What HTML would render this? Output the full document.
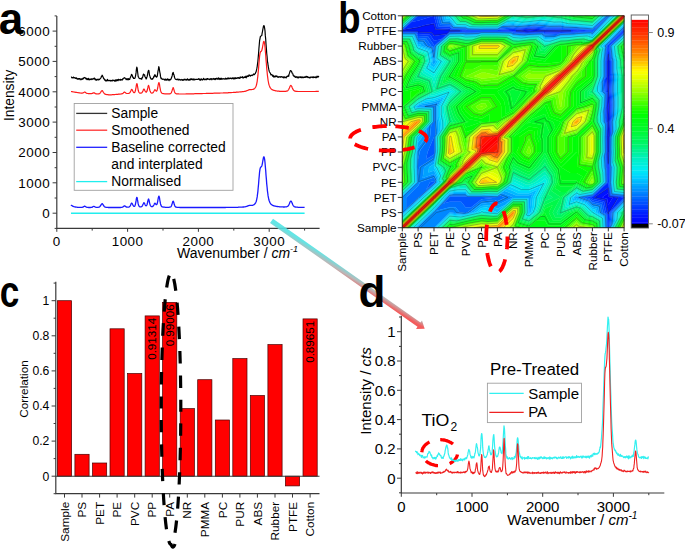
<!DOCTYPE html><html><head><meta charset="utf-8"><style>html,body{margin:0;padding:0;background:#fff;width:685px;height:550px;overflow:hidden}svg{display:block}text{font-family:"Liberation Sans",sans-serif;fill:#000}</style></head><body>
<svg width="685" height="550" viewBox="0 0 685 550">
<rect width="685" height="550" fill="#fff"/>
<g stroke="#3a3a3a" stroke-width="1.2" fill="none">
<path d="M56.8,15.9V228.4H319.6"/>
<path stroke-width="1" d="M52.6,213.2H56.8M52.6,182.8H56.8M52.6,152.5H56.8M52.6,122.1H56.8M52.6,91.8H56.8M52.6,61.4H56.8M52.6,31.1H56.8M54.6,228.4H56.8M54.6,198.0H56.8M54.6,167.7H56.8M54.6,137.3H56.8M54.6,107.0H56.8M54.6,76.6H56.8M54.6,46.3H56.8M54.6,15.9H56.8M56.8,228.4V231.8M127.6,228.4V231.8M198.4,228.4V231.8M269.2,228.4V231.8M92.2,228.4V230.6M163.0,228.4V230.6M233.8,228.4V230.6M304.6,228.4V230.6"/>
</g>
<g font-size="13.4" letter-spacing="0.5" text-anchor="end">
<text x="50.1" y="218.0">0</text>
<text x="50.1" y="187.7">1000</text>
<text x="50.1" y="157.3">2000</text>
<text x="50.1" y="126.9">3000</text>
<text x="50.1" y="96.6">4000</text>
<text x="50.1" y="66.2">5000</text>
<text x="50.1" y="35.9">6000</text>
</g><g font-size="13.4" letter-spacing="0.5" text-anchor="middle">
<text x="56.8" y="246.4">0</text>
<text x="127.6" y="246.4">1000</text>
<text x="198.4" y="246.4">2000</text>
<text x="269.2" y="246.4">3000</text>
</g>
<text x="177" y="257.7" font-size="14">Wavenumber / <tspan font-style="italic">cm</tspan><tspan font-size="9" dy="-5.5" font-style="italic">-1</tspan></text>
<text transform="translate(13.9,95.4) rotate(-90)" font-size="13.8" text-anchor="middle">Intensity</text>
<path fill="none" stroke="#000" stroke-width="1.2" stroke-linejoin="round" d="M71.0,77.2L71.3,77.1 71.7,77.4 72.0,77.8 72.4,77.6 72.7,77.9 73.1,77.5 73.4,77.1 73.8,77.9 74.1,78.0 74.5,77.6 74.9,77.7 75.2,77.9 75.6,78.4 75.9,78.1 76.3,77.8 76.6,78.7 77.0,78.4 77.3,79.1 77.7,78.9 78.0,79.2 78.4,78.6 78.7,79.1 79.1,78.5 79.5,78.6 79.8,78.8 80.2,79.8 80.5,79.0 80.9,78.9 81.2,78.8 81.6,79.6 81.9,79.1 82.3,79.3 82.6,79.1 83.0,78.2 83.3,78.8 83.7,78.2 84.1,77.5 84.4,77.8 84.8,77.6 85.1,77.7 85.5,78.0 85.8,78.9 86.2,78.7 86.5,78.3 86.9,79.7 87.2,78.8 87.6,79.2 88.0,79.5 88.3,78.4 88.7,79.0 89.0,79.9 89.4,79.3 89.7,79.1 90.1,79.5 90.4,79.1 90.8,79.4 91.1,79.1 91.5,78.8 91.8,79.6 92.2,79.1 92.6,79.2 92.9,78.7 93.3,79.0 93.6,78.6 94.0,78.4 94.3,78.1 94.7,78.3 95.0,79.6 95.4,79.7 95.7,79.2 96.1,80.4 96.4,79.8 96.8,79.7 97.2,79.2 97.5,79.4 97.9,79.9 98.2,79.9 98.6,79.8 98.9,79.0 99.3,79.7 99.6,79.4 100.0,78.9 100.3,78.6 100.7,78.1 101.0,77.7 101.4,76.5 101.8,76.1 102.1,75.2 102.5,75.7 102.8,76.6 103.2,77.1 103.5,78.3 103.9,78.4 104.2,79.3 104.6,79.4 104.9,80.4 105.3,79.9 105.7,80.8 106.0,81.1 106.4,80.4 106.7,80.7 107.1,80.3 107.4,79.4 107.8,80.8 108.1,80.7 108.5,80.4 108.8,80.3 109.2,80.6 109.5,80.7 109.9,80.3 110.3,80.4 110.6,81.0 111.0,80.6 111.3,80.5 111.7,80.9 112.0,80.4 112.4,80.8 112.7,80.0 113.1,80.3 113.4,80.3 113.8,80.6 114.1,80.4 114.5,81.1 114.9,80.7 115.2,80.1 115.6,81.1 115.9,79.8 116.3,80.9 116.6,79.8 117.0,80.5 117.3,79.7 117.7,80.0 118.0,80.7 118.4,79.4 118.8,79.3 119.1,79.9 119.5,80.0 119.8,79.9 120.2,80.2 120.5,79.3 120.9,80.0 121.2,79.7 121.6,80.0 121.9,79.8 122.3,80.0 122.6,78.8 123.0,79.1 123.4,78.3 123.7,78.2 124.1,78.1 124.4,77.7 124.8,77.9 125.1,78.0 125.5,78.6 125.8,78.9 126.2,79.6 126.5,79.5 126.9,78.5 127.2,79.6 127.6,79.7 128.0,79.1 128.3,78.6 128.7,79.8 129.0,79.2 129.4,79.2 129.7,79.4 130.1,77.9 130.4,77.5 130.8,76.5 131.1,75.7 131.5,74.4 131.8,74.7 132.2,75.2 132.6,76.6 132.9,77.7 133.3,77.3 133.6,78.5 134.0,78.3 134.3,78.5 134.7,78.4 135.0,78.0 135.4,76.5 135.7,75.1 136.1,72.4 136.4,69.4 136.8,67.1 137.2,68.2 137.5,71.0 137.9,74.3 138.2,76.8 138.6,77.1 138.9,77.8 139.3,78.6 139.6,78.5 140.0,78.5 140.3,78.5 140.7,78.5 141.1,79.1 141.4,78.2 141.8,79.2 142.1,77.9 142.5,77.5 142.8,76.5 143.2,74.9 143.5,74.0 143.9,74.5 144.2,75.0 144.6,74.8 144.9,76.7 145.3,77.2 145.7,77.5 146.0,78.8 146.4,78.9 146.7,77.5 147.1,76.7 147.4,75.3 147.8,73.2 148.1,71.4 148.5,70.4 148.8,70.4 149.2,72.7 149.5,75.3 149.9,76.1 150.3,77.6 150.6,78.1 151.0,79.0 151.3,79.0 151.7,79.3 152.0,79.2 152.4,78.7 152.7,79.0 153.1,78.3 153.4,77.8 153.8,76.4 154.2,76.9 154.5,75.0 154.9,74.8 155.2,75.0 155.6,76.3 155.9,76.7 156.3,76.7 156.6,77.2 157.0,76.7 157.3,75.8 157.7,73.2 158.0,71.1 158.4,69.2 158.8,66.7 159.1,67.5 159.5,70.3 159.8,72.1 160.2,73.9 160.5,76.4 160.9,78.1 161.2,78.7 161.6,78.3 161.9,78.9 162.3,79.1 162.6,79.3 163.0,79.3 163.4,79.1 163.7,79.2 164.1,79.4 164.4,80.0 164.8,79.3 165.1,79.9 165.5,79.1 165.8,80.2 166.2,79.7 166.5,79.6 166.9,80.2 167.2,78.9 167.6,79.0 168.0,79.8 168.3,79.3 168.7,79.5 169.0,80.7 169.4,79.5 169.7,79.6 170.1,79.4 170.4,79.8 170.8,79.3 171.1,78.9 171.5,77.7 171.8,77.1 172.2,75.7 172.6,73.3 172.9,72.8 173.3,72.5 173.6,74.4 174.0,74.7 174.3,76.5 174.7,77.7 175.0,78.5 175.4,79.1 175.7,79.2 176.1,79.5 176.5,79.6 176.8,79.5 177.2,79.0 177.5,79.4 177.9,79.7 178.2,79.9 178.6,80.0 178.9,79.0 179.3,79.5 179.6,79.7 180.0,79.9 180.3,80.2 180.7,79.7 181.1,79.4 181.4,79.9 181.8,79.8 182.1,79.8 182.5,79.7 182.8,80.4 183.2,79.8 183.5,80.1 183.9,79.3 184.2,80.0 184.6,79.5 184.9,79.1 185.3,79.8 185.7,79.9 186.0,79.6 186.4,79.7 186.7,80.1 187.1,79.5 187.4,78.8 187.8,79.8 188.1,79.7 188.5,80.1 188.8,79.5 189.2,80.1 189.6,80.1 189.9,79.1 190.3,80.0 190.6,79.1 191.0,78.9 191.3,79.5 191.7,79.3 192.0,78.7 192.4,79.6 192.7,79.8 193.1,80.1 193.4,79.5 193.8,78.9 194.2,79.1 194.5,79.9 194.9,79.8 195.2,79.7 195.6,79.3 195.9,79.5 196.3,79.3 196.6,79.3 197.0,79.5 197.3,79.4 197.7,79.3 198.0,79.4 198.4,79.2 198.8,78.6 199.1,79.1 199.5,79.3 199.8,80.1 200.2,79.2 200.5,80.2 200.9,79.9 201.2,78.9 201.6,79.0 201.9,79.4 202.3,80.0 202.6,79.4 203.0,79.6 203.4,79.0 203.7,78.3 204.1,79.1 204.4,79.6 204.8,79.7 205.1,79.2 205.5,79.3 205.8,79.7 206.2,79.1 206.5,79.7 206.9,78.7 207.2,78.7 207.6,78.7 208.0,79.3 208.3,78.9 208.7,79.2 209.0,79.3 209.4,79.2 209.7,79.6 210.1,79.7 210.4,78.7 210.8,79.1 211.1,79.0 211.5,78.6 211.9,79.8 212.2,79.3 212.6,78.9 212.9,78.8 213.3,79.1 213.6,78.5 214.0,78.9 214.3,79.5 214.7,79.3 215.0,78.6 215.4,78.7 215.7,79.7 216.1,78.3 216.5,78.6 216.8,78.3 217.2,79.0 217.5,79.0 217.9,79.3 218.2,77.8 218.6,78.9 218.9,78.1 219.3,79.1 219.6,78.7 220.0,79.5 220.3,78.9 220.7,78.3 221.1,79.3 221.4,78.3 221.8,78.6 222.1,79.2 222.5,78.9 222.8,78.9 223.2,78.7 223.5,78.9 223.9,79.0 224.2,78.8 224.6,79.1 224.9,79.2 225.3,78.6 225.7,78.2 226.0,79.2 226.4,78.6 226.7,78.8 227.1,79.0 227.4,78.2 227.8,78.7 228.1,77.9 228.5,78.8 228.8,78.3 229.2,78.5 229.6,78.7 229.9,78.1 230.3,78.4 230.6,78.1 231.0,78.3 231.3,78.8 231.7,78.3 232.0,78.2 232.4,77.8 232.7,78.6 233.1,78.2 233.4,78.9 233.8,77.9 234.2,78.6 234.5,78.8 234.9,78.1 235.2,77.6 235.6,78.7 235.9,78.4 236.3,78.3 236.6,78.4 237.0,77.7 237.3,78.2 237.7,78.2 238.0,77.6 238.4,78.1 238.8,77.6 239.1,78.1 239.5,78.2 239.8,78.4 240.2,76.8 240.5,77.7 240.9,77.5 241.2,77.5 241.6,77.4 241.9,77.4 242.3,76.6 242.6,77.8 243.0,78.0 243.4,77.7 243.7,77.8 244.1,76.9 244.4,76.8 244.8,77.4 245.1,77.5 245.5,77.0 245.8,76.2 246.2,77.8 246.5,76.3 246.9,76.8 247.3,75.8 247.6,76.5 248.0,76.0 248.3,76.4 248.7,76.0 249.0,74.9 249.4,75.0 249.7,75.5 250.1,75.7 250.4,76.1 250.8,75.4 251.1,75.3 251.5,75.3 251.9,75.2 252.2,75.6 252.6,75.1 252.9,75.0 253.3,74.4 253.6,74.0 254.0,74.6 254.3,74.7 254.7,74.0 255.0,73.9 255.4,73.4 255.7,72.4 256.1,71.9 256.5,70.0 256.8,68.7 257.2,66.5 257.5,64.1 257.9,61.1 258.2,57.5 258.6,53.1 258.9,48.8 259.3,44.3 259.6,40.7 260.0,38.6 260.4,36.4 260.7,36.4 261.1,35.9 261.4,35.5 261.8,35.5 262.1,33.4 262.5,31.5 262.8,29.6 263.2,27.6 263.5,26.0 263.9,25.6 264.2,25.9 264.6,28.0 265.0,30.8 265.3,35.4 265.7,39.3 266.0,44.1 266.4,48.8 266.7,53.2 267.1,56.7 267.4,61.1 267.8,63.1 268.1,65.7 268.5,67.8 268.8,69.4 269.2,71.2 269.6,72.0 269.9,72.5 270.3,73.2 270.6,73.8 271.0,75.0 271.3,74.5 271.7,74.5 272.0,74.8 272.4,75.3 272.7,76.3 273.1,75.3 273.4,75.9 273.8,77.1 274.2,76.0 274.5,76.9 274.9,76.9 275.2,76.7 275.6,75.9 275.9,76.7 276.3,76.5 276.6,75.9 277.0,76.0 277.3,76.8 277.7,76.9 278.1,77.4 278.4,77.2 278.8,76.7 279.1,76.8 279.5,76.9 279.8,76.6 280.2,77.3 280.5,77.0 280.9,76.7 281.2,76.8 281.6,76.6 281.9,76.9 282.3,77.2 282.7,76.9 283.0,77.5 283.4,77.8 283.7,76.8 284.1,77.1 284.4,76.9 284.8,77.8 285.1,77.2 285.5,77.3 285.8,77.3 286.2,77.9 286.5,77.0 286.9,76.4 287.3,76.4 287.6,76.6 288.0,76.1 288.3,75.3 288.7,76.3 289.0,74.5 289.4,73.4 289.7,72.4 290.1,71.1 290.4,70.7 290.8,70.7 291.1,70.9 291.5,71.2 291.9,72.6 292.2,73.3 292.6,73.7 292.9,74.0 293.3,75.6 293.6,76.0 294.0,76.2 294.3,76.0 294.7,76.8 295.0,76.2 295.4,77.4 295.8,77.1 296.1,77.1 296.5,76.8 296.8,76.7 297.2,77.8 297.5,77.6 297.9,77.0 298.2,77.5 298.6,77.9 298.9,76.8 299.3,77.0 299.6,77.0 300.0,77.5 300.4,76.8 300.7,77.4 301.1,76.8 301.4,77.7 301.8,77.6 302.1,77.2 302.5,77.6 302.8,77.0 303.2,77.2 303.5,77.7 303.9,77.2 304.2,77.4 304.6,76.9 305.0,77.5 305.3,77.5 305.7,76.8 306.0,76.3 306.4,76.4 306.7,77.2 307.1,77.2 307.4,76.6 307.8,77.3 308.1,77.7 308.5,77.2 308.8,77.1 309.2,77.6 309.6,77.9 309.9,77.9 310.3,77.0 310.6,77.6 311.0,77.3 311.3,77.1 311.7,77.0 312.0,77.4 312.4,77.0 312.7,77.6 313.1,77.4 313.5,77.6 313.8,76.7 314.2,77.2 314.5,77.5 314.9,77.3 315.2,77.3 315.6,76.9 315.9,77.9 316.3,77.6 316.6,77.3 317.0,76.1 317.3,76.8 317.7,77.2 318.1,76.9 318.4,76.3 318.8,77.2"/>
<path fill="none" stroke="#ff1a1a" stroke-width="1.2" stroke-linejoin="round" d="M71.0,91.5L71.3,91.5 71.7,91.6 72.0,91.7 72.4,91.7 72.7,91.8 73.1,91.8 73.4,91.9 73.8,92.0 74.1,92.0 74.5,92.1 74.9,92.1 75.2,92.2 75.6,92.3 75.9,92.3 76.3,92.4 76.6,92.4 77.0,92.5 77.3,92.5 77.7,92.6 78.0,92.7 78.4,92.7 78.7,92.8 79.1,92.8 79.5,92.9 79.8,92.9 80.2,93.0 80.5,93.0 80.9,93.1 81.2,93.1 81.6,93.2 81.9,93.2 82.3,93.1 82.6,93.0 83.0,92.9 83.3,92.7 83.7,92.5 84.1,92.3 84.4,92.1 84.8,92.0 85.1,92.2 85.5,92.4 85.8,92.7 86.2,93.0 86.5,93.2 86.9,93.3 87.2,93.4 87.6,93.5 88.0,93.5 88.3,93.6 88.7,93.6 89.0,93.6 89.4,93.6 89.7,93.6 90.1,93.7 90.4,93.7 90.8,93.7 91.1,93.7 91.5,93.6 91.8,93.5 92.2,93.4 92.6,93.3 92.9,93.1 93.3,92.9 93.6,92.8 94.0,92.8 94.3,92.9 94.7,93.1 95.0,93.4 95.4,93.6 95.7,93.7 96.1,93.8 96.4,93.9 96.8,93.9 97.2,93.9 97.5,94.0 97.9,94.0 98.2,93.9 98.6,93.9 98.9,93.8 99.3,93.7 99.6,93.5 100.0,93.2 100.3,92.8 100.7,92.3 101.0,91.7 101.4,91.2 101.8,90.8 102.1,90.6 102.5,90.8 102.8,91.3 103.2,91.9 103.5,92.5 103.9,93.0 104.2,93.5 104.6,93.8 104.9,94.1 105.3,94.2 105.7,94.4 106.0,94.4 106.4,94.5 106.7,94.6 107.1,94.6 107.4,94.7 107.8,94.7 108.1,94.7 108.5,94.8 108.8,94.8 109.2,94.8 109.5,94.8 109.9,94.9 110.3,94.8 110.6,94.8 111.0,94.8 111.3,94.8 111.7,94.8 112.0,94.7 112.4,94.7 112.7,94.7 113.1,94.7 113.4,94.6 113.8,94.6 114.1,94.6 114.5,94.6 114.9,94.5 115.2,94.5 115.6,94.5 115.9,94.4 116.3,94.4 116.6,94.4 117.0,94.4 117.3,94.3 117.7,94.3 118.0,94.3 118.4,94.2 118.8,94.2 119.1,94.2 119.5,94.1 119.8,94.1 120.2,94.1 120.5,94.0 120.9,94.0 121.2,93.9 121.6,93.9 121.9,93.8 122.3,93.7 122.6,93.5 123.0,93.3 123.4,93.0 123.7,92.6 124.1,92.3 124.4,92.1 124.8,92.2 125.1,92.4 125.5,92.7 125.8,93.0 126.2,93.3 126.5,93.4 126.9,93.5 127.2,93.5 127.6,93.5 128.0,93.5 128.3,93.5 128.7,93.4 129.0,93.3 129.4,93.1 129.7,92.8 130.1,92.4 130.4,91.7 130.8,90.9 131.1,90.1 131.5,89.5 131.8,89.4 132.2,89.9 132.6,90.6 132.9,91.4 133.3,92.0 133.6,92.4 134.0,92.6 134.3,92.6 134.7,92.4 135.0,91.8 135.4,90.8 135.7,89.2 136.1,87.1 136.4,84.9 136.8,83.6 137.2,84.2 137.5,86.2 137.9,88.4 138.2,90.3 138.6,91.5 138.9,92.3 139.3,92.7 139.6,92.9 140.0,93.1 140.3,93.1 140.7,93.1 141.1,93.1 141.4,93.0 141.8,92.8 142.1,92.4 142.5,91.9 142.8,91.2 143.2,90.3 143.5,89.5 143.9,89.0 144.2,89.2 144.6,89.9 144.9,90.7 145.3,91.4 145.7,91.9 146.0,92.2 146.4,92.1 146.7,91.7 147.1,90.8 147.4,89.5 147.8,87.9 148.1,86.3 148.5,85.4 148.8,85.8 149.2,87.3 149.5,89.0 149.9,90.5 150.3,91.6 150.6,92.3 151.0,92.7 151.3,93.0 151.7,93.1 152.0,93.1 152.4,93.0 152.7,92.9 153.1,92.6 153.4,92.1 153.8,91.5 154.2,90.8 154.5,90.1 154.9,89.7 155.2,89.8 155.6,90.2 155.9,90.8 156.3,91.2 156.6,91.2 157.0,90.7 157.3,89.7 157.7,88.0 158.0,86.0 158.4,83.9 158.8,82.6 159.1,82.8 159.5,84.4 159.8,86.6 160.2,88.7 160.5,90.4 160.9,91.6 161.2,92.4 161.6,92.9 161.9,93.2 162.3,93.4 162.6,93.5 163.0,93.6 163.4,93.6 163.7,93.7 164.1,93.7 164.4,93.8 164.8,93.8 165.1,93.8 165.5,93.9 165.8,93.9 166.2,93.9 166.5,93.9 166.9,93.9 167.2,93.9 167.6,93.9 168.0,93.9 168.3,93.9 168.7,93.9 169.0,93.9 169.4,93.8 169.7,93.8 170.1,93.7 170.4,93.6 170.8,93.4 171.1,93.0 171.5,92.4 171.8,91.4 172.2,90.2 172.6,88.9 172.9,87.8 173.3,87.7 173.6,88.6 174.0,89.9 174.3,91.2 174.7,92.2 175.0,92.9 175.4,93.3 175.7,93.5 176.1,93.7 176.5,93.8 176.8,93.8 177.2,93.9 177.5,93.9 177.9,93.9 178.2,93.9 178.6,93.9 178.9,94.0 179.3,94.0 179.6,94.0 180.0,94.0 180.3,94.0 180.7,94.0 181.1,94.0 181.4,94.0 181.8,94.0 182.1,94.0 182.5,94.0 182.8,94.0 183.2,94.0 183.5,94.0 183.9,94.0 184.2,94.0 184.6,94.0 184.9,94.0 185.3,94.0 185.7,94.0 186.0,93.9 186.4,93.9 186.7,93.9 187.1,93.9 187.4,93.9 187.8,93.9 188.1,93.9 188.5,93.9 188.8,93.9 189.2,93.9 189.6,93.9 189.9,93.9 190.3,93.9 190.6,93.8 191.0,93.8 191.3,93.8 191.7,93.8 192.0,93.8 192.4,93.8 192.7,93.8 193.1,93.8 193.4,93.8 193.8,93.8 194.2,93.8 194.5,93.7 194.9,93.7 195.2,93.7 195.6,93.7 195.9,93.7 196.3,93.7 196.6,93.7 197.0,93.7 197.3,93.7 197.7,93.7 198.0,93.7 198.4,93.7 198.8,93.6 199.1,93.6 199.5,93.6 199.8,93.6 200.2,93.6 200.5,93.6 200.9,93.6 201.2,93.6 201.6,93.6 201.9,93.6 202.3,93.6 202.6,93.5 203.0,93.5 203.4,93.5 203.7,93.5 204.1,93.5 204.4,93.5 204.8,93.5 205.1,93.5 205.5,93.5 205.8,93.5 206.2,93.4 206.5,93.4 206.9,93.4 207.2,93.4 207.6,93.4 208.0,93.4 208.3,93.4 208.7,93.4 209.0,93.4 209.4,93.4 209.7,93.4 210.1,93.3 210.4,93.3 210.8,93.3 211.1,93.3 211.5,93.3 211.9,93.3 212.2,93.3 212.6,93.3 212.9,93.3 213.3,93.3 213.6,93.2 214.0,93.2 214.3,93.2 214.7,93.2 215.0,93.2 215.4,93.2 215.7,93.2 216.1,93.2 216.5,93.2 216.8,93.2 217.2,93.1 217.5,93.1 217.9,93.1 218.2,93.1 218.6,93.1 218.9,93.1 219.3,93.1 219.6,93.1 220.0,93.1 220.3,93.0 220.7,93.0 221.1,93.0 221.4,93.0 221.8,93.0 222.1,93.0 222.5,93.0 222.8,93.0 223.2,93.0 223.5,92.9 223.9,92.9 224.2,92.9 224.6,92.9 224.9,92.9 225.3,92.9 225.7,92.9 226.0,92.9 226.4,92.9 226.7,92.8 227.1,92.8 227.4,92.8 227.8,92.8 228.1,92.8 228.5,92.7 228.8,92.7 229.2,92.7 229.6,92.7 229.9,92.7 230.3,92.6 230.6,92.6 231.0,92.6 231.3,92.6 231.7,92.5 232.0,92.5 232.4,92.5 232.7,92.5 233.1,92.5 233.4,92.4 233.8,92.4 234.2,92.4 234.5,92.4 234.9,92.3 235.2,92.3 235.6,92.3 235.9,92.3 236.3,92.2 236.6,92.2 237.0,92.2 237.3,92.1 237.7,92.1 238.0,92.1 238.4,92.1 238.8,92.0 239.1,92.0 239.5,92.0 239.8,91.9 240.2,91.9 240.5,91.9 240.9,91.8 241.2,91.8 241.6,91.8 241.9,91.7 242.3,91.7 242.6,91.7 243.0,91.6 243.4,91.6 243.7,91.5 244.1,91.5 244.4,91.4 244.8,91.3 245.1,91.3 245.5,91.2 245.8,91.1 246.2,91.0 246.5,90.8 246.9,90.7 247.3,90.5 247.6,90.4 248.0,90.2 248.3,90.1 248.7,89.9 249.0,89.8 249.4,89.7 249.7,89.7 250.1,89.6 250.4,89.6 250.8,89.6 251.1,89.6 251.5,89.6 251.9,89.5 252.2,89.5 252.6,89.5 252.9,89.4 253.3,89.3 253.6,89.1 254.0,88.9 254.3,88.7 254.7,88.4 255.0,88.0 255.4,87.5 255.7,86.9 256.1,86.0 256.5,84.8 256.8,83.3 257.2,81.3 257.5,78.7 257.9,75.7 258.2,72.1 258.6,68.1 258.9,63.9 259.3,59.8 259.6,56.2 260.0,53.6 260.4,52.2 260.7,51.6 261.1,51.4 261.4,51.1 261.8,50.4 262.1,49.2 262.5,47.5 262.8,45.5 263.2,43.5 263.5,41.9 263.9,41.3 264.2,41.8 264.6,43.7 265.0,46.8 265.3,50.7 265.7,55.0 266.0,59.6 266.4,64.0 266.7,68.1 267.1,71.9 267.4,75.2 267.8,78.1 268.1,80.5 268.5,82.5 268.8,84.1 269.2,85.4 269.6,86.4 269.9,87.2 270.3,87.8 270.6,88.3 271.0,88.7 271.3,89.1 271.7,89.3 272.0,89.6 272.4,89.8 272.7,89.9 273.1,90.1 273.4,90.2 273.8,90.3 274.2,90.4 274.5,90.5 274.9,90.6 275.2,90.7 275.6,90.8 275.9,90.8 276.3,90.9 276.6,91.0 277.0,91.0 277.3,91.1 277.7,91.1 278.1,91.1 278.4,91.2 278.8,91.2 279.1,91.2 279.5,91.3 279.8,91.3 280.2,91.3 280.5,91.3 280.9,91.3 281.2,91.3 281.6,91.4 281.9,91.4 282.3,91.4 282.7,91.4 283.0,91.4 283.4,91.4 283.7,91.4 284.1,91.4 284.4,91.4 284.8,91.3 285.1,91.3 285.5,91.3 285.8,91.3 286.2,91.2 286.5,91.2 286.9,91.1 287.3,90.9 287.6,90.7 288.0,90.4 288.3,90.0 288.7,89.5 289.0,88.8 289.4,88.0 289.7,87.2 290.1,86.3 290.4,85.7 290.8,85.4 291.1,85.5 291.5,86.0 291.9,86.8 292.2,87.7 292.6,88.5 292.9,89.2 293.3,89.8 293.6,90.3 294.0,90.6 294.3,90.9 294.7,91.0 295.0,91.2 295.4,91.2 295.8,91.3 296.1,91.3 296.5,91.4 296.8,91.4 297.2,91.4 297.5,91.5 297.9,91.5 298.2,91.5 298.6,91.5 298.9,91.5 299.3,91.5 299.6,91.5 300.0,91.5 300.4,91.5 300.7,91.5 301.1,91.5 301.4,91.5 301.8,91.5 302.1,91.5 302.5,91.5 302.8,91.5 303.2,91.5 303.5,91.5 303.9,91.5 304.2,91.5 304.6,91.5 305.0,91.5 305.3,91.5 305.7,91.5 306.0,91.5 306.4,91.5 306.7,91.5 307.1,91.5 307.4,91.5 307.8,91.5 308.1,91.5 308.5,91.5 308.8,91.5 309.2,91.5 309.6,91.5 309.9,91.5 310.3,91.5 310.6,91.5 311.0,91.5 311.3,91.5 311.7,91.5 312.0,91.5 312.4,91.5 312.7,91.5 313.1,91.5 313.5,91.5 313.8,91.5 314.2,91.5 314.5,91.5 314.9,91.5 315.2,91.5 315.6,91.5 315.9,91.4 316.3,91.4 316.6,91.4 317.0,91.4 317.3,91.4 317.7,91.4 318.1,91.4 318.4,91.4 318.8,91.4"/>
<path fill="none" stroke="#1a1aff" stroke-width="1.3" stroke-linejoin="round" d="M71.0,204.9L71.3,205.2 71.7,205.5 72.0,205.7 72.4,205.9 72.7,206.1 73.1,206.3 73.4,206.4 73.8,206.6 74.1,206.7 74.5,206.8 74.9,206.9 75.2,207.0 75.6,207.0 75.9,207.1 76.3,207.2 76.6,207.2 77.0,207.2 77.3,207.3 77.7,207.3 78.0,207.3 78.4,207.4 78.7,207.4 79.1,207.4 79.5,207.4 79.8,207.4 80.2,207.4 80.5,207.4 80.9,207.4 81.2,207.4 81.6,207.4 81.9,207.4 82.3,207.3 82.6,207.2 83.0,207.1 83.3,206.9 83.7,206.6 84.1,206.4 84.4,206.2 84.8,206.1 85.1,206.3 85.5,206.5 85.8,206.8 86.2,207.0 86.5,207.2 86.9,207.3 87.2,207.4 87.6,207.4 88.0,207.4 88.3,207.5 88.7,207.5 89.0,207.5 89.4,207.5 89.7,207.5 90.1,207.5 90.4,207.5 90.8,207.4 91.1,207.4 91.5,207.3 91.8,207.3 92.2,207.1 92.6,207.0 92.9,206.7 93.3,206.5 93.6,206.4 94.0,206.4 94.3,206.5 94.7,206.7 95.0,206.9 95.4,207.1 95.7,207.2 96.1,207.3 96.4,207.3 96.8,207.3 97.2,207.3 97.5,207.3 97.9,207.3 98.2,207.3 98.6,207.2 98.9,207.1 99.3,207.0 99.6,206.7 100.0,206.4 100.3,206.0 100.7,205.5 101.0,204.9 101.4,204.3 101.8,203.9 102.1,203.7 102.5,203.9 102.8,204.3 103.2,204.9 103.5,205.5 103.9,206.0 104.2,206.4 104.6,206.8 104.9,207.0 105.3,207.1 105.7,207.2 106.0,207.3 106.4,207.4 106.7,207.4 107.1,207.4 107.4,207.4 107.8,207.4 108.1,207.5 108.5,207.5 108.8,207.5 109.2,207.5 109.5,207.5 109.9,207.5 110.3,207.5 110.6,207.5 111.0,207.5 111.3,207.5 111.7,207.5 112.0,207.5 112.4,207.5 112.7,207.5 113.1,207.5 113.4,207.5 113.8,207.5 114.1,207.5 114.5,207.5 114.9,207.5 115.2,207.5 115.6,207.5 115.9,207.5 116.3,207.5 116.6,207.5 117.0,207.5 117.3,207.5 117.7,207.5 118.0,207.5 118.4,207.5 118.8,207.5 119.1,207.5 119.5,207.5 119.8,207.5 120.2,207.5 120.5,207.5 120.9,207.4 121.2,207.4 121.6,207.4 121.9,207.3 122.3,207.2 122.6,207.1 123.0,206.9 123.4,206.6 123.7,206.3 124.1,206.0 124.4,205.8 124.8,205.9 125.1,206.1 125.5,206.4 125.8,206.7 126.2,206.9 126.5,207.1 126.9,207.2 127.2,207.2 127.6,207.2 128.0,207.2 128.3,207.2 128.7,207.1 129.0,207.0 129.4,206.8 129.7,206.5 130.1,206.1 130.4,205.4 130.8,204.6 131.1,203.8 131.5,203.2 131.8,203.1 132.2,203.6 132.6,204.3 132.9,205.1 133.3,205.7 133.6,206.1 134.0,206.3 134.3,206.3 134.7,206.1 135.0,205.5 135.4,204.5 135.7,202.9 136.1,200.7 136.4,198.6 136.8,197.3 137.2,197.9 137.5,199.9 137.9,202.1 138.2,203.9 138.6,205.2 138.9,206.0 139.3,206.4 139.6,206.6 140.0,206.8 140.3,206.8 140.7,206.8 141.1,206.8 141.4,206.7 141.8,206.5 142.1,206.1 142.5,205.6 142.8,204.8 143.2,204.0 143.5,203.1 143.9,202.7 144.2,202.9 144.6,203.5 144.9,204.3 145.3,205.1 145.7,205.6 146.0,205.8 146.4,205.7 146.7,205.3 147.1,204.5 147.4,203.2 147.8,201.5 148.1,199.9 148.5,199.0 148.8,199.4 149.2,200.9 149.5,202.6 149.9,204.1 150.3,205.2 150.6,205.9 151.0,206.3 151.3,206.5 151.7,206.6 152.0,206.7 152.4,206.6 152.7,206.4 153.1,206.2 153.4,205.7 153.8,205.1 154.2,204.3 154.5,203.6 154.9,203.2 155.2,203.3 155.6,203.8 155.9,204.3 156.3,204.7 156.6,204.7 157.0,204.2 157.3,203.2 157.7,201.6 158.0,199.5 158.4,197.4 158.8,196.1 159.1,196.3 159.5,197.9 159.8,200.1 160.2,202.2 160.5,203.9 160.9,205.1 161.2,205.9 161.6,206.4 161.9,206.6 162.3,206.8 162.6,206.9 163.0,207.0 163.4,207.1 163.7,207.1 164.1,207.2 164.4,207.2 164.8,207.2 165.1,207.3 165.5,207.3 165.8,207.3 166.2,207.3 166.5,207.3 166.9,207.3 167.2,207.3 167.6,207.3 168.0,207.3 168.3,207.3 168.7,207.3 169.0,207.3 169.4,207.2 169.7,207.2 170.1,207.1 170.4,207.0 170.8,206.8 171.1,206.4 171.5,205.8 171.8,204.8 172.2,203.6 172.6,202.3 172.9,201.3 173.3,201.2 173.6,202.0 174.0,203.3 174.3,204.6 174.7,205.6 175.0,206.3 175.4,206.7 175.7,207.0 176.1,207.1 176.5,207.2 176.8,207.3 177.2,207.3 177.5,207.3 177.9,207.4 178.2,207.4 178.6,207.4 178.9,207.4 179.3,207.4 179.6,207.5 180.0,207.5 180.3,207.5 180.7,207.5 181.1,207.5 181.4,207.5 181.8,207.5 182.1,207.5 182.5,207.5 182.8,207.5 183.2,207.5 183.5,207.5 183.9,207.5 184.2,207.5 184.6,207.5 184.9,207.5 185.3,207.5 185.7,207.5 186.0,207.5 186.4,207.5 186.7,207.5 187.1,207.5 187.4,207.5 187.8,207.5 188.1,207.5 188.5,207.5 188.8,207.5 189.2,207.5 189.6,207.5 189.9,207.5 190.3,207.5 190.6,207.5 191.0,207.5 191.3,207.5 191.7,207.5 192.0,207.5 192.4,207.5 192.7,207.5 193.1,207.5 193.4,207.5 193.8,207.5 194.2,207.5 194.5,207.5 194.9,207.5 195.2,207.5 195.6,207.5 195.9,207.5 196.3,207.5 196.6,207.5 197.0,207.5 197.3,207.5 197.7,207.5 198.0,207.5 198.4,207.5 198.8,207.5 199.1,207.5 199.5,207.5 199.8,207.5 200.2,207.5 200.5,207.5 200.9,207.5 201.2,207.5 201.6,207.5 201.9,207.5 202.3,207.5 202.6,207.5 203.0,207.5 203.4,207.5 203.7,207.5 204.1,207.5 204.4,207.5 204.8,207.5 205.1,207.5 205.5,207.5 205.8,207.5 206.2,207.5 206.5,207.5 206.9,207.5 207.2,207.5 207.6,207.5 208.0,207.5 208.3,207.5 208.7,207.5 209.0,207.5 209.4,207.5 209.7,207.5 210.1,207.5 210.4,207.5 210.8,207.5 211.1,207.5 211.5,207.5 211.9,207.5 212.2,207.5 212.6,207.5 212.9,207.5 213.3,207.5 213.6,207.5 214.0,207.5 214.3,207.5 214.7,207.5 215.0,207.5 215.4,207.5 215.7,207.5 216.1,207.5 216.5,207.5 216.8,207.5 217.2,207.5 217.5,207.5 217.9,207.5 218.2,207.5 218.6,207.5 218.9,207.5 219.3,207.5 219.6,207.5 220.0,207.5 220.3,207.5 220.7,207.5 221.1,207.5 221.4,207.5 221.8,207.5 222.1,207.5 222.5,207.5 222.8,207.5 223.2,207.5 223.5,207.5 223.9,207.5 224.2,207.5 224.6,207.5 224.9,207.5 225.3,207.5 225.7,207.5 226.0,207.4 226.4,207.4 226.7,207.4 227.1,207.4 227.4,207.4 227.8,207.4 228.1,207.4 228.5,207.4 228.8,207.4 229.2,207.4 229.6,207.4 229.9,207.4 230.3,207.4 230.6,207.4 231.0,207.4 231.3,207.4 231.7,207.4 232.0,207.4 232.4,207.4 232.7,207.4 233.1,207.4 233.4,207.4 233.8,207.4 234.2,207.3 234.5,207.3 234.9,207.3 235.2,207.3 235.6,207.3 235.9,207.3 236.3,207.3 236.6,207.3 237.0,207.3 237.3,207.3 237.7,207.3 238.0,207.3 238.4,207.2 238.8,207.2 239.1,207.2 239.5,207.2 239.8,207.2 240.2,207.2 240.5,207.2 240.9,207.1 241.2,207.1 241.6,207.1 241.9,207.1 242.3,207.1 242.6,207.0 243.0,207.0 243.4,207.0 243.7,207.0 244.1,206.9 244.4,206.9 244.8,206.8 245.1,206.8 245.5,206.7 245.8,206.6 246.2,206.5 246.5,206.4 246.9,206.3 247.3,206.2 247.6,206.0 248.0,205.9 248.3,205.7 248.7,205.6 249.0,205.5 249.4,205.4 249.7,205.4 250.1,205.4 250.4,205.4 250.8,205.4 251.1,205.4 251.5,205.4 251.9,205.4 252.2,205.3 252.6,205.3 252.9,205.2 253.3,205.0 253.6,204.9 254.0,204.7 254.3,204.4 254.7,204.1 255.0,203.8 255.4,203.2 255.7,202.6 256.1,201.7 256.5,200.5 256.8,198.9 257.2,196.9 257.5,194.4 257.9,191.3 258.2,187.8 258.6,183.7 258.9,179.5 259.3,175.4 259.6,171.8 260.0,169.2 260.4,167.7 260.7,167.1 261.1,166.9 261.4,166.7 261.8,166.0 262.1,164.8 262.5,163.0 262.8,161.0 263.2,159.0 263.5,157.4 263.9,156.8 264.2,157.3 264.6,159.2 265.0,162.3 265.3,166.1 265.7,170.5 266.0,175.0 266.4,179.4 266.7,183.6 267.1,187.3 267.4,190.6 267.8,193.5 268.1,195.9 268.5,197.9 268.8,199.5 269.2,200.8 269.6,201.8 269.9,202.6 270.3,203.2 270.6,203.7 271.0,204.1 271.3,204.5 271.7,204.7 272.0,205.0 272.4,205.2 272.7,205.4 273.1,205.5 273.4,205.6 273.8,205.8 274.2,205.9 274.5,206.0 274.9,206.1 275.2,206.2 275.6,206.2 275.9,206.3 276.3,206.4 276.6,206.4 277.0,206.5 277.3,206.5 277.7,206.6 278.1,206.6 278.4,206.7 278.8,206.7 279.1,206.7 279.5,206.8 279.8,206.8 280.2,206.8 280.5,206.8 280.9,206.9 281.2,206.9 281.6,206.9 281.9,206.9 282.3,206.9 282.7,206.9 283.0,206.9 283.4,207.0 283.7,207.0 284.1,207.0 284.4,207.0 284.8,206.9 285.1,206.9 285.5,206.9 285.8,206.9 286.2,206.8 286.5,206.8 286.9,206.7 287.3,206.5 287.6,206.3 288.0,206.1 288.3,205.7 288.7,205.1 289.0,204.5 289.4,203.7 289.7,202.8 290.1,202.0 290.4,201.4 290.8,201.1 291.1,201.2 291.5,201.7 291.9,202.5 292.2,203.4 292.6,204.2 292.9,205.0 293.3,205.6 293.6,206.0 294.0,206.4 294.3,206.6 294.7,206.8 295.0,206.9 295.4,207.0 295.8,207.1 296.1,207.1 296.5,207.2 296.8,207.2 297.2,207.2 297.5,207.2 297.9,207.3 298.2,207.3 298.6,207.3 298.9,207.3 299.3,207.3 299.6,207.3 300.0,207.4 300.4,207.4 300.7,207.4 301.1,207.4 301.4,207.4 301.8,207.4 302.1,207.4 302.5,207.4 302.8,207.4 303.2,207.4 303.5,207.4 303.9,207.4 304.2,207.4 304.6,207.4"/>
<path fill="none" stroke="#22eeee" stroke-width="1.4" d="M71.0,213.2H304.6"/>
<rect x="74.2" y="103.5" width="158.8" height="86.8" fill="#fff" stroke="#a0a0a0" stroke-width="0.9"/>
<path d="M76.2,113.4H107.2" stroke="#333" stroke-width="1.3"/>
<path d="M76.2,130.2H107.2" stroke="#ff3030" stroke-width="1.3"/>
<path d="M76.2,147.3H107.2" stroke="#2020ff" stroke-width="1.3"/>
<path d="M76.2,181.6H107.2" stroke="#20eeee" stroke-width="1.3"/>
<g font-size="13.8">
<text x="111.3" y="117.9">Sample</text>
<text x="111.3" y="134.8">Smoothened</text>
<text x="111.3" y="151.8">Baseline corrected</text>
<text x="111.3" y="168.8">and interplated</text>
<text x="111.3" y="186.0">Normalised</text>
</g>
<g>
<path fill-rule="evenodd" fill="#0004ff" stroke="#0004ff" stroke-width="0.3" d="M607.1,198.6 601.9,197.4 608.3,193.1 608.7,197.0 612.8,197.4 608.3,205.0 607.1,198.6ZM608.3,152.0 608.3,152.0 608.0,137.1 608.0,136.9 608.3,129.3 608.6,136.6 608.5,136.9 608.3,152.0 608.3,152.0 608.3,152.0 608.3,152.0ZM607.9,106.9 608.0,106.6 608.3,101.5 608.6,106.2 608.6,106.6 608.3,114.2 607.9,106.9ZM608.3,76.3 608.3,76.3 608.3,61.2 608.3,61.2 608.3,61.2 608.3,61.2 608.3,61.2 608.3,76.3 608.3,76.3 608.3,76.4 608.3,76.3ZM434.0,30.9 433.9,30.9 434.0,30.9 434.0,30.9 434.1,30.9 434.0,30.9 434.0,30.9ZM528.7,31.2 525.1,30.9 529.0,30.6 529.5,30.5 534.3,30.9 529.0,31.2 528.7,31.2Z"/><path fill-rule="evenodd" fill="#0013ff" stroke="#0013ff" stroke-width="0.3" d="M402.3,30.8 403.9,29.4 418.1,27.1 424.1,25.2 434.0,23.3 435.6,29.4 449.8,30.0 450.3,30.5 461.8,30.9 449.8,31.3 446.4,34.2 434.0,35.7 432.0,32.8 418.1,32.1 417.8,31.3 402.3,31.1 402.3,30.9 402.3,30.8ZM608.3,205.0 612.8,197.4 608.7,197.0 608.3,193.1 601.9,197.4 607.1,198.6 608.3,205.0ZM608.3,152.0 608.3,152.0 608.3,152.0 608.5,136.9 608.6,136.6 608.3,129.3 608.0,136.9 608.0,137.1 608.3,152.0 608.3,152.0 608.3,152.0ZM608.3,114.2 608.6,106.6 608.6,106.2 608.3,101.5 608.0,106.6 607.9,106.9 608.3,114.2ZM608.3,76.4 608.3,76.3 608.3,76.3 608.3,61.2 608.3,61.2 608.3,61.2 608.3,61.2 608.3,61.2 608.3,76.3 608.3,76.3 608.3,76.4ZM434.0,30.9 434.1,30.9 434.0,30.9 434.0,30.9 433.9,30.9 434.0,30.9 434.0,30.9ZM529.0,31.2 534.3,30.9 529.5,30.5 529.0,30.6 525.1,30.9 528.7,31.2 529.0,31.2ZM608.1,212.7 607.9,212.6 605.6,200.0 594.0,197.4 608.3,187.7 609.3,196.4 618.5,197.4 610.9,210.0 608.5,212.6 608.3,215.1 608.1,212.7ZM607.5,152.7 607.7,152.0 607.5,137.6 607.5,136.9 607.9,122.1 607.8,121.8 607.2,107.7 607.3,106.6 608.1,91.6 608.0,91.5 607.1,77.4 607.5,76.3 607.5,61.9 607.5,61.2 608.3,53.6 609.0,60.5 609.1,61.2 609.1,75.5 609.3,76.3 608.5,91.3 608.5,91.5 609.6,105.3 609.6,106.6 608.9,121.2 608.7,121.8 609.3,135.8 608.9,136.9 608.8,151.5 608.8,152.0 608.3,164.7 607.5,152.7ZM528.0,31.9 515.2,30.9 529.0,29.6 530.6,29.5 544.9,30.7 545.1,30.7 560.7,30.4 561.2,30.5 572.7,30.9 560.7,31.4 560.0,31.6 544.9,31.2 544.7,31.1 529.0,31.8 528.0,31.9Z"/><path fill-rule="evenodd" fill="#0026ff" stroke="#0026ff" stroke-width="0.3" d="M402.3,31.1 417.8,31.3 418.1,32.1 432.0,32.8 434.0,35.7 446.4,34.2 449.8,31.3 461.8,30.9 450.3,30.5 449.8,30.0 435.6,29.4 434.0,23.3 424.1,25.2 418.1,27.1 403.9,29.4 402.3,30.8 402.3,30.3 411.8,21.8 418.1,20.8 433.9,15.8 434.0,15.8 434.0,15.8 437.2,27.9 449.8,28.4 451.0,29.8 465.7,30.4 466.1,30.5 481.5,30.9 481.5,30.9 497.4,30.9 497.4,30.9 513.2,30.0 514.1,30.1 529.0,28.7 531.7,28.4 544.9,29.6 546.1,29.7 560.7,29.4 562.0,29.7 576.6,30.3 577.2,30.4 584.5,30.9 576.6,31.5 575.9,31.6 560.7,32.1 558.9,32.7 544.9,32.3 544.1,31.7 529.0,32.4 527.2,32.7 513.2,31.6 512.8,31.3 497.4,30.9 497.4,30.9 481.5,30.9 481.5,30.9 465.7,31.5 465.2,31.4 449.8,31.9 440.8,39.6 434.0,40.4 430.0,34.7 418.1,34.1 417.2,31.9 402.3,31.7 402.3,31.1ZM624.1,31.5 608.3,46.1 609.7,59.8 610.0,61.2 610.0,74.7 610.2,76.3 609.5,90.3 609.5,91.5 610.6,104.4 610.6,106.6 609.9,120.2 609.6,121.8 610.1,135.1 609.4,136.9 609.2,151.1 609.3,152.0 608.7,166.7 608.8,167.2 608.3,182.3 608.3,182.3 609.9,195.8 624.1,197.4 624.1,197.4 624.1,197.4 609.5,212.6 608.3,227.7 608.3,227.7 608.3,227.7 608.3,227.7 607.5,213.3 606.2,212.6 604.1,201.4 592.4,198.8 591.7,198.1 589.8,197.4 592.4,196.9 608.3,182.3 607.7,167.6 607.6,167.2 606.8,153.4 607.2,152.0 607.0,138.1 607.0,136.9 607.4,122.6 607.0,121.8 606.4,108.4 606.7,106.6 607.4,92.3 606.8,91.5 606.0,78.5 606.7,76.3 606.7,62.7 606.7,61.2 608.3,46.1 608.3,46.1 608.3,46.1 608.3,46.1 622.8,31.5 623.3,30.9 624.1,30.2 624.1,30.9 624.1,31.5ZM608.3,215.1 608.5,212.6 610.9,210.0 618.5,197.4 609.3,196.4 608.3,187.7 594.0,197.4 605.6,200.0 607.9,212.6 608.1,212.7 608.3,215.1ZM608.3,164.7 608.8,152.0 608.8,151.5 608.9,136.9 609.3,135.8 608.7,121.8 608.9,121.2 609.6,106.6 609.6,105.3 608.5,91.5 608.5,91.3 609.3,76.3 609.1,75.5 609.1,61.2 609.0,60.5 608.3,53.6 607.5,61.2 607.5,61.9 607.5,76.3 607.1,77.4 608.0,91.5 608.1,91.6 607.3,106.6 607.2,107.7 607.8,121.8 607.9,122.1 607.5,136.9 607.5,137.6 607.7,152.0 607.5,152.7 608.3,164.7ZM529.0,31.8 544.7,31.1 544.9,31.2 560.0,31.6 560.7,31.4 572.7,30.9 561.2,30.5 560.7,30.4 545.1,30.7 544.9,30.7 530.6,29.5 529.0,29.6 515.2,30.9 528.0,31.9 529.0,31.8Z"/><path fill-rule="evenodd" fill="#003dff" stroke="#003dff" stroke-width="0.3" d="M402.3,31.7 417.2,31.9 418.1,34.1 430.0,34.7 434.0,40.4 440.8,39.6 449.8,31.9 465.2,31.4 465.7,31.5 481.5,30.9 481.5,30.9 497.4,30.9 497.4,30.9 512.8,31.3 513.2,31.6 527.2,32.7 529.0,32.4 544.1,31.7 544.9,32.3 558.9,32.7 560.7,32.1 575.9,31.6 576.6,31.5 584.5,30.9 577.2,30.4 576.6,30.3 562.0,29.7 560.7,29.4 546.1,29.7 544.9,29.6 531.7,28.4 529.0,28.7 514.1,30.1 513.2,30.0 497.4,30.9 497.4,30.9 481.5,30.9 481.5,30.9 466.1,30.5 465.7,30.4 451.0,29.8 449.8,28.4 437.2,27.9 434.0,15.8 436.0,15.8 438.7,26.4 449.8,26.8 451.7,29.1 465.7,29.6 466.6,30.0 481.5,30.4 482.1,30.4 497.4,30.4 498.7,29.7 513.2,28.8 515.1,29.1 529.0,27.8 532.8,27.4 544.9,28.4 547.2,28.7 560.7,28.4 562.8,28.9 576.6,29.5 577.9,29.6 592.4,30.8 595.1,28.4 592.8,30.8 592.6,30.9 592.4,31.1 592.3,31.1 576.6,32.1 575.1,32.3 560.7,32.9 557.7,33.8 544.9,33.5 543.4,32.4 529.0,33.0 526.5,33.4 513.2,32.3 512.3,31.8 497.4,31.4 496.8,31.4 481.5,31.4 480.7,31.7 465.7,32.2 464.5,32.0 449.8,32.5 435.1,45.0 434.0,45.1 428.0,36.6 418.1,36.1 416.5,32.5 402.3,32.3 402.3,31.7ZM402.3,29.8 418.0,15.8 418.1,15.8 433.9,15.8 418.1,20.8 411.8,21.8 402.3,30.3 402.3,29.8ZM624.1,30.2 623.3,30.9 622.8,31.5 608.3,46.1 608.3,46.1 608.3,46.1 608.3,46.1 606.7,61.2 606.7,62.7 606.7,76.3 606.0,78.5 606.8,91.5 607.4,92.3 606.7,106.6 606.4,108.4 607.0,121.8 607.4,122.6 607.0,136.9 607.0,138.1 607.2,152.0 606.8,153.4 607.6,167.2 607.7,167.6 608.3,182.3 592.4,196.9 589.8,197.4 591.7,198.1 592.4,198.8 604.1,201.4 606.2,212.6 607.5,213.3 608.3,227.7 607.6,227.7 606.8,213.9 604.5,212.6 602.7,202.8 592.4,200.5 590.8,199.0 586.5,197.4 592.4,196.3 607.6,182.3 607.1,168.3 606.9,167.2 606.1,154.1 606.6,152.0 606.4,138.6 606.4,136.9 606.8,123.1 606.2,121.8 605.6,109.1 606.0,106.6 606.8,92.9 605.6,91.5 604.9,79.6 606.0,76.3 606.0,63.4 606.0,61.2 607.4,46.9 607.6,46.4 607.3,46.1 608.3,45.1 621.1,32.2 622.3,30.9 624.1,29.3 624.1,30.2ZM624.1,32.2 609.1,46.1 610.4,59.1 610.9,61.2 610.9,73.8 611.2,76.3 610.6,89.3 610.6,91.5 611.5,103.5 611.5,106.6 610.9,119.2 610.4,121.8 610.9,134.4 609.9,136.9 609.7,150.6 609.8,152.0 609.2,166.2 609.5,167.2 609.0,181.6 608.9,182.3 610.5,195.3 624.1,196.8 624.1,197.4 609.9,195.8 608.3,182.3 608.3,182.3 608.8,167.2 608.7,166.7 609.3,152.0 609.2,151.1 609.4,136.9 610.1,135.1 609.6,121.8 609.9,120.2 610.6,106.6 610.6,104.4 609.5,91.5 609.5,90.3 610.2,76.3 610.0,74.7 610.0,61.2 609.7,59.8 608.3,46.1 624.1,31.5 624.1,32.2ZM624.1,198.5 610.6,212.6 609.4,226.6 608.8,227.7 608.3,227.7 608.3,227.7 609.5,212.6 624.1,197.4 624.1,198.5Z"/><path fill-rule="evenodd" fill="#0055ff" stroke="#0055ff" stroke-width="0.3" d="M402.3,32.3 416.5,32.5 418.1,36.1 428.0,36.6 434.0,45.1 435.1,45.0 449.8,32.5 464.5,32.0 465.7,32.2 480.7,31.7 481.5,31.4 496.8,31.4 497.4,31.4 512.3,31.8 513.2,32.3 526.5,33.4 529.0,33.0 543.4,32.4 544.9,33.5 557.7,33.8 560.7,32.9 575.1,32.3 576.6,32.1 592.3,31.1 592.4,31.1 592.6,30.9 592.8,30.8 595.1,28.4 592.4,30.8 577.9,29.6 576.6,29.5 562.8,28.9 560.7,28.4 547.2,28.7 544.9,28.4 532.8,27.4 529.0,27.8 515.1,29.1 513.2,28.8 498.7,29.7 497.4,30.4 482.1,30.4 481.5,30.4 466.6,30.0 465.7,29.6 451.7,29.1 449.8,26.8 438.7,26.4 436.0,15.8 438.0,15.8 440.3,24.9 449.8,25.3 452.5,28.4 465.7,28.9 467.1,29.6 481.5,29.9 482.6,29.9 497.4,29.9 500.0,28.4 513.2,27.6 516.2,28.1 529.0,26.9 533.9,26.3 544.9,27.3 548.2,27.7 560.7,27.4 563.6,28.2 576.6,28.7 578.7,28.9 592.4,30.0 608.3,15.8 608.3,15.8 608.3,15.8 608.3,15.8 594.4,30.1 593.6,30.9 592.4,32.1 591.5,31.8 576.6,32.8 574.3,33.1 560.7,33.6 556.5,34.9 544.9,34.6 542.7,33.0 529.0,33.7 525.8,34.1 513.2,33.1 511.7,32.3 497.4,32.0 496.3,32.0 481.5,32.0 479.9,32.5 465.7,33.0 463.9,32.6 449.8,33.1 434.5,46.1 434.0,50.4 433.2,46.8 431.3,46.1 426.1,38.5 418.1,38.1 415.9,33.1 402.3,32.9 402.3,32.3ZM402.3,29.3 417.4,15.8 418.0,15.8 402.3,29.8 402.3,29.3ZM624.1,29.3 622.3,30.9 621.1,32.2 608.3,45.1 607.3,46.1 607.6,46.4 607.4,46.9 606.0,61.2 606.0,63.4 606.0,76.3 604.9,79.6 605.6,91.5 606.8,92.9 606.0,106.6 605.6,109.1 606.2,121.8 606.8,123.1 606.4,136.9 606.4,138.6 606.6,152.0 606.1,154.1 606.9,167.2 607.1,168.3 607.6,182.3 592.4,196.3 586.5,197.4 590.8,199.0 592.4,200.5 602.7,202.8 604.5,212.6 606.8,213.9 607.6,227.7 606.9,227.7 606.2,214.6 602.7,212.6 601.2,204.2 592.4,202.3 589.9,199.8 583.2,197.4 592.4,195.7 606.9,182.3 606.5,168.9 606.1,167.2 605.4,154.8 606.1,152.0 605.9,139.1 605.9,136.9 606.3,123.6 605.3,121.8 604.8,109.9 605.4,106.6 606.1,93.6 604.4,91.5 603.7,80.7 605.2,76.3 605.2,64.1 605.2,61.2 606.6,47.7 606.9,46.7 606.3,46.1 608.3,44.2 619.5,32.9 621.4,30.9 624.1,28.3 624.1,29.3ZM624.1,33.0 609.8,46.1 611.1,58.5 611.8,61.2 611.8,73.0 612.2,76.3 611.6,88.3 611.6,91.5 612.5,102.5 612.5,106.6 611.9,118.3 611.2,121.8 611.7,133.6 610.4,136.9 610.2,150.1 610.3,152.0 609.8,165.7 610.2,167.2 609.7,180.9 609.6,182.3 611.1,194.7 624.1,196.2 624.1,196.8 610.5,195.3 608.9,182.3 609.0,181.6 609.5,167.2 609.2,166.2 609.8,152.0 609.7,150.6 609.9,136.9 610.9,134.4 610.4,121.8 610.9,119.2 611.5,106.6 611.5,103.5 610.6,91.5 610.6,89.3 611.2,76.3 610.9,73.8 610.9,61.2 610.4,59.1 609.1,46.1 624.1,32.2 624.1,33.0ZM624.1,199.6 611.6,212.6 610.5,225.5 609.4,227.7 608.8,227.7 609.4,226.6 610.6,212.6 624.1,198.5 624.1,199.6ZM443.4,203.5 448.6,198.0 449.0,197.4 449.8,196.6 450.8,196.5 465.7,196.5 466.1,197.0 481.5,197.0 482.0,197.0 497.4,197.4 497.4,197.4 497.4,197.4 497.4,197.4 497.3,197.4 481.5,199.2 470.9,207.6 465.7,207.6 461.1,201.8 449.8,201.8 443.4,203.5ZM426.0,190.0 430.0,182.3 434.0,180.9 434.4,181.9 434.3,182.2 434.4,182.3 434.0,182.7 426.0,190.0ZM426.0,159.6 427.6,152.0 433.9,137.0 434.0,136.9 434.0,136.7 434.0,136.9 434.0,136.9 434.4,151.6 434.4,152.0 434.0,154.6 426.0,159.6Z"/><path fill-rule="evenodd" fill="#006eff" stroke="#006eff" stroke-width="0.3" d="M402.3,32.9 415.9,33.1 418.1,38.1 426.1,38.5 431.3,46.1 433.2,46.8 434.0,50.4 434.5,46.1 449.8,33.1 463.9,32.6 465.7,33.0 479.9,32.5 481.5,32.0 496.3,32.0 497.4,32.0 511.7,32.3 513.2,33.1 525.8,34.1 529.0,33.7 542.7,33.0 544.9,34.6 556.5,34.9 560.7,33.6 574.3,33.1 576.6,32.8 591.5,31.8 592.4,32.1 593.6,30.9 594.4,30.1 608.3,15.8 608.3,15.8 609.3,15.8 608.3,16.8 596.1,29.4 594.6,30.9 592.4,33.1 590.8,32.5 576.6,33.5 573.5,33.9 560.7,34.4 555.4,36.1 544.9,35.8 542.0,33.7 529.0,34.3 525.0,34.8 513.2,33.9 511.2,32.8 497.4,32.5 495.7,32.5 481.5,32.5 479.1,33.2 465.7,33.7 463.2,33.3 449.8,33.7 435.2,46.1 434.0,55.8 432.3,47.7 428.0,46.1 424.1,40.4 418.1,40.1 415.3,33.7 402.3,33.5 402.3,32.9ZM402.3,28.8 416.9,15.8 417.4,15.8 402.3,29.3 402.3,28.8ZM439.9,15.8 441.9,23.4 449.8,23.7 453.2,27.7 465.7,28.2 467.6,29.1 481.5,29.4 483.2,29.4 497.4,29.4 501.3,27.1 513.2,26.4 517.3,27.0 529.0,25.9 535.0,25.3 544.9,26.1 549.3,26.7 560.7,26.5 564.5,27.4 576.6,27.9 579.5,28.2 592.4,29.2 607.4,15.8 608.3,15.8 592.4,30.0 578.7,28.9 576.6,28.7 563.6,28.2 560.7,27.4 548.2,27.7 544.9,27.3 533.9,26.3 529.0,26.9 516.2,28.1 513.2,27.6 500.0,28.4 497.4,29.9 482.6,29.9 481.5,29.9 467.1,29.6 465.7,28.9 452.5,28.4 449.8,25.3 440.3,24.9 438.0,15.8 439.9,15.8ZM624.1,28.3 621.4,30.9 619.5,32.9 608.3,44.2 606.3,46.1 606.9,46.7 606.6,47.7 605.2,61.2 605.2,64.1 605.2,76.3 603.7,80.7 604.4,91.5 606.1,93.6 605.4,106.6 604.8,109.9 605.3,121.8 606.3,123.6 605.9,136.9 605.9,139.1 606.1,152.0 605.4,154.8 606.1,167.2 606.5,168.9 606.9,182.3 592.4,195.7 583.2,197.4 589.9,199.8 592.4,202.3 601.2,204.2 602.7,212.6 606.2,214.6 606.9,227.7 606.2,227.7 605.5,215.2 601.0,212.6 599.7,205.6 592.4,204.0 589.0,200.7 579.9,197.4 592.4,195.1 606.3,182.3 605.8,169.5 605.4,167.2 604.7,155.5 605.5,152.0 605.4,139.7 605.4,136.9 605.7,124.2 604.5,121.8 604.1,110.6 604.7,106.6 605.4,94.2 603.2,91.5 602.6,81.8 604.4,76.3 604.4,64.9 604.4,61.2 605.7,48.5 606.2,46.9 605.3,46.1 608.3,43.2 617.8,33.6 620.4,30.9 624.1,27.4 624.1,28.3ZM624.1,33.7 610.6,46.1 611.9,57.8 612.7,61.2 612.7,72.1 613.2,76.3 612.6,87.3 612.6,91.5 613.5,101.6 613.5,106.6 612.9,117.3 612.0,121.8 612.5,132.9 610.9,136.9 610.7,149.7 610.8,152.0 610.3,165.2 610.9,167.2 610.4,180.2 610.2,182.3 611.7,194.1 624.1,195.5 624.1,196.2 611.1,194.7 609.6,182.3 609.7,180.9 610.2,167.2 609.8,165.7 610.3,152.0 610.2,150.1 610.4,136.9 611.7,133.6 611.2,121.8 611.9,118.3 612.5,106.6 612.5,102.5 611.6,91.5 611.6,88.3 612.2,76.3 611.8,73.0 611.8,61.2 611.1,58.5 609.8,46.1 624.1,33.0 624.1,33.7ZM624.1,200.7 612.6,212.6 611.7,224.4 610.0,227.7 609.4,227.7 610.5,225.5 611.6,212.6 624.1,199.6 624.1,200.7ZM449.8,201.8 461.1,201.8 465.7,207.6 470.9,207.6 481.5,199.2 497.3,197.4 497.4,197.4 497.4,197.4 497.4,197.4 497.4,197.4 482.0,197.0 481.5,197.0 466.1,197.0 465.7,196.5 450.8,196.5 449.8,196.6 449.0,197.4 448.6,198.0 443.4,203.5 449.8,201.8ZM434.0,182.7 434.4,182.3 434.3,182.2 434.4,181.9 434.0,180.9 430.0,182.3 426.0,190.0 434.0,182.7ZM434.0,154.6 434.4,152.0 434.4,151.6 434.0,136.9 434.0,136.9 434.0,136.7 434.0,136.9 433.9,137.0 427.6,152.0 426.0,159.6 434.0,154.6ZM465.1,213.1 459.7,212.6 455.5,207.2 449.8,207.2 435.5,211.1 447.0,198.6 448.0,197.4 449.8,195.7 452.1,195.3 465.7,195.3 466.7,196.5 481.5,196.5 482.6,196.4 497.4,196.8 499.7,195.2 505.3,197.4 497.4,201.2 494.7,200.0 481.5,201.4 467.4,212.6 465.7,213.0 465.1,213.1ZM406.1,208.9 406.1,197.4 418.1,186.0 420.1,182.3 434.0,177.5 435.5,180.8 435.1,181.8 435.4,182.3 434.0,183.7 419.4,196.9 418.8,197.4 418.1,198.0 406.1,208.9ZM418.0,167.3 418.0,167.2 418.1,159.3 419.7,152.0 420.7,149.6 430.0,136.9 431.3,124.3 433.7,121.8 433.7,106.9 428.0,106.6 434.0,105.6 435.7,105.0 434.8,106.6 434.8,121.0 435.0,121.8 435.6,135.4 434.6,136.9 435.0,151.0 435.0,152.0 434.0,157.7 419.2,167.2 418.1,175.0 418.0,167.3Z"/><path fill-rule="evenodd" fill="#0088ff" stroke="#0088ff" stroke-width="0.3" d="M402.3,196.8 417.5,182.3 417.2,168.1 417.1,167.2 417.5,152.7 417.6,152.0 418.1,147.7 426.0,136.9 426.9,128.5 433.1,121.8 433.1,107.4 418.1,106.6 418.1,106.6 418.1,106.6 418.1,106.6 418.2,106.6 434.0,103.8 438.5,102.3 436.2,106.6 436.2,119.7 436.6,121.8 437.2,133.8 435.2,136.9 435.6,150.5 435.5,152.0 434.0,160.9 424.1,167.2 422.7,177.9 434.0,174.0 436.6,179.8 435.9,181.5 436.5,182.3 434.0,184.7 421.5,196.0 419.8,197.4 418.1,199.0 404.0,211.8 403.2,212.6 402.3,213.4 402.3,212.6 402.3,197.4 402.3,196.8ZM402.3,33.5 415.3,33.7 418.1,40.1 424.1,40.4 428.0,46.1 432.3,47.7 434.0,55.8 435.2,46.1 449.8,33.7 463.2,33.3 465.7,33.7 479.1,33.2 481.5,32.5 495.7,32.5 497.4,32.5 511.2,32.8 513.2,33.9 525.0,34.8 529.0,34.3 542.0,33.7 544.9,35.8 555.4,36.1 560.7,34.4 573.5,33.9 576.6,33.5 590.8,32.5 592.4,33.1 594.6,30.9 596.1,29.4 608.3,16.8 609.3,15.8 610.3,15.8 608.3,17.8 597.7,28.7 595.7,30.9 592.4,34.0 590.0,33.2 576.6,34.1 572.7,34.6 560.7,35.1 554.2,37.2 544.9,36.9 541.3,34.3 529.0,34.9 524.3,35.5 513.2,34.6 510.7,33.3 497.4,33.0 495.2,33.0 481.5,33.0 478.3,34.0 465.7,34.4 462.6,33.9 449.8,34.3 435.9,46.1 434.0,61.2 434.0,61.2 434.0,61.2 434.0,61.2 434.0,61.2 431.3,48.6 424.7,46.1 422.1,42.3 418.1,42.1 414.7,34.3 402.3,34.1 402.3,33.5ZM402.3,28.2 416.3,15.8 416.9,15.8 402.3,28.8 402.3,28.2ZM441.9,15.8 443.5,21.8 449.8,22.1 453.9,27.0 465.7,27.4 468.1,28.6 481.5,28.9 483.7,28.8 497.4,28.8 502.6,25.9 513.2,25.3 518.3,26.0 529.0,25.0 536.1,24.2 544.9,25.0 550.3,25.8 560.7,25.5 565.3,26.6 576.6,27.1 580.2,27.4 592.4,28.4 606.5,15.8 607.4,15.8 592.4,29.2 579.5,28.2 576.6,27.9 564.5,27.4 560.7,26.5 549.3,26.7 544.9,26.1 535.0,25.3 529.0,25.9 517.3,27.0 513.2,26.4 501.3,27.1 497.4,29.4 483.2,29.4 481.5,29.4 467.6,29.1 465.7,28.2 453.2,27.7 449.8,23.7 441.9,23.4 439.9,15.8 441.9,15.8ZM624.1,27.4 620.4,30.9 617.8,33.6 608.3,43.2 605.3,46.1 606.2,46.9 605.7,48.5 604.4,61.2 604.4,64.9 604.4,76.3 602.6,81.8 603.2,91.5 605.4,94.2 604.7,106.6 604.1,110.6 604.5,121.8 605.7,124.2 605.4,136.9 605.4,139.7 605.5,152.0 604.7,155.5 605.4,167.2 605.8,169.5 606.3,182.3 592.4,195.1 579.9,197.4 589.0,200.7 592.4,204.0 599.7,205.6 601.0,212.6 605.5,215.2 606.2,227.7 605.5,227.7 604.9,215.8 599.3,212.6 598.3,207.0 592.4,205.7 588.1,201.6 576.6,197.4 576.6,197.4 576.6,197.4 576.6,197.4 576.6,197.4 592.4,194.5 605.6,182.3 605.2,170.1 604.6,167.2 603.9,156.2 605.0,152.0 604.8,140.2 604.8,136.9 605.2,124.7 603.7,121.8 603.3,111.4 604.1,106.6 604.7,94.9 602.0,91.5 601.5,82.8 603.7,76.3 603.7,65.6 603.7,61.2 604.9,49.3 605.6,47.2 604.3,46.1 608.3,42.3 616.2,34.3 619.4,30.9 624.1,26.5 624.1,27.4ZM624.1,34.4 611.4,46.1 612.6,57.1 613.5,61.2 613.5,71.3 614.2,76.3 613.7,86.3 613.7,91.5 614.4,100.7 614.4,106.6 614.0,116.3 612.8,121.8 613.2,132.1 611.4,136.9 611.2,149.2 611.3,152.0 610.8,164.7 611.6,167.2 611.1,179.5 610.9,182.3 612.3,193.6 624.1,194.9 624.1,195.5 611.7,194.1 610.2,182.3 610.4,180.2 610.9,167.2 610.3,165.2 610.8,152.0 610.7,149.7 610.9,136.9 612.5,132.9 612.0,121.8 612.9,117.3 613.5,106.6 613.5,101.6 612.6,91.5 612.6,87.3 613.2,76.3 612.7,72.1 612.7,61.2 611.9,57.8 610.6,46.1 624.1,33.7 624.1,34.4ZM624.1,201.8 613.7,212.6 612.8,223.4 610.5,227.7 610.0,227.7 611.7,224.4 612.6,212.6 624.1,200.7 624.1,201.8ZM417.3,227.7 418.1,226.9 432.4,213.2 433.1,212.6 434.0,211.7 445.4,199.3 447.0,197.4 449.8,194.7 453.3,194.1 465.7,194.1 467.2,196.0 481.5,196.0 483.2,195.8 497.4,196.3 502.0,193.0 513.2,197.4 513.2,197.4 529.0,197.4 529.1,197.4 529.1,197.4 529.0,197.6 529.0,197.4 513.2,197.4 513.1,197.5 497.4,205.0 492.1,202.5 481.5,203.7 470.2,212.6 465.7,213.6 464.2,213.9 449.8,212.6 434.0,227.7 434.0,227.7 418.1,227.7 417.3,227.7ZM465.7,213.0 467.4,212.6 481.5,201.4 494.7,200.0 497.4,201.2 505.3,197.4 499.7,195.2 497.4,196.8 482.6,196.4 481.5,196.5 466.7,196.5 465.7,195.3 452.1,195.3 449.8,195.7 448.0,197.4 447.0,198.6 435.5,211.1 449.8,207.2 455.5,207.2 459.7,212.6 465.1,213.1 465.7,213.0ZM418.1,198.0 418.8,197.4 419.4,196.9 434.0,183.7 435.4,182.3 435.1,181.8 435.5,180.8 434.0,177.5 420.1,182.3 418.1,186.0 406.1,197.4 406.1,208.9 418.1,198.0ZM418.1,175.0 419.2,167.2 434.0,157.7 435.0,152.0 435.0,151.0 434.6,136.9 435.6,135.4 435.0,121.8 434.8,121.0 434.8,106.6 435.7,105.0 434.0,105.6 428.0,106.6 433.7,106.9 433.7,121.8 431.3,124.3 430.0,136.9 420.7,149.6 419.7,152.0 418.1,159.3 418.0,167.2 418.0,167.3 418.1,175.0Z"/><path fill-rule="evenodd" fill="#00a1ff" stroke="#00a1ff" stroke-width="0.3" d="M402.3,213.4 403.2,212.6 404.0,211.8 418.1,199.0 419.8,197.4 421.5,196.0 434.0,184.7 436.5,182.3 435.9,181.5 436.6,179.8 434.0,174.0 422.7,177.9 424.1,167.2 434.0,160.9 435.5,152.0 435.6,150.5 435.2,136.9 437.2,133.8 436.6,121.8 436.2,119.7 436.2,106.6 438.5,102.3 434.0,103.8 418.2,106.6 418.1,106.6 418.1,106.6 418.1,106.6 418.1,106.6 433.1,107.4 433.1,121.8 426.9,128.5 426.0,136.9 418.1,147.7 417.6,152.0 417.5,152.7 417.1,167.2 417.2,168.1 417.5,182.3 402.3,196.8 402.3,196.1 416.7,182.3 416.4,168.8 416.3,167.2 416.6,153.5 417.0,152.0 418.1,142.2 422.1,136.9 422.5,132.7 432.6,121.8 432.6,107.9 418.1,107.2 417.3,107.4 417.0,106.6 418.1,105.7 420.4,104.5 434.0,102.1 441.4,99.6 437.5,106.6 437.5,118.3 438.3,121.8 438.8,132.3 435.8,136.9 436.2,149.9 436.1,152.0 434.0,164.0 429.1,167.2 428.4,172.5 434.0,170.6 437.7,178.7 436.7,181.1 437.5,182.3 434.0,185.7 423.5,195.1 420.9,197.4 418.1,200.1 406.1,210.9 404.2,212.6 402.3,214.4 402.3,213.4ZM402.3,34.1 414.7,34.3 418.1,42.1 422.1,42.3 424.7,46.1 431.3,48.6 434.0,61.2 434.0,61.2 434.0,61.2 434.0,61.2 434.0,61.2 435.9,46.1 449.8,34.3 462.6,33.9 465.7,34.4 478.3,34.0 481.5,33.0 495.2,33.0 497.4,33.0 510.7,33.3 513.2,34.6 524.3,35.5 529.0,34.9 541.3,34.3 544.9,36.9 554.2,37.2 560.7,35.1 572.7,34.6 576.6,34.1 590.0,33.2 592.4,34.0 595.7,30.9 597.7,28.7 608.3,17.8 610.3,15.8 611.4,15.8 608.3,18.8 599.4,27.9 596.7,30.9 592.4,35.0 589.3,33.9 576.6,34.8 571.9,35.4 560.7,35.8 553.0,38.3 544.9,38.1 540.6,35.0 529.0,35.5 523.5,36.2 513.2,35.4 510.2,33.8 497.4,33.5 494.7,33.5 481.5,33.5 477.5,34.7 465.7,35.2 462.0,34.5 449.8,34.8 436.6,46.1 434.8,60.4 436.0,61.2 434.0,64.4 432.0,63.1 432.8,61.2 430.4,49.5 421.4,46.1 420.1,44.2 418.1,44.1 414.1,34.8 402.3,34.7 402.3,34.1ZM402.3,27.7 415.7,15.8 416.3,15.8 402.3,28.2 402.3,27.7ZM443.9,15.8 445.1,20.3 449.8,20.5 454.7,26.3 465.7,26.7 468.7,28.1 481.5,28.4 484.3,28.3 497.4,28.3 504.0,24.6 513.2,24.1 519.4,25.0 529.0,24.1 537.2,23.1 544.9,23.8 551.4,24.8 560.7,24.5 566.1,25.8 576.6,26.3 581.0,26.7 592.4,27.6 605.6,15.8 606.5,15.8 592.4,28.4 580.2,27.4 576.6,27.1 565.3,26.6 560.7,25.5 550.3,25.8 544.9,25.0 536.1,24.2 529.0,25.0 518.3,26.0 513.2,25.3 502.6,25.9 497.4,28.8 483.7,28.8 481.5,28.9 468.1,28.6 465.7,27.4 453.9,27.0 449.8,22.1 443.5,21.8 441.9,15.8 443.9,15.8ZM624.1,26.5 619.4,30.9 616.2,34.3 608.3,42.3 604.3,46.1 605.6,47.2 604.9,49.3 603.7,61.2 603.7,65.6 603.7,76.3 601.5,82.8 602.0,91.5 604.7,94.9 604.1,106.6 603.3,111.4 603.7,121.8 605.2,124.7 604.8,136.9 604.8,140.2 605.0,152.0 603.9,156.2 604.6,167.2 605.2,170.1 605.6,182.3 592.4,194.5 576.6,197.4 576.6,197.4 576.6,197.4 576.6,197.4 576.6,197.4 588.1,201.6 592.4,205.7 598.3,207.0 599.3,212.6 604.9,215.8 605.5,227.7 604.8,227.7 604.2,216.4 597.6,212.6 596.8,208.4 592.4,207.4 587.2,202.4 576.6,198.6 574.6,199.3 575.0,197.4 576.6,196.2 577.4,196.7 592.4,193.9 605.0,182.3 604.5,170.7 603.8,167.2 603.2,156.8 604.5,152.0 604.3,140.7 604.3,136.9 604.6,125.2 602.9,121.8 602.5,112.1 603.4,106.6 604.0,95.5 600.8,91.5 600.3,83.9 602.9,76.3 602.9,66.3 602.9,61.2 604.0,50.1 604.9,47.5 603.3,46.1 608.3,41.3 614.5,35.1 618.5,30.9 624.1,25.5 624.1,26.5ZM624.1,35.2 612.2,46.1 613.3,56.4 614.4,61.2 614.4,70.4 615.2,76.3 614.7,85.3 614.7,91.5 615.4,99.8 615.4,106.6 615.0,115.3 613.6,121.8 614.0,131.4 611.9,136.9 611.7,148.7 611.9,152.0 611.4,164.2 612.3,167.2 611.9,178.8 611.6,182.3 612.9,193.0 624.1,194.3 624.1,194.9 612.3,193.6 610.9,182.3 611.1,179.5 611.6,167.2 610.8,164.7 611.3,152.0 611.2,149.2 611.4,136.9 613.2,132.1 612.8,121.8 614.0,116.3 614.4,106.6 614.4,100.7 613.7,91.5 613.7,86.3 614.2,76.3 613.5,71.3 613.5,61.2 612.6,57.1 611.4,46.1 624.1,34.4 624.1,35.2ZM624.1,202.8 614.7,212.6 613.9,222.3 611.1,227.7 610.5,227.7 612.8,223.4 613.7,212.6 624.1,201.8 624.1,202.8ZM434.0,227.7 449.8,212.6 464.2,213.9 465.7,213.6 470.2,212.6 481.5,203.7 492.1,202.5 497.4,205.0 513.1,197.5 513.2,197.4 529.0,197.4 529.0,197.6 529.1,197.4 529.1,197.4 529.0,197.4 513.2,197.4 513.2,197.4 502.0,193.0 497.4,196.3 483.2,195.8 481.5,196.0 467.2,196.0 465.7,194.1 453.3,194.1 449.8,194.7 447.0,197.4 445.4,199.3 434.0,211.7 433.1,212.6 432.4,213.2 418.1,226.9 417.3,227.7 416.2,227.7 418.1,225.8 430.4,214.1 432.0,212.6 434.0,210.7 443.9,200.0 445.9,197.4 449.8,193.7 454.5,192.9 465.7,192.9 467.7,195.5 481.5,195.5 483.8,195.3 497.4,195.7 504.4,190.7 513.2,194.2 515.4,195.3 529.0,195.3 533.0,193.6 531.0,197.4 529.5,212.1 529.3,212.6 529.0,212.8 528.9,212.7 528.9,212.6 528.5,198.0 513.2,198.0 505.2,205.1 497.4,208.8 489.4,205.0 481.5,205.9 473.1,212.6 465.7,214.2 463.3,214.8 449.8,213.5 435.0,227.7 434.0,227.7Z"/><path fill-rule="evenodd" fill="#00baff" stroke="#00baff" stroke-width="0.3" d="M402.3,214.4 404.2,212.6 406.1,210.9 418.1,200.1 420.9,197.4 423.5,195.1 434.0,185.7 437.5,182.3 436.7,181.1 437.7,178.7 434.0,170.6 428.4,172.5 429.1,167.2 434.0,164.0 436.1,152.0 436.2,149.9 435.8,136.9 438.8,132.3 438.3,121.8 437.5,118.3 437.5,106.6 441.4,99.6 434.0,102.1 420.4,104.5 418.1,105.7 417.0,106.6 417.3,107.4 418.1,107.2 432.6,107.9 432.6,121.8 422.5,132.7 422.1,136.9 418.1,142.2 417.0,152.0 416.6,153.5 416.3,167.2 416.4,168.8 416.7,182.3 402.3,196.1 402.3,195.3 415.9,182.3 415.7,169.5 415.5,167.2 415.8,154.3 416.3,152.0 418.1,136.9 418.1,136.9 418.1,136.9 432.1,121.8 432.1,108.5 418.1,107.7 416.6,108.1 415.9,106.6 418.1,104.7 422.6,102.4 434.0,100.4 444.2,96.9 438.9,106.6 438.9,117.0 439.9,121.8 440.3,130.8 436.4,136.9 436.7,149.4 436.6,152.0 434.0,167.2 434.0,167.2 438.8,177.7 437.5,180.8 438.5,182.3 434.0,186.6 425.6,194.2 421.9,197.4 418.1,201.1 408.3,210.0 405.3,212.6 402.3,215.5 402.3,214.4ZM402.3,34.7 414.1,34.8 418.1,44.1 420.1,44.2 421.4,46.1 430.4,49.5 432.8,61.2 432.0,63.1 434.0,64.4 436.0,61.2 434.8,60.4 436.6,46.1 449.8,34.8 462.0,34.5 465.7,35.2 477.5,34.7 481.5,33.5 494.7,33.5 497.4,33.5 510.2,33.8 513.2,35.4 523.5,36.2 529.0,35.5 540.6,35.0 544.9,38.1 553.0,38.3 560.7,35.8 571.9,35.4 576.6,34.8 589.3,33.9 592.4,35.0 596.7,30.9 599.4,27.9 608.3,18.8 611.4,15.8 612.4,15.8 608.3,19.8 601.0,27.2 597.7,30.9 592.4,36.0 588.5,34.7 576.6,35.5 571.1,36.2 560.7,36.6 551.9,39.4 544.9,39.2 540.0,35.6 529.0,36.2 522.8,36.9 513.2,36.2 509.7,34.3 497.4,34.0 494.1,34.0 481.5,34.0 476.8,35.5 465.7,35.9 461.3,35.1 449.8,35.4 437.3,46.1 435.6,59.7 438.0,61.2 434.0,67.5 430.0,65.0 431.7,61.2 429.5,50.4 418.1,46.1 418.1,46.1 418.1,46.1 413.4,35.4 402.3,35.3 402.3,34.7ZM402.3,27.2 415.1,15.8 415.7,15.8 402.3,27.7 402.3,27.2ZM445.9,15.8 446.7,18.8 449.8,18.9 455.4,25.6 465.7,26.0 469.2,27.6 481.5,27.9 484.8,27.8 497.4,27.8 505.3,23.4 513.2,22.9 520.5,24.0 529.0,23.2 538.3,22.1 544.9,22.7 552.4,23.8 560.7,23.6 566.9,25.1 576.6,25.5 581.8,26.0 592.4,26.8 604.7,15.8 605.6,15.8 592.4,27.6 581.0,26.7 576.6,26.3 566.1,25.8 560.7,24.5 551.4,24.8 544.9,23.8 537.2,23.1 529.0,24.1 519.4,25.0 513.2,24.1 504.0,24.6 497.4,28.3 484.3,28.3 481.5,28.4 468.7,28.1 465.7,26.7 454.7,26.3 449.8,20.5 445.1,20.3 443.9,15.8 445.9,15.8ZM624.1,25.5 618.5,30.9 614.5,35.1 608.3,41.3 603.3,46.1 604.9,47.5 604.0,50.1 602.9,61.2 602.9,66.3 602.9,76.3 600.3,83.9 600.8,91.5 604.0,95.5 603.4,106.6 602.5,112.1 602.9,121.8 604.6,125.2 604.3,136.9 604.3,140.7 604.5,152.0 603.2,156.8 603.8,167.2 604.5,170.7 605.0,182.3 592.4,193.9 577.4,196.7 576.6,196.2 575.0,197.4 574.6,199.3 576.6,198.6 587.2,202.4 592.4,207.4 596.8,208.4 597.6,212.6 604.2,216.4 604.8,227.7 604.2,227.7 603.6,217.0 595.8,212.6 595.3,209.8 592.4,209.1 586.3,203.3 576.6,199.8 572.6,201.2 573.4,197.4 576.6,195.1 578.2,195.9 592.4,193.3 604.3,182.3 603.9,171.3 603.1,167.2 602.5,157.5 603.9,152.0 603.8,141.2 603.8,136.9 604.1,125.7 602.1,121.8 601.7,112.9 602.8,106.6 603.3,96.2 599.6,91.5 599.2,85.0 602.2,76.3 602.2,67.0 602.2,61.2 603.2,50.9 604.2,47.8 602.3,46.1 608.3,40.4 612.9,35.8 617.5,30.9 624.1,24.6 624.1,25.5ZM624.1,35.9 613.0,46.1 614.0,55.7 615.3,61.2 615.3,69.6 616.2,76.3 615.8,84.3 615.8,91.5 616.4,98.9 616.4,106.6 616.0,114.4 614.4,121.8 614.8,130.6 612.4,136.9 612.2,148.2 612.4,152.0 611.9,163.7 613.0,167.2 612.6,178.2 612.2,182.3 613.5,192.5 624.1,193.6 624.1,194.3 612.9,193.0 611.6,182.3 611.9,178.8 612.3,167.2 611.4,164.2 611.9,152.0 611.7,148.7 611.9,136.9 614.0,131.4 613.6,121.8 615.0,115.3 615.4,106.6 615.4,99.8 614.7,91.5 614.7,85.3 615.2,76.3 614.4,70.4 614.4,61.2 613.3,56.4 612.2,46.1 624.1,35.2 624.1,35.9ZM624.1,203.9 615.8,212.6 615.1,221.2 611.7,227.7 611.1,227.7 613.9,222.3 614.7,212.6 624.1,202.8 624.1,203.9ZM435.0,227.7 449.8,213.5 463.3,214.8 465.7,214.2 473.1,212.6 481.5,205.9 489.4,205.0 497.4,208.8 505.2,205.1 513.2,198.0 528.5,198.0 528.9,212.6 528.9,212.7 529.0,212.8 529.3,212.6 529.5,212.1 531.0,197.4 533.0,193.6 529.0,195.3 515.4,195.3 513.2,194.2 504.4,190.7 497.4,195.7 483.8,195.3 481.5,195.5 467.7,195.5 465.7,192.9 454.5,192.9 449.8,193.7 445.9,197.4 443.9,200.0 434.0,210.7 432.0,212.6 430.4,214.1 418.1,225.8 416.2,227.7 415.1,227.7 418.1,224.8 428.5,214.9 431.0,212.6 434.0,209.7 442.3,200.7 444.9,197.4 449.8,192.7 455.8,191.7 465.7,191.7 468.3,194.9 481.5,194.9 484.4,194.7 497.4,195.1 506.7,188.5 513.2,191.1 517.6,193.2 529.0,193.2 537.0,189.8 533.0,197.4 531.7,210.0 530.8,212.6 529.0,214.0 527.9,213.6 528.3,212.6 527.9,198.5 513.2,198.5 497.4,212.6 497.4,212.6 497.4,212.6 497.3,212.6 486.8,207.5 481.5,208.1 475.9,212.6 465.7,214.9 462.4,215.7 449.8,214.5 436.0,227.7 435.0,227.7Z"/><path fill-rule="evenodd" fill="#00d3ff" stroke="#00d3ff" stroke-width="0.3" d="M402.3,215.5 405.3,212.6 408.3,210.0 418.1,201.1 421.9,197.4 425.6,194.2 434.0,186.6 438.5,182.3 437.5,180.8 438.8,177.7 434.0,167.2 434.0,167.2 436.6,152.0 436.7,149.4 436.4,136.9 440.3,130.8 439.9,121.8 438.9,117.0 438.9,106.6 444.2,96.9 434.0,100.4 422.6,102.4 418.1,104.7 415.9,106.6 416.6,108.1 418.1,107.7 432.1,108.5 432.1,121.8 418.1,136.9 418.1,136.9 418.1,136.9 416.3,152.0 415.8,154.3 415.5,167.2 415.7,169.5 415.9,182.3 402.3,195.3 402.3,194.5 415.1,182.3 414.9,170.3 414.7,167.2 414.9,155.1 415.7,152.0 417.4,137.6 417.5,136.9 418.1,136.3 431.5,121.8 431.5,109.0 418.1,108.2 415.8,108.9 414.7,106.6 418.1,103.8 424.8,100.3 434.0,98.7 447.0,94.2 440.3,106.6 440.3,115.7 441.6,121.8 441.9,129.3 436.9,136.9 437.3,148.8 437.1,152.0 434.6,166.5 435.6,167.2 439.9,176.6 438.3,180.4 439.6,182.3 434.0,187.6 427.7,193.3 423.0,197.4 418.1,202.1 410.4,209.1 406.4,212.6 402.3,216.5 402.3,215.5ZM402.3,35.3 413.4,35.4 418.1,46.1 418.1,46.1 418.1,46.1 429.5,50.4 431.7,61.2 430.0,65.0 434.0,67.5 438.0,61.2 435.6,59.7 437.3,46.1 449.8,35.4 461.3,35.1 465.7,35.9 476.8,35.5 481.5,34.0 494.1,34.0 497.4,34.0 509.7,34.3 513.2,36.2 522.8,36.9 529.0,36.2 540.0,35.6 544.9,39.2 551.9,39.4 560.7,36.6 571.1,36.2 576.6,35.5 588.5,34.7 592.4,36.0 597.7,30.9 601.0,27.2 608.3,19.8 612.4,15.8 613.5,15.8 608.3,20.8 602.7,26.5 598.7,30.9 592.4,36.9 587.8,35.4 576.6,36.1 570.3,37.0 560.7,37.3 550.7,40.5 544.9,40.3 539.3,36.3 529.0,36.8 522.0,37.7 513.2,37.0 509.1,34.8 497.4,34.5 493.6,34.5 481.5,34.5 476.0,36.2 465.7,36.6 460.7,35.7 449.8,36.0 438.0,46.1 436.4,58.9 439.9,61.2 434.0,70.7 428.0,66.9 430.6,61.2 428.5,51.3 418.1,47.3 417.4,46.8 417.3,46.1 412.8,36.0 402.3,35.9 402.3,35.3ZM402.3,26.7 414.5,15.8 415.1,15.8 402.3,27.2 402.3,26.7ZM447.9,15.8 448.3,17.3 449.8,17.4 456.1,24.9 465.7,25.3 469.7,27.1 481.5,27.4 485.4,27.3 497.4,27.3 506.6,22.1 513.2,21.7 521.6,22.9 529.0,22.3 539.4,21.0 544.9,21.5 553.4,22.8 560.7,22.6 567.7,24.3 576.6,24.6 582.5,25.3 592.4,26.0 603.8,15.8 604.7,15.8 592.4,26.8 581.8,26.0 576.6,25.5 566.9,25.1 560.7,23.6 552.4,23.8 544.9,22.7 538.3,22.1 529.0,23.2 520.5,24.0 513.2,22.9 505.3,23.4 497.4,27.8 484.8,27.8 481.5,27.9 469.2,27.6 465.7,26.0 455.4,25.6 449.8,18.9 446.7,18.8 445.9,15.8 447.9,15.8ZM624.1,24.6 617.5,30.9 612.9,35.8 608.3,40.4 602.3,46.1 604.2,47.8 603.2,50.9 602.2,61.2 602.2,67.0 602.2,76.3 599.2,85.0 599.6,91.5 603.3,96.2 602.8,106.6 601.7,112.9 602.1,121.8 604.1,125.7 603.8,136.9 603.8,141.2 603.9,152.0 602.5,157.5 603.1,167.2 603.9,171.3 604.3,182.3 592.4,193.3 578.2,195.9 576.6,195.1 573.4,197.4 572.6,201.2 576.6,199.8 586.3,203.3 592.4,209.1 595.3,209.8 595.8,212.6 603.6,217.0 604.2,227.7 603.5,227.7 602.9,217.7 594.1,212.6 593.9,211.2 592.4,210.9 585.4,204.1 576.6,201.0 570.6,203.1 571.8,197.4 576.6,193.9 579.0,195.2 592.4,192.7 603.6,182.3 603.3,171.9 602.3,167.2 601.8,158.2 603.4,152.0 603.2,141.7 603.2,136.9 603.5,126.3 601.3,121.8 600.9,113.6 602.1,106.6 602.7,96.8 598.4,91.5 598.1,86.1 601.4,76.3 601.4,67.8 601.4,61.2 602.3,51.7 603.5,48.1 601.3,46.1 608.3,39.4 611.2,36.5 616.5,30.9 624.1,23.7 624.1,24.6ZM624.1,36.6 613.8,46.1 614.7,55.0 616.2,61.2 616.2,68.8 617.2,76.3 616.8,83.3 616.8,91.5 617.3,97.9 617.3,106.6 617.0,113.4 615.2,121.8 615.6,129.9 612.9,136.9 612.7,147.8 612.9,152.0 612.4,163.2 613.7,167.2 613.3,177.5 612.9,182.3 614.1,191.9 624.1,193.0 624.1,193.6 613.5,192.5 612.2,182.3 612.6,178.2 613.0,167.2 611.9,163.7 612.4,152.0 612.2,148.2 612.4,136.9 614.8,130.6 614.4,121.8 616.0,114.4 616.4,106.6 616.4,98.9 615.8,91.5 615.8,84.3 616.2,76.3 615.3,69.6 615.3,61.2 614.0,55.7 613.0,46.1 624.1,35.9 624.1,36.6ZM624.1,205.0 616.8,212.6 616.2,220.1 612.2,227.7 611.7,227.7 615.1,221.2 615.8,212.6 624.1,203.9 624.1,205.0ZM436.0,227.7 449.8,214.5 462.4,215.7 465.7,214.9 475.9,212.6 481.5,208.1 486.8,207.5 497.3,212.6 497.4,212.6 497.4,212.6 497.4,212.6 513.2,198.5 527.9,198.5 528.3,212.6 527.9,213.6 529.0,214.0 530.8,212.6 531.7,210.0 533.0,197.4 537.0,189.8 529.0,193.2 517.6,193.2 513.2,191.1 506.7,188.5 497.4,195.1 484.4,194.7 481.5,194.9 468.3,194.9 465.7,191.7 455.8,191.7 449.8,192.7 444.9,197.4 442.3,200.7 434.0,209.7 431.0,212.6 428.5,214.9 418.1,224.8 415.1,227.7 414.0,227.7 418.1,223.8 426.5,215.8 429.9,212.6 434.0,208.6 440.7,201.3 443.9,197.4 449.8,191.8 457.0,190.6 465.7,190.6 468.8,194.4 481.5,194.4 484.9,194.1 497.4,194.5 509.0,186.3 513.2,187.9 519.8,191.1 529.0,191.1 541.0,186.0 535.0,197.4 533.9,207.9 532.2,212.6 529.0,215.1 527.0,214.5 527.8,212.6 527.3,199.1 513.2,199.1 498.0,212.6 497.4,213.2 496.7,213.2 489.4,212.6 484.1,210.1 481.5,210.4 478.7,212.6 465.7,215.5 461.5,216.5 449.8,215.4 437.0,227.7 436.0,227.7Z"/><path fill-rule="evenodd" fill="#00e5f6" stroke="#00e5f6" stroke-width="0.3" d="M402.3,216.5 406.4,212.6 410.4,209.1 418.1,202.1 423.0,197.4 427.7,193.3 434.0,187.6 439.6,182.3 438.3,180.4 439.9,176.6 435.6,167.2 434.6,166.5 437.1,152.0 437.3,148.8 436.9,136.9 441.9,129.3 441.6,121.8 440.3,115.7 440.3,106.6 447.0,94.2 434.0,98.7 424.8,100.3 418.1,103.8 414.7,106.6 415.8,108.9 418.1,108.2 431.5,109.0 431.5,121.8 418.1,136.3 417.5,136.9 417.4,137.6 415.7,152.0 414.9,155.1 414.7,167.2 414.9,170.3 415.1,182.3 402.3,194.5 402.3,193.8 414.3,182.3 414.1,171.0 413.8,167.2 414.1,155.9 415.1,152.0 416.7,138.3 416.9,136.9 418.1,135.7 431.0,121.8 431.0,109.5 418.1,108.8 415.0,109.6 413.6,106.6 418.1,102.8 427.0,98.2 434.0,97.0 449.8,91.5 449.8,91.5 449.8,91.5 449.9,91.5 449.8,91.5 441.6,106.6 441.6,114.4 443.2,121.8 443.5,127.8 437.5,136.9 437.9,148.3 437.7,152.0 435.3,165.9 437.2,167.2 441.0,175.6 439.1,180.1 440.6,182.3 434.0,188.6 429.8,192.4 424.1,197.4 418.1,203.1 412.5,208.2 407.5,212.6 402.3,217.5 402.3,216.5ZM402.3,35.9 412.8,36.0 417.3,46.1 417.4,46.8 418.1,47.3 428.5,51.3 430.6,61.2 428.0,66.9 434.0,70.7 439.9,61.2 436.4,58.9 438.0,46.1 449.8,36.0 460.7,35.7 465.7,36.6 476.0,36.2 481.5,34.5 493.6,34.5 497.4,34.5 509.1,34.8 513.2,37.0 522.0,37.7 529.0,36.8 539.3,36.3 544.9,40.3 550.7,40.5 560.7,37.3 570.3,37.0 576.6,36.1 587.8,35.4 592.4,36.9 598.7,30.9 602.7,26.5 608.3,20.8 613.5,15.8 614.5,15.8 608.3,21.8 604.4,25.8 599.7,30.9 592.4,37.9 587.0,36.1 576.6,36.8 569.4,37.7 560.7,38.1 549.5,41.6 544.9,41.5 538.6,36.9 529.0,37.4 521.3,38.4 513.2,37.7 508.6,35.3 497.4,35.0 493.1,35.0 481.5,35.0 475.2,37.0 465.7,37.3 460.0,36.3 449.8,36.6 438.7,46.1 437.2,58.2 441.9,61.2 434.0,73.9 426.0,68.8 429.4,61.2 427.6,52.2 418.1,48.6 416.7,47.5 416.4,46.1 412.2,36.6 402.3,36.5 402.3,35.9ZM402.3,26.2 413.9,15.8 414.5,15.8 402.3,26.7 402.3,26.2ZM449.8,15.8 456.9,24.2 465.7,24.5 470.2,26.6 481.5,26.9 485.9,26.7 497.4,26.7 507.9,20.8 513.2,20.5 522.6,21.9 529.0,21.3 540.5,20.0 544.9,20.4 554.5,21.8 560.7,21.6 568.5,23.5 576.6,23.8 583.3,24.5 592.4,25.3 603.0,15.8 603.8,15.8 592.4,26.0 582.5,25.3 576.6,24.6 567.7,24.3 560.7,22.6 553.4,22.8 544.9,21.5 539.4,21.0 529.0,22.3 521.6,22.9 513.2,21.7 506.6,22.1 497.4,27.3 485.4,27.3 481.5,27.4 469.7,27.1 465.7,25.3 456.1,24.9 449.8,17.4 448.3,17.3 447.9,15.8 449.8,15.8 449.8,15.8ZM624.1,23.7 616.5,30.9 611.2,36.5 608.3,39.4 601.3,46.1 603.5,48.1 602.3,51.7 601.4,61.2 601.4,67.8 601.4,76.3 598.1,86.1 598.4,91.5 602.7,96.8 602.1,106.6 600.9,113.6 601.3,121.8 603.5,126.3 603.2,136.9 603.2,141.7 603.4,152.0 601.8,158.2 602.3,167.2 603.3,171.9 603.6,182.3 592.4,192.7 579.0,195.2 576.6,193.9 571.8,197.4 570.6,203.1 576.6,201.0 585.4,204.1 592.4,210.9 593.9,211.2 594.1,212.6 602.9,217.7 603.5,227.7 602.8,227.7 602.3,218.3 592.4,212.6 592.4,212.6 592.4,212.6 584.5,205.0 576.6,202.2 568.6,205.0 570.2,197.4 576.6,192.7 579.7,194.4 592.4,192.1 603.0,182.3 602.6,172.5 601.5,167.2 601.0,158.9 602.8,152.0 602.7,142.2 602.7,136.9 603.0,126.8 600.5,121.8 600.2,114.3 601.5,106.6 602.0,97.5 597.2,91.5 596.9,87.2 600.6,76.3 600.6,68.5 600.6,61.2 601.5,52.5 602.8,48.4 600.3,46.1 608.3,38.5 609.6,37.2 615.5,30.9 624.1,22.8 624.1,23.7ZM624.1,37.3 614.6,46.1 615.5,54.3 617.1,61.2 617.1,67.9 618.2,76.3 617.9,82.3 617.9,91.5 618.3,97.0 618.3,106.6 618.0,112.4 616.0,121.8 616.3,129.2 613.3,136.9 613.2,147.3 613.4,152.0 613.0,162.7 614.4,167.2 614.0,176.8 613.5,182.3 614.6,191.3 624.1,192.4 624.1,193.0 614.1,191.9 612.9,182.3 613.3,177.5 613.7,167.2 612.4,163.2 612.9,152.0 612.7,147.8 612.9,136.9 615.6,129.9 615.2,121.8 617.0,113.4 617.3,106.6 617.3,97.9 616.8,91.5 616.8,83.3 617.2,76.3 616.2,68.8 616.2,61.2 614.7,55.0 613.8,46.1 624.1,36.6 624.1,37.3ZM624.1,206.1 617.9,212.6 617.3,219.0 612.8,227.7 612.2,227.7 616.2,220.1 616.8,212.6 624.1,205.0 624.1,206.1ZM437.0,227.7 449.8,215.4 461.5,216.5 465.7,215.5 478.7,212.6 481.5,210.4 484.1,210.1 489.4,212.6 496.7,213.2 497.4,213.2 498.0,212.6 513.2,199.1 527.3,199.1 527.8,212.6 527.0,214.5 529.0,215.1 532.2,212.6 533.9,207.9 535.0,197.4 541.0,186.0 529.0,191.1 519.8,191.1 513.2,187.9 509.0,186.3 497.4,194.5 484.9,194.1 481.5,194.4 468.8,194.4 465.7,190.6 457.0,190.6 449.8,191.8 443.9,197.4 440.7,201.3 434.0,208.6 429.9,212.6 426.5,215.8 418.1,223.8 414.0,227.7 413.0,227.7 418.1,222.8 424.6,216.6 428.8,212.6 434.0,207.6 439.1,202.0 442.9,197.4 449.8,190.8 458.3,189.4 465.7,189.4 469.4,193.9 481.5,193.9 485.5,193.6 497.4,193.9 511.4,184.0 513.2,184.8 522.0,189.0 529.0,189.0 544.8,182.3 544.9,182.3 544.9,182.3 544.9,182.3 544.9,182.3 537.0,197.4 536.1,205.8 533.6,212.6 529.0,216.2 526.1,215.4 527.2,212.6 526.8,199.6 513.2,199.6 498.6,212.6 497.4,213.7 496.0,213.8 481.5,212.6 481.5,212.6 465.7,216.2 460.6,217.4 449.8,216.4 438.0,227.7 437.0,227.7Z"/><path fill-rule="evenodd" fill="#00efe5" stroke="#00efe5" stroke-width="0.3" d="M402.3,217.5 407.5,212.6 412.5,208.2 418.1,203.1 424.1,197.4 429.8,192.4 434.0,188.6 440.6,182.3 439.1,180.1 441.0,175.6 437.2,167.2 435.3,165.9 437.7,152.0 437.9,148.3 437.5,136.9 443.5,127.8 443.2,121.8 441.6,114.4 441.6,106.6 449.8,91.5 449.9,91.5 449.8,91.5 449.8,91.5 449.8,91.5 434.0,97.0 427.0,98.2 418.1,102.8 413.6,106.6 415.0,109.6 418.1,108.8 431.0,109.5 431.0,121.8 418.1,135.7 416.9,136.9 416.7,138.3 415.1,152.0 414.1,155.9 413.8,167.2 414.1,171.0 414.3,182.3 402.3,193.8 402.3,193.0 413.5,182.3 413.3,171.8 413.0,167.2 413.2,156.7 414.4,152.0 416.0,139.0 416.2,136.9 418.1,135.1 430.4,121.8 430.4,110.0 418.1,109.3 414.2,110.4 412.5,106.6 418.1,101.9 429.2,96.1 434.0,95.2 444.8,91.5 449.8,89.7 451.0,90.4 452.5,91.5 449.8,94.0 443.0,106.6 443.0,113.1 444.9,121.8 445.1,126.3 438.1,136.9 438.5,147.7 438.2,152.0 435.9,165.3 438.8,167.2 442.1,174.5 440.0,179.7 441.6,182.3 434.0,189.6 431.8,191.5 425.1,197.4 418.1,204.1 414.6,207.3 408.6,212.6 402.3,218.5 402.3,217.5ZM402.3,36.5 412.2,36.6 416.4,46.1 416.7,47.5 418.1,48.6 427.6,52.2 429.4,61.2 426.0,68.8 434.0,73.9 441.9,61.2 437.2,58.2 438.7,46.1 449.8,36.6 460.0,36.3 465.7,37.3 475.2,37.0 481.5,35.0 493.1,35.0 497.4,35.0 508.6,35.3 513.2,37.7 521.3,38.4 529.0,37.4 538.6,36.9 544.9,41.5 549.5,41.6 560.7,38.1 569.4,37.7 576.6,36.8 587.0,36.1 592.4,37.9 599.7,30.9 604.4,25.8 608.3,21.8 614.5,15.8 615.6,15.8 608.3,22.8 606.0,25.1 600.7,30.9 592.4,38.9 586.3,36.8 576.6,37.4 568.6,38.5 560.7,38.8 548.4,42.7 544.9,42.6 537.9,37.6 529.0,38.0 520.5,39.1 513.2,38.5 508.1,35.8 497.4,35.5 492.5,35.5 481.5,35.5 474.4,37.8 465.7,38.1 459.4,36.9 449.8,37.2 439.4,46.1 438.0,57.4 443.9,61.2 435.0,75.3 434.4,76.3 434.0,77.7 433.7,76.6 432.9,76.3 424.1,70.7 428.3,61.2 426.6,53.1 418.1,49.9 416.0,48.1 415.5,46.1 411.6,37.2 402.3,37.1 402.3,36.5ZM402.3,25.6 413.4,15.8 413.9,15.8 402.3,26.2 402.3,25.6ZM451.2,15.8 457.6,23.5 465.7,23.8 470.7,26.1 481.5,26.4 486.5,26.2 497.4,26.2 509.3,19.6 513.2,19.3 523.7,20.9 529.0,20.4 541.6,18.9 544.9,19.2 555.5,20.8 560.7,20.6 569.3,22.7 576.6,23.0 584.0,23.8 592.4,24.5 602.1,15.8 603.0,15.8 592.4,25.3 583.3,24.5 576.6,23.8 568.5,23.5 560.7,21.6 554.5,21.8 544.9,20.4 540.5,20.0 529.0,21.3 522.6,21.9 513.2,20.5 507.9,20.8 497.4,26.7 485.9,26.7 481.5,26.9 470.2,26.6 465.7,24.5 456.9,24.2 449.8,15.8 451.2,15.8ZM624.1,22.8 615.5,30.9 609.6,37.2 608.3,38.5 600.3,46.1 602.8,48.4 601.5,52.5 600.6,61.2 600.6,68.5 600.6,76.3 596.9,87.2 597.2,91.5 602.0,97.5 601.5,106.6 600.2,114.3 600.5,121.8 603.0,126.8 602.7,136.9 602.7,142.2 602.8,152.0 601.0,158.9 601.5,167.2 602.6,172.5 603.0,182.3 592.4,192.1 579.7,194.4 576.6,192.7 570.2,197.4 568.6,205.0 576.6,202.2 584.5,205.0 592.4,212.6 592.4,212.6 592.4,212.6 602.3,218.3 602.8,227.7 602.1,227.7 601.6,218.9 592.4,213.6 591.5,213.4 590.6,212.6 583.6,205.9 576.6,203.4 566.6,206.9 568.6,197.4 576.6,191.5 580.5,193.6 592.4,191.4 602.3,182.3 602.0,173.1 600.8,167.2 600.3,159.6 602.3,152.0 602.1,142.7 602.1,136.9 602.4,127.3 599.7,121.8 599.4,115.1 600.8,106.6 601.3,98.1 596.0,91.5 595.8,88.2 599.9,76.3 599.9,69.2 599.9,61.2 600.7,53.3 602.2,48.7 599.4,46.2 599.5,46.1 599.6,46.0 608.3,37.7 615.2,30.9 615.6,30.5 624.1,22.4 624.1,22.6 624.1,22.8ZM624.1,38.1 615.4,46.1 616.2,53.6 617.9,61.2 617.9,67.1 619.2,76.3 618.9,81.3 618.9,91.5 619.3,96.1 619.3,106.6 619.0,111.5 616.8,121.8 617.1,128.4 613.8,136.9 613.7,146.8 613.9,152.0 613.5,162.1 615.1,167.2 614.7,176.1 614.2,182.3 615.2,190.8 624.1,191.7 624.1,192.4 614.6,191.3 613.5,182.3 614.0,176.8 614.4,167.2 613.0,162.7 613.4,152.0 613.2,147.3 613.3,136.9 616.3,129.2 616.0,121.8 618.0,112.4 618.3,106.6 618.3,97.0 617.9,91.5 617.9,82.3 618.2,76.3 617.1,67.9 617.1,61.2 615.5,54.3 614.6,46.1 624.1,37.3 624.1,38.1ZM624.1,207.2 618.9,212.6 618.5,218.0 613.4,227.7 612.8,227.7 617.3,219.0 617.9,212.6 624.1,206.1 624.1,207.2ZM438.0,227.7 449.8,216.4 460.6,217.4 465.7,216.2 481.5,212.6 481.5,212.6 496.0,213.8 497.4,213.7 498.6,212.6 513.2,199.6 526.8,199.6 527.2,212.6 526.1,215.4 529.0,216.2 533.6,212.6 536.1,205.8 537.0,197.4 544.9,182.3 544.9,182.3 544.9,182.3 544.9,182.3 544.8,182.3 529.0,189.0 522.0,189.0 513.2,184.8 511.4,184.0 497.4,193.9 485.5,193.6 481.5,193.9 469.4,193.9 465.7,189.4 458.3,189.4 449.8,190.8 442.9,197.4 439.1,202.0 434.0,207.6 428.8,212.6 424.6,216.6 418.1,222.8 413.0,227.7 411.9,227.7 418.1,221.7 422.6,217.5 427.7,212.6 434.0,206.6 437.6,202.7 441.9,197.4 449.8,189.8 459.5,188.2 465.7,188.2 469.9,193.4 481.5,193.4 486.1,193.0 497.4,193.3 513.0,182.3 513.2,181.7 513.6,181.9 514.6,182.3 524.2,186.9 529.0,186.9 539.9,182.3 544.9,178.5 546.5,180.8 546.7,182.3 544.9,186.1 539.0,197.4 538.3,203.7 535.0,212.6 529.0,217.4 525.2,216.3 526.6,212.6 526.2,200.1 513.2,200.1 499.2,212.6 497.4,214.3 495.4,214.5 481.5,213.3 480.6,213.4 465.7,216.8 459.7,218.3 449.8,217.3 438.9,227.7 438.0,227.7Z"/><path fill-rule="evenodd" fill="#00f0cf" stroke="#00f0cf" stroke-width="0.3" d="M402.3,218.5 408.6,212.6 414.6,207.3 418.1,204.1 425.1,197.4 431.8,191.5 434.0,189.6 441.6,182.3 440.0,179.7 442.1,174.5 438.8,167.2 435.9,165.3 438.2,152.0 438.5,147.7 438.1,136.9 445.1,126.3 444.9,121.8 443.0,113.1 443.0,106.6 449.8,94.0 452.5,91.5 451.0,90.4 449.8,89.7 444.8,91.5 434.0,95.2 429.2,96.1 418.1,101.9 412.5,106.6 414.2,110.4 418.1,109.3 430.4,110.0 430.4,121.8 418.1,135.1 416.2,136.9 416.0,139.0 414.4,152.0 413.2,156.7 413.0,167.2 413.3,171.8 413.5,182.3 402.3,193.0 402.3,192.3 412.7,182.3 412.5,172.5 412.2,167.2 412.4,157.5 413.8,152.0 415.3,139.6 415.6,136.9 418.1,134.5 429.9,121.8 429.9,110.5 418.1,109.9 413.4,111.2 411.3,106.6 418.1,100.9 431.4,94.0 434.0,93.5 439.9,91.5 449.8,88.0 452.1,89.3 455.1,91.5 449.8,96.6 444.4,106.6 444.4,111.8 446.5,121.8 446.7,124.8 438.7,136.9 439.0,147.2 438.8,152.0 436.6,164.7 440.3,167.2 443.2,173.5 440.8,179.4 442.7,182.3 434.0,190.6 433.9,190.6 426.2,197.4 418.1,205.1 416.7,206.4 409.6,212.6 402.3,219.6 402.3,218.5ZM402.3,37.1 411.6,37.2 415.5,46.1 416.0,48.1 418.1,49.9 426.6,53.1 428.3,61.2 424.1,70.7 432.9,76.3 433.7,76.6 434.0,77.7 434.4,76.3 435.0,75.3 443.9,61.2 438.0,57.4 439.4,46.1 449.8,37.2 459.4,36.9 465.7,38.1 474.4,37.8 481.5,35.5 492.5,35.5 497.4,35.5 508.1,35.8 513.2,38.5 520.5,39.1 529.0,38.0 537.9,37.6 544.9,42.6 548.4,42.7 560.7,38.8 568.6,38.5 576.6,37.4 586.3,36.8 592.4,38.9 600.7,30.9 606.0,25.1 608.3,22.8 615.6,15.8 616.6,15.8 608.3,23.8 607.7,24.4 605.6,26.7 601.3,30.9 601.0,31.2 592.4,39.4 592.2,39.5 591.7,39.6 585.5,37.5 576.6,38.1 567.8,39.3 560.7,39.6 547.2,43.9 544.9,43.8 537.2,38.3 529.0,38.6 519.8,39.8 513.2,39.3 507.6,36.3 497.4,36.1 492.0,36.1 481.5,36.1 473.6,38.5 465.7,38.8 458.8,37.5 449.8,37.8 440.1,46.1 438.7,56.7 445.9,61.2 440.0,70.6 436.4,76.3 434.0,84.0 432.3,78.0 428.0,76.3 422.1,72.6 427.2,61.2 425.7,54.0 418.1,51.1 415.3,48.8 414.6,46.1 411.0,37.8 402.3,37.7 402.3,37.1ZM402.3,25.1 412.8,15.8 413.4,15.8 402.3,25.6 402.3,25.1ZM452.5,15.8 458.3,22.8 465.7,23.1 471.2,25.6 481.5,25.9 487.0,25.7 497.4,25.7 510.6,18.3 513.2,18.1 524.8,19.9 529.0,19.5 542.7,17.9 544.9,18.1 556.6,19.8 560.7,19.7 570.1,22.0 576.6,22.2 584.8,23.1 592.4,23.7 601.2,15.8 602.1,15.8 592.4,24.5 584.0,23.8 576.6,23.0 569.3,22.7 560.7,20.6 555.5,20.8 544.9,19.2 541.6,18.9 529.0,20.4 523.7,20.9 513.2,19.3 509.3,19.6 497.4,26.2 486.5,26.2 481.5,26.4 470.7,26.1 465.7,23.8 457.6,23.5 451.2,15.8 452.5,15.8ZM624.1,22.4 615.6,30.5 615.2,30.9 608.3,37.7 599.6,46.0 599.5,46.1 599.4,46.2 602.2,48.7 600.7,53.3 599.9,61.2 599.9,69.2 599.9,76.3 595.8,88.2 596.0,91.5 601.3,98.1 600.8,106.6 599.4,115.1 599.7,121.8 602.4,127.3 602.1,136.9 602.1,142.7 602.3,152.0 600.3,159.6 600.8,167.2 602.0,173.1 602.3,182.3 592.4,191.4 580.5,193.6 576.6,191.5 568.6,197.4 566.6,206.9 576.6,203.4 583.6,205.9 590.6,212.6 591.5,213.4 592.4,213.6 601.6,218.9 602.1,227.7 601.4,227.7 601.0,219.5 592.4,214.6 590.6,214.3 588.8,212.6 582.7,206.7 576.6,204.5 564.7,208.8 567.0,197.4 576.6,190.3 581.3,192.9 592.4,190.8 601.6,182.3 601.3,173.8 600.0,167.2 599.6,160.3 601.7,152.0 601.6,143.2 601.6,136.9 601.9,127.9 598.9,121.8 598.6,115.8 600.2,106.6 600.6,98.8 594.8,91.5 594.7,89.3 599.1,76.3 599.1,69.9 599.1,61.2 599.8,54.1 601.5,49.0 599.0,46.6 599.3,46.1 599.9,45.5 608.3,37.5 615.0,30.9 615.9,30.1 624.1,22.2 624.1,22.4ZM624.1,38.8 616.2,46.1 616.9,52.9 618.8,61.2 618.8,66.2 620.2,76.3 619.9,80.3 619.9,91.5 620.2,95.2 620.2,106.6 620.1,110.5 617.6,121.8 617.9,127.7 614.3,136.9 614.2,146.3 614.4,152.0 614.0,161.6 615.8,167.2 615.5,175.4 614.9,182.3 615.8,190.2 624.1,191.1 624.1,191.7 615.2,190.8 614.2,182.3 614.7,176.1 615.1,167.2 613.5,162.1 613.9,152.0 613.7,146.8 613.8,136.9 617.1,128.4 616.8,121.8 619.0,111.5 619.3,106.6 619.3,96.1 618.9,91.5 618.9,81.3 619.2,76.3 617.9,67.1 617.9,61.2 616.2,53.6 615.4,46.1 624.1,38.1 624.1,38.8ZM624.1,208.3 619.9,212.6 619.6,216.9 613.9,227.7 613.4,227.7 618.5,218.0 618.9,212.6 624.1,207.2 624.1,208.3ZM438.9,227.7 449.8,217.3 459.7,218.3 465.7,216.8 480.6,213.4 481.5,213.3 495.4,214.5 497.4,214.3 499.2,212.6 513.2,200.1 526.2,200.1 526.6,212.6 525.2,216.3 529.0,217.4 535.0,212.6 538.3,203.7 539.0,197.4 544.9,186.1 546.7,182.3 546.5,180.8 544.9,178.5 539.9,182.3 529.0,186.9 524.2,186.9 514.6,182.3 513.6,181.9 513.2,181.7 513.0,182.3 497.4,193.3 486.1,193.0 481.5,193.4 469.9,193.4 465.7,188.2 459.5,188.2 449.8,189.8 441.9,197.4 437.6,202.7 434.0,206.6 427.7,212.6 422.6,217.5 418.1,221.7 411.9,227.7 410.8,227.7 418.1,220.7 420.7,218.3 426.7,212.6 434.0,205.6 436.0,203.4 439.9,198.6 441.0,197.4 441.2,197.3 449.8,189.0 450.0,188.9 450.9,188.7 460.7,187.0 465.7,187.0 470.5,192.9 481.5,192.9 486.7,192.5 497.4,192.8 512.2,182.3 513.2,178.8 515.6,180.0 521.2,182.3 526.4,184.8 529.0,184.8 534.9,182.3 544.9,174.7 548.1,179.2 548.5,182.3 544.9,189.9 541.0,197.4 540.5,201.6 536.4,212.6 529.0,218.5 524.2,217.2 526.0,212.6 525.6,200.7 513.2,200.7 499.8,212.6 497.4,214.9 494.7,215.1 481.5,213.9 479.7,214.3 465.7,217.4 458.8,219.1 449.8,218.3 439.9,227.7 438.9,227.7Z"/><path fill-rule="evenodd" fill="#00f1b3" stroke="#00f1b3" stroke-width="0.3" d="M402.3,219.6 409.6,212.6 416.7,206.4 418.1,205.1 426.2,197.4 433.9,190.6 434.0,190.6 442.7,182.3 440.8,179.4 443.2,173.5 440.3,167.2 436.6,164.7 438.8,152.0 439.0,147.2 438.7,136.9 446.7,124.8 446.5,121.8 444.4,111.8 444.4,106.6 449.8,96.6 455.1,91.5 452.1,89.3 449.8,88.0 439.9,91.5 434.0,93.5 431.4,94.0 418.1,100.9 411.3,106.6 413.4,111.2 418.1,109.9 429.9,110.5 429.9,121.8 418.1,134.5 415.6,136.9 415.3,139.6 413.8,152.0 412.4,157.5 412.2,167.2 412.5,172.5 412.7,182.3 402.3,192.3 402.3,191.5 412.0,182.3 411.8,173.3 411.4,167.2 411.6,158.3 413.2,152.0 414.5,140.3 415.0,136.9 418.1,134.0 429.4,121.8 429.4,111.0 418.1,110.4 412.6,111.9 410.2,106.6 418.1,100.0 433.6,91.9 434.0,91.8 434.9,91.5 449.8,86.3 453.2,88.2 457.8,91.5 449.8,99.1 445.7,106.6 445.7,110.5 448.2,121.8 448.3,123.2 439.3,136.9 439.6,146.6 439.3,152.0 437.2,164.0 441.9,167.2 444.3,172.4 441.6,179.0 443.3,181.7 442.9,182.3 442.4,182.8 434.0,190.8 426.9,197.4 426.8,197.6 418.1,205.8 414.2,209.5 410.7,212.6 402.3,220.6 402.3,219.6ZM402.3,37.7 411.0,37.8 414.6,46.1 415.3,48.8 418.1,51.1 425.7,54.0 427.2,61.2 422.1,72.6 428.0,76.3 432.3,78.0 434.0,84.0 436.4,76.3 440.0,70.6 445.9,61.2 438.7,56.7 440.1,46.1 449.8,37.8 458.8,37.5 465.7,38.8 473.6,38.5 481.5,36.1 492.0,36.1 497.4,36.1 507.6,36.3 513.2,39.3 519.8,39.8 529.0,38.6 537.2,38.3 544.9,43.8 547.2,43.9 560.7,39.6 567.8,39.3 576.6,38.1 585.5,37.5 591.7,39.6 592.2,39.5 592.4,39.4 601.0,31.2 601.3,30.9 605.6,26.7 607.7,24.4 608.3,23.8 616.6,15.8 617.0,15.8 617.1,15.8 616.8,16.1 608.3,24.3 601.5,30.9 600.7,31.7 592.4,39.6 591.7,39.9 590.4,40.1 584.8,38.2 576.6,38.8 567.0,40.1 560.7,40.3 546.0,45.0 544.9,44.9 536.5,38.9 529.0,39.3 519.0,40.5 513.2,40.1 507.0,36.8 497.4,36.6 491.5,36.6 481.5,36.6 472.8,39.3 465.7,39.5 458.1,38.1 449.8,38.4 440.8,46.1 439.5,55.9 447.9,61.2 444.9,65.9 438.4,76.3 434.0,90.3 430.9,79.3 423.0,76.3 420.1,74.5 426.0,61.2 424.7,54.9 418.1,52.4 414.5,49.5 413.7,46.1 410.3,38.4 402.3,38.3 402.3,37.7ZM402.3,24.6 412.2,15.8 412.8,15.8 402.3,25.1 402.3,24.6ZM453.8,15.8 459.1,22.1 465.7,22.3 471.7,25.1 481.5,25.4 487.6,25.1 497.4,25.1 511.9,17.0 513.2,17.0 525.8,18.9 529.0,18.6 543.8,16.8 544.9,16.9 557.6,18.8 560.7,18.7 570.9,21.2 576.6,21.4 585.6,22.3 592.4,22.9 600.3,15.8 601.2,15.8 592.4,23.7 584.8,23.1 576.6,22.2 570.1,22.0 560.7,19.7 556.6,19.8 544.9,18.1 542.7,17.9 529.0,19.5 524.8,19.9 513.2,18.1 510.6,18.3 497.4,25.7 487.0,25.7 481.5,25.9 471.2,25.6 465.7,23.1 458.3,22.8 452.5,15.8 453.8,15.8ZM624.1,22.2 615.9,30.1 615.0,30.9 608.3,37.5 599.9,45.5 599.3,46.1 599.0,46.6 601.5,49.0 599.8,54.1 599.1,61.2 599.1,69.9 599.1,76.3 594.7,89.3 594.8,91.5 600.6,98.8 600.2,106.6 598.6,115.8 598.9,121.8 601.9,127.9 601.6,136.9 601.6,143.2 601.7,152.0 599.6,160.3 600.0,167.2 601.3,173.8 601.6,182.3 592.4,190.8 581.3,192.9 576.6,190.3 567.0,197.4 564.7,208.8 576.6,204.5 582.7,206.7 588.8,212.6 590.6,214.3 592.4,214.6 601.0,219.5 601.4,227.7 600.7,227.7 600.3,220.1 592.4,215.6 589.8,215.1 587.0,212.6 581.8,207.6 576.6,205.7 562.7,210.7 565.5,197.4 576.6,189.1 582.1,192.1 592.4,190.2 601.0,182.3 600.7,174.4 599.3,167.2 598.9,161.0 601.2,152.0 601.1,143.7 601.1,136.9 601.3,128.4 598.1,121.8 597.8,116.6 599.5,106.6 599.9,99.4 593.6,91.5 593.5,90.4 598.3,76.3 598.3,70.7 598.3,61.2 599.0,54.9 600.8,49.3 598.5,47.1 599.0,46.1 600.2,45.0 608.3,37.3 614.8,30.9 616.2,29.6 624.1,22.0 624.1,22.2ZM624.1,39.5 617.0,46.1 617.6,52.3 619.7,61.2 619.7,65.4 621.1,76.3 621.0,79.3 621.0,91.5 621.2,94.2 621.2,106.6 621.1,109.5 618.5,121.8 618.7,126.9 614.8,136.9 614.7,145.9 615.0,152.0 614.6,161.1 616.5,167.2 616.2,174.7 615.5,182.3 616.4,189.6 624.1,190.5 624.1,191.1 615.8,190.2 614.9,182.3 615.5,175.4 615.8,167.2 614.0,161.6 614.4,152.0 614.2,146.3 614.3,136.9 617.9,127.7 617.6,121.8 620.1,110.5 620.2,106.6 620.2,95.2 619.9,91.5 619.9,80.3 620.2,76.3 618.8,66.2 618.8,61.2 616.9,52.9 616.2,46.1 624.1,38.8 624.1,39.5ZM624.1,209.3 621.0,212.6 620.7,215.8 614.5,227.7 613.9,227.7 619.6,216.9 619.9,212.6 624.1,208.3 624.1,209.3ZM439.9,227.7 449.8,218.3 458.8,219.1 465.7,217.4 479.7,214.3 481.5,213.9 494.7,215.1 497.4,214.9 499.8,212.6 513.2,200.7 525.6,200.7 526.0,212.6 524.2,217.2 529.0,218.5 536.4,212.6 540.5,201.6 541.0,197.4 544.9,189.9 548.5,182.3 548.1,179.2 544.9,174.7 534.9,182.3 529.0,184.8 526.4,184.8 521.2,182.3 515.6,180.0 513.2,178.8 512.2,182.3 497.4,192.8 486.7,192.5 481.5,192.9 470.5,192.9 465.7,187.0 460.7,187.0 450.9,188.7 450.0,188.9 449.8,189.0 441.2,197.3 441.0,197.4 439.9,198.6 436.0,203.4 434.0,205.6 426.7,212.6 420.7,218.3 418.1,220.7 410.8,227.7 409.7,227.7 418.1,219.7 418.7,219.1 425.6,212.6 434.0,204.5 434.4,204.0 435.3,203.0 440.8,197.4 441.5,196.8 449.8,188.8 450.7,188.2 454.6,187.1 462.0,185.8 465.7,185.8 471.0,192.3 481.5,192.3 487.3,191.9 497.4,192.2 511.4,182.3 513.2,175.8 517.6,178.1 527.8,182.3 528.6,182.7 529.0,182.7 530.0,182.3 544.9,170.9 549.7,177.7 550.3,182.3 544.9,193.7 542.9,197.4 542.7,199.5 537.8,212.6 529.0,219.7 523.3,218.0 525.4,212.6 525.1,201.2 513.2,201.2 500.4,212.6 497.4,215.5 494.0,215.7 481.5,214.6 478.9,215.1 465.7,218.1 457.9,220.0 449.8,219.2 440.9,227.7 439.9,227.7Z"/><path fill-rule="evenodd" fill="#00f394" stroke="#00f394" stroke-width="0.3" d="M409.3,227.7 409.6,227.3 418.1,219.2 425.1,212.6 425.5,212.2 434.0,204.1 440.6,197.4 441.8,196.3 449.8,188.6 451.5,187.5 458.3,185.5 463.2,184.6 465.7,184.6 471.5,191.8 481.5,191.8 487.9,191.3 497.4,191.6 510.5,182.3 513.2,172.9 519.6,176.2 529.0,180.1 544.8,167.2 544.9,167.1 544.9,167.1 544.9,167.2 551.2,176.2 552.1,182.3 544.9,197.4 545.0,197.4 544.9,197.5 539.2,212.6 529.0,220.8 522.4,218.9 524.8,212.6 524.5,201.8 513.2,201.8 501.0,212.6 497.4,216.1 493.4,216.4 481.5,215.3 478.0,215.9 465.7,218.7 457.0,220.8 449.8,220.1 441.9,227.7 440.9,227.7 449.8,219.2 457.9,220.0 465.7,218.1 478.9,215.1 481.5,214.6 494.0,215.7 497.4,215.5 500.4,212.6 513.2,201.2 525.1,201.2 525.4,212.6 523.3,218.0 529.0,219.7 537.8,212.6 542.7,199.5 542.9,197.4 544.9,193.7 550.3,182.3 549.7,177.7 544.9,170.9 530.0,182.3 529.0,182.7 528.6,182.7 527.8,182.3 517.6,178.1 513.2,175.8 511.4,182.3 497.4,192.2 487.3,191.9 481.5,192.3 471.0,192.3 465.7,185.8 462.0,185.8 454.6,187.1 450.7,188.2 449.8,188.8 441.5,196.8 440.8,197.4 435.3,203.0 434.4,204.0 434.0,204.5 425.6,212.6 418.7,219.1 418.1,219.7 409.7,227.7 409.4,227.7 409.3,227.7ZM402.3,220.6 410.7,212.6 414.2,209.5 418.1,205.8 426.8,197.6 426.9,197.4 434.0,190.8 442.4,182.8 442.9,182.3 443.3,181.7 441.6,179.0 444.3,172.4 441.9,167.2 437.2,164.0 439.3,152.0 439.6,146.6 439.3,136.9 448.3,123.2 448.2,121.8 445.7,110.5 445.7,106.6 449.8,99.1 457.8,91.5 453.2,88.2 449.8,86.3 434.9,91.5 434.0,91.8 433.6,91.9 418.1,100.0 410.2,106.6 412.6,111.9 418.1,110.4 429.4,111.0 429.4,121.8 418.1,134.0 415.0,136.9 414.5,140.3 413.2,152.0 411.6,158.3 411.4,167.2 411.8,173.3 412.0,182.3 402.3,191.5 402.3,190.8 411.2,182.3 411.0,174.0 410.5,167.2 410.7,159.1 412.5,152.0 413.8,141.0 414.4,136.9 418.1,133.4 428.8,121.8 428.8,111.5 418.1,110.9 411.8,112.7 409.1,106.6 418.1,99.0 432.5,91.5 429.4,80.7 418.1,76.4 418.1,76.4 418.1,76.3 418.1,76.3 424.9,61.2 423.8,55.8 418.1,53.7 413.8,50.2 412.8,46.1 409.7,39.0 402.3,38.9 402.3,38.3 410.3,38.4 413.7,46.1 414.5,49.5 418.1,52.4 424.7,54.9 426.0,61.2 420.1,74.5 423.0,76.3 430.9,79.3 434.0,90.3 438.4,76.3 444.9,65.9 447.9,61.2 439.5,55.9 440.8,46.1 449.8,38.4 458.1,38.1 465.7,39.5 472.8,39.3 481.5,36.6 491.5,36.6 497.4,36.6 507.0,36.8 513.2,40.1 519.0,40.5 529.0,39.3 536.5,38.9 544.9,44.9 546.0,45.0 560.7,40.3 567.0,40.1 576.6,38.8 584.8,38.2 590.4,40.1 591.7,39.9 592.4,39.6 600.7,31.7 601.5,30.9 608.3,24.3 616.8,16.1 617.1,15.8 617.4,15.8 616.5,16.6 608.3,24.5 601.7,30.9 600.4,32.2 592.4,39.8 591.3,40.3 589.2,40.7 584.0,38.9 576.6,39.4 566.2,40.8 560.7,41.0 544.9,46.1 544.9,46.1 544.9,46.1 544.9,46.1 535.9,39.6 529.0,39.9 518.3,41.2 513.2,40.8 506.5,37.3 497.4,37.1 490.9,37.1 481.5,37.1 472.0,40.0 465.7,40.3 457.5,38.8 449.8,39.0 441.5,46.1 440.3,55.1 449.8,61.2 449.9,61.2 449.9,61.2 449.8,61.3 440.4,76.3 436.3,89.3 449.8,84.6 454.4,87.1 460.4,91.5 449.8,101.6 447.1,106.6 447.1,109.2 449.8,121.6 449.9,121.7 449.9,121.8 449.8,121.8 439.9,136.9 440.2,146.1 439.9,152.0 437.9,163.4 443.5,167.2 445.4,171.3 442.4,178.7 443.9,181.1 443.2,182.3 442.1,183.3 434.0,191.1 427.2,197.4 426.5,198.1 418.1,206.1 411.2,212.6 410.8,212.9 402.3,221.1 402.3,220.9 402.3,220.6ZM402.3,24.1 411.6,15.8 412.2,15.8 402.3,24.6 402.3,24.1ZM455.1,15.8 459.8,21.4 465.7,21.6 472.3,24.6 481.5,24.9 488.1,24.6 497.4,24.6 513.2,15.8 513.2,15.8 513.3,15.8 526.9,17.8 529.0,17.6 544.8,15.8 544.9,15.8 545.0,15.8 558.7,17.8 560.7,17.7 571.7,20.4 576.6,20.6 586.3,21.6 592.4,22.1 599.4,15.8 600.3,15.8 592.4,22.9 585.6,22.3 576.6,21.4 570.9,21.2 560.7,18.7 557.6,18.8 544.9,16.9 543.8,16.8 529.0,18.6 525.8,18.9 513.2,17.0 511.9,17.0 497.4,25.1 487.6,25.1 481.5,25.4 471.7,25.1 465.7,22.3 459.1,22.1 453.8,15.8 455.1,15.8ZM624.1,22.0 616.2,29.6 614.8,30.9 608.3,37.3 600.2,45.0 599.0,46.1 598.5,47.1 600.8,49.3 599.0,54.9 598.3,61.2 598.3,70.7 598.3,76.3 593.5,90.4 593.6,91.5 599.9,99.4 599.5,106.6 597.8,116.6 598.1,121.8 601.3,128.4 601.1,136.9 601.1,143.7 601.2,152.0 598.9,161.0 599.3,167.2 600.7,174.4 601.0,182.3 592.4,190.2 582.1,192.1 576.6,189.1 565.5,197.4 562.7,210.7 576.6,205.7 581.8,207.6 587.0,212.6 589.8,215.1 592.4,215.6 600.3,220.1 600.7,227.7 600.1,227.7 599.7,220.8 592.4,216.6 588.9,215.9 585.2,212.6 580.9,208.4 576.6,206.9 560.8,212.6 560.7,212.6 560.7,212.6 560.7,212.6 560.7,212.5 563.9,197.4 576.6,188.0 582.9,191.4 592.4,189.6 600.3,182.3 600.1,175.0 598.5,167.2 598.2,161.7 600.7,152.0 600.5,144.3 600.5,136.9 600.8,128.9 597.3,121.8 597.1,117.3 598.9,106.6 599.2,100.1 592.4,91.5 592.4,91.5 592.4,91.5 592.4,91.4 597.6,76.3 597.6,71.4 597.6,61.2 598.1,55.7 600.1,49.6 598.0,47.6 598.8,46.1 600.4,44.5 608.3,37.0 614.5,30.9 616.4,29.1 624.1,21.8 624.1,22.0ZM624.1,40.3 617.8,46.1 618.3,51.6 620.6,61.2 620.6,64.6 622.1,76.3 622.0,78.3 622.0,91.5 622.2,93.3 622.2,106.6 622.1,108.5 619.3,121.8 619.5,126.2 615.3,136.9 615.2,145.4 615.5,152.0 615.1,160.6 617.2,167.2 616.9,174.0 616.2,182.3 617.0,189.1 624.1,189.9 624.1,190.5 616.4,189.6 615.5,182.3 616.2,174.7 616.5,167.2 614.6,161.1 615.0,152.0 614.7,145.9 614.8,136.9 618.7,126.9 618.5,121.8 621.1,109.5 621.2,106.6 621.2,94.2 621.0,91.5 621.0,79.3 621.1,76.3 619.7,65.4 619.7,61.2 617.6,52.3 617.0,46.1 624.1,39.5 624.1,40.3ZM624.1,210.4 622.0,212.6 621.9,214.7 615.1,227.7 614.5,227.7 620.7,215.8 621.0,212.6 624.1,209.3 624.1,210.4Z"/><path fill-rule="evenodd" fill="#00f576" stroke="#00f576" stroke-width="0.3" d="M409.0,227.7 410.0,226.8 418.1,219.0 424.8,212.6 425.8,211.7 434.0,203.8 440.3,197.4 442.1,195.8 449.8,188.4 452.2,186.9 462.0,183.9 464.5,183.5 465.7,183.5 472.1,191.3 481.5,191.3 488.5,190.8 497.4,191.0 509.7,182.3 513.2,170.0 521.5,174.3 529.0,177.4 541.5,167.2 544.9,162.4 546.5,165.6 547.6,167.2 552.8,174.7 553.9,182.3 548.2,194.2 552.9,197.4 544.9,201.3 540.7,212.6 529.0,222.0 521.5,219.8 524.3,212.6 523.9,202.3 513.2,202.3 501.6,212.6 497.4,216.6 492.7,217.0 481.5,216.0 477.1,216.8 465.7,219.4 456.1,221.7 449.8,221.1 442.9,227.7 441.9,227.7 449.8,220.1 457.0,220.8 465.7,218.7 478.0,215.9 481.5,215.3 493.4,216.4 497.4,216.1 501.0,212.6 513.2,201.8 524.5,201.8 524.8,212.6 522.4,218.9 529.0,220.8 539.2,212.6 544.9,197.5 545.0,197.4 544.9,197.4 552.1,182.3 551.2,176.2 544.9,167.2 544.9,167.1 544.9,167.1 544.8,167.2 529.0,180.1 519.6,176.2 513.2,172.9 510.5,182.3 497.4,191.6 487.9,191.3 481.5,191.8 471.5,191.8 465.7,184.6 463.2,184.6 458.3,185.5 451.5,187.5 449.8,188.6 441.8,196.3 440.6,197.4 434.0,204.1 425.5,212.2 425.1,212.6 418.1,219.2 409.6,227.3 409.3,227.7 409.0,227.7ZM402.3,221.1 410.8,212.9 411.2,212.6 418.1,206.1 426.5,198.1 427.2,197.4 434.0,191.1 442.1,183.3 443.2,182.3 443.9,181.1 442.4,178.7 445.4,171.3 443.5,167.2 437.9,163.4 439.9,152.0 440.2,146.1 439.9,136.9 449.8,121.8 449.9,121.8 449.9,121.7 449.8,121.6 447.1,109.2 447.1,106.6 449.8,101.6 460.4,91.5 454.4,87.1 449.8,84.6 436.3,89.3 440.4,76.3 449.8,61.3 449.9,61.2 449.9,61.2 449.8,61.2 440.3,55.1 441.5,46.1 449.8,39.0 457.5,38.8 465.7,40.3 472.0,40.0 481.5,37.1 490.9,37.1 497.4,37.1 506.5,37.3 513.2,40.8 518.3,41.2 529.0,39.9 535.9,39.6 544.9,46.1 544.9,46.1 544.9,46.1 544.9,46.1 560.7,41.0 566.2,40.8 576.6,39.4 584.0,38.9 589.2,40.7 591.3,40.3 592.4,39.8 600.4,32.2 601.7,30.9 608.3,24.5 616.5,16.6 617.4,15.8 617.6,15.8 616.2,17.2 608.3,24.7 602.0,30.9 600.1,32.7 592.4,40.1 590.9,40.7 587.9,41.2 583.3,39.7 576.6,40.1 565.4,41.6 560.7,41.8 547.3,46.1 544.9,48.6 542.5,48.3 543.3,46.1 535.2,40.2 529.0,40.5 517.5,41.9 513.2,41.6 506.0,37.8 497.4,37.6 490.4,37.6 481.5,37.6 471.2,40.8 465.7,41.0 456.8,39.4 449.8,39.6 442.2,46.1 441.1,54.4 449.8,59.9 451.8,59.3 451.8,61.2 449.8,64.4 442.3,76.3 439.1,86.6 449.8,82.9 455.5,86.1 463.1,91.5 449.8,104.1 448.5,106.6 448.5,107.9 449.8,114.1 451.8,119.8 453.2,121.8 449.8,122.7 440.5,136.9 440.8,145.5 440.4,152.0 438.5,162.8 445.1,167.2 446.5,170.3 443.2,178.3 444.6,180.5 443.4,182.3 441.8,183.8 434.0,191.3 427.4,197.4 426.2,198.6 418.1,206.3 411.4,212.6 410.5,213.5 402.3,221.3 402.3,221.1ZM402.3,190.0 410.4,182.3 410.2,174.7 409.7,167.2 409.9,159.9 411.9,152.0 413.1,141.7 413.7,136.9 418.1,132.8 428.3,121.8 428.3,112.0 418.1,111.5 411.0,113.4 407.9,106.6 418.1,98.1 430.7,91.5 428.0,82.0 418.1,78.3 415.5,78.9 416.5,76.3 418.1,73.8 423.8,61.2 422.8,56.7 418.1,54.9 413.1,50.9 412.0,46.1 409.1,39.6 402.3,39.5 402.3,38.9 409.7,39.0 412.8,46.1 413.8,50.2 418.1,53.7 423.8,55.8 424.9,61.2 418.1,76.3 418.1,76.3 418.1,76.4 418.1,76.4 429.4,80.7 432.5,91.5 418.1,99.0 409.1,106.6 411.8,112.7 418.1,110.9 428.8,111.5 428.8,121.8 418.1,133.4 414.4,136.9 413.8,141.0 412.5,152.0 410.7,159.1 410.5,167.2 411.0,174.0 411.2,182.3 402.3,190.8 402.3,190.0ZM402.3,23.6 411.0,15.8 411.6,15.8 402.3,24.1 402.3,23.6ZM456.5,15.8 460.5,20.7 465.7,20.9 472.8,24.1 481.5,24.4 488.7,24.1 497.4,24.1 512.2,15.8 513.2,15.8 497.4,24.6 488.1,24.6 481.5,24.9 472.3,24.6 465.7,21.6 459.8,21.4 455.1,15.8 456.5,15.8ZM521.2,15.8 528.0,16.8 529.0,16.7 536.8,15.8 544.8,15.8 529.0,17.6 526.9,17.8 513.3,15.8 521.2,15.8ZM552.9,15.8 559.7,16.8 560.7,16.8 572.5,19.6 576.6,19.8 587.1,20.9 592.4,21.3 598.6,15.8 599.4,15.8 592.4,22.1 586.3,21.6 576.6,20.6 571.7,20.4 560.7,17.7 558.7,17.8 545.0,15.8 552.9,15.8ZM624.1,21.8 616.4,29.1 614.5,30.9 608.3,37.0 600.4,44.5 598.8,46.1 598.0,47.6 600.1,49.6 598.1,55.7 597.6,61.2 597.6,71.4 597.6,76.3 592.4,91.4 592.4,91.5 592.4,91.5 592.4,91.5 599.2,100.1 598.9,106.6 597.1,117.3 597.3,121.8 600.8,128.9 600.5,136.9 600.5,144.3 600.7,152.0 598.2,161.7 598.5,167.2 600.1,175.0 600.3,182.3 592.4,189.6 582.9,191.4 576.6,188.0 563.9,197.4 560.7,212.5 560.7,212.6 560.7,212.6 560.7,212.6 560.8,212.6 576.6,206.9 580.9,208.4 585.2,212.6 588.9,215.9 592.4,216.6 599.7,220.8 600.1,227.7 599.4,227.7 599.0,221.4 592.4,217.6 588.0,216.8 583.4,212.6 580.0,209.3 576.6,208.1 564.1,212.6 560.7,215.1 558.0,215.1 556.7,212.6 560.7,204.9 562.3,197.4 576.6,186.8 583.7,190.6 592.4,189.0 599.7,182.3 599.4,175.6 597.7,167.2 597.4,162.4 600.1,152.0 600.0,144.8 600.0,136.9 600.2,129.4 596.4,121.8 596.3,118.1 598.2,106.6 598.5,100.8 592.4,93.0 589.7,94.0 589.7,91.5 592.4,89.2 596.8,76.3 596.8,72.1 596.8,61.2 597.3,56.6 599.5,49.8 597.5,48.0 598.6,46.1 600.7,44.0 608.3,36.8 614.3,30.9 616.7,28.6 624.1,21.6 624.1,21.8ZM624.1,41.0 618.6,46.1 619.1,50.9 621.5,61.2 621.5,63.7 623.1,76.3 623.1,77.3 623.1,91.5 623.1,92.4 623.1,106.6 623.1,107.6 620.1,121.8 620.2,125.4 615.8,136.9 615.7,144.9 616.0,152.0 615.7,160.1 617.9,167.2 617.6,173.3 616.8,182.3 617.6,188.5 624.1,189.2 624.1,189.9 617.0,189.1 616.2,182.3 616.9,174.0 617.2,167.2 615.1,160.6 615.5,152.0 615.2,145.4 615.3,136.9 619.5,126.2 619.3,121.8 622.1,108.5 622.2,106.6 622.2,93.3 622.0,91.5 622.0,78.3 622.1,76.3 620.6,64.6 620.6,61.2 618.3,51.6 617.8,46.1 624.1,40.3 624.1,41.0ZM624.1,211.5 623.1,212.6 623.0,213.6 615.6,227.7 615.1,227.7 621.9,214.7 622.0,212.6 624.1,210.4 624.1,211.5Z"/><path fill-rule="evenodd" fill="#00f65f" stroke="#00f65f" stroke-width="0.3" d="M408.8,227.7 410.3,226.3 418.1,218.7 424.6,212.6 426.1,211.1 434.0,203.6 440.1,197.4 442.3,195.3 449.8,188.1 452.9,186.2 465.6,182.3 465.7,182.3 465.7,182.3 465.7,182.3 472.6,190.8 481.5,190.8 489.1,190.2 497.4,190.4 508.9,182.3 513.2,167.2 513.2,167.2 513.2,167.1 513.2,167.1 513.3,167.2 523.5,172.4 529.0,174.7 538.2,167.2 544.9,157.6 548.1,164.1 550.2,167.2 554.4,173.2 555.7,182.3 551.5,191.1 560.7,197.3 560.8,197.3 576.6,185.6 584.5,189.8 592.4,188.4 599.0,182.3 598.8,176.2 597.0,167.2 596.7,163.0 599.6,152.0 599.5,145.3 599.5,136.9 599.7,130.0 595.6,121.8 595.5,118.8 597.6,106.6 597.9,101.4 592.4,94.5 587.1,96.6 587.1,91.5 592.4,87.0 596.1,76.3 596.1,72.9 596.1,61.2 596.4,57.4 598.8,50.1 597.0,48.5 598.4,46.1 601.0,43.5 608.3,36.6 614.1,30.9 617.0,28.2 624.1,21.4 624.1,21.6 616.7,28.6 614.3,30.9 608.3,36.8 600.7,44.0 598.6,46.1 597.5,48.0 599.5,49.8 597.3,56.6 596.8,61.2 596.8,72.1 596.8,76.3 592.4,89.2 589.7,91.5 589.7,94.0 592.4,93.0 598.5,100.8 598.2,106.6 596.3,118.1 596.4,121.8 600.2,129.4 600.0,136.9 600.0,144.8 600.1,152.0 597.4,162.4 597.7,167.2 599.4,175.6 599.7,182.3 592.4,189.0 583.7,190.6 576.6,186.8 562.3,197.4 560.7,204.9 556.7,212.6 558.0,215.1 560.7,215.1 564.1,212.6 576.6,208.1 580.0,209.3 583.4,212.6 588.0,216.8 592.4,217.6 599.0,221.4 599.4,227.7 598.7,227.7 598.4,222.0 592.4,218.6 587.1,217.6 581.6,212.6 579.1,210.2 576.6,209.3 567.4,212.6 560.7,217.7 555.4,217.7 552.7,212.6 560.6,197.6 544.9,205.1 542.1,212.6 529.0,223.1 520.6,220.7 523.7,212.6 523.4,202.8 513.2,202.8 502.2,212.6 497.4,217.2 492.1,217.6 481.5,216.7 476.2,217.6 465.7,220.0 455.2,222.6 449.8,222.0 443.9,227.7 442.9,227.7 449.8,221.1 456.1,221.7 465.7,219.4 477.1,216.8 481.5,216.0 492.7,217.0 497.4,216.6 501.6,212.6 513.2,202.3 523.9,202.3 524.3,212.6 521.5,219.8 529.0,222.0 540.7,212.6 544.9,201.3 552.9,197.4 548.2,194.2 553.9,182.3 552.8,174.7 547.6,167.2 546.5,165.6 544.9,162.4 541.5,167.2 529.0,177.4 521.5,174.3 513.2,170.0 509.7,182.3 497.4,191.0 488.5,190.8 481.5,191.3 472.1,191.3 465.7,183.5 464.5,183.5 462.0,183.9 452.2,186.9 449.8,188.4 442.1,195.8 440.3,197.4 434.0,203.8 425.8,211.7 424.8,212.6 418.1,219.0 410.0,226.8 409.0,227.7 408.8,227.7ZM402.3,221.3 410.5,213.5 411.4,212.6 418.1,206.3 426.2,198.6 427.4,197.4 434.0,191.3 441.8,183.8 443.4,182.3 444.6,180.5 443.2,178.3 446.5,170.3 445.1,167.2 438.5,162.8 440.4,152.0 440.8,145.5 440.5,136.9 449.8,122.7 453.2,121.8 451.8,119.8 449.8,114.1 448.5,107.9 448.5,106.6 449.8,104.1 463.1,91.5 455.5,86.1 449.8,82.9 439.1,86.6 442.3,76.3 449.8,64.4 451.8,61.2 451.8,59.3 449.8,59.9 441.1,54.4 442.2,46.1 449.8,39.6 456.8,39.4 465.7,41.0 471.2,40.8 481.5,37.6 490.4,37.6 497.4,37.6 506.0,37.8 513.2,41.6 517.5,41.9 529.0,40.5 535.2,40.2 543.3,46.1 542.5,48.3 544.9,48.6 547.3,46.1 560.7,41.8 565.4,41.6 576.6,40.1 583.3,39.7 587.9,41.2 590.9,40.7 592.4,40.1 600.1,32.7 602.0,30.9 608.3,24.7 616.2,17.2 617.6,15.8 617.9,15.8 615.9,17.7 608.3,25.0 602.2,30.9 599.8,33.2 592.4,40.3 590.4,41.2 586.6,41.7 582.5,40.4 576.6,40.8 564.6,42.4 560.7,42.5 549.6,46.1 544.9,51.2 540.2,50.6 541.7,46.1 534.5,40.9 529.0,41.1 516.8,42.7 513.2,42.4 505.5,38.3 497.4,38.1 489.9,38.1 481.5,38.1 470.4,41.5 465.7,41.7 456.2,40.0 449.8,40.2 442.9,46.1 441.9,53.6 449.8,58.7 453.8,57.4 453.8,61.2 449.8,67.6 444.3,76.3 442.0,83.9 449.8,81.1 456.6,85.0 465.7,91.4 465.7,91.5 465.7,91.5 465.7,91.5 449.9,106.6 453.8,117.9 456.5,121.8 449.8,123.6 441.1,136.9 441.3,145.0 440.9,152.0 439.2,162.2 446.7,167.2 447.6,169.2 444.0,178.0 445.2,179.9 443.6,182.3 441.5,184.3 434.0,191.5 427.7,197.4 425.9,199.2 418.1,206.5 411.7,212.6 410.2,214.0 402.3,221.5 402.3,221.3ZM402.3,189.2 409.6,182.3 409.4,175.5 408.9,167.2 409.0,160.7 411.2,152.0 412.4,142.4 413.1,136.9 418.1,132.2 427.8,121.8 427.8,112.6 418.1,112.0 410.2,114.2 406.8,106.6 418.1,97.1 428.9,91.5 426.6,83.4 418.1,80.2 412.8,81.4 414.9,76.3 418.1,71.3 422.7,61.2 421.9,57.6 418.1,56.2 412.4,51.6 411.1,46.1 408.5,40.2 402.3,40.1 402.3,39.5 409.1,39.6 412.0,46.1 413.1,50.9 418.1,54.9 422.8,56.7 423.8,61.2 418.1,73.8 416.5,76.3 415.5,78.9 418.1,78.3 428.0,82.0 430.7,91.5 418.1,98.1 407.9,106.6 411.0,113.4 418.1,111.5 428.3,112.0 428.3,121.8 418.1,132.8 413.7,136.9 413.1,141.7 411.9,152.0 409.9,159.9 409.7,167.2 410.2,174.7 410.4,182.3 402.3,190.0 402.3,189.2ZM402.3,23.0 410.4,15.8 411.0,15.8 402.3,23.6 402.3,23.0ZM457.8,15.8 461.3,20.0 465.7,20.2 473.3,23.7 481.5,23.9 489.2,23.6 497.4,23.6 511.3,15.8 512.2,15.8 497.4,24.1 488.7,24.1 481.5,24.4 472.8,24.1 465.7,20.9 460.5,20.7 456.5,15.8 457.8,15.8ZM536.8,15.8 529.0,16.7 528.0,16.8 521.2,15.8 529.0,15.8 536.8,15.8ZM560.8,15.8 573.4,18.9 576.6,19.0 587.9,20.2 592.4,20.5 597.7,15.8 598.6,15.8 592.4,21.3 587.1,20.9 576.6,19.8 572.5,19.6 560.7,16.8 559.7,16.8 552.9,15.8 560.7,15.8 560.8,15.8ZM624.1,41.7 619.4,46.1 619.8,50.2 622.4,61.2 622.4,62.9 624.1,76.2 624.1,76.3 624.1,91.5 624.1,106.6 624.1,106.7 620.9,121.8 621.0,124.7 616.3,136.9 616.2,144.4 616.5,152.0 616.2,159.6 618.6,167.2 618.4,172.6 617.5,182.3 618.2,187.9 624.1,188.6 624.1,189.2 617.6,188.5 616.8,182.3 617.6,173.3 617.9,167.2 615.7,160.1 616.0,152.0 615.7,144.9 615.8,136.9 620.2,125.4 620.1,121.8 623.1,107.6 623.1,106.6 623.1,92.4 623.1,91.5 623.1,77.3 623.1,76.3 621.5,63.7 621.5,61.2 619.1,50.9 618.6,46.1 624.1,41.0 624.1,41.7ZM624.1,212.6 616.2,227.7 615.6,227.7 623.0,213.6 623.1,212.6 624.1,211.5 624.1,212.6 624.1,212.6Z"/><path fill-rule="evenodd" fill="#00f84a" stroke="#00f84a" stroke-width="0.3" d="M408.5,227.7 410.6,225.7 418.1,218.5 424.3,212.6 426.4,210.6 434.0,203.4 439.9,197.4 442.6,194.8 449.8,187.9 453.6,185.5 464.1,182.3 465.7,180.8 468.4,179.7 466.7,182.3 473.2,190.3 481.5,190.3 489.7,189.6 497.4,189.9 508.1,182.3 512.0,168.3 511.6,167.2 513.2,163.3 515.0,165.4 519.0,167.2 525.5,170.5 529.0,172.0 534.9,167.2 544.9,152.9 549.7,162.6 552.9,167.2 556.0,171.7 557.5,182.3 554.8,187.9 560.7,191.9 566.5,191.9 576.6,184.4 585.3,189.1 592.4,187.8 598.3,182.3 598.2,176.8 596.2,167.2 596.0,163.7 599.0,152.0 598.9,145.8 598.9,136.9 599.1,130.5 594.8,121.8 594.7,119.5 596.9,106.6 597.2,102.1 592.4,96.0 584.4,99.1 584.4,91.5 592.4,84.8 595.3,76.3 595.3,73.6 595.3,61.2 595.6,58.2 598.1,50.4 596.5,49.0 598.1,46.1 601.3,43.1 608.3,36.4 613.9,30.9 617.3,27.7 624.1,21.1 624.1,21.4 617.0,28.2 614.1,30.9 608.3,36.6 601.0,43.5 598.4,46.1 597.0,48.5 598.8,50.1 596.4,57.4 596.1,61.2 596.1,72.9 596.1,76.3 592.4,87.0 587.1,91.5 587.1,96.6 592.4,94.5 597.9,101.4 597.6,106.6 595.5,118.8 595.6,121.8 599.7,130.0 599.5,136.9 599.5,145.3 599.6,152.0 596.7,163.0 597.0,167.2 598.8,176.2 599.0,182.3 592.4,188.4 584.5,189.8 576.6,185.6 560.8,197.3 560.7,197.3 551.5,191.1 555.7,182.3 554.4,173.2 550.2,167.2 548.1,164.1 544.9,157.6 538.2,167.2 529.0,174.7 523.5,172.4 513.3,167.2 513.2,167.1 513.2,167.1 513.2,167.2 513.2,167.2 508.9,182.3 497.4,190.4 489.1,190.2 481.5,190.8 472.6,190.8 465.7,182.3 465.7,182.3 465.7,182.3 465.6,182.3 452.9,186.2 449.8,188.1 442.3,195.3 440.1,197.4 434.0,203.6 426.1,211.1 424.6,212.6 418.1,218.7 410.3,226.3 408.8,227.7 408.5,227.7ZM402.3,221.5 410.2,214.0 411.7,212.6 418.1,206.5 425.9,199.2 427.7,197.4 434.0,191.5 441.5,184.3 443.6,182.3 445.2,179.9 444.0,178.0 447.6,169.2 446.7,167.2 439.2,162.2 440.9,152.0 441.3,145.0 441.1,136.9 449.8,123.6 456.5,121.8 453.8,117.9 449.9,106.6 465.7,91.5 465.7,91.5 465.7,91.5 465.7,91.4 456.6,85.0 449.8,81.1 442.0,83.9 444.3,76.3 449.8,67.6 453.8,61.2 453.8,57.4 449.8,58.7 441.9,53.6 442.9,46.1 449.8,40.2 456.2,40.0 465.7,41.7 470.4,41.5 481.5,38.1 489.9,38.1 497.4,38.1 505.5,38.3 513.2,42.4 516.8,42.7 529.0,41.1 534.5,40.9 541.7,46.1 540.2,50.6 544.9,51.2 549.6,46.1 560.7,42.5 564.6,42.4 576.6,40.8 582.5,40.4 586.6,41.7 590.4,41.2 592.4,40.3 599.8,33.2 602.2,30.9 608.3,25.0 615.9,17.7 617.9,15.8 618.1,15.8 615.6,18.2 608.3,25.2 602.4,30.9 599.5,33.7 592.4,40.5 590.0,41.6 585.4,42.3 581.8,41.1 576.6,41.4 563.8,43.2 560.7,43.3 551.9,46.1 544.9,53.7 537.9,52.8 540.1,46.1 533.8,41.5 529.0,41.7 516.0,43.4 513.2,43.2 505.0,38.8 497.4,38.6 489.3,38.6 481.5,38.6 469.6,42.3 465.7,42.4 455.6,40.6 449.8,40.8 443.6,46.1 442.7,52.9 449.8,57.4 455.8,55.5 455.8,61.2 449.8,70.7 446.3,76.3 444.8,81.2 449.8,79.4 457.8,83.9 465.7,89.6 467.3,89.9 469.7,91.5 465.7,94.0 452.5,106.6 455.8,116.0 459.8,121.8 449.8,124.5 441.7,136.9 441.9,144.4 441.5,152.0 439.8,161.6 448.3,167.2 448.7,168.2 444.8,177.6 445.9,179.3 443.9,182.3 441.3,184.8 434.0,191.7 427.9,197.4 425.6,199.7 418.1,206.8 411.9,212.6 409.9,214.5 402.3,221.8 402.3,221.5ZM402.3,188.5 408.8,182.3 408.7,176.2 408.1,167.2 408.2,161.5 410.6,152.0 411.6,143.1 412.5,136.9 418.1,131.6 427.2,121.8 427.2,113.1 418.1,112.6 409.4,115.0 405.7,106.6 418.1,96.2 427.1,91.5 425.2,84.7 418.1,82.1 410.2,84.0 413.4,76.3 418.1,68.7 421.5,61.2 421.0,58.5 418.1,57.4 411.6,52.3 410.2,46.1 407.9,40.8 402.3,40.7 402.3,40.1 408.5,40.2 411.1,46.1 412.4,51.6 418.1,56.2 421.9,57.6 422.7,61.2 418.1,71.3 414.9,76.3 412.8,81.4 418.1,80.2 426.6,83.4 428.9,91.5 418.1,97.1 406.8,106.6 410.2,114.2 418.1,112.0 427.8,112.6 427.8,121.8 418.1,132.2 413.1,136.9 412.4,142.4 411.2,152.0 409.0,160.7 408.9,167.2 409.4,175.5 409.6,182.3 402.3,189.2 402.3,188.5ZM402.3,22.5 409.9,15.8 410.4,15.8 402.3,23.0 402.3,22.5ZM459.1,15.8 462.0,19.3 465.7,19.4 473.8,23.2 481.5,23.4 489.8,23.0 497.4,23.0 510.4,15.8 511.3,15.8 497.4,23.6 489.2,23.6 481.5,23.9 473.3,23.7 465.7,20.2 461.3,20.0 457.8,15.8 459.1,15.8ZM564.8,15.8 574.2,18.1 576.6,18.2 588.6,19.4 592.4,19.7 596.8,15.8 597.7,15.8 592.4,20.5 587.9,20.2 576.6,19.0 573.4,18.9 560.8,15.8 564.8,15.8ZM624.1,42.4 620.2,46.1 620.5,49.5 623.2,61.2 623.2,62.0 624.1,68.6 624.1,76.2 622.4,62.9 622.4,61.2 619.8,50.2 619.4,46.1 624.1,41.7 624.1,42.4ZM624.1,110.5 621.7,121.8 621.8,124.0 616.8,136.9 616.7,144.0 617.0,152.0 616.7,159.1 619.2,167.2 619.1,172.0 618.2,182.3 618.8,187.4 624.1,188.0 624.1,188.6 618.2,187.9 617.5,182.3 618.4,172.6 618.6,167.2 616.2,159.6 616.5,152.0 616.2,144.4 616.3,136.9 621.0,124.7 620.9,121.8 624.1,106.7 624.1,110.5ZM624.1,213.7 616.8,227.7 616.2,227.7 624.1,212.6 624.1,213.7ZM598.0,227.7 597.7,222.6 592.4,219.6 586.2,218.5 579.8,212.6 578.2,211.0 576.6,210.5 570.7,212.6 560.7,220.2 552.8,220.2 548.8,212.6 552.7,205.1 544.9,208.8 543.5,212.6 529.0,224.3 519.6,221.6 523.1,212.6 522.8,203.4 513.2,203.4 502.9,212.6 497.4,217.8 491.4,218.3 481.5,217.4 475.3,218.5 465.7,220.7 454.3,223.4 449.8,223.0 444.9,227.7 443.9,227.7 449.8,222.0 455.2,222.6 465.7,220.0 476.2,217.6 481.5,216.7 492.1,217.6 497.4,217.2 502.2,212.6 513.2,202.8 523.4,202.8 523.7,212.6 520.6,220.7 529.0,223.1 542.1,212.6 544.9,205.1 560.6,197.6 552.7,212.6 555.4,217.7 560.7,217.7 567.4,212.6 576.6,209.3 579.1,210.2 581.6,212.6 587.1,217.6 592.4,218.6 598.4,222.0 598.7,227.7 598.0,227.7Z"/><path fill-rule="evenodd" fill="#00f935" stroke="#00f935" stroke-width="0.3" d="M408.3,227.7 410.9,225.2 418.1,218.3 424.1,212.6 426.7,210.1 434.0,203.1 439.6,197.4 442.9,194.3 449.8,187.7 454.3,184.8 462.6,182.3 465.7,179.4 471.0,177.2 467.6,182.3 473.7,189.7 481.5,189.7 490.3,189.1 497.4,189.3 507.2,182.3 510.9,169.3 510.0,167.2 513.2,159.5 516.8,163.7 524.6,167.2 527.5,168.6 529.0,169.3 531.6,167.2 536.8,159.8 543.2,152.0 543.2,138.5 542.6,136.9 544.8,121.8 544.5,121.8 544.9,121.6 544.9,121.7 545.0,121.8 549.5,132.5 546.8,136.9 546.8,150.2 546.8,152.0 551.3,161.1 555.5,167.2 557.6,170.2 559.3,182.3 558.1,184.8 560.7,186.5 572.1,186.5 576.6,183.2 586.1,188.3 592.4,187.2 597.7,182.3 597.5,177.4 595.4,167.2 595.3,164.4 598.5,152.0 598.4,146.3 598.4,136.9 598.6,131.0 594.0,121.8 594.0,120.3 596.3,106.6 596.5,102.7 592.4,97.6 581.8,101.6 581.8,91.5 592.4,82.5 594.5,76.3 594.5,74.3 594.5,61.2 594.8,59.0 597.4,50.7 596.0,49.4 597.9,46.1 601.6,42.6 608.3,36.2 613.6,30.9 617.5,27.2 624.1,20.9 624.1,21.1 617.3,27.7 613.9,30.9 608.3,36.4 601.3,43.1 598.1,46.1 596.5,49.0 598.1,50.4 595.6,58.2 595.3,61.2 595.3,73.6 595.3,76.3 592.4,84.8 584.4,91.5 584.4,99.1 592.4,96.0 597.2,102.1 596.9,106.6 594.7,119.5 594.8,121.8 599.1,130.5 598.9,136.9 598.9,145.8 599.0,152.0 596.0,163.7 596.2,167.2 598.2,176.8 598.3,182.3 592.4,187.8 585.3,189.1 576.6,184.4 566.5,191.9 560.7,191.9 554.8,187.9 557.5,182.3 556.0,171.7 552.9,167.2 549.7,162.6 544.9,152.9 534.9,167.2 529.0,172.0 525.5,170.5 519.0,167.2 515.0,165.4 513.2,163.3 511.6,167.2 512.0,168.3 508.1,182.3 497.4,189.9 489.7,189.6 481.5,190.3 473.2,190.3 466.7,182.3 468.4,179.7 465.7,180.8 464.1,182.3 453.6,185.5 449.8,187.9 442.6,194.8 439.9,197.4 434.0,203.4 426.4,210.6 424.3,212.6 418.1,218.5 410.6,225.7 408.5,227.7 408.3,227.7ZM402.3,221.8 409.9,214.5 411.9,212.6 418.1,206.8 425.6,199.7 427.9,197.4 434.0,191.7 441.3,184.8 443.9,182.3 445.9,179.3 444.8,177.6 448.7,168.2 448.3,167.2 439.8,161.6 441.5,152.0 441.9,144.4 441.7,136.9 449.8,124.5 459.8,121.8 455.8,116.0 452.5,106.6 465.7,94.0 469.7,91.5 467.3,89.9 465.7,89.6 457.8,83.9 449.8,79.4 444.8,81.2 446.3,76.3 449.8,70.7 455.8,61.2 455.8,55.5 449.8,57.4 442.7,52.9 443.6,46.1 449.8,40.8 455.6,40.6 465.7,42.4 469.6,42.3 481.5,38.6 489.3,38.6 497.4,38.6 505.0,38.8 513.2,43.2 516.0,43.4 529.0,41.7 533.8,41.5 540.1,46.1 537.9,52.8 544.9,53.7 551.9,46.1 560.7,43.3 563.8,43.2 576.6,41.4 581.8,41.1 585.4,42.3 590.0,41.6 592.4,40.5 599.5,33.7 602.4,30.9 608.3,25.2 615.6,18.2 618.1,15.8 618.3,15.8 615.3,18.7 608.3,25.4 602.7,30.9 599.2,34.2 592.4,40.7 589.6,42.0 584.1,42.8 581.0,41.8 576.6,42.1 563.0,43.9 560.7,44.0 554.2,46.1 544.9,56.2 535.5,55.0 538.5,46.1 533.1,42.2 529.0,42.4 515.3,44.1 513.2,43.9 504.4,39.3 497.4,39.1 488.8,39.1 481.5,39.1 468.8,43.1 465.7,43.2 454.9,41.2 449.8,41.4 444.3,46.1 443.5,52.1 449.8,56.1 457.8,53.6 457.8,61.2 449.8,73.9 448.3,76.3 447.6,78.5 449.8,77.7 458.9,82.8 465.7,87.7 468.9,88.4 473.7,91.5 465.7,96.6 455.2,106.6 457.8,114.1 463.1,121.8 449.8,125.4 442.3,136.9 442.5,143.9 442.0,152.0 440.5,160.9 449.8,167.1 449.9,167.1 449.9,167.1 449.9,167.2 449.8,167.2 445.6,177.3 446.5,178.7 444.1,182.3 441.0,185.3 434.0,192.0 428.2,197.4 425.3,200.2 418.1,207.0 412.2,212.6 409.6,215.1 402.3,222.0 402.3,221.8ZM402.3,187.7 408.0,182.3 407.9,177.0 407.2,167.2 407.3,162.3 410.0,152.0 410.9,143.8 411.8,136.9 418.1,131.1 426.7,121.8 426.7,113.6 418.1,113.1 408.6,115.7 404.5,106.6 418.1,95.2 425.3,91.5 423.8,86.1 418.1,83.9 407.5,86.5 411.8,76.3 418.1,66.2 420.4,61.2 420.0,59.4 418.1,58.7 410.9,53.0 409.3,46.1 407.2,41.4 402.3,41.3 402.3,40.7 407.9,40.8 410.2,46.1 411.6,52.3 418.1,57.4 421.0,58.5 421.5,61.2 418.1,68.7 413.4,76.3 410.2,84.0 418.1,82.1 425.2,84.7 427.1,91.5 418.1,96.2 405.7,106.6 409.4,115.0 418.1,112.6 427.2,113.1 427.2,121.8 418.1,131.6 412.5,136.9 411.6,143.1 410.6,152.0 408.2,161.5 408.1,167.2 408.7,176.2 408.8,182.3 402.3,188.5 402.3,187.7ZM402.3,22.0 409.3,15.8 409.9,15.8 402.3,22.5 402.3,22.0ZM460.4,15.8 462.8,18.6 465.7,18.7 474.3,22.7 481.5,22.9 490.3,22.5 497.4,22.5 509.4,15.8 510.4,15.8 497.4,23.0 489.8,23.0 481.5,23.4 473.8,23.2 465.7,19.4 462.0,19.3 459.1,15.8 460.4,15.8ZM568.7,15.8 575.0,17.3 576.6,17.4 589.4,18.7 592.4,18.9 595.9,15.8 596.8,15.8 592.4,19.7 588.6,19.4 576.6,18.2 574.2,18.1 564.8,15.8 568.7,15.8ZM624.1,43.2 620.9,46.1 621.2,48.8 624.1,61.1 624.1,61.2 624.1,68.6 623.2,62.0 623.2,61.2 620.5,49.5 620.2,46.1 624.1,42.4 624.1,43.2ZM624.1,114.3 622.5,121.8 622.6,123.2 617.3,136.9 617.2,143.5 617.5,152.0 617.3,158.6 619.9,167.2 619.8,171.3 618.8,182.3 619.4,186.8 624.1,187.3 624.1,188.0 618.8,187.4 618.2,182.3 619.1,172.0 619.2,167.2 616.7,159.1 617.0,152.0 616.7,144.0 616.8,136.9 621.8,124.0 621.7,121.8 624.1,110.5 624.1,114.3ZM624.1,214.7 617.3,227.7 616.8,227.7 624.1,213.7 624.1,214.7ZM597.3,227.7 597.1,223.2 592.4,220.5 585.4,219.3 578.0,212.6 577.3,211.9 576.6,211.6 574.0,212.6 560.7,222.7 550.1,222.7 544.9,212.7 544.7,212.7 529.0,225.4 518.7,222.4 522.5,212.6 522.2,203.9 513.2,203.9 503.5,212.6 497.4,218.4 490.7,218.9 481.5,218.1 474.5,219.3 465.7,221.3 453.4,224.3 449.8,223.9 445.9,227.7 444.9,227.7 449.8,223.0 454.3,223.4 465.7,220.7 475.3,218.5 481.5,217.4 491.4,218.3 497.4,217.8 502.9,212.6 513.2,203.4 522.8,203.4 523.1,212.6 519.6,221.6 529.0,224.3 543.5,212.6 544.9,208.8 552.7,205.1 548.8,212.6 552.8,220.2 560.7,220.2 570.7,212.6 576.6,210.5 578.2,211.0 579.8,212.6 586.2,218.5 592.4,219.6 597.7,222.6 598.0,227.7 597.3,227.7ZM513.1,106.7 513.1,106.6 510.5,94.1 508.6,91.5 513.2,88.9 514.7,90.1 521.3,91.5 513.6,106.3 513.2,106.6 513.2,106.6 513.2,106.6 513.1,106.7Z"/><path fill-rule="evenodd" fill="#00fb23" stroke="#00fb23" stroke-width="0.3" d="M408.0,227.7 411.2,224.7 418.1,218.0 423.9,212.6 427.0,209.5 434.0,202.9 439.4,197.4 443.2,193.8 449.8,187.5 455.0,184.1 461.1,182.3 465.7,177.9 473.6,174.7 468.6,182.3 474.3,189.2 481.5,189.2 490.9,188.5 497.4,188.7 506.4,182.3 509.8,170.4 508.4,167.2 513.2,155.7 518.6,162.0 529.0,166.6 541.1,152.0 541.1,140.5 539.7,136.9 541.5,125.0 529.0,122.6 526.2,124.5 528.5,122.0 528.7,121.8 529.0,121.4 531.9,119.0 544.9,114.0 547.1,119.6 553.0,121.8 555.2,127.1 549.1,136.9 549.1,148.0 549.1,152.0 552.8,159.6 558.1,167.2 559.2,168.6 560.7,179.5 562.5,180.6 576.6,180.6 577.7,181.3 577.1,182.3 586.9,187.6 592.4,186.6 597.0,182.3 596.9,178.0 594.7,167.2 594.6,165.1 597.9,152.0 597.9,146.8 597.9,136.9 598.0,131.5 593.2,121.8 593.2,121.0 595.6,106.6 595.8,103.4 592.4,99.1 579.2,104.1 579.2,91.5 592.4,80.3 593.8,76.3 593.8,75.0 593.8,61.2 593.9,59.8 596.8,51.0 595.5,49.9 597.7,46.1 601.8,42.1 608.3,36.0 613.4,30.9 617.8,26.7 624.1,20.7 624.1,20.9 617.5,27.2 613.6,30.9 608.3,36.2 601.6,42.6 597.9,46.1 596.0,49.4 597.4,50.7 594.8,59.0 594.5,61.2 594.5,74.3 594.5,76.3 592.4,82.5 581.8,91.5 581.8,101.6 592.4,97.6 596.5,102.7 596.3,106.6 594.0,120.3 594.0,121.8 598.6,131.0 598.4,136.9 598.4,146.3 598.5,152.0 595.3,164.4 595.4,167.2 597.5,177.4 597.7,182.3 592.4,187.2 586.1,188.3 576.6,183.2 572.1,186.5 560.7,186.5 558.1,184.8 559.3,182.3 557.6,170.2 555.5,167.2 551.3,161.1 546.8,152.0 546.8,150.2 546.8,136.9 549.5,132.5 545.0,121.8 544.9,121.7 544.9,121.6 544.5,121.8 544.8,121.8 542.6,136.9 543.2,138.5 543.2,152.0 536.8,159.8 531.6,167.2 529.0,169.3 527.5,168.6 524.6,167.2 516.8,163.7 513.2,159.5 510.0,167.2 510.9,169.3 507.2,182.3 497.4,189.3 490.3,189.1 481.5,189.7 473.7,189.7 467.6,182.3 471.0,177.2 465.7,179.4 462.6,182.3 454.3,184.8 449.8,187.7 442.9,194.3 439.6,197.4 434.0,203.1 426.7,210.1 424.1,212.6 418.1,218.3 410.9,225.2 408.3,227.7 408.0,227.7ZM402.3,222.0 409.6,215.1 412.2,212.6 418.1,207.0 425.3,200.2 428.2,197.4 434.0,192.0 441.0,185.3 444.1,182.3 446.5,178.7 445.6,177.3 449.8,167.2 449.9,167.2 449.9,167.1 449.9,167.1 449.8,167.1 440.5,160.9 442.0,152.0 442.5,143.9 442.3,136.9 449.8,125.4 463.1,121.8 457.8,114.1 455.2,106.6 465.7,96.6 473.7,91.5 468.9,88.4 465.7,87.7 458.9,82.8 449.8,77.7 447.6,78.5 448.3,76.3 449.8,73.9 457.8,61.2 457.8,53.6 449.8,56.1 443.5,52.1 444.3,46.1 449.8,41.4 454.9,41.2 465.7,43.2 468.8,43.1 481.5,39.1 488.8,39.1 497.4,39.1 504.4,39.3 513.2,43.9 515.3,44.1 529.0,42.4 533.1,42.2 538.5,46.1 535.5,55.0 544.9,56.2 554.2,46.1 560.7,44.0 563.0,43.9 576.6,42.1 581.0,41.8 584.1,42.8 589.6,42.0 592.4,40.7 599.2,34.2 602.7,30.9 608.3,25.4 615.3,18.7 618.3,15.8 618.6,15.8 615.0,19.2 608.3,25.7 602.9,30.9 599.0,34.7 592.4,41.0 589.1,42.4 582.8,43.4 580.3,42.5 576.6,42.8 562.2,44.7 560.7,44.8 556.6,46.1 544.9,58.7 533.2,57.2 536.9,46.1 532.4,42.8 529.0,43.0 514.5,44.8 513.2,44.7 503.9,39.8 497.4,39.6 488.2,39.6 481.5,39.6 468.0,43.8 465.7,43.9 454.3,41.8 449.8,41.9 445.0,46.1 444.3,51.4 449.8,54.9 459.8,51.7 459.8,61.2 450.9,75.3 450.5,76.3 460.0,81.7 465.7,85.8 470.5,86.9 477.6,91.5 465.7,99.1 457.8,106.6 459.8,112.3 465.7,120.7 466.2,121.2 468.6,121.8 465.7,122.8 465.4,122.0 449.8,126.3 442.9,136.9 443.1,143.3 442.6,152.0 441.1,160.3 449.8,166.1 452.5,164.6 451.4,166.5 451.5,167.2 449.8,168.8 446.4,177.0 447.1,178.1 444.4,182.3 440.7,185.8 434.0,192.2 428.4,197.4 425.0,200.7 418.1,207.2 412.4,212.6 409.3,215.6 402.3,222.2 402.3,222.0ZM402.3,187.0 407.2,182.3 407.1,177.7 406.4,167.2 406.5,163.1 409.3,152.0 410.2,144.5 411.2,136.9 418.1,130.5 426.2,121.8 426.2,114.1 418.1,113.7 407.8,116.5 403.4,106.6 418.1,94.3 423.5,91.5 422.4,87.5 418.1,85.8 404.9,89.0 410.2,76.3 418.1,63.7 419.3,61.2 419.1,60.3 418.1,60.0 410.2,53.7 408.4,46.1 406.6,41.9 402.3,41.9 402.3,41.3 407.2,41.4 409.3,46.1 410.9,53.0 418.1,58.7 420.0,59.4 420.4,61.2 418.1,66.2 411.8,76.3 407.5,86.5 418.1,83.9 423.8,86.1 425.3,91.5 418.1,95.2 404.5,106.6 408.6,115.7 418.1,113.1 426.7,113.6 426.7,121.8 418.1,131.1 411.8,136.9 410.9,143.8 410.0,152.0 407.3,162.3 407.2,167.2 407.9,177.0 408.0,182.3 402.3,187.7 402.3,187.0ZM402.3,21.5 408.7,15.8 409.3,15.8 402.3,22.0 402.3,21.5ZM461.7,15.8 463.5,17.9 465.7,18.0 474.8,22.2 481.5,22.3 490.9,22.0 497.4,22.0 508.5,15.8 509.4,15.8 497.4,22.5 490.3,22.5 481.5,22.9 474.3,22.7 465.7,18.7 462.8,18.6 460.4,15.8 461.7,15.8ZM572.7,15.8 575.8,16.6 576.6,16.6 590.1,18.0 592.4,18.1 595.0,15.8 595.9,15.8 592.4,18.9 589.4,18.7 576.6,17.4 575.0,17.3 568.7,15.8 572.7,15.8ZM624.1,43.9 621.7,46.1 622.0,48.1 624.1,57.4 624.1,61.1 621.2,48.8 620.9,46.1 624.1,43.2 624.1,43.9ZM624.1,118.0 623.3,121.8 623.3,122.5 617.8,136.9 617.7,143.0 618.0,152.0 617.8,158.0 620.6,167.2 620.5,170.6 619.5,182.3 620.0,186.2 624.1,186.7 624.1,187.3 619.4,186.8 618.8,182.3 619.8,171.3 619.9,167.2 617.3,158.6 617.5,152.0 617.2,143.5 617.3,136.9 622.6,123.2 622.5,121.8 624.1,114.3 624.1,118.0ZM624.1,215.8 617.9,227.7 617.3,227.7 624.1,214.7 624.1,215.8ZM596.6,227.7 596.4,223.9 592.4,221.5 584.5,220.1 576.6,212.9 573.7,215.3 560.7,225.2 547.5,225.2 544.9,220.3 536.8,220.3 529.0,226.6 517.8,223.3 521.9,212.6 521.7,204.5 513.2,204.5 504.1,212.6 497.4,219.0 490.1,219.5 481.5,218.8 473.6,220.1 465.7,221.9 452.5,225.1 449.8,224.9 446.9,227.7 445.9,227.7 449.8,223.9 453.4,224.3 465.7,221.3 474.5,219.3 481.5,218.1 490.7,218.9 497.4,218.4 503.5,212.6 513.2,203.9 522.2,203.9 522.5,212.6 518.7,222.4 529.0,225.4 544.7,212.7 544.9,212.7 550.1,222.7 560.7,222.7 574.0,212.6 576.6,211.6 577.3,211.9 578.0,212.6 585.4,219.3 592.4,220.5 597.1,223.2 597.3,227.7 596.6,227.7ZM513.2,106.6 513.2,106.6 513.2,106.6 513.6,106.3 521.3,91.5 514.7,90.1 513.2,88.9 508.6,91.5 510.5,94.1 513.1,106.6 513.1,106.7 513.2,106.6ZM509.2,110.5 509.2,106.6 507.2,97.2 502.9,91.5 513.2,85.7 516.5,88.3 529.0,91.0 529.5,91.0 529.4,91.3 529.4,91.5 529.0,91.8 515.9,105.4 514.9,106.6 513.2,108.2 509.2,110.5Z"/><path fill-rule="evenodd" fill="#00fc15" stroke="#00fc15" stroke-width="0.3" d="M407.8,227.7 411.5,224.2 418.1,217.8 423.6,212.6 427.3,209.0 434.0,202.6 439.2,197.4 443.5,193.3 449.8,187.2 455.7,183.5 459.5,182.3 465.7,176.4 476.3,172.2 469.6,182.3 474.8,188.7 481.5,188.7 491.5,187.9 497.4,188.1 505.6,182.3 508.7,171.5 506.8,167.2 513.1,152.1 513.2,152.0 513.2,136.9 513.2,136.9 513.2,136.9 513.2,136.9 525.8,123.1 527.0,121.8 529.0,119.8 544.8,106.6 544.8,106.6 544.9,106.6 544.9,106.6 544.9,106.6 549.3,117.5 560.7,121.7 576.5,106.6 576.5,91.5 576.5,91.5 576.6,91.4 577.0,91.1 592.4,78.1 593.0,76.3 593.0,75.8 593.0,61.2 593.1,60.6 596.1,51.3 595.1,50.4 597.4,46.1 602.1,41.6 608.3,35.7 613.2,30.9 618.1,26.3 624.1,20.5 624.1,20.7 617.8,26.7 613.4,30.9 608.3,36.0 601.8,42.1 597.7,46.1 595.5,49.9 596.8,51.0 593.9,59.8 593.8,61.2 593.8,75.0 593.8,76.3 592.4,80.3 579.2,91.5 579.2,104.1 592.4,99.1 595.8,103.4 595.6,106.6 593.2,121.0 593.2,121.8 598.0,131.5 597.9,136.9 597.9,146.8 597.9,152.0 594.6,165.1 594.7,167.2 596.9,178.0 597.0,182.3 592.4,186.6 586.9,187.6 577.1,182.3 577.7,181.3 576.6,180.6 562.5,180.6 560.7,179.5 559.2,168.6 558.1,167.2 552.8,159.6 549.1,152.0 549.1,148.0 549.1,136.9 555.2,127.1 553.0,121.8 547.1,119.6 544.9,114.0 531.9,119.0 529.0,121.4 528.7,121.8 528.5,122.0 526.2,124.5 529.0,122.6 541.5,125.0 539.7,136.9 541.1,140.5 541.1,152.0 529.0,166.6 518.6,162.0 513.2,155.7 508.4,167.2 509.8,170.4 506.4,182.3 497.4,188.7 490.9,188.5 481.5,189.2 474.3,189.2 468.6,182.3 473.6,174.7 465.7,177.9 461.1,182.3 455.0,184.1 449.8,187.5 443.2,193.8 439.4,197.4 434.0,202.9 427.0,209.5 423.9,212.6 418.1,218.0 411.2,224.7 408.0,227.7 407.8,227.7ZM402.3,222.2 409.3,215.6 412.4,212.6 418.1,207.2 425.0,200.7 428.4,197.4 434.0,192.2 440.7,185.8 444.4,182.3 447.1,178.1 446.4,177.0 449.8,168.8 451.5,167.2 451.4,166.5 452.5,164.6 449.8,166.1 441.1,160.3 442.6,152.0 443.1,143.3 442.9,136.9 449.8,126.3 465.4,122.0 465.7,122.8 468.6,121.8 466.2,121.2 465.7,120.7 459.8,112.3 457.8,106.6 465.7,99.1 477.6,91.5 470.5,86.9 465.7,85.8 460.0,81.7 450.5,76.3 450.9,75.3 459.8,61.2 459.8,51.7 449.8,54.9 444.3,51.4 445.0,46.1 449.8,41.9 454.3,41.8 465.7,43.9 468.0,43.8 481.5,39.6 488.2,39.6 497.4,39.6 503.9,39.8 513.2,44.7 514.5,44.8 529.0,43.0 532.4,42.8 536.9,46.1 533.2,57.2 544.9,58.7 556.6,46.1 560.7,44.8 562.2,44.7 576.6,42.8 580.3,42.5 582.8,43.4 589.1,42.4 592.4,41.0 599.0,34.7 602.9,30.9 608.3,25.7 615.0,19.2 618.6,15.8 618.8,15.8 614.7,19.7 608.3,25.9 603.1,30.9 598.7,35.2 592.4,41.2 588.7,42.8 581.6,43.9 579.5,43.2 576.6,43.4 561.4,45.5 560.7,45.5 558.9,46.1 545.3,60.8 545.3,61.2 544.9,61.3 544.8,61.3 544.5,61.2 530.9,59.5 535.3,46.1 531.8,43.5 529.0,43.6 513.8,45.5 513.2,45.5 503.4,40.3 497.4,40.2 487.7,40.2 481.5,40.2 467.2,44.6 465.7,44.6 453.6,42.4 449.8,42.5 445.7,46.1 445.1,50.6 449.8,53.6 461.8,49.8 461.8,61.2 455.9,70.6 453.5,76.3 461.2,80.6 465.7,83.9 472.0,85.4 481.5,91.4 481.6,91.4 497.4,91.4 497.5,91.3 513.2,82.6 518.3,86.6 529.0,88.9 531.7,88.9 530.8,90.7 531.1,91.5 529.0,93.5 518.6,104.3 516.5,106.6 513.2,109.8 505.2,114.3 505.2,106.6 503.9,100.4 497.4,91.6 497.3,91.5 481.5,91.5 481.4,91.6 465.7,101.6 460.4,106.6 461.8,110.4 465.7,116.0 468.7,118.9 481.5,121.7 481.7,121.6 481.7,121.8 481.5,121.8 481.4,121.9 465.7,127.5 464.1,123.3 449.8,127.2 443.5,136.9 443.6,142.8 443.1,152.0 441.8,159.7 449.8,165.0 455.2,162.1 453.0,165.8 453.2,167.2 449.8,170.3 447.2,176.6 447.8,177.5 444.6,182.3 440.4,186.3 434.0,192.4 428.6,197.4 424.7,201.2 418.1,207.5 412.7,212.6 409.0,216.1 402.3,222.5 402.3,222.2ZM402.3,186.2 406.4,182.3 406.3,178.4 405.6,167.2 405.7,164.0 408.7,152.0 409.5,145.2 410.6,136.9 418.1,129.9 425.6,121.8 425.6,114.6 418.1,114.2 407.0,117.2 402.3,106.7 402.3,106.6 402.3,91.5 402.3,91.4 408.6,76.3 418.1,61.3 418.1,61.2 409.5,54.3 407.6,46.1 406.0,42.5 402.3,42.5 402.3,41.9 406.6,41.9 408.4,46.1 410.2,53.7 418.1,60.0 419.1,60.3 419.3,61.2 418.1,63.7 410.2,76.3 404.9,89.0 418.1,85.8 422.4,87.5 423.5,91.5 418.1,94.3 403.4,106.6 407.8,116.5 418.1,113.7 426.2,114.1 426.2,121.8 418.1,130.5 411.2,136.9 410.2,144.5 409.3,152.0 406.5,163.1 406.4,167.2 407.1,177.7 407.2,182.3 402.3,187.0 402.3,186.2ZM402.3,21.0 408.1,15.8 408.7,15.8 402.3,21.5 402.3,21.0ZM463.1,15.8 464.2,17.2 465.7,17.2 475.4,21.7 481.5,21.8 491.4,21.5 497.4,21.5 507.5,15.8 508.5,15.8 497.4,22.0 490.9,22.0 481.5,22.3 474.8,22.2 465.7,18.0 463.5,17.9 461.7,15.8 463.1,15.8ZM576.7,15.8 590.9,17.2 592.4,17.4 594.2,15.8 595.0,15.8 592.4,18.1 590.1,18.0 576.6,16.6 575.8,16.6 572.7,15.8 576.6,15.8 576.7,15.8ZM624.1,44.6 622.5,46.1 622.7,47.4 624.1,53.6 624.1,57.4 622.0,48.1 621.7,46.1 624.1,43.9 624.1,44.6ZM624.1,121.8 618.2,136.9 618.2,142.6 618.6,152.0 618.3,157.5 621.3,167.2 621.2,169.9 620.2,182.3 620.6,185.7 624.1,186.1 624.1,186.7 620.0,186.2 619.5,182.3 620.5,170.6 620.6,167.2 617.8,158.0 618.0,152.0 617.7,143.0 617.8,136.9 623.3,122.5 623.3,121.8 624.1,118.0 624.1,121.8 624.1,121.8ZM624.1,216.9 618.5,227.7 617.9,227.7 624.1,215.8 624.1,216.9ZM596.0,227.7 595.8,224.5 592.4,222.5 583.6,221.0 576.6,214.6 560.8,227.7 560.7,227.7 544.9,227.7 529.0,227.7 529.0,227.7 516.9,224.2 521.3,212.6 521.1,205.0 513.2,205.0 504.7,212.6 497.4,219.6 489.4,220.1 481.5,219.5 472.7,221.0 465.7,222.6 451.6,226.0 449.8,225.8 447.9,227.7 446.9,227.7 449.8,224.9 452.5,225.1 465.7,221.9 473.6,220.1 481.5,218.8 490.1,219.5 497.4,219.0 504.1,212.6 513.2,204.5 521.7,204.5 521.9,212.6 517.8,223.3 529.0,226.6 536.8,220.3 544.9,220.3 547.5,225.2 560.7,225.2 573.7,215.3 576.6,212.9 584.5,220.1 592.4,221.5 596.4,223.9 596.6,227.7 596.0,227.7ZM513.2,108.2 514.9,106.6 515.9,105.4 529.0,91.8 529.4,91.5 529.4,91.3 529.5,91.0 529.0,91.0 516.5,88.3 513.2,85.7 502.9,91.5 507.2,97.2 509.2,106.6 509.2,110.5 513.2,108.2ZM592.4,185.9 596.4,182.3 596.2,178.6 593.9,167.2 593.8,165.8 597.4,152.0 597.3,147.3 597.3,136.9 597.5,132.1 592.4,121.8 576.6,136.9 576.6,152.0 576.6,152.0 576.6,152.4 561.1,167.2 570.4,173.1 576.6,173.1 582.6,176.5 579.3,182.3 587.7,186.8 592.4,185.9ZM529.0,164.1 539.0,152.0 539.0,142.5 536.9,136.9 538.2,128.1 529.0,126.4 513.3,136.9 513.3,151.9 513.3,152.0 520.4,160.2 529.0,164.1ZM560.7,167.1 576.5,152.0 576.5,137.0 576.5,136.9 576.6,136.9 592.4,121.8 592.4,121.7 595.0,106.6 595.1,104.0 592.4,100.6 576.7,106.6 576.6,106.6 560.8,121.8 560.7,121.8 551.5,136.9 551.5,145.7 551.5,152.0 554.4,158.0 560.7,167.1ZM418.1,93.4 421.7,91.5 420.9,88.8 418.1,87.7 402.5,91.5 402.5,106.5 418.1,93.4Z"/><path fill-rule="evenodd" fill="#00fe07" stroke="#00fe07" stroke-width="0.3" d="M407.5,227.7 411.8,223.6 418.1,217.5 423.4,212.6 427.6,208.5 434.0,202.4 438.9,197.4 443.8,192.8 449.8,187.0 456.5,182.8 458.0,182.3 465.7,175.0 478.9,169.6 470.5,182.3 475.3,188.2 481.5,188.2 492.0,187.4 497.4,187.5 504.8,182.3 507.5,172.6 505.2,167.2 510.5,154.6 512.3,152.0 512.3,137.7 512.4,137.2 511.4,136.9 513.2,135.1 523.2,124.3 525.3,121.8 529.0,118.1 540.7,108.4 543.0,106.6 544.9,104.9 547.6,104.0 548.0,106.6 551.5,115.4 560.7,118.8 573.5,106.6 573.5,94.5 573.9,91.5 576.6,87.6 591.3,76.3 591.3,62.3 591.9,61.4 592.0,61.2 592.4,60.8 595.4,51.6 594.6,50.8 597.2,46.1 602.4,41.1 608.3,35.5 613.0,30.9 618.4,25.8 624.1,20.3 624.1,20.5 618.1,26.3 613.2,30.9 608.3,35.7 602.1,41.6 597.4,46.1 595.1,50.4 596.1,51.3 593.1,60.6 593.0,61.2 593.0,75.8 593.0,76.3 592.4,78.1 577.0,91.1 576.6,91.4 576.5,91.5 576.5,91.5 576.5,106.6 560.7,121.7 549.3,117.5 544.9,106.6 544.9,106.6 544.9,106.6 544.8,106.6 544.8,106.6 529.0,119.8 527.0,121.8 525.8,123.1 513.2,136.9 513.2,136.9 513.2,136.9 513.2,136.9 513.2,152.0 513.1,152.1 506.8,167.2 508.7,171.5 505.6,182.3 497.4,188.1 491.5,187.9 481.5,188.7 474.8,188.7 469.6,182.3 476.3,172.2 465.7,176.4 459.5,182.3 455.7,183.5 449.8,187.2 443.5,193.3 439.2,197.4 434.0,202.6 427.3,209.0 423.6,212.6 418.1,217.8 411.5,224.2 407.8,227.7 407.5,227.7ZM402.3,222.5 409.0,216.1 412.7,212.6 418.1,207.5 424.7,201.2 428.6,197.4 434.0,192.4 440.4,186.3 444.6,182.3 447.8,177.5 447.2,176.6 449.8,170.3 453.2,167.2 453.0,165.8 455.2,162.1 449.8,165.0 441.8,159.7 443.1,152.0 443.6,142.8 443.5,136.9 449.8,127.2 464.1,123.3 465.7,127.5 481.4,121.9 481.5,121.8 481.7,121.8 481.7,121.6 481.5,121.7 468.7,118.9 465.7,116.0 461.8,110.4 460.4,106.6 465.7,101.6 481.4,91.6 481.5,91.5 497.3,91.5 497.4,91.6 503.9,100.4 505.2,106.6 505.2,114.3 513.2,109.8 516.5,106.6 518.6,104.3 529.0,93.5 531.1,91.5 530.8,90.7 531.7,88.9 529.0,88.9 518.3,86.6 513.2,82.6 497.5,91.3 497.4,91.4 481.6,91.4 481.5,91.4 472.0,85.4 465.7,83.9 461.2,80.6 453.5,76.3 455.9,70.6 461.8,61.2 461.8,49.8 449.8,53.6 445.1,50.6 445.7,46.1 449.8,42.5 453.6,42.4 465.7,44.6 467.2,44.6 481.5,40.2 487.7,40.2 497.4,40.2 503.4,40.3 513.2,45.5 513.8,45.5 529.0,43.6 531.8,43.5 535.3,46.1 530.9,59.5 544.5,61.2 544.8,61.3 544.9,61.3 545.3,61.2 545.3,60.8 558.9,46.1 560.7,45.5 561.4,45.5 576.6,43.4 579.5,43.2 581.6,43.9 588.7,42.8 592.4,41.2 598.7,35.2 603.1,30.9 608.3,25.9 614.7,19.7 618.8,15.8 619.1,15.8 614.4,20.2 608.3,26.1 603.4,30.9 598.4,35.7 592.4,41.4 588.3,43.2 580.3,44.5 578.8,43.9 576.6,44.1 561.8,46.1 561.8,60.2 561.2,61.0 561.1,61.2 560.7,61.6 560.1,61.9 544.9,63.8 542.2,63.8 529.0,61.9 526.1,64.0 528.8,61.2 529.0,60.2 533.8,46.1 531.1,44.1 529.0,44.2 514.3,46.1 513.2,46.3 510.3,48.9 512.9,46.1 502.9,40.8 497.4,40.7 487.2,40.7 481.5,40.7 466.4,45.3 465.7,45.4 453.0,43.0 449.8,43.1 446.4,46.1 445.9,49.8 449.8,52.4 463.7,47.9 463.7,61.2 460.8,65.8 456.6,76.3 462.3,79.6 465.7,82.0 473.6,83.9 481.5,88.9 484.6,88.5 497.4,88.5 505.4,83.8 513.2,79.4 520.1,84.9 529.0,86.8 533.9,86.8 532.3,90.1 532.8,91.5 529.0,95.1 521.3,103.1 518.2,106.6 513.2,111.4 501.2,118.0 501.2,106.6 500.6,103.5 497.4,99.2 494.2,94.5 481.5,94.5 473.4,99.2 465.7,104.1 463.1,106.6 463.7,108.5 465.7,111.2 471.2,116.5 481.5,118.8 489.6,114.0 489.6,121.8 481.5,122.6 473.4,129.5 465.7,132.3 462.7,124.6 449.8,128.1 444.0,136.9 444.2,142.2 443.7,152.0 442.4,159.1 449.8,164.0 457.8,159.5 454.6,165.1 454.8,167.2 449.8,171.9 448.0,176.3 448.4,176.9 444.8,182.3 440.1,186.8 434.0,192.7 428.9,197.4 424.4,201.7 418.1,207.7 412.9,212.6 408.7,216.6 402.3,222.7 402.3,222.5ZM402.3,185.5 405.6,182.3 405.5,179.2 404.8,167.2 404.8,164.8 408.0,152.0 408.8,145.8 410.0,136.9 418.1,129.3 425.1,121.8 425.1,115.1 418.1,114.7 406.2,118.0 402.3,109.2 402.3,106.7 407.0,117.2 418.1,114.2 425.6,114.6 425.6,121.8 418.1,129.9 410.6,136.9 409.5,145.2 408.7,152.0 405.7,164.0 405.6,167.2 406.3,178.4 406.4,182.3 402.3,186.2 402.3,185.5ZM402.3,87.6 407.0,76.3 414.1,65.1 416.5,61.2 408.8,55.0 406.7,46.1 405.4,43.1 402.3,43.1 402.3,42.5 406.0,42.5 407.6,46.1 409.5,54.3 418.1,61.2 418.1,61.3 408.6,76.3 402.3,91.4 402.3,87.6ZM402.3,20.5 407.5,15.8 408.1,15.8 402.3,21.0 402.3,20.5ZM464.4,15.8 465.0,16.5 465.7,16.5 475.9,21.2 481.5,21.3 492.0,20.9 497.4,20.9 506.6,15.8 507.5,15.8 497.4,21.5 491.4,21.5 481.5,21.8 475.4,21.7 465.7,17.2 464.2,17.2 463.1,15.8 464.4,15.8ZM584.7,15.8 591.7,16.5 592.4,16.6 593.3,15.8 594.2,15.8 592.4,17.4 590.9,17.2 576.7,15.8 584.7,15.8ZM624.1,45.4 623.3,46.1 623.4,46.7 624.1,49.8 624.1,53.6 622.7,47.4 622.5,46.1 624.1,44.6 624.1,45.4ZM624.1,123.0 618.7,136.9 618.7,142.1 619.1,152.0 618.9,157.0 622.0,167.2 622.0,169.2 620.8,182.3 621.2,185.1 624.1,185.4 624.1,186.1 620.6,185.7 620.2,182.3 621.2,169.9 621.3,167.2 618.3,157.5 618.6,152.0 618.2,142.6 618.2,136.9 624.1,121.8 624.1,123.0ZM624.1,218.0 619.0,227.7 618.5,227.7 624.1,216.9 624.1,218.0ZM595.3,227.7 595.1,225.1 592.4,223.5 582.7,221.8 576.6,216.2 562.8,227.7 560.8,227.7 576.6,214.6 583.6,221.0 592.4,222.5 595.8,224.5 596.0,227.7 595.3,227.7ZM525.0,227.7 515.9,225.1 520.8,212.6 520.5,205.5 513.2,205.5 505.3,212.6 497.4,220.1 488.8,220.8 481.5,220.1 471.8,221.8 465.7,223.2 450.7,226.9 449.8,226.8 448.9,227.7 447.9,227.7 449.8,225.8 451.6,226.0 465.7,222.6 472.7,221.0 481.5,219.5 489.4,220.1 497.4,219.6 504.7,212.6 513.2,205.0 521.1,205.0 521.3,212.6 516.9,224.2 529.0,227.7 525.0,227.7ZM587.7,186.8 579.3,182.3 582.6,176.5 576.6,173.1 570.4,173.1 561.1,167.2 576.6,152.4 576.6,152.0 576.6,152.0 576.6,136.9 592.4,121.8 597.5,132.1 597.3,136.9 597.3,147.3 597.4,152.0 593.8,165.8 593.9,167.2 596.2,178.6 596.4,182.3 592.4,185.9 587.7,186.8ZM520.4,160.2 513.3,152.0 513.3,151.9 513.3,136.9 529.0,126.4 538.2,128.1 536.9,136.9 539.0,142.5 539.0,152.0 529.0,164.1 520.4,160.2ZM554.4,158.0 551.5,152.0 551.5,145.7 551.5,136.9 560.7,121.8 560.8,121.8 576.6,106.6 576.7,106.6 592.4,100.6 595.1,104.0 595.0,106.6 592.4,121.7 592.4,121.8 576.6,136.9 576.5,136.9 576.5,137.0 576.5,152.0 560.7,167.1 554.4,158.0ZM402.5,106.5 402.5,91.5 418.1,87.7 420.9,88.8 421.7,91.5 418.1,93.4 402.5,106.5ZM592.4,185.3 595.7,182.3 595.6,179.3 593.2,167.2 593.1,166.5 596.9,152.0 596.8,147.8 596.8,136.9 596.9,132.6 592.4,123.4 578.3,136.9 578.3,150.3 578.3,152.0 577.0,166.8 579.5,167.2 587.6,171.8 581.5,182.3 588.5,186.1 592.4,185.3ZM529.0,161.6 536.9,152.0 536.9,144.5 534.1,136.9 534.9,131.3 529.0,130.2 519.0,136.9 519.0,146.5 516.6,152.0 522.2,158.5 529.0,161.6ZM560.7,163.3 572.5,152.0 572.5,140.7 572.5,136.9 576.6,135.7 591.2,121.8 592.4,117.9 594.3,106.6 594.4,104.7 592.4,102.1 580.6,106.6 576.6,107.8 562.0,121.8 560.7,125.6 553.8,136.9 553.8,143.5 553.8,152.0 556.0,156.5 560.7,163.3ZM418.1,92.4 419.9,91.5 419.5,90.2 418.1,89.6 410.4,91.5 410.4,98.9 418.1,92.4Z"/><path fill-rule="evenodd" fill="#0eff00" stroke="#0eff00" stroke-width="0.3" d="M407.3,227.7 412.1,223.1 418.1,217.3 423.1,212.6 427.9,208.0 434.0,202.2 438.7,197.4 444.1,192.3 449.8,186.8 456.9,182.3 457.1,182.1 465.7,173.9 466.1,173.5 481.5,167.2 481.5,167.1 481.5,167.1 481.6,167.2 481.5,167.2 471.5,182.3 475.9,187.7 481.5,187.7 492.6,186.8 497.4,186.9 503.9,182.3 506.4,173.7 503.7,167.2 507.9,157.1 511.5,152.0 511.5,138.5 511.6,137.6 509.6,136.9 513.2,133.4 520.6,125.4 523.5,121.8 529.0,116.5 536.7,110.1 541.2,106.6 544.9,103.1 550.2,101.5 551.0,106.6 553.7,113.3 560.7,115.9 570.4,106.6 570.4,97.4 571.2,91.5 576.6,83.8 586.4,76.3 586.4,67.0 589.7,62.4 590.1,61.2 592.4,59.0 594.7,51.9 594.1,51.3 597.0,46.1 602.7,40.6 608.3,35.3 612.7,30.9 618.6,25.3 624.1,20.1 624.1,20.3 618.4,25.8 613.0,30.9 608.3,35.5 602.4,41.1 597.2,46.1 594.6,50.8 595.4,51.6 592.4,60.8 592.0,61.2 591.9,61.4 591.3,62.3 591.3,76.3 576.6,87.6 573.9,91.5 573.5,94.5 573.5,106.6 560.7,118.8 551.5,115.4 548.0,106.6 547.6,104.0 544.9,104.9 543.0,106.6 540.7,108.4 529.0,118.1 525.3,121.8 523.2,124.3 513.2,135.1 511.4,136.9 512.4,137.2 512.3,137.7 512.3,152.0 510.5,154.6 505.2,167.2 507.5,172.6 504.8,182.3 497.4,187.5 492.0,187.4 481.5,188.2 475.3,188.2 470.5,182.3 478.9,169.6 465.7,175.0 458.0,182.3 456.5,182.8 449.8,187.0 443.8,192.8 438.9,197.4 434.0,202.4 427.6,208.5 423.4,212.6 418.1,217.5 411.8,223.6 407.5,227.7 407.3,227.7ZM402.3,222.7 408.7,216.6 412.9,212.6 418.1,207.7 424.4,201.7 428.9,197.4 434.0,192.7 440.1,186.8 444.8,182.3 448.4,176.9 448.0,176.3 449.8,171.9 454.8,167.2 454.6,165.1 457.8,159.5 449.8,164.0 442.4,159.1 443.7,152.0 444.2,142.2 444.0,136.9 449.8,128.1 462.7,124.6 465.7,132.3 473.4,129.5 481.5,122.6 489.6,121.8 489.6,114.0 481.5,118.8 471.2,116.5 465.7,111.2 463.7,108.5 463.1,106.6 465.7,104.1 473.4,99.2 481.5,94.5 494.2,94.5 497.4,99.2 500.6,103.5 501.2,106.6 501.2,118.0 513.2,111.4 518.2,106.6 521.3,103.1 529.0,95.1 532.8,91.5 532.3,90.1 533.9,86.8 529.0,86.8 520.1,84.9 513.2,79.4 505.4,83.8 497.4,88.5 484.6,88.5 481.5,88.9 473.6,83.9 465.7,82.0 462.3,79.6 456.6,76.3 460.8,65.8 463.7,61.2 463.7,47.9 449.8,52.4 445.9,49.8 446.4,46.1 449.8,43.1 453.0,43.0 465.7,45.4 466.4,45.3 481.5,40.7 487.2,40.7 497.4,40.7 502.9,40.8 512.9,46.1 510.3,48.9 513.2,46.3 514.3,46.1 529.0,44.2 531.1,44.1 533.8,46.1 529.0,60.2 528.8,61.2 526.1,64.0 529.0,61.9 542.2,63.8 544.9,63.8 560.1,61.9 560.7,61.6 561.1,61.2 561.2,61.0 561.8,60.2 561.8,46.1 576.6,44.1 578.8,43.9 580.3,44.5 588.3,43.2 592.4,41.4 598.4,35.7 603.4,30.9 608.3,26.1 614.4,20.2 619.1,15.8 619.3,15.8 614.1,20.7 608.3,26.3 603.6,30.9 598.1,36.2 592.4,41.6 587.8,43.6 579.1,45.0 578.0,44.7 576.6,44.8 566.8,46.1 566.8,55.4 563.4,60.0 563.0,61.2 560.7,63.4 557.0,64.8 544.9,66.3 539.5,66.3 529.0,64.8 513.3,76.3 521.9,83.2 529.0,84.7 536.1,84.7 533.8,89.4 534.5,91.5 529.0,96.7 524.0,102.0 519.8,106.6 513.2,113.0 497.6,121.6 497.4,121.8 497.4,121.8 497.3,121.8 481.5,123.4 465.7,136.9 465.7,137.1 465.6,136.9 465.6,136.9 461.4,125.8 449.8,129.0 444.6,136.9 444.8,141.7 444.2,152.0 443.1,158.5 449.8,162.9 460.4,157.0 456.2,164.4 456.5,167.2 449.8,173.5 448.8,175.9 449.0,176.2 445.1,182.3 439.8,187.3 434.0,192.9 429.1,197.4 424.1,202.3 418.1,207.9 413.2,212.6 408.4,217.2 402.3,223.0 402.3,222.7ZM402.3,184.7 404.8,182.3 404.8,179.9 403.9,167.2 404.0,165.6 407.4,152.0 408.0,146.5 409.3,136.9 418.1,128.7 424.6,121.8 424.6,115.6 418.1,115.3 405.5,118.7 402.3,111.7 402.3,109.2 406.2,118.0 418.1,114.7 425.1,115.1 425.1,121.8 418.1,129.3 410.0,136.9 408.8,145.8 408.0,152.0 404.8,164.8 404.8,167.2 405.5,179.2 405.6,182.3 402.3,185.5 402.3,184.7ZM402.3,83.8 405.4,76.3 410.1,68.9 414.9,61.2 408.0,55.7 405.8,46.1 404.8,43.7 402.3,43.7 402.3,43.1 405.4,43.1 406.7,46.1 408.8,55.0 416.5,61.2 414.1,65.1 407.0,76.3 402.3,87.6 402.3,83.8ZM402.3,19.9 406.9,15.8 407.5,15.8 402.3,20.5 402.3,19.9ZM465.7,15.8 476.4,20.7 481.5,20.8 492.5,20.4 497.4,20.4 505.6,15.8 506.6,15.8 497.4,20.9 492.0,20.9 481.5,21.3 475.9,21.2 465.7,16.5 465.0,16.5 464.4,15.8 465.7,15.8 465.7,15.8ZM593.3,15.8 592.4,16.6 591.7,16.5 584.7,15.8 592.4,15.8 593.3,15.8ZM624.1,49.8 623.4,46.7 623.3,46.1 624.1,45.4 624.1,46.1 624.1,49.8ZM624.1,124.3 619.2,136.9 619.2,141.6 619.6,152.0 619.4,156.5 622.7,167.2 622.7,168.5 621.5,182.3 621.7,184.5 624.1,184.8 624.1,185.4 621.2,185.1 620.8,182.3 622.0,169.2 622.0,167.2 618.9,157.0 619.1,152.0 618.7,142.1 618.7,136.9 624.1,123.0 624.1,124.3ZM624.1,219.1 619.6,227.7 619.0,227.7 624.1,218.0 624.1,219.1ZM594.6,227.7 594.5,225.7 592.4,224.5 581.8,222.7 576.6,217.9 564.7,227.7 562.8,227.7 576.6,216.2 582.7,221.8 592.4,223.5 595.1,225.1 595.3,227.7 594.6,227.7ZM521.0,227.7 515.0,226.0 520.2,212.6 520.0,206.1 513.2,206.1 505.9,212.6 497.4,220.7 488.1,221.4 481.5,220.8 470.9,222.7 465.7,223.9 449.9,227.7 449.8,227.7 448.9,227.7 449.8,226.8 450.7,226.9 465.7,223.2 471.8,221.8 481.5,220.1 488.8,220.8 497.4,220.1 505.3,212.6 513.2,205.5 520.5,205.5 520.8,212.6 515.9,225.1 525.0,227.7 521.0,227.7ZM588.5,186.1 581.5,182.3 587.6,171.8 579.5,167.2 577.0,166.8 578.3,152.0 578.3,150.3 578.3,136.9 592.4,123.4 596.9,132.6 596.8,136.9 596.8,147.8 596.9,152.0 593.1,166.5 593.2,167.2 595.6,179.3 595.7,182.3 592.4,185.3 588.5,186.1ZM522.2,158.5 516.6,152.0 519.0,146.5 519.0,136.9 529.0,130.2 534.9,131.3 534.1,136.9 536.9,144.5 536.9,152.0 529.0,161.6 522.2,158.5ZM556.0,156.5 553.8,152.0 553.8,143.5 553.8,136.9 560.7,125.6 562.0,121.8 576.6,107.8 580.6,106.6 592.4,102.1 594.4,104.7 594.3,106.6 592.4,117.9 591.2,121.8 576.6,135.7 572.5,136.9 572.5,140.7 572.5,152.0 560.7,163.3 556.0,156.5ZM410.4,98.9 410.4,91.5 418.1,89.6 419.5,90.2 419.9,91.5 418.1,92.4 410.4,98.9ZM592.4,184.7 595.0,182.3 595.0,179.9 592.4,167.2 583.7,182.3 589.3,185.3 592.4,184.7ZM529.0,159.0 534.8,152.0 534.8,146.5 531.2,136.9 531.6,134.4 529.0,133.9 524.6,136.9 524.6,141.1 519.9,152.0 524.0,156.8 529.0,159.0ZM560.7,159.5 568.6,152.0 568.6,144.5 568.6,136.9 576.6,134.6 590.0,121.8 592.4,114.1 593.7,106.6 593.8,105.3 592.4,103.6 584.6,106.6 576.6,108.9 563.2,121.8 560.7,129.4 556.1,136.9 556.1,141.3 556.1,152.0 557.6,155.0 560.7,159.5ZM592.4,167.1 596.3,152.0 596.3,148.4 596.3,136.9 596.4,133.1 592.4,125.1 580.1,136.9 580.1,148.7 580.1,152.0 578.9,165.0 592.4,167.1ZM481.5,115.9 497.2,106.6 491.2,97.4 481.5,97.4 465.8,106.6 473.6,114.1 481.5,115.9ZM465.7,80.1 475.2,82.4 481.5,86.4 487.7,85.6 497.4,85.6 513.1,76.3 513.2,76.3 527.5,61.2 529.0,55.4 532.2,46.1 530.4,44.8 529.0,44.8 519.2,46.1 513.2,47.6 497.4,61.2 497.4,61.3 497.3,61.3 481.5,61.3 481.3,61.4 465.7,61.4 459.6,76.3 463.4,78.5 465.7,80.1ZM449.8,51.1 465.6,46.1 452.4,43.6 449.8,43.7 447.1,46.1 446.7,49.1 449.8,51.1ZM481.5,61.2 481.6,61.2 497.4,61.2 511.4,46.1 502.3,41.3 497.4,41.2 486.6,41.2 481.5,41.2 465.7,46.1 465.7,61.2 481.5,61.2Z"/><path fill-rule="evenodd" fill="#2dff00" stroke="#2dff00" stroke-width="0.3" d="M407.0,227.7 412.4,222.6 418.1,217.1 422.9,212.6 428.2,207.4 434.0,201.9 438.5,197.4 444.4,191.8 449.8,186.6 456.5,182.3 457.5,181.3 465.7,173.5 467.7,172.1 479.5,167.2 481.5,165.2 482.5,166.2 485.6,167.2 481.5,168.6 472.5,182.3 476.4,187.2 481.5,187.2 493.2,186.2 497.4,186.4 503.1,182.3 505.3,174.7 502.1,167.2 505.2,159.6 510.7,152.0 510.7,139.3 510.7,137.9 507.8,136.9 513.2,131.7 518.0,126.5 521.8,121.8 529.0,114.9 532.6,111.9 539.4,106.6 544.9,101.4 552.9,99.0 554.1,106.6 555.9,111.2 560.7,113.0 567.4,106.6 567.4,100.3 568.6,91.5 576.6,80.0 581.4,76.3 581.4,71.7 587.5,63.3 588.3,61.2 592.4,57.2 594.1,52.2 593.6,51.7 596.8,46.1 603.0,40.1 608.3,35.1 612.5,30.9 618.9,24.8 624.1,19.9 624.1,20.1 618.6,25.3 612.7,30.9 608.3,35.3 602.7,40.6 597.0,46.1 594.1,51.3 594.7,51.9 592.4,59.0 590.1,61.2 589.7,62.4 586.4,67.0 586.4,76.3 576.6,83.8 571.2,91.5 570.4,97.4 570.4,106.6 560.7,115.9 553.7,113.3 551.0,106.6 550.2,101.5 544.9,103.1 541.2,106.6 536.7,110.1 529.0,116.5 523.5,121.8 520.6,125.4 513.2,133.4 509.6,136.9 511.6,137.6 511.5,138.5 511.5,152.0 507.9,157.1 503.7,167.2 506.4,173.7 503.9,182.3 497.4,186.9 492.6,186.8 481.5,187.7 475.9,187.7 471.5,182.3 481.5,167.2 481.6,167.2 481.5,167.1 481.5,167.1 481.5,167.2 466.1,173.5 465.7,173.9 457.1,182.1 456.9,182.3 449.8,186.8 444.1,192.3 438.7,197.4 434.0,202.2 427.9,208.0 423.1,212.6 418.1,217.3 412.1,223.1 407.3,227.7 407.0,227.7ZM402.3,223.0 408.4,217.2 413.2,212.6 418.1,207.9 424.1,202.3 429.1,197.4 434.0,192.9 439.8,187.3 445.1,182.3 449.0,176.2 448.8,175.9 449.8,173.5 456.5,167.2 456.2,164.4 460.4,157.0 449.8,162.9 443.1,158.5 444.2,152.0 444.8,141.7 444.6,136.9 449.8,129.0 461.4,125.8 465.6,136.9 465.6,136.9 465.7,137.1 465.7,136.9 481.5,123.4 497.3,121.8 497.4,121.8 497.4,121.8 497.6,121.6 513.2,113.0 519.8,106.6 524.0,102.0 529.0,96.7 534.5,91.5 533.8,89.4 536.1,84.7 529.0,84.7 521.9,83.2 513.3,76.3 529.0,64.8 539.5,66.3 544.9,66.3 557.0,64.8 560.7,63.4 563.0,61.2 563.4,60.0 566.8,55.4 566.8,46.1 576.6,44.8 578.0,44.7 579.1,45.0 587.8,43.6 592.4,41.6 598.1,36.2 603.6,30.9 608.3,26.3 614.1,20.7 619.3,15.8 619.5,15.8 613.8,21.2 608.3,26.6 603.8,30.9 597.8,36.7 592.4,41.8 587.4,44.0 577.8,45.5 577.3,45.4 576.6,45.4 571.7,46.1 571.7,50.7 565.6,59.1 564.9,61.2 560.7,65.2 554.0,67.7 544.9,68.8 536.9,68.8 529.0,67.7 517.3,76.3 523.7,81.5 529.0,82.6 538.3,82.6 535.3,88.8 536.3,91.5 529.0,98.4 526.7,100.8 521.5,106.6 513.2,114.5 510.0,116.3 499.4,121.8 497.4,123.7 496.4,122.7 481.5,124.2 466.6,136.9 465.7,144.6 464.1,138.4 463.8,136.9 460.1,127.1 449.8,129.9 445.2,136.9 445.4,141.2 444.7,152.0 443.7,157.8 449.8,161.9 463.1,154.5 457.8,163.7 458.1,167.2 449.8,175.1 449.6,175.6 449.7,175.6 445.3,182.3 439.5,187.8 434.0,193.1 429.4,197.4 423.8,202.8 418.1,208.2 413.4,212.6 408.1,217.7 402.3,223.2 402.3,223.0ZM402.3,183.9 404.0,182.3 404.0,180.7 403.1,167.2 403.1,166.4 406.8,152.0 407.3,147.2 408.7,136.9 418.1,128.1 424.0,121.8 424.0,116.1 418.1,115.8 404.7,119.5 402.3,114.2 402.3,111.7 405.5,118.7 418.1,115.3 424.6,115.6 424.6,121.8 418.1,128.7 409.3,136.9 408.0,146.5 407.4,152.0 404.0,165.6 403.9,167.2 404.8,179.9 404.8,182.3 402.3,184.7 402.3,183.9ZM402.3,80.0 403.8,76.3 406.2,72.6 413.4,61.2 407.3,56.4 404.9,46.1 404.1,44.3 402.3,44.3 402.3,43.7 404.8,43.7 405.8,46.1 408.0,55.7 414.9,61.2 410.1,68.9 405.4,76.3 402.3,83.8 402.3,80.0ZM402.3,19.4 406.4,15.8 406.9,15.8 402.3,19.9 402.3,19.4ZM467.3,15.8 476.9,20.2 481.5,20.3 493.1,19.9 497.4,19.9 504.7,15.8 505.6,15.8 497.4,20.4 492.5,20.4 481.5,20.8 476.4,20.7 465.7,15.8 467.3,15.8ZM624.1,125.6 619.7,136.9 619.7,141.1 620.1,152.0 619.9,156.0 623.4,167.2 623.4,167.8 622.1,182.3 622.3,184.0 624.1,184.2 624.1,184.8 621.7,184.5 621.5,182.3 622.7,168.5 622.7,167.2 619.4,156.5 619.6,152.0 619.2,141.6 619.2,136.9 624.1,124.3 624.1,125.6ZM624.1,220.2 620.2,227.7 619.6,227.7 624.1,219.1 624.1,220.2ZM593.9,227.7 593.8,226.3 592.4,225.5 581.0,223.5 576.6,219.5 566.7,227.7 564.7,227.7 576.6,217.9 581.8,222.7 592.4,224.5 594.5,225.7 594.6,227.7 593.9,227.7ZM517.1,227.7 514.1,226.8 519.6,212.6 519.4,206.6 513.2,206.6 506.5,212.6 497.4,221.3 487.4,222.0 481.5,221.5 470.1,223.5 465.7,224.5 452.5,227.7 449.9,227.7 465.7,223.9 470.9,222.7 481.5,220.8 488.1,221.4 497.4,220.7 505.9,212.6 513.2,206.1 520.0,206.1 520.2,212.6 515.0,226.0 521.0,227.7 517.1,227.7ZM589.3,185.3 583.7,182.3 592.4,167.2 595.0,179.9 595.0,182.3 592.4,184.7 589.3,185.3ZM524.0,156.8 519.9,152.0 524.6,141.1 524.6,136.9 529.0,133.9 531.6,134.4 531.2,136.9 534.8,146.5 534.8,152.0 529.0,159.0 524.0,156.8ZM557.6,155.0 556.1,152.0 556.1,141.3 556.1,136.9 560.7,129.4 563.2,121.8 576.6,108.9 584.6,106.6 592.4,103.6 593.8,105.3 593.7,106.6 592.4,114.1 590.0,121.8 576.6,134.6 568.6,136.9 568.6,144.5 568.6,152.0 560.7,159.5 557.6,155.0ZM578.9,165.0 580.1,152.0 580.1,148.7 580.1,136.9 592.4,125.1 596.4,133.1 596.3,136.9 596.3,148.4 596.3,152.0 592.4,167.1 578.9,165.0ZM473.6,114.1 465.8,106.6 481.5,97.4 491.2,97.4 497.2,106.6 481.5,115.9 473.6,114.1ZM463.4,78.5 459.6,76.3 465.7,61.4 481.3,61.4 481.5,61.3 497.3,61.3 497.4,61.3 497.4,61.2 513.2,47.6 519.2,46.1 529.0,44.8 530.4,44.8 532.2,46.1 529.0,55.4 527.5,61.2 513.2,76.3 513.1,76.3 497.4,85.6 487.7,85.6 481.5,86.4 475.2,82.4 465.7,80.1 463.4,78.5ZM446.7,49.1 447.1,46.1 449.8,43.7 452.4,43.6 465.6,46.1 449.8,51.1 446.7,49.1ZM465.7,61.2 465.7,46.1 481.5,41.2 486.6,41.2 497.4,41.2 502.3,41.3 511.4,46.1 497.4,61.2 481.6,61.2 481.5,61.2 465.7,61.2ZM592.4,184.1 594.4,182.3 594.3,180.5 592.4,171.0 585.9,182.3 590.1,184.5 592.4,184.1ZM529.0,156.5 532.7,152.0 532.7,148.5 529.0,138.6 523.2,152.0 525.8,155.1 529.0,156.5ZM560.7,155.7 564.6,152.0 564.6,148.3 564.6,136.9 576.6,133.4 588.8,121.8 592.4,110.3 593.0,106.6 593.1,106.0 592.4,105.1 588.5,106.6 576.6,110.1 564.4,121.8 560.7,133.2 558.5,136.9 558.5,139.1 558.5,152.0 559.2,153.5 560.7,155.7ZM592.4,165.0 595.8,152.0 595.7,148.9 595.7,136.9 595.8,133.6 592.4,126.7 581.8,136.9 581.8,147.0 581.8,152.0 580.8,163.2 592.4,165.0ZM481.5,113.0 492.3,106.6 488.1,100.3 481.5,100.3 470.7,106.6 476.1,111.8 481.5,113.0ZM465.7,78.2 476.8,80.8 481.5,83.9 490.7,82.7 497.4,82.7 508.1,76.3 513.2,75.0 526.2,61.2 529.0,50.7 530.6,46.1 529.7,45.4 529.0,45.5 524.2,46.1 513.2,48.8 498.8,61.2 497.4,66.0 493.3,65.1 481.5,65.1 473.4,68.9 465.7,68.9 462.7,76.3 464.6,77.4 465.7,78.2ZM449.8,49.8 461.6,46.1 451.7,44.3 449.8,44.3 447.8,46.1 447.5,48.3 449.8,49.8ZM481.5,59.6 483.2,59.6 497.4,59.6 509.9,46.1 501.8,41.8 497.4,41.7 486.1,41.7 481.5,41.7 467.4,46.1 467.4,59.6 481.5,59.6Z"/><path fill-rule="evenodd" fill="#4cff00" stroke="#4cff00" stroke-width="0.3" d="M406.8,227.7 412.7,222.0 418.1,216.8 422.6,212.6 428.5,206.9 434.0,201.7 438.2,197.4 444.7,191.3 449.8,186.3 456.1,182.3 457.9,180.6 465.7,173.2 469.2,170.6 477.5,167.2 481.5,163.3 483.4,165.3 489.5,167.2 481.5,170.1 473.4,182.3 477.0,186.6 481.5,186.6 493.8,185.7 497.4,185.8 502.3,182.3 504.1,175.8 500.5,167.2 502.6,162.2 509.8,152.0 509.8,140.1 509.9,138.3 506.0,136.9 513.2,130.0 515.3,127.6 519.4,122.6 520.3,121.8 520.4,121.6 529.0,113.4 530.0,112.6 537.6,106.6 544.9,99.7 555.5,96.5 557.1,106.6 558.1,109.1 560.7,110.0 564.3,106.6 564.3,103.2 565.9,91.5 576.4,76.5 576.5,76.4 576.5,76.3 576.6,76.3 585.3,64.3 586.4,61.2 592.4,55.5 593.4,52.5 593.1,52.2 596.5,46.1 603.2,39.7 608.3,34.9 612.3,30.9 619.2,24.3 624.1,19.6 624.1,19.9 618.9,24.8 612.5,30.9 608.3,35.1 603.0,40.1 596.8,46.1 593.6,51.7 594.1,52.2 592.4,57.2 588.3,61.2 587.5,63.3 581.4,71.7 581.4,76.3 576.6,80.0 568.6,91.5 567.4,100.3 567.4,106.6 560.7,113.0 555.9,111.2 554.1,106.6 552.9,99.0 544.9,101.4 539.4,106.6 532.6,111.9 529.0,114.9 521.8,121.8 518.0,126.5 513.2,131.7 507.8,136.9 510.7,137.9 510.7,139.3 510.7,152.0 505.2,159.6 502.1,167.2 505.3,174.7 503.1,182.3 497.4,186.4 493.2,186.2 481.5,187.2 476.4,187.2 472.5,182.3 481.5,168.6 485.6,167.2 482.5,166.2 481.5,165.2 479.5,167.2 467.7,172.1 465.7,173.5 457.5,181.3 456.5,182.3 449.8,186.6 444.4,191.8 438.5,197.4 434.0,201.9 428.2,207.4 422.9,212.6 418.1,217.1 412.4,222.6 407.0,227.7 406.8,227.7ZM402.3,223.2 408.1,217.7 413.4,212.6 418.1,208.2 423.8,202.8 429.4,197.4 434.0,193.1 439.5,187.8 445.3,182.3 449.7,175.6 449.6,175.6 449.8,175.1 458.1,167.2 457.8,163.7 463.1,154.5 449.8,161.9 443.7,157.8 444.7,152.0 445.4,141.2 445.2,136.9 449.8,129.9 460.1,127.1 463.8,136.9 464.1,138.4 465.7,144.6 466.6,136.9 481.5,124.2 496.4,122.7 497.4,123.7 499.4,121.8 510.0,116.3 513.2,114.5 521.5,106.6 526.7,100.8 529.0,98.4 536.3,91.5 535.3,88.8 538.3,82.6 529.0,82.6 523.7,81.5 517.3,76.3 529.0,67.7 536.9,68.8 544.9,68.8 554.0,67.7 560.7,65.2 564.9,61.2 565.6,59.1 571.7,50.7 571.7,46.1 576.6,45.4 577.3,45.4 577.8,45.5 587.4,44.0 592.4,41.8 597.8,36.7 603.8,30.9 608.3,26.6 613.8,21.2 619.5,15.8 619.8,15.8 613.5,21.8 608.3,26.8 604.1,30.9 597.5,37.2 592.4,42.1 587.0,44.5 576.6,46.1 576.6,46.1 567.9,58.1 566.8,61.2 560.7,67.0 550.9,70.6 544.9,71.4 534.3,71.4 529.0,70.6 521.2,76.3 525.5,79.7 529.0,80.5 540.5,80.5 536.8,88.2 537.9,91.3 537.8,91.5 537.7,91.6 529.0,99.8 522.2,106.6 521.6,107.2 513.2,115.2 511.5,116.6 501.4,121.8 497.4,125.6 495.4,123.6 481.5,125.0 467.6,136.9 465.7,152.0 465.7,152.0 465.7,152.0 465.7,152.1 459.4,163.0 459.7,166.1 458.8,167.2 458.2,167.8 449.8,175.8 445.5,182.3 439.2,188.3 434.0,193.3 429.6,197.4 423.5,203.3 418.1,208.4 413.7,212.6 407.8,218.2 402.3,223.4 402.3,223.2ZM402.3,183.2 403.2,182.3 403.2,181.4 402.3,167.5 402.3,167.2 402.3,167.1 406.1,152.0 406.6,147.9 408.1,136.9 418.1,127.6 423.5,121.8 423.5,116.6 418.1,116.4 403.9,120.3 402.3,116.8 402.3,114.2 404.7,119.5 418.1,115.8 424.0,116.1 424.0,121.8 418.1,128.1 408.7,136.9 407.3,147.2 406.8,152.0 403.1,166.4 403.1,167.2 404.0,180.7 404.0,182.3 402.3,183.9 402.3,183.2ZM402.3,76.3 411.8,61.2 406.6,57.1 404.0,46.1 403.5,44.9 402.3,44.9 402.3,44.3 404.1,44.3 404.9,46.1 407.3,56.4 413.4,61.2 406.2,72.6 403.8,76.3 402.3,80.0 402.3,76.3 402.3,76.3ZM402.3,18.9 405.8,15.8 406.4,15.8 402.3,19.4 402.3,18.9ZM468.9,15.8 477.4,19.7 481.5,19.8 493.6,19.4 497.4,19.4 503.7,15.8 504.7,15.8 497.4,19.9 493.1,19.9 481.5,20.3 476.9,20.2 467.3,15.8 468.9,15.8ZM624.1,126.8 620.2,136.9 620.2,140.7 620.6,152.0 620.5,155.5 624.1,167.1 624.1,167.2 624.1,167.3 622.8,182.3 622.9,183.4 624.1,183.5 624.1,184.2 622.3,184.0 622.1,182.3 623.4,167.8 623.4,167.2 619.9,156.0 620.1,152.0 619.7,141.1 619.7,136.9 624.1,125.6 624.1,126.8ZM624.1,221.2 620.7,227.7 620.2,227.7 624.1,220.2 624.1,221.2ZM593.2,227.7 593.2,227.0 592.4,226.5 580.1,224.4 576.6,221.2 568.7,227.7 566.7,227.7 576.6,219.5 581.0,223.5 592.4,225.5 593.8,226.3 593.9,227.7 593.2,227.7ZM513.2,227.7 513.2,227.7 519.0,212.6 518.8,207.2 513.2,207.2 507.1,212.6 497.4,221.9 486.8,222.7 481.5,222.2 469.2,224.4 465.7,225.1 455.2,227.7 452.5,227.7 465.7,224.5 470.1,223.5 481.5,221.5 487.4,222.0 497.4,221.3 506.5,212.6 513.2,206.6 519.4,206.6 519.6,212.6 514.1,226.8 517.1,227.7 513.2,227.7 513.2,227.7ZM590.1,184.5 585.9,182.3 592.4,171.0 594.3,180.5 594.4,182.3 592.4,184.1 590.1,184.5ZM525.8,155.1 523.2,152.0 529.0,138.6 532.7,148.5 532.7,152.0 529.0,156.5 525.8,155.1ZM559.2,153.5 558.5,152.0 558.5,139.1 558.5,136.9 560.7,133.2 564.4,121.8 576.6,110.1 588.5,106.6 592.4,105.1 593.1,106.0 593.0,106.6 592.4,110.3 588.8,121.8 576.6,133.4 564.6,136.9 564.6,148.3 564.6,152.0 560.7,155.7 559.2,153.5ZM580.8,163.2 581.8,152.0 581.8,147.0 581.8,136.9 592.4,126.7 595.8,133.6 595.7,136.9 595.7,148.9 595.8,152.0 592.4,165.0 580.8,163.2ZM476.1,111.8 470.7,106.6 481.5,100.3 488.1,100.3 492.3,106.6 481.5,113.0 476.1,111.8ZM464.6,77.4 462.7,76.3 465.7,68.9 473.4,68.9 481.5,65.1 493.3,65.1 497.4,66.0 498.8,61.2 513.2,48.8 524.2,46.1 529.0,45.5 529.7,45.4 530.6,46.1 529.0,50.7 526.2,61.2 513.2,75.0 508.1,76.3 497.4,82.7 490.7,82.7 481.5,83.9 476.8,80.8 465.7,78.2 464.6,77.4ZM447.5,48.3 447.8,46.1 449.8,44.3 451.7,44.3 461.6,46.1 449.8,49.8 447.5,48.3ZM467.4,59.6 467.4,46.1 481.5,41.7 486.1,41.7 497.4,41.7 501.8,41.8 509.9,46.1 497.4,59.6 483.2,59.6 481.5,59.6 467.4,59.6ZM592.4,183.5 593.7,182.3 593.7,181.1 592.4,174.8 588.1,182.3 590.8,183.8 592.4,183.5ZM449.8,160.8 465.6,152.0 462.6,139.8 462.0,136.9 458.8,128.3 449.8,130.8 445.8,136.9 445.9,140.6 445.3,152.0 444.4,157.2 449.8,160.8ZM529.0,154.0 530.7,152.0 530.7,150.5 529.0,146.1 526.5,152.0 527.6,153.4 529.0,154.0ZM592.4,162.9 595.2,152.0 595.2,149.4 595.2,136.9 595.3,134.2 592.4,128.4 583.5,136.9 583.5,145.4 583.5,152.0 582.7,161.3 592.4,162.9ZM576.6,132.3 587.6,121.8 592.4,106.7 576.6,111.2 565.6,121.8 560.8,136.8 576.6,132.3ZM481.5,110.0 487.3,106.6 485.1,103.2 481.5,103.2 475.7,106.6 478.6,109.4 481.5,110.0ZM481.5,81.3 493.8,79.8 497.4,79.8 503.2,76.3 513.2,73.6 524.9,61.2 529.0,46.1 513.2,50.0 500.2,61.2 497.4,70.8 489.3,68.9 481.5,68.9 465.9,76.3 478.4,79.3 481.5,81.3ZM449.8,48.6 457.7,46.1 451.1,44.9 449.8,44.9 448.5,46.1 448.3,47.6 449.8,48.6ZM481.5,58.0 484.9,58.0 497.4,58.0 508.5,46.1 501.3,42.3 497.4,42.2 485.6,42.2 481.5,42.2 469.0,46.1 469.0,58.0 481.5,58.0Z"/><path fill-rule="evenodd" fill="#6fff00" stroke="#6fff00" stroke-width="0.3" d="M406.5,227.7 413.0,221.5 418.1,216.6 422.4,212.6 428.8,206.4 434.0,201.5 438.0,197.4 444.9,190.8 449.8,186.1 455.8,182.3 458.4,179.8 465.7,172.9 470.7,169.2 475.5,167.2 481.5,161.4 484.4,164.4 493.5,167.2 481.5,171.6 474.4,182.3 477.5,186.1 481.5,186.1 494.4,185.1 497.4,185.2 501.5,182.3 503.0,176.9 498.9,167.2 499.9,164.7 509.0,152.0 509.0,140.9 509.1,138.6 504.4,137.0 504.4,136.9 504.6,136.7 513.2,128.5 519.9,121.8 520.9,120.8 529.0,113.0 536.1,106.6 536.3,106.5 544.9,98.2 545.2,98.0 547.4,97.2 558.2,93.9 560.2,106.6 560.3,107.0 560.7,107.1 561.3,106.6 561.3,106.1 563.3,91.5 568.5,84.1 573.6,77.6 574.3,76.3 576.6,74.2 583.1,65.2 584.5,61.2 592.4,53.7 592.7,52.8 592.6,52.7 596.3,46.1 603.5,39.2 608.3,34.6 612.1,30.9 619.5,23.9 624.1,19.4 624.1,19.6 619.2,24.3 612.3,30.9 608.3,34.9 603.2,39.7 596.5,46.1 593.1,52.2 593.4,52.5 592.4,55.5 586.4,61.2 585.3,64.3 576.6,76.3 576.5,76.3 576.5,76.4 576.4,76.5 565.9,91.5 564.3,103.2 564.3,106.6 560.7,110.0 558.1,109.1 557.1,106.6 555.5,96.5 544.9,99.7 537.6,106.6 530.0,112.6 529.0,113.4 520.4,121.6 520.3,121.8 519.4,122.6 515.3,127.6 513.2,130.0 506.0,136.9 509.9,138.3 509.8,140.1 509.8,152.0 502.6,162.2 500.5,167.2 504.1,175.8 502.3,182.3 497.4,185.8 493.8,185.7 481.5,186.6 477.0,186.6 473.4,182.3 481.5,170.1 489.5,167.2 483.4,165.3 481.5,163.3 477.5,167.2 469.2,170.6 465.7,173.2 457.9,180.6 456.1,182.3 449.8,186.3 444.7,191.3 438.2,197.4 434.0,201.7 428.5,206.9 422.6,212.6 418.1,216.8 412.7,222.0 406.8,227.7 406.5,227.7ZM402.3,223.4 407.8,218.2 413.7,212.6 418.1,208.4 423.5,203.3 429.6,197.4 434.0,193.3 439.2,188.3 445.5,182.3 449.8,175.8 458.2,167.8 458.8,167.2 459.7,166.1 459.4,163.0 465.7,152.1 465.7,152.0 465.7,152.0 465.7,152.0 467.6,136.9 481.5,125.0 495.4,123.6 497.4,125.6 501.4,121.8 511.5,116.6 513.2,115.2 521.6,107.2 522.2,106.6 529.0,99.8 537.7,91.6 537.8,91.5 537.9,91.3 536.8,88.2 540.5,80.5 529.0,80.5 525.5,79.7 521.2,76.3 529.0,70.6 534.3,71.4 544.9,71.4 550.9,70.6 560.7,67.0 566.8,61.2 567.9,58.1 576.6,46.1 576.6,46.1 587.0,44.5 592.4,42.1 597.5,37.2 604.1,30.9 608.3,26.8 613.5,21.8 619.8,15.8 620.0,15.8 613.2,22.3 608.3,27.0 604.3,30.9 597.3,37.7 592.4,42.3 586.6,44.9 578.8,46.1 576.6,48.2 570.1,57.2 568.6,61.2 560.7,68.7 547.9,73.5 544.9,73.9 531.6,73.9 529.0,73.5 525.2,76.3 527.3,78.0 529.0,78.4 542.7,78.4 538.2,87.5 539.2,90.1 538.2,91.5 537.2,92.4 529.0,100.2 522.6,106.6 521.1,108.0 513.2,115.6 509.2,118.7 503.3,121.8 497.4,127.5 494.5,124.5 481.5,125.8 468.5,136.9 466.8,151.0 466.7,151.6 467.9,152.0 465.7,154.2 461.0,162.4 461.2,164.6 459.2,167.2 457.7,168.6 449.8,176.1 445.8,182.3 438.9,188.9 434.0,193.6 429.9,197.4 423.2,203.8 418.1,208.6 413.9,212.6 407.5,218.7 402.3,223.7 402.3,223.4ZM402.3,182.4 402.4,182.3 402.4,182.2 402.3,180.1 402.3,167.5 403.2,181.4 403.2,182.3 402.3,183.2 402.3,182.4ZM402.3,164.6 405.5,152.0 405.9,148.6 407.4,136.9 418.1,127.0 422.9,121.8 422.9,117.2 418.1,116.9 403.1,121.0 402.3,119.3 402.3,116.8 403.9,120.3 418.1,116.4 423.5,116.6 423.5,121.8 418.1,127.6 408.1,136.9 406.6,147.9 406.1,152.0 402.3,167.1 402.3,164.6ZM402.3,73.8 410.2,61.2 405.9,57.8 403.2,46.1 402.9,45.5 402.3,45.5 402.3,44.9 403.5,44.9 404.0,46.1 406.6,57.1 411.8,61.2 402.3,76.3 402.3,73.8ZM402.3,18.4 405.2,15.8 405.8,15.8 402.3,18.9 402.3,18.4ZM470.5,15.8 477.9,19.2 481.5,19.3 494.2,18.8 497.4,18.8 502.8,15.8 503.7,15.8 497.4,19.4 493.6,19.4 481.5,19.8 477.4,19.7 468.9,15.8 470.5,15.8ZM624.1,128.1 620.7,136.9 620.6,140.2 621.1,152.0 621.0,155.0 624.1,164.9 624.1,167.1 620.5,155.5 620.6,152.0 620.2,140.7 620.2,136.9 624.1,126.8 624.1,128.1ZM624.1,174.9 623.5,182.3 623.5,182.8 624.1,182.9 624.1,183.5 622.9,183.4 622.8,182.3 624.1,167.3 624.1,174.9ZM624.1,222.3 621.3,227.7 620.7,227.7 624.1,221.2 624.1,222.3ZM592.5,227.7 592.5,227.6 592.4,227.5 579.2,225.2 576.6,222.8 570.7,227.7 568.7,227.7 576.6,221.2 580.1,224.4 592.4,226.5 593.2,227.0 593.2,227.7 592.5,227.7ZM511.6,227.7 513.2,226.1 518.4,212.6 518.3,207.7 513.2,207.7 507.7,212.6 497.4,222.5 486.1,223.3 481.5,222.9 468.3,225.2 465.7,225.8 457.8,227.7 455.2,227.7 465.7,225.1 469.2,224.4 481.5,222.2 486.8,222.7 497.4,221.9 507.1,212.6 513.2,207.2 518.8,207.2 519.0,212.6 513.2,227.7 513.2,227.7 511.6,227.7ZM590.8,183.8 588.1,182.3 592.4,174.8 593.7,181.1 593.7,182.3 592.4,183.5 590.8,183.8ZM444.4,157.2 445.3,152.0 445.9,140.6 445.8,136.9 449.8,130.8 458.8,128.3 462.0,136.9 462.6,139.8 465.6,152.0 449.8,160.8 444.4,157.2ZM527.6,153.4 526.5,152.0 529.0,146.1 530.7,150.5 530.7,152.0 529.0,154.0 527.6,153.4ZM582.7,161.3 583.5,152.0 583.5,145.4 583.5,136.9 592.4,128.4 595.3,134.2 595.2,136.9 595.2,149.4 595.2,152.0 592.4,162.9 582.7,161.3ZM560.8,136.8 565.6,121.8 576.6,111.2 592.4,106.7 587.6,121.8 576.6,132.3 560.8,136.8ZM478.6,109.4 475.7,106.6 481.5,103.2 485.1,103.2 487.3,106.6 481.5,110.0 478.6,109.4ZM478.4,79.3 465.9,76.3 481.5,68.9 489.3,68.9 497.4,70.8 500.2,61.2 513.2,50.0 529.0,46.1 524.9,61.2 513.2,73.6 503.2,76.3 497.4,79.8 493.8,79.8 481.5,81.3 478.4,79.3ZM448.3,47.6 448.5,46.1 449.8,44.9 451.1,44.9 457.7,46.1 449.8,48.6 448.3,47.6ZM469.0,58.0 469.0,46.1 481.5,42.2 485.6,42.2 497.4,42.2 501.3,42.3 508.5,46.1 497.4,58.0 484.9,58.0 481.5,58.0 469.0,58.0ZM592.4,182.9 593.1,182.3 593.0,181.7 592.4,178.6 590.3,182.3 591.6,183.0 592.4,182.9ZM449.8,159.8 463.7,152.0 461.1,141.3 460.2,136.9 457.5,129.6 449.8,131.7 446.4,136.9 446.5,140.1 445.8,152.0 445.0,156.6 449.8,159.8ZM592.4,160.8 594.7,152.0 594.6,149.9 594.6,136.9 594.7,134.7 592.4,130.0 585.2,136.9 585.2,143.8 585.2,152.0 584.5,159.5 592.4,160.8ZM576.6,131.1 586.4,121.8 590.6,108.3 576.6,112.4 566.8,121.8 562.5,135.2 576.6,131.1ZM481.5,107.1 482.4,106.6 482.0,106.1 481.5,106.1 480.6,106.6 481.1,107.0 481.5,107.1ZM481.5,78.8 496.8,76.9 497.4,76.9 498.2,76.3 513.2,72.3 523.6,61.2 527.3,47.8 513.2,51.2 501.6,61.2 497.4,75.5 485.4,72.7 481.5,72.7 473.8,76.3 480.0,77.8 481.5,78.8ZM449.8,47.3 453.7,46.1 450.5,45.5 449.8,45.5 449.2,46.1 449.1,46.8 449.8,47.3ZM481.5,56.4 486.5,56.4 497.4,56.4 507.0,46.1 500.8,42.8 497.4,42.7 485.0,42.7 481.5,42.7 470.7,46.1 470.7,56.4 481.5,56.4Z"/><path fill-rule="evenodd" fill="#92ff00" stroke="#92ff00" stroke-width="0.3" d="M406.3,227.7 413.3,221.0 418.1,216.4 422.1,212.6 429.1,205.9 434.0,201.2 437.7,197.4 445.2,190.3 449.8,185.9 455.4,182.3 458.8,179.1 465.7,172.5 472.2,167.7 473.5,167.2 481.5,159.5 485.3,163.5 497.4,167.1 508.1,152.0 508.1,141.7 508.3,139.0 503.9,137.4 504.0,136.9 505.1,135.8 513.2,128.1 519.5,121.8 521.4,120.0 529.0,112.6 535.7,106.6 536.8,105.6 544.9,97.8 546.7,96.6 560.7,91.5 560.7,91.4 570.8,78.8 572.1,76.3 576.6,72.1 580.9,66.2 582.1,62.7 583.5,61.2 584.0,60.7 592.4,52.7 596.1,46.1 603.8,38.7 608.3,34.4 611.8,30.9 619.7,23.4 624.1,19.2 624.1,19.4 619.5,23.9 612.1,30.9 608.3,34.6 603.5,39.2 596.3,46.1 592.6,52.7 592.7,52.8 592.4,53.7 584.5,61.2 583.1,65.2 576.6,74.2 574.3,76.3 573.6,77.6 568.5,84.1 563.3,91.5 561.3,106.1 561.3,106.6 560.7,107.1 560.3,107.0 560.2,106.6 558.2,93.9 547.4,97.2 545.2,98.0 544.9,98.2 536.3,106.5 536.1,106.6 529.0,113.0 520.9,120.8 519.9,121.8 513.2,128.5 504.6,136.7 504.4,136.9 504.4,137.0 509.1,138.6 509.0,140.9 509.0,152.0 499.9,164.7 498.9,167.2 503.0,176.9 501.5,182.3 497.4,185.2 494.4,185.1 481.5,186.1 477.5,186.1 474.4,182.3 481.5,171.6 493.5,167.2 484.4,164.4 481.5,161.4 475.5,167.2 470.7,169.2 465.7,172.9 458.4,179.8 455.8,182.3 449.8,186.1 444.9,190.8 438.0,197.4 434.0,201.5 428.8,206.4 422.4,212.6 418.1,216.6 413.0,221.5 406.5,227.7 406.3,227.7ZM402.3,223.7 407.5,218.7 413.9,212.6 418.1,208.6 423.2,203.8 429.9,197.4 434.0,193.6 438.9,188.9 445.8,182.3 449.8,176.1 457.7,168.6 459.2,167.2 461.2,164.6 461.0,162.4 465.7,154.2 467.9,152.0 466.7,151.6 466.8,151.0 468.5,136.9 481.5,125.8 494.5,124.5 497.4,127.5 503.3,121.8 509.2,118.7 513.2,115.6 521.1,108.0 522.6,106.6 529.0,100.2 537.2,92.4 538.2,91.5 539.2,90.1 538.2,87.5 542.7,78.4 529.0,78.4 527.3,78.0 525.2,76.3 529.0,73.5 531.6,73.9 544.9,73.9 547.9,73.5 560.7,68.7 568.6,61.2 570.1,57.2 576.6,48.2 578.8,46.1 586.6,44.9 592.4,42.3 597.3,37.7 604.3,30.9 608.3,27.0 613.2,22.3 620.0,15.8 620.3,15.8 613.0,22.8 608.3,27.3 604.5,30.9 597.0,38.2 592.4,42.5 586.1,45.3 581.0,46.1 576.6,50.3 572.3,56.2 571.0,59.7 569.7,61.2 569.1,61.7 560.7,69.8 559.7,70.5 544.9,76.3 544.9,76.4 539.7,86.9 540.4,88.9 538.6,91.5 536.7,93.3 529.0,100.6 523.0,106.6 520.6,108.8 513.2,115.9 506.9,120.9 505.3,121.8 497.4,129.4 493.6,125.4 481.5,126.6 469.5,136.9 467.8,150.0 467.7,151.1 470.1,152.0 465.7,156.3 462.6,161.7 462.7,163.2 459.6,167.2 457.3,169.4 449.8,176.5 446.0,182.3 438.6,189.4 434.0,193.8 430.1,197.4 422.9,204.3 418.1,208.9 414.2,212.6 407.1,219.3 402.3,223.9 402.3,223.7ZM402.3,180.1 402.4,182.2 402.4,182.3 402.3,182.4 402.3,182.3 402.3,180.1ZM402.3,162.0 404.8,152.0 405.2,149.3 406.8,136.9 418.1,126.4 422.4,121.8 422.4,117.7 418.1,117.4 402.4,121.8 402.3,121.8 402.3,121.8 402.3,119.3 403.1,121.0 418.1,116.9 422.9,117.2 422.9,121.8 418.1,127.0 407.4,136.9 405.9,148.6 405.5,152.0 402.3,164.6 402.3,162.0ZM402.3,71.2 408.6,61.2 405.2,58.5 402.3,46.2 402.3,46.1 402.3,45.5 402.9,45.5 403.2,46.1 405.9,57.8 410.2,61.2 402.3,73.8 402.3,71.2ZM402.3,17.9 404.6,15.8 405.2,15.8 402.3,18.4 402.3,17.9ZM472.0,15.8 478.4,18.7 481.5,18.8 494.7,18.3 497.4,18.3 501.9,15.8 502.8,15.8 497.4,18.8 494.2,18.8 481.5,19.3 477.9,19.2 470.5,15.8 472.0,15.8ZM624.1,129.3 621.2,136.9 621.1,139.7 621.6,152.0 621.5,154.5 624.1,162.6 624.1,164.9 621.0,155.0 621.1,152.0 620.6,140.2 620.7,136.9 624.1,128.1 624.1,129.3ZM624.1,182.9 623.5,182.8 623.5,182.3 624.1,174.9 624.1,182.3 624.1,182.9ZM624.1,223.4 621.9,227.7 621.3,227.7 624.1,222.3 624.1,223.4ZM587.7,227.7 578.3,226.0 576.6,224.5 572.7,227.7 570.7,227.7 576.6,222.8 579.2,225.2 592.4,227.5 592.5,227.6 592.5,227.7 592.4,227.7 587.7,227.7ZM510.0,227.7 513.2,224.6 517.8,212.6 517.7,208.3 513.2,208.3 508.3,212.6 497.4,223.1 485.5,223.9 481.5,223.6 467.4,226.0 465.7,226.4 460.5,227.7 457.8,227.7 465.7,225.8 468.3,225.2 481.5,222.9 486.1,223.3 497.4,222.5 507.7,212.6 513.2,207.7 518.3,207.7 518.4,212.6 513.2,226.1 511.6,227.7 510.0,227.7ZM591.6,183.0 590.3,182.3 592.4,178.6 593.0,181.7 593.1,182.3 592.4,182.9 591.6,183.0ZM445.0,156.6 445.8,152.0 446.5,140.1 446.4,136.9 449.8,131.7 457.5,129.6 460.2,136.9 461.1,141.3 463.7,152.0 449.8,159.8 445.0,156.6ZM584.5,159.5 585.2,152.0 585.2,143.8 585.2,136.9 592.4,130.0 594.7,134.7 594.6,136.9 594.6,149.9 594.7,152.0 592.4,160.8 584.5,159.5ZM562.5,135.2 566.8,121.8 576.6,112.4 590.6,108.3 586.4,121.8 576.6,131.1 562.5,135.2ZM481.1,107.0 480.6,106.6 481.5,106.1 482.0,106.1 482.4,106.6 481.5,107.1 481.1,107.0ZM480.0,77.8 473.8,76.3 481.5,72.7 485.4,72.7 497.4,75.5 501.6,61.2 513.2,51.2 527.3,47.8 523.6,61.2 513.2,72.3 498.2,76.3 497.4,76.9 496.8,76.9 481.5,78.8 480.0,77.8ZM449.1,46.8 449.2,46.1 449.8,45.5 450.5,45.5 453.7,46.1 449.8,47.3 449.1,46.8ZM470.7,56.4 470.7,46.1 481.5,42.7 485.0,42.7 497.4,42.7 500.8,42.8 507.0,46.1 497.4,56.4 486.5,56.4 481.5,56.4 470.7,56.4ZM481.5,185.6 495.0,184.5 497.4,184.6 500.6,182.3 501.9,178.0 497.4,167.3 497.3,167.2 481.5,173.0 475.4,182.3 478.1,185.6 481.5,185.6ZM449.8,158.7 461.9,152.0 459.5,142.7 458.4,136.9 456.1,130.9 449.8,132.6 447.0,136.9 447.1,139.5 446.4,152.0 445.7,156.0 449.8,158.7ZM592.4,158.7 594.1,152.0 594.1,150.4 594.1,136.9 594.2,135.2 592.4,131.7 586.9,136.9 586.9,142.1 586.9,152.0 586.4,157.7 592.4,158.7ZM576.6,130.0 585.2,121.8 588.9,109.9 576.6,113.5 568.0,121.8 564.2,133.6 576.6,130.0ZM513.2,70.9 522.4,61.2 525.6,49.4 513.2,52.4 503.1,61.2 499.0,74.8 513.2,70.9ZM481.5,54.9 488.2,54.9 497.4,54.9 505.5,46.1 500.3,43.3 497.4,43.2 484.5,43.2 481.5,43.2 472.3,46.1 472.3,54.9 481.5,54.9Z"/><path fill-rule="evenodd" fill="#afff00" stroke="#afff00" stroke-width="0.3" d="M406.0,227.7 413.6,220.5 418.1,216.1 421.9,212.6 429.4,205.3 434.0,201.0 437.5,197.4 445.5,189.8 449.8,185.7 455.1,182.3 459.2,178.3 465.7,172.2 472.5,167.2 473.2,166.5 481.5,158.6 481.9,158.5 482.3,158.5 486.3,162.6 497.4,165.9 507.3,152.0 507.3,142.5 507.5,139.3 503.4,137.9 503.6,136.9 505.6,135.0 513.2,127.7 519.1,121.8 521.8,119.1 529.0,112.3 535.3,106.6 537.3,104.7 544.9,97.4 548.2,95.1 558.2,91.5 560.7,89.1 567.9,80.1 569.9,76.3 576.6,70.0 578.6,67.1 579.2,65.5 583.0,61.2 584.5,59.8 592.4,52.2 595.8,46.1 604.1,38.2 608.3,34.2 611.6,30.9 620.0,22.9 624.1,19.0 624.1,19.2 619.7,23.4 611.8,30.9 608.3,34.4 603.8,38.7 596.1,46.1 592.4,52.7 584.0,60.7 583.5,61.2 582.1,62.7 580.9,66.2 576.6,72.1 572.1,76.3 570.8,78.8 560.7,91.4 560.7,91.5 546.7,96.6 544.9,97.8 536.8,105.6 535.7,106.6 529.0,112.6 521.4,120.0 519.5,121.8 513.2,128.1 505.1,135.8 504.0,136.9 503.9,137.4 508.3,139.0 508.1,141.7 508.1,152.0 497.4,167.1 485.3,163.5 481.5,159.5 473.5,167.2 472.2,167.7 465.7,172.5 458.8,179.1 455.4,182.3 449.8,185.9 445.2,190.3 437.7,197.4 434.0,201.2 429.1,205.9 422.1,212.6 418.1,216.4 413.3,221.0 406.3,227.7 406.0,227.7ZM402.3,223.9 407.1,219.3 414.2,212.6 418.1,208.9 422.9,204.3 430.1,197.4 434.0,193.8 438.6,189.4 446.0,182.3 449.8,176.5 457.3,169.4 459.6,167.2 462.7,163.2 462.6,161.7 465.7,156.3 470.1,152.0 467.7,151.1 467.8,150.0 469.5,136.9 481.5,126.6 493.6,125.4 497.4,129.4 505.3,121.8 506.9,120.9 513.2,115.9 520.6,108.8 523.0,106.6 529.0,100.6 536.7,93.3 538.6,91.5 540.4,88.9 539.7,86.9 544.9,76.4 544.9,76.3 559.7,70.5 560.7,69.8 569.1,61.7 569.7,61.2 571.0,59.7 572.3,56.2 576.6,50.3 581.0,46.1 586.1,45.3 592.4,42.5 597.0,38.2 604.5,30.9 608.3,27.3 613.0,22.8 620.3,15.8 620.5,15.8 612.7,23.3 608.3,27.5 604.8,30.9 596.7,38.7 592.4,42.7 585.7,45.7 583.2,46.1 576.6,52.4 574.5,55.3 573.9,56.9 570.1,61.2 568.6,62.6 560.7,70.2 558.0,72.2 547.4,76.3 544.9,78.8 541.2,86.3 541.7,87.7 539.0,91.5 536.3,94.1 529.0,101.0 523.3,106.6 520.2,109.6 513.2,116.3 506.4,121.8 505.7,122.4 497.4,130.3 497.0,130.4 496.6,130.4 492.6,126.3 481.5,127.4 470.4,136.9 468.9,148.9 468.8,150.7 472.3,152.0 465.7,158.4 464.2,161.0 464.2,161.7 460.0,167.2 456.8,170.2 449.8,176.8 446.3,182.3 438.3,189.9 434.0,194.0 430.3,197.4 422.6,204.8 418.1,209.1 414.4,212.6 406.8,219.8 402.3,224.1 402.3,223.9ZM402.3,159.5 404.2,152.0 404.4,150.0 406.2,136.9 418.1,125.8 421.9,121.8 421.9,118.2 418.1,118.0 404.3,121.8 402.3,123.9 402.3,121.8 402.4,121.8 418.1,117.4 422.4,117.7 422.4,121.8 418.1,126.4 406.8,136.9 405.2,149.3 404.8,152.0 402.3,162.0 402.3,159.5ZM402.3,68.7 407.0,61.2 404.4,59.2 402.3,50.0 402.3,46.2 405.2,58.5 408.6,61.2 402.3,71.2 402.3,68.7ZM402.3,17.3 404.0,15.8 404.6,15.8 402.3,17.9 402.3,17.3ZM473.6,15.8 479.0,18.2 481.5,18.3 495.3,17.8 497.4,17.8 500.9,15.8 501.9,15.8 497.4,18.3 494.7,18.3 481.5,18.8 478.4,18.7 472.0,15.8 473.6,15.8ZM624.1,130.6 621.7,136.9 621.6,139.2 622.2,152.0 622.1,154.0 624.1,160.4 624.1,162.6 621.5,154.5 621.6,152.0 621.1,139.7 621.2,136.9 624.1,129.3 624.1,130.6ZM624.1,224.5 622.4,227.7 621.9,227.7 624.1,223.4 624.1,224.5ZM582.1,227.7 577.4,226.9 576.6,226.1 574.6,227.7 572.7,227.7 576.6,224.5 578.3,226.0 587.7,227.7 582.1,227.7ZM508.4,227.7 513.2,223.1 517.3,212.6 517.1,208.8 513.2,208.8 509.0,212.6 497.4,223.6 484.8,224.6 481.5,224.3 466.5,226.9 465.7,227.1 463.1,227.7 460.5,227.7 465.7,226.4 467.4,226.0 481.5,223.6 485.5,223.9 497.4,223.1 508.3,212.6 513.2,208.3 517.7,208.3 517.8,212.6 513.2,224.6 510.0,227.7 508.4,227.7ZM478.1,185.6 475.4,182.3 481.5,173.0 497.3,167.2 497.4,167.3 501.9,178.0 500.6,182.3 497.4,184.6 495.0,184.5 481.5,185.6 478.1,185.6ZM445.7,156.0 446.4,152.0 447.1,139.5 447.0,136.9 449.8,132.6 456.1,130.9 458.4,136.9 459.5,142.7 461.9,152.0 449.8,158.7 445.7,156.0ZM586.4,157.7 586.9,152.0 586.9,142.1 586.9,136.9 592.4,131.7 594.2,135.2 594.1,136.9 594.1,150.4 594.1,152.0 592.4,158.7 586.4,157.7ZM564.2,133.6 568.0,121.8 576.6,113.5 588.9,109.9 585.2,121.8 576.6,130.0 564.2,133.6ZM499.0,74.8 503.1,61.2 513.2,52.4 525.6,49.4 522.4,61.2 513.2,70.9 499.0,74.8ZM472.3,54.9 472.3,46.1 481.5,43.2 484.5,43.2 497.4,43.2 500.3,43.3 505.5,46.1 497.4,54.9 488.2,54.9 481.5,54.9 472.3,54.9ZM481.5,185.1 495.6,184.0 497.4,184.0 499.8,182.3 500.7,179.1 497.4,171.0 494.8,169.6 481.5,174.5 476.3,182.3 478.6,185.1 481.5,185.1ZM449.8,157.7 460.0,152.0 458.0,144.2 456.6,136.9 454.8,132.1 449.8,133.5 447.6,136.9 447.7,139.0 446.9,152.0 446.3,155.4 449.8,157.7ZM592.4,156.6 593.6,152.0 593.6,150.9 593.6,136.9 593.6,135.7 592.4,133.3 588.7,136.9 588.7,140.5 588.7,152.0 588.3,155.9 592.4,156.6ZM576.6,128.8 584.0,121.8 587.2,111.6 576.6,114.7 569.2,121.8 565.9,131.9 576.6,128.8ZM513.2,69.6 521.1,61.2 523.8,51.1 513.2,53.7 504.5,61.2 501.0,72.9 513.2,69.6ZM481.5,53.3 489.8,53.3 497.4,53.3 504.1,46.1 499.7,43.8 497.4,43.7 484.0,43.7 481.5,43.7 474.0,46.1 474.0,53.3 481.5,53.3Z"/><path fill-rule="evenodd" fill="#ccff00" stroke="#ccff00" stroke-width="0.3" d="M405.8,227.7 413.9,219.9 418.1,215.9 421.6,212.6 429.7,204.8 434.0,200.7 437.3,197.4 445.8,189.3 449.8,185.4 454.7,182.3 459.7,177.6 465.7,171.8 472.1,167.2 473.7,165.6 481.5,158.1 482.4,158.0 483.6,157.9 487.2,161.7 497.4,164.8 506.4,152.0 506.4,143.3 506.7,139.7 502.9,138.4 503.2,136.9 506.1,134.1 513.2,127.3 518.7,121.8 522.3,118.3 529.0,111.9 534.8,106.6 537.8,103.8 544.9,97.0 549.7,93.7 555.7,91.5 560.7,86.7 565.0,81.3 567.6,76.6 567.8,76.3 567.9,76.3 576.6,68.0 582.6,61.2 585.1,58.9 592.4,51.8 595.6,46.1 604.4,37.7 608.3,34.0 611.4,30.9 620.3,22.4 624.1,18.8 624.1,19.0 620.0,22.9 611.6,30.9 608.3,34.2 604.1,38.2 595.8,46.1 592.4,52.2 584.5,59.8 583.0,61.2 579.2,65.5 578.6,67.1 576.6,70.0 569.9,76.3 567.9,80.1 560.7,89.1 558.2,91.5 548.2,95.1 544.9,97.4 537.3,104.7 535.3,106.6 529.0,112.3 521.8,119.1 519.1,121.8 513.2,127.7 505.6,135.0 503.6,136.9 503.4,137.9 507.5,139.3 507.3,142.5 507.3,152.0 497.4,165.9 486.3,162.6 482.3,158.5 481.9,158.5 481.5,158.6 473.2,166.5 472.5,167.2 465.7,172.2 459.2,178.3 455.1,182.3 449.8,185.7 445.5,189.8 437.5,197.4 434.0,201.0 429.4,205.3 421.9,212.6 418.1,216.1 413.6,220.5 406.0,227.7 405.8,227.7ZM402.3,224.1 406.8,219.8 414.4,212.6 418.1,209.1 422.6,204.8 430.3,197.4 434.0,194.0 438.3,189.9 446.3,182.3 449.8,176.8 456.8,170.2 460.0,167.2 464.2,161.7 464.2,161.0 465.7,158.4 472.3,152.0 468.8,150.7 468.9,148.9 470.4,136.9 481.5,127.4 492.6,126.3 496.6,130.4 497.0,130.4 497.4,130.3 505.7,122.4 506.4,121.8 513.2,116.3 520.2,109.6 523.3,106.6 529.0,101.0 536.3,94.1 539.0,91.5 541.7,87.7 541.2,86.3 544.9,78.8 547.4,76.3 558.0,72.2 560.7,70.2 568.6,62.6 570.1,61.2 573.9,56.9 574.5,55.3 576.6,52.4 583.2,46.1 585.7,45.7 592.4,42.7 596.7,38.7 604.8,30.9 608.3,27.5 612.7,23.3 620.5,15.8 620.7,15.8 612.4,23.8 608.3,27.7 605.0,30.9 596.4,39.2 592.4,43.0 585.3,46.1 585.2,46.1 576.6,54.4 570.5,61.2 568.1,63.6 560.7,70.6 556.2,73.8 549.9,76.3 544.9,81.1 542.7,85.6 543.0,86.5 539.4,91.5 535.8,94.9 529.0,101.4 523.7,106.6 519.7,110.5 513.2,116.7 506.8,121.8 505.2,123.3 497.4,130.8 496.5,130.9 495.3,131.0 491.7,127.2 481.5,128.2 471.4,136.9 470.0,147.9 469.8,150.3 474.4,152.0 474.4,152.0 474.3,152.1 465.7,160.4 460.4,167.2 456.3,171.0 449.8,177.2 446.5,182.3 438.1,190.4 434.0,194.3 430.6,197.4 422.3,205.4 418.1,209.3 414.7,212.6 406.5,220.3 402.3,224.4 402.3,224.1ZM402.3,157.0 403.6,152.0 403.7,150.7 405.6,136.9 418.1,125.2 421.3,121.8 421.3,118.7 418.1,118.5 406.3,121.8 402.3,126.0 402.3,123.9 404.3,121.8 418.1,118.0 421.9,118.2 421.9,121.8 418.1,125.8 406.2,136.9 404.4,150.0 404.2,152.0 402.3,159.5 402.3,157.0ZM402.3,66.2 405.4,61.2 403.7,59.8 402.3,53.7 402.3,50.0 404.4,59.2 407.0,61.2 402.3,68.7 402.3,66.2ZM402.3,16.8 403.4,15.8 404.0,15.8 402.3,17.3 402.3,16.8ZM475.2,15.8 479.5,17.8 481.5,17.8 495.8,17.3 497.4,17.3 500.0,15.8 500.9,15.8 497.4,17.8 495.3,17.8 481.5,18.3 479.0,18.2 473.6,15.8 475.2,15.8ZM624.1,131.9 622.2,136.9 622.1,138.8 622.7,152.0 622.6,153.4 624.1,158.2 624.1,160.4 622.1,154.0 622.2,152.0 621.6,139.2 621.7,136.9 624.1,130.6 624.1,131.9ZM624.1,225.6 623.0,227.7 622.4,227.7 624.1,224.5 624.1,225.6ZM574.6,227.7 576.6,226.1 577.4,226.9 582.1,227.7 576.6,227.7 574.6,227.7ZM506.8,227.7 513.2,221.6 516.7,212.6 516.6,209.3 513.2,209.3 509.6,212.6 497.4,224.2 484.1,225.2 481.5,225.0 465.8,227.7 465.7,227.7 463.1,227.7 465.7,227.1 466.5,226.9 481.5,224.3 484.8,224.6 497.4,223.6 509.0,212.6 513.2,208.8 517.1,208.8 517.3,212.6 513.2,223.1 508.4,227.7 506.8,227.7ZM478.6,185.1 476.3,182.3 481.5,174.5 494.8,169.6 497.4,171.0 500.7,179.1 499.8,182.3 497.4,184.0 495.6,184.0 481.5,185.1 478.6,185.1ZM446.3,155.4 446.9,152.0 447.7,139.0 447.6,136.9 449.8,133.5 454.8,132.1 456.6,136.9 458.0,144.2 460.0,152.0 449.8,157.7 446.3,155.4ZM588.3,155.9 588.7,152.0 588.7,140.5 588.7,136.9 592.4,133.3 593.6,135.7 593.6,136.9 593.6,150.9 593.6,152.0 592.4,156.6 588.3,155.9ZM565.9,131.9 569.2,121.8 576.6,114.7 587.2,111.6 584.0,121.8 576.6,128.8 565.9,131.9ZM501.0,72.9 504.5,61.2 513.2,53.7 523.8,51.1 521.1,61.2 513.2,69.6 501.0,72.9ZM474.0,53.3 474.0,46.1 481.5,43.7 484.0,43.7 497.4,43.7 499.7,43.8 504.1,46.1 497.4,53.3 489.8,53.3 481.5,53.3 474.0,53.3ZM481.5,184.6 496.2,183.4 497.4,183.4 499.0,182.3 499.6,180.2 497.4,174.8 492.3,172.0 481.5,175.9 477.3,182.3 479.1,184.6 481.5,184.6ZM449.8,156.6 458.1,152.0 456.5,145.7 454.8,136.9 453.5,133.4 449.8,134.4 448.2,136.9 448.2,138.4 447.5,152.0 447.0,154.7 449.8,156.6ZM592.4,154.5 593.1,152.0 593.0,151.4 593.0,136.9 593.1,136.3 592.4,135.0 590.4,136.9 590.4,138.8 590.4,152.0 590.2,154.1 592.4,154.5ZM576.6,127.7 582.8,121.8 585.5,113.2 576.6,115.8 570.4,121.8 567.7,130.3 576.6,127.7ZM513.2,68.2 519.8,61.2 522.1,52.7 513.2,54.9 505.9,61.2 503.0,71.0 513.2,68.2ZM481.5,51.7 491.5,51.7 497.4,51.7 502.6,46.1 499.2,44.3 497.4,44.2 483.4,44.2 481.5,44.2 475.6,46.1 475.6,51.7 481.5,51.7Z"/><path fill-rule="evenodd" fill="#e3ff00" stroke="#e3ff00" stroke-width="0.3" d="M405.5,227.7 414.2,219.4 418.1,215.6 421.4,212.6 430.0,204.3 434.0,200.5 437.0,197.4 446.1,188.8 449.8,185.2 454.4,182.3 460.1,176.8 465.7,171.5 471.6,167.2 474.3,164.6 481.5,157.7 482.9,157.5 484.9,157.4 488.1,160.8 497.4,163.6 505.6,152.0 505.6,144.2 505.9,140.0 502.5,138.8 502.7,136.9 506.6,133.2 513.2,126.9 518.3,121.8 522.8,117.5 529.0,111.5 534.4,106.6 538.3,102.9 544.9,96.6 551.3,92.2 553.2,91.5 560.7,84.3 562.1,82.5 563.0,81.0 567.3,76.3 568.5,75.2 576.6,67.5 582.2,61.2 585.6,57.9 592.4,51.4 595.4,46.1 604.6,37.2 608.3,33.8 611.2,30.9 620.5,22.0 624.1,18.6 624.1,18.8 620.3,22.4 611.4,30.9 608.3,34.0 604.4,37.7 595.6,46.1 592.4,51.8 585.1,58.9 582.6,61.2 576.6,68.0 567.9,76.3 567.8,76.3 567.6,76.6 565.0,81.3 560.7,86.7 555.7,91.5 549.7,93.7 544.9,97.0 537.8,103.8 534.8,106.6 529.0,111.9 522.3,118.3 518.7,121.8 513.2,127.3 506.1,134.1 503.2,136.9 502.9,138.4 506.7,139.7 506.4,143.3 506.4,152.0 497.4,164.8 487.2,161.7 483.6,157.9 482.4,158.0 481.5,158.1 473.7,165.6 472.1,167.2 465.7,171.8 459.7,177.6 454.7,182.3 449.8,185.4 445.8,189.3 437.3,197.4 434.0,200.7 429.7,204.8 421.6,212.6 418.1,215.9 413.9,219.9 405.8,227.7 405.5,227.7ZM402.3,224.4 406.5,220.3 414.7,212.6 418.1,209.3 422.3,205.4 430.6,197.4 434.0,194.3 438.1,190.4 446.5,182.3 449.8,177.2 456.3,171.0 460.4,167.2 465.7,160.4 474.3,152.1 474.4,152.0 474.4,152.0 469.8,150.3 470.0,147.9 471.4,136.9 481.5,128.2 491.7,127.2 495.3,131.0 496.5,130.9 497.4,130.8 505.2,123.3 506.8,121.8 513.2,116.7 519.7,110.5 523.7,106.6 529.0,101.4 535.8,94.9 539.4,91.5 543.0,86.5 542.7,85.6 544.9,81.1 549.9,76.3 556.2,73.8 560.7,70.6 568.1,63.6 570.5,61.2 576.6,54.4 585.2,46.1 585.3,46.1 592.4,43.0 596.4,39.2 605.0,30.9 608.3,27.7 612.4,23.8 620.7,15.8 621.0,15.8 612.1,24.3 608.3,28.0 605.2,30.9 596.1,39.7 592.4,43.2 585.8,46.1 584.6,47.2 576.6,54.9 571.0,61.2 567.6,64.5 560.7,71.0 554.5,75.5 552.4,76.3 544.9,83.5 544.2,85.0 544.3,85.3 539.8,91.5 535.3,95.8 529.0,101.7 524.1,106.6 519.2,111.3 513.2,117.0 507.3,121.8 504.6,124.3 497.4,131.2 495.9,131.4 494.0,131.5 490.7,128.1 481.5,129.0 472.3,136.9 471.1,146.9 470.8,149.8 475.0,151.4 474.9,152.0 473.7,153.2 465.7,160.9 460.7,167.2 455.9,171.8 449.8,177.6 446.7,182.3 437.8,190.9 434.0,194.5 430.8,197.4 422.0,205.9 418.1,209.6 414.9,212.6 406.2,220.9 402.3,224.6 402.3,224.4ZM402.3,154.5 402.9,152.0 403.0,151.4 404.9,136.9 418.1,124.6 420.8,121.8 420.8,119.2 418.1,119.1 408.3,121.8 402.3,128.1 402.3,126.0 406.3,121.8 418.1,118.5 421.3,118.7 421.3,121.8 418.1,125.2 405.6,136.9 403.7,150.7 403.6,152.0 402.3,157.0 402.3,154.5ZM402.3,63.7 403.8,61.2 403.0,60.5 402.3,57.5 402.3,53.7 403.7,59.8 405.4,61.2 402.3,66.2 402.3,63.7ZM402.3,16.3 402.9,15.8 403.4,15.8 402.3,16.8 402.3,16.3ZM476.8,15.8 480.0,17.3 481.5,17.3 496.4,16.7 497.4,16.7 499.0,15.8 500.0,15.8 497.4,17.3 495.8,17.3 481.5,17.8 479.5,17.8 475.2,15.8 476.8,15.8ZM624.1,133.1 622.6,136.9 622.6,138.3 623.2,152.0 623.2,152.9 624.1,156.0 624.1,158.2 622.6,153.4 622.7,152.0 622.1,138.8 622.2,136.9 624.1,131.9 624.1,133.1ZM624.1,226.6 623.6,227.7 623.0,227.7 624.1,225.6 624.1,226.6ZM505.2,227.7 513.2,220.1 516.1,212.6 516.0,209.9 513.2,209.9 510.2,212.6 497.4,224.8 483.5,225.8 481.5,225.7 469.7,227.7 465.8,227.7 481.5,225.0 484.1,225.2 497.4,224.2 509.6,212.6 513.2,209.3 516.6,209.3 516.7,212.6 513.2,221.6 506.8,227.7 505.2,227.7ZM479.1,184.6 477.3,182.3 481.5,175.9 492.3,172.0 497.4,174.8 499.6,180.2 499.0,182.3 497.4,183.4 496.2,183.4 481.5,184.6 479.1,184.6ZM447.0,154.7 447.5,152.0 448.2,138.4 448.2,136.9 449.8,134.4 453.5,133.4 454.8,136.9 456.5,145.7 458.1,152.0 449.8,156.6 447.0,154.7ZM590.2,154.1 590.4,152.0 590.4,138.8 590.4,136.9 592.4,135.0 593.1,136.3 593.0,136.9 593.0,151.4 593.1,152.0 592.4,154.5 590.2,154.1ZM567.7,130.3 570.4,121.8 576.6,115.8 585.5,113.2 582.8,121.8 576.6,127.7 567.7,130.3ZM503.0,71.0 505.9,61.2 513.2,54.9 522.1,52.7 519.8,61.2 513.2,68.2 503.0,71.0ZM475.6,51.7 475.6,46.1 481.5,44.2 483.4,44.2 497.4,44.2 499.2,44.3 502.6,46.1 497.4,51.7 491.5,51.7 481.5,51.7 475.6,51.7ZM481.5,184.0 496.8,182.8 497.4,182.9 498.2,182.3 498.5,181.2 497.4,178.6 489.9,174.3 481.5,177.4 478.3,182.3 479.7,184.0 481.5,184.0ZM449.8,155.6 456.2,152.0 455.0,147.1 453.0,136.9 452.2,134.7 449.8,135.3 448.8,136.9 448.8,137.9 448.0,152.0 447.6,154.1 449.8,155.6ZM592.4,152.4 592.5,152.0 592.5,151.9 592.5,136.9 592.5,136.8 592.4,136.6 592.1,136.9 592.1,137.2 592.1,152.0 592.1,152.3 592.4,152.4ZM576.6,126.5 581.6,121.8 583.8,114.9 576.6,117.0 571.6,121.8 569.4,128.6 576.6,126.5ZM513.2,66.8 518.5,61.2 520.4,54.3 513.2,56.1 507.3,61.2 504.9,69.1 513.2,66.8ZM481.5,50.1 493.1,50.1 497.4,50.1 501.1,46.1 498.7,44.8 497.4,44.8 482.9,44.8 481.5,44.8 477.3,46.1 477.3,50.1 481.5,50.1Z"/><path fill-rule="evenodd" fill="#f8ff00" stroke="#f8ff00" stroke-width="0.3" d="M405.3,227.7 414.5,218.9 418.1,215.4 421.1,212.6 430.4,203.7 434.0,200.3 436.8,197.4 446.4,188.3 449.8,185.0 454.0,182.3 460.5,176.1 465.7,171.2 471.1,167.2 474.8,163.6 481.5,157.2 483.5,156.9 486.2,156.8 489.1,159.9 497.4,162.4 504.7,152.0 504.7,145.0 505.1,140.4 502.0,139.3 502.3,136.9 507.1,132.3 513.2,126.5 517.9,121.8 523.3,116.6 529.0,111.1 534.0,106.6 538.8,102.0 544.9,96.2 551.7,91.5 552.4,90.9 560.7,82.9 566.8,76.3 569.1,74.1 576.6,67.0 581.7,61.2 586.1,57.0 592.4,51.0 595.1,46.1 604.9,36.7 608.3,33.5 610.9,30.9 620.8,21.5 624.1,18.4 624.1,18.6 620.5,22.0 611.2,30.9 608.3,33.8 604.6,37.2 595.4,46.1 592.4,51.4 585.6,57.9 582.2,61.2 576.6,67.5 568.5,75.2 567.3,76.3 563.0,81.0 562.1,82.5 560.7,84.3 553.2,91.5 551.3,92.2 544.9,96.6 538.3,102.9 534.4,106.6 529.0,111.5 522.8,117.5 518.3,121.8 513.2,126.9 506.6,133.2 502.7,136.9 502.5,138.8 505.9,140.0 505.6,144.2 505.6,152.0 497.4,163.6 488.1,160.8 484.9,157.4 482.9,157.5 481.5,157.7 474.3,164.6 471.6,167.2 465.7,171.5 460.1,176.8 454.4,182.3 449.8,185.2 446.1,188.8 437.0,197.4 434.0,200.5 430.0,204.3 421.4,212.6 418.1,215.6 414.2,219.4 405.5,227.7 405.3,227.7ZM402.3,224.6 406.2,220.9 414.9,212.6 418.1,209.6 422.0,205.9 430.8,197.4 434.0,194.5 437.8,190.9 446.7,182.3 449.8,177.6 455.9,171.8 460.7,167.2 465.7,160.9 473.7,153.2 474.9,152.0 475.0,151.4 470.8,149.8 471.1,146.9 472.3,136.9 481.5,129.0 490.7,128.1 494.0,131.5 495.9,131.4 497.4,131.2 504.6,124.3 507.3,121.8 513.2,117.0 519.2,111.3 524.1,106.6 529.0,101.7 535.3,95.8 539.8,91.5 544.3,85.3 544.2,85.0 544.9,83.5 552.4,76.3 554.5,75.5 560.7,71.0 567.6,64.5 571.0,61.2 576.6,54.9 584.6,47.2 585.8,46.1 592.4,43.2 596.1,39.7 605.2,30.9 608.3,28.0 612.1,24.3 621.0,15.8 621.2,15.8 611.8,24.8 608.3,28.2 605.5,30.9 595.8,40.1 592.4,43.4 586.3,46.1 584.0,48.3 576.6,55.4 571.4,61.2 567.0,65.4 560.7,71.4 553.9,76.3 553.2,77.0 544.9,84.9 540.2,91.5 534.8,96.6 529.0,102.1 524.5,106.6 518.8,112.1 513.2,117.4 507.7,121.8 504.0,125.3 497.4,131.7 495.4,132.0 492.7,132.1 489.8,129.0 481.5,129.8 473.2,136.9 472.1,145.9 471.8,149.4 475.7,150.8 475.4,152.0 473.1,154.3 465.7,161.3 461.1,167.2 455.4,172.6 449.8,177.9 447.0,182.3 437.5,191.4 434.0,194.7 431.1,197.4 421.7,206.4 418.1,209.8 415.2,212.6 405.9,221.4 402.3,224.9 402.3,224.6ZM402.3,151.9 404.3,136.9 418.1,124.1 420.3,121.8 420.3,119.7 418.1,119.6 410.3,121.8 402.3,130.2 402.3,128.1 408.3,121.8 418.1,119.1 420.8,119.2 420.8,121.8 418.1,124.6 404.9,136.9 403.0,151.4 402.9,152.0 402.3,154.5 402.3,152.0 402.3,151.9ZM402.3,57.5 403.0,60.5 403.8,61.2 402.3,63.7 402.3,61.2 402.3,57.5ZM402.9,15.8 402.3,16.3 402.3,15.8 402.9,15.8ZM478.4,15.8 480.5,16.8 481.5,16.8 496.9,16.2 497.4,16.2 498.1,15.8 499.0,15.8 497.4,16.7 496.4,16.7 481.5,17.3 480.0,17.3 476.8,15.8 478.4,15.8ZM624.1,134.4 623.1,136.9 623.1,137.8 623.7,152.0 623.7,152.4 624.1,153.7 624.1,156.0 623.2,152.9 623.2,152.0 622.6,138.3 622.6,136.9 624.1,133.1 624.1,134.4ZM623.6,227.7 624.1,226.6 624.1,227.7 623.6,227.7ZM503.6,227.7 513.2,218.6 515.5,212.6 515.4,210.4 513.2,210.4 510.8,212.6 497.4,225.4 482.8,226.5 481.5,226.3 473.7,227.7 469.7,227.7 481.5,225.7 483.5,225.8 497.4,224.8 510.2,212.6 513.2,209.9 516.0,209.9 516.1,212.6 513.2,220.1 505.2,227.7 503.6,227.7ZM479.7,184.0 478.3,182.3 481.5,177.4 489.9,174.3 497.4,178.6 498.5,181.2 498.2,182.3 497.4,182.9 496.8,182.8 481.5,184.0 479.7,184.0ZM447.6,154.1 448.0,152.0 448.8,137.9 448.8,136.9 449.8,135.3 452.2,134.7 453.0,136.9 455.0,147.1 456.2,152.0 449.8,155.6 447.6,154.1ZM592.1,152.3 592.1,152.0 592.1,137.2 592.1,136.9 592.4,136.6 592.5,136.8 592.5,136.9 592.5,151.9 592.5,152.0 592.4,152.4 592.1,152.3ZM569.4,128.6 571.6,121.8 576.6,117.0 583.8,114.9 581.6,121.8 576.6,126.5 569.4,128.6ZM504.9,69.1 507.3,61.2 513.2,56.1 520.4,54.3 518.5,61.2 513.2,66.8 504.9,69.1ZM477.3,50.1 477.3,46.1 481.5,44.8 482.9,44.8 497.4,44.8 498.7,44.8 501.1,46.1 497.4,50.1 493.1,50.1 481.5,50.1 477.3,50.1ZM481.5,183.5 497.2,182.3 487.4,176.7 481.5,178.8 479.2,182.3 480.2,183.5 481.5,183.5ZM449.8,154.5 454.3,152.0 453.4,148.6 451.2,136.9 450.8,135.9 449.8,136.2 449.4,136.9 449.4,137.3 448.5,152.0 448.3,153.5 449.8,154.5ZM576.6,125.4 580.4,121.8 582.0,116.5 576.6,118.1 572.8,121.8 571.1,127.0 576.6,125.4ZM513.2,65.5 517.3,61.2 518.7,56.0 513.2,57.3 508.7,61.2 506.9,67.2 513.2,65.5ZM481.5,48.5 494.8,48.5 497.4,48.5 499.7,46.1 498.2,45.3 497.4,45.3 482.4,45.3 481.5,45.3 478.9,46.1 478.9,48.5 481.5,48.5Z"/><path fill-rule="evenodd" fill="#ffeb00" stroke="#ffeb00" stroke-width="0.3" d="M405.0,227.7 414.8,218.3 418.1,215.2 420.9,212.6 430.7,203.2 434.0,200.0 436.6,197.4 446.7,187.8 449.8,184.8 453.7,182.3 461.0,175.3 465.7,170.8 470.7,167.2 475.4,162.7 481.5,156.8 484.0,156.4 487.4,156.3 490.0,159.0 497.4,161.2 503.9,152.0 503.9,145.8 504.2,140.7 501.5,139.8 501.9,136.9 507.6,131.4 513.2,126.1 517.5,121.8 523.8,115.8 529.0,110.7 533.6,106.6 539.3,101.2 544.9,95.8 551.2,91.5 553.1,89.6 560.7,82.3 566.3,76.3 569.8,73.0 576.6,66.5 581.3,61.2 586.6,56.1 592.4,50.6 594.9,46.1 605.2,36.3 608.3,33.3 610.7,30.9 621.1,21.0 624.1,18.1 624.1,18.4 620.8,21.5 610.9,30.9 608.3,33.5 604.9,36.7 595.1,46.1 592.4,51.0 586.1,57.0 581.7,61.2 576.6,67.0 569.1,74.1 566.8,76.3 560.7,82.9 552.4,90.9 551.7,91.5 544.9,96.2 538.8,102.0 534.0,106.6 529.0,111.1 523.3,116.6 517.9,121.8 513.2,126.5 507.1,132.3 502.3,136.9 502.0,139.3 505.1,140.4 504.7,145.0 504.7,152.0 497.4,162.4 489.1,159.9 486.2,156.8 483.5,156.9 481.5,157.2 474.8,163.6 471.1,167.2 465.7,171.2 460.5,176.1 454.0,182.3 449.8,185.0 446.4,188.3 436.8,197.4 434.0,200.3 430.4,203.7 421.1,212.6 418.1,215.4 414.5,218.9 405.3,227.7 405.0,227.7ZM402.3,224.9 405.9,221.4 415.2,212.6 418.1,209.8 421.7,206.4 431.1,197.4 434.0,194.7 437.5,191.4 447.0,182.3 449.8,177.9 455.4,172.6 461.1,167.2 465.7,161.3 473.1,154.3 475.4,152.0 475.7,150.8 471.8,149.4 472.1,145.9 473.2,136.9 481.5,129.8 489.8,129.0 492.7,132.1 495.4,132.0 497.4,131.7 504.0,125.3 507.7,121.8 513.2,117.4 518.8,112.1 524.5,106.6 529.0,102.1 534.8,96.6 540.2,91.5 544.9,84.9 553.2,77.0 553.9,76.3 560.7,71.4 567.0,65.4 571.4,61.2 576.6,55.4 584.0,48.3 586.3,46.1 592.4,43.4 595.8,40.1 605.5,30.9 608.3,28.2 611.8,24.8 621.2,15.8 621.5,15.8 611.5,25.3 608.3,28.4 605.7,30.9 595.5,40.6 592.4,43.6 586.8,46.1 583.4,49.4 576.6,55.9 571.8,61.2 566.5,66.3 560.7,71.8 554.5,76.3 552.5,78.2 544.9,85.5 540.6,91.5 534.3,97.4 529.0,102.5 524.9,106.6 518.3,112.9 513.2,117.8 508.2,121.8 503.5,126.2 497.4,132.1 494.8,132.5 491.4,132.6 488.8,129.9 481.5,130.6 474.2,136.9 473.2,144.8 472.9,148.9 476.3,150.2 475.9,152.0 472.5,155.3 465.7,161.8 461.5,167.2 454.9,173.4 449.8,178.3 447.2,182.3 437.2,191.9 434.0,194.9 431.3,197.4 421.4,206.9 418.1,210.0 415.4,212.6 405.6,221.9 402.3,225.1 402.3,224.9ZM402.3,147.1 403.7,136.9 418.1,123.5 419.7,121.8 419.7,120.2 418.1,120.1 412.3,121.8 402.3,132.3 402.3,130.2 410.3,121.8 418.1,119.6 420.3,119.7 420.3,121.8 418.1,124.1 404.3,136.9 402.3,151.9 402.3,147.1ZM480.0,15.8 481.0,16.3 481.5,16.3 494.3,15.8 497.4,15.8 498.1,15.8 497.4,16.2 496.9,16.2 481.5,16.8 480.5,16.8 478.4,15.8 480.0,15.8ZM624.1,135.7 623.6,136.9 623.6,137.3 624.1,149.1 624.1,152.0 624.1,153.7 623.7,152.4 623.7,152.0 623.1,137.8 623.1,136.9 624.1,134.4 624.1,135.7ZM502.1,227.7 513.2,217.1 514.9,212.6 514.9,211.0 513.2,211.0 511.4,212.6 497.4,226.0 482.2,227.1 481.5,227.0 477.7,227.7 473.7,227.7 481.5,226.3 482.8,226.5 497.4,225.4 510.8,212.6 513.2,210.4 515.4,210.4 515.5,212.6 513.2,218.6 503.6,227.7 502.1,227.7ZM480.2,183.5 479.2,182.3 481.5,178.8 487.4,176.7 497.2,182.3 481.5,183.5 480.2,183.5ZM448.3,153.5 448.5,152.0 449.4,137.3 449.4,136.9 449.8,136.2 450.8,135.9 451.2,136.9 453.4,148.6 454.3,152.0 449.8,154.5 448.3,153.5ZM571.1,127.0 572.8,121.8 576.6,118.1 582.0,116.5 580.4,121.8 576.6,125.4 571.1,127.0ZM506.9,67.2 508.7,61.2 513.2,57.3 518.7,56.0 517.3,61.2 513.2,65.5 506.9,67.2ZM478.9,48.5 478.9,46.1 481.5,45.3 482.4,45.3 497.4,45.3 498.2,45.3 499.7,46.1 497.4,48.5 494.8,48.5 481.5,48.5 478.9,48.5ZM481.5,183.0 490.6,182.3 484.9,179.1 481.5,180.3 480.2,182.3 480.8,183.0 481.5,183.0ZM449.8,153.5 452.4,152.0 451.9,150.0 449.8,139.1 449.1,152.0 448.9,152.9 449.8,153.5ZM576.6,124.2 579.2,121.8 580.3,118.2 576.6,119.3 574.0,121.8 572.8,125.3 576.6,124.2ZM513.2,64.1 516.0,61.2 516.9,57.6 513.2,58.6 510.1,61.2 508.9,65.3 513.2,64.1ZM481.5,47.0 496.4,47.0 497.4,47.0 498.2,46.1 497.7,45.8 497.4,45.8 481.8,45.8 481.5,45.8 480.6,46.1 480.6,47.0 481.5,47.0Z"/><path fill-rule="evenodd" fill="#ffca00" stroke="#ffca00" stroke-width="0.3" d="M404.8,227.7 415.1,217.8 418.1,214.9 420.6,212.6 431.0,202.7 434.0,199.8 436.3,197.4 447.0,187.3 449.8,184.5 453.3,182.3 461.4,174.6 465.7,170.5 470.2,167.2 475.9,161.7 481.5,156.4 484.6,155.9 488.7,155.7 491.0,158.1 497.4,160.0 503.1,152.0 503.1,146.6 503.4,141.1 501.0,140.2 501.5,136.9 508.1,130.5 513.2,125.7 517.1,121.8 524.2,115.0 529.0,110.4 533.2,106.6 539.8,100.3 544.9,95.4 550.6,91.5 553.8,88.4 560.7,81.8 565.8,76.3 570.4,72.0 576.6,66.0 580.9,61.2 587.2,55.2 592.4,50.2 594.7,46.1 605.5,35.8 608.3,33.1 610.5,30.9 621.4,20.5 624.1,17.9 624.1,18.1 621.1,21.0 610.7,30.9 608.3,33.3 605.2,36.3 594.9,46.1 592.4,50.6 586.6,56.1 581.3,61.2 576.6,66.5 569.8,73.0 566.3,76.3 560.7,82.3 553.1,89.6 551.2,91.5 544.9,95.8 539.3,101.2 533.6,106.6 529.0,110.7 523.8,115.8 517.5,121.8 513.2,126.1 507.6,131.4 501.9,136.9 501.5,139.8 504.2,140.7 503.9,145.8 503.9,152.0 497.4,161.2 490.0,159.0 487.4,156.3 484.0,156.4 481.5,156.8 475.4,162.7 470.7,167.2 465.7,170.8 461.0,175.3 453.7,182.3 449.8,184.8 446.7,187.8 436.6,197.4 434.0,200.0 430.7,203.2 420.9,212.6 418.1,215.2 414.8,218.3 405.0,227.7 404.8,227.7ZM402.3,225.1 405.6,221.9 415.4,212.6 418.1,210.0 421.4,206.9 431.3,197.4 434.0,194.9 437.2,191.9 447.2,182.3 449.8,178.3 454.9,173.4 461.5,167.2 465.7,161.8 472.5,155.3 475.9,152.0 476.3,150.2 472.9,148.9 473.2,144.8 474.2,136.9 481.5,130.6 488.8,129.9 491.4,132.6 494.8,132.5 497.4,132.1 503.5,126.2 508.2,121.8 513.2,117.8 518.3,112.9 524.9,106.6 529.0,102.5 534.3,97.4 540.6,91.5 544.9,85.5 552.5,78.2 554.5,76.3 560.7,71.8 566.5,66.3 571.8,61.2 576.6,55.9 583.4,49.4 586.8,46.1 592.4,43.6 595.5,40.6 605.7,30.9 608.3,28.4 611.5,25.3 621.5,15.8 621.7,15.8 611.2,25.8 608.3,28.6 605.9,30.9 595.3,41.1 592.4,43.9 587.4,46.1 582.8,50.5 576.6,56.4 572.3,61.2 566.0,67.2 560.7,72.2 555.0,76.3 551.8,79.4 544.9,86.0 541.0,91.5 533.8,98.3 529.0,102.9 525.2,106.6 517.8,113.7 513.2,118.1 508.6,121.8 502.9,127.2 497.4,132.5 494.3,133.0 490.2,133.2 487.9,130.8 481.5,131.4 475.1,136.9 474.3,143.8 473.9,148.5 476.9,149.6 476.5,152.0 471.9,156.4 465.7,162.3 461.9,167.2 454.5,174.2 449.8,178.7 447.5,182.3 436.9,192.4 434.0,195.2 431.6,197.4 421.1,207.4 418.1,210.2 415.7,212.6 405.3,222.4 402.3,225.3 402.3,225.1ZM402.3,142.4 403.0,136.9 418.1,122.9 419.2,121.8 419.2,120.7 418.1,120.7 414.2,121.8 402.3,134.4 402.3,132.3 412.3,121.8 418.1,120.1 419.7,120.2 419.7,121.8 418.1,123.5 403.7,136.9 402.3,147.1 402.3,142.4ZM494.3,15.8 481.5,16.3 481.0,16.3 480.0,15.8 481.5,15.8 494.3,15.8ZM624.1,149.1 623.6,137.3 623.6,136.9 624.1,135.7 624.1,136.9 624.1,149.1ZM500.5,227.7 513.2,215.5 514.3,212.6 514.3,211.5 513.2,211.5 512.0,212.6 497.4,226.6 481.8,227.7 481.5,227.7 477.7,227.7 481.5,227.0 482.2,227.1 497.4,226.0 511.4,212.6 513.2,211.0 514.9,211.0 514.9,212.6 513.2,217.1 502.1,227.7 500.5,227.7ZM480.8,183.0 480.2,182.3 481.5,180.3 484.9,179.1 490.6,182.3 481.5,183.0 480.8,183.0ZM448.9,152.9 449.1,152.0 449.8,139.1 451.9,150.0 452.4,152.0 449.8,153.5 448.9,152.9ZM572.8,125.3 574.0,121.8 576.6,119.3 580.3,118.2 579.2,121.8 576.6,124.2 572.8,125.3ZM508.9,65.3 510.1,61.2 513.2,58.6 516.9,57.6 516.0,61.2 513.2,64.1 508.9,65.3ZM480.6,47.0 480.6,46.1 481.5,45.8 481.8,45.8 497.4,45.8 497.7,45.8 498.2,46.1 497.4,47.0 496.4,47.0 481.5,47.0 480.6,47.0ZM481.5,182.5 484.0,182.3 482.4,181.4 481.5,181.8 481.2,182.3 481.3,182.5 481.5,182.5ZM449.8,152.4 450.5,152.0 450.4,151.5 449.8,148.5 449.6,152.0 449.6,152.3 449.8,152.4ZM576.6,123.1 578.0,121.8 578.6,119.8 576.6,120.4 575.2,121.8 574.6,123.7 576.6,123.1ZM513.2,62.8 514.7,61.2 515.2,59.3 513.2,59.8 511.5,61.2 510.9,63.4 513.2,62.8Z"/><path fill-rule="evenodd" fill="#ffa900" stroke="#ffa900" stroke-width="0.3" d="M404.5,227.7 415.4,217.3 418.1,214.7 420.4,212.6 431.3,202.2 434.0,199.6 436.1,197.4 447.2,186.8 449.8,184.3 453.0,182.3 461.8,173.9 465.7,170.2 469.8,167.2 476.5,160.7 481.5,155.9 485.1,155.4 490.0,155.2 491.9,157.2 497.4,158.8 502.2,152.0 502.2,147.4 502.6,141.4 500.5,140.7 501.1,136.9 508.6,129.7 513.2,125.3 516.7,121.8 524.7,114.1 529.0,110.0 532.8,106.6 540.3,99.4 544.9,95.0 550.0,91.5 554.5,87.2 560.7,81.2 565.3,76.3 571.0,70.9 576.6,65.6 580.4,61.2 587.7,54.3 592.4,49.8 594.5,46.1 605.8,35.3 608.3,32.9 610.3,30.9 621.6,20.1 624.1,17.7 624.1,17.9 621.4,20.5 610.5,30.9 608.3,33.1 605.5,35.8 594.7,46.1 592.4,50.2 587.2,55.2 580.9,61.2 576.6,66.0 570.4,72.0 565.8,76.3 560.7,81.8 553.8,88.4 550.6,91.5 544.9,95.4 539.8,100.3 533.2,106.6 529.0,110.4 524.2,115.0 517.1,121.8 513.2,125.7 508.1,130.5 501.5,136.9 501.0,140.2 503.4,141.1 503.1,146.6 503.1,152.0 497.4,160.0 491.0,158.1 488.7,155.7 484.6,155.9 481.5,156.4 475.9,161.7 470.2,167.2 465.7,170.5 461.4,174.6 453.3,182.3 449.8,184.5 447.0,187.3 436.3,197.4 434.0,199.8 431.0,202.7 420.6,212.6 418.1,214.9 415.1,217.8 404.8,227.7 404.5,227.7ZM402.3,225.3 405.3,222.4 415.7,212.6 418.1,210.2 421.1,207.4 431.6,197.4 434.0,195.2 436.9,192.4 447.5,182.3 449.8,178.7 454.5,174.2 461.9,167.2 465.7,162.3 471.9,156.4 476.5,152.0 476.9,149.6 473.9,148.5 474.3,143.8 475.1,136.9 481.5,131.4 487.9,130.8 490.2,133.2 494.3,133.0 497.4,132.5 502.9,127.2 508.6,121.8 513.2,118.1 517.8,113.7 525.2,106.6 529.0,102.9 533.8,98.3 541.0,91.5 544.9,86.0 551.8,79.4 555.0,76.3 560.7,72.2 566.0,67.2 572.3,61.2 576.6,56.4 582.8,50.5 587.4,46.1 592.4,43.9 595.3,41.1 605.9,30.9 608.3,28.6 611.2,25.8 621.7,15.8 621.9,15.8 610.9,26.4 608.3,28.9 606.2,30.9 595.0,41.6 592.4,44.1 587.9,46.1 582.1,51.5 576.6,56.9 572.7,61.2 565.5,68.1 560.7,72.6 555.6,76.3 551.1,80.6 544.9,86.6 541.4,91.5 533.4,99.1 529.0,103.2 525.6,106.6 517.4,114.5 513.2,118.5 509.1,121.8 502.4,128.2 497.4,133.0 493.7,133.5 488.9,133.7 487.0,131.7 481.5,132.2 476.1,136.9 475.3,142.8 474.9,148.1 477.5,149.0 477.0,152.0 471.2,157.5 465.7,162.8 462.3,167.2 454.0,175.0 449.8,179.0 447.7,182.3 436.6,192.9 434.0,195.4 431.8,197.4 420.8,207.9 418.1,210.5 415.9,212.6 405.0,223.0 402.3,225.6 402.3,225.3ZM402.3,137.7 402.4,136.9 418.1,122.3 418.7,121.8 418.7,121.3 418.1,121.2 416.2,121.8 402.3,136.5 402.3,134.4 414.2,121.8 418.1,120.7 419.2,120.7 419.2,121.8 418.1,122.9 403.0,136.9 402.3,142.4 402.3,137.7ZM498.9,227.7 513.2,214.0 513.8,212.6 513.7,212.0 513.2,212.0 512.6,212.6 497.4,227.1 489.7,227.7 481.8,227.7 497.4,226.6 512.0,212.6 513.2,211.5 514.3,211.5 514.3,212.6 513.2,215.5 500.5,227.7 498.9,227.7ZM481.3,182.5 481.2,182.3 481.5,181.8 482.4,181.4 484.0,182.3 481.5,182.5 481.3,182.5ZM449.6,152.3 449.6,152.0 449.8,148.5 450.4,151.5 450.5,152.0 449.8,152.4 449.6,152.3ZM574.6,123.7 575.2,121.8 576.6,120.4 578.6,119.8 578.0,121.8 576.6,123.1 574.6,123.7ZM510.9,63.4 511.5,61.2 513.2,59.8 515.2,59.3 514.7,61.2 513.2,62.8 510.9,63.4ZM576.6,121.9 576.8,121.8 576.9,121.5 576.6,121.6 576.4,121.8 576.3,122.0 576.6,121.9ZM513.2,61.4 513.4,61.2 513.5,60.9 513.2,61.0 513.0,61.2 512.9,61.5 513.2,61.4Z"/><path fill-rule="evenodd" fill="#ff8d00" stroke="#ff8d00" stroke-width="0.3" d="M404.3,227.7 415.7,216.8 418.1,214.5 420.1,212.6 431.6,201.6 434.0,199.3 435.9,197.4 447.5,186.3 449.8,184.1 452.6,182.3 462.2,173.1 465.7,169.8 469.3,167.2 477.1,159.8 481.5,155.5 485.7,154.9 491.3,154.6 492.9,156.3 497.4,157.7 501.4,152.0 501.4,148.2 501.8,141.8 500.0,141.2 500.7,136.9 509.2,128.8 513.2,124.9 516.3,121.8 525.2,113.3 529.0,109.6 532.4,106.6 540.8,98.5 544.9,94.6 549.4,91.5 555.2,86.0 560.7,80.7 564.8,76.3 571.6,69.8 576.6,65.1 580.0,61.2 588.2,53.4 592.4,49.4 594.2,46.1 606.0,34.8 608.3,32.7 610.0,30.9 621.9,19.6 624.1,17.5 624.1,17.7 621.6,20.1 610.3,30.9 608.3,32.9 605.8,35.3 594.5,46.1 592.4,49.8 587.7,54.3 580.4,61.2 576.6,65.6 571.0,70.9 565.3,76.3 560.7,81.2 554.5,87.2 550.0,91.5 544.9,95.0 540.3,99.4 532.8,106.6 529.0,110.0 524.7,114.1 516.7,121.8 513.2,125.3 508.6,129.7 501.1,136.9 500.5,140.7 502.6,141.4 502.2,147.4 502.2,152.0 497.4,158.8 491.9,157.2 490.0,155.2 485.1,155.4 481.5,155.9 476.5,160.7 469.8,167.2 465.7,170.2 461.8,173.9 453.0,182.3 449.8,184.3 447.2,186.8 436.1,197.4 434.0,199.6 431.3,202.2 420.4,212.6 418.1,214.7 415.4,217.3 404.5,227.7 404.3,227.7ZM402.3,225.6 405.0,223.0 415.9,212.6 418.1,210.5 420.8,207.9 431.8,197.4 434.0,195.4 436.6,192.9 447.7,182.3 449.8,179.0 454.0,175.0 462.3,167.2 465.7,162.8 471.2,157.5 477.0,152.0 477.5,149.0 474.9,148.1 475.3,142.8 476.1,136.9 481.5,132.2 487.0,131.7 488.9,133.7 493.7,133.5 497.4,133.0 502.4,128.2 509.1,121.8 513.2,118.5 517.4,114.5 525.6,106.6 529.0,103.2 533.4,99.1 541.4,91.5 544.9,86.6 551.1,80.6 555.6,76.3 560.7,72.6 565.5,68.1 572.7,61.2 576.6,56.9 582.1,51.5 587.9,46.1 592.4,44.1 595.0,41.6 606.2,30.9 608.3,28.9 610.9,26.4 621.9,15.8 622.2,15.8 610.6,26.9 608.3,29.1 606.4,30.9 594.7,42.1 592.4,44.3 588.4,46.1 581.5,52.6 576.6,57.3 573.1,61.2 564.9,69.1 560.7,73.1 556.2,76.3 550.4,81.8 544.9,87.1 541.7,91.5 532.9,100.0 529.0,103.6 526.0,106.6 516.9,115.3 513.2,118.9 509.6,121.8 501.8,129.2 497.4,133.4 493.2,134.0 487.6,134.3 486.0,132.6 481.5,133.0 477.0,136.9 476.4,141.8 475.9,147.6 478.1,148.4 477.5,152.0 470.6,158.6 465.7,163.3 462.6,167.2 453.5,175.9 449.8,179.4 447.9,182.3 436.3,193.4 434.0,195.6 432.0,197.4 420.5,208.5 418.1,210.7 416.2,212.6 404.7,223.5 402.3,225.8 402.3,225.6ZM402.3,136.5 416.2,121.8 418.1,121.2 418.7,121.3 418.7,121.8 418.1,122.3 402.4,136.9 402.3,137.7 402.3,136.9 402.3,136.5ZM489.7,227.7 497.4,227.1 512.6,212.6 513.2,212.0 513.7,212.0 513.8,212.6 513.2,214.0 498.9,227.7 497.4,227.7 489.7,227.7ZM576.3,122.0 576.4,121.8 576.6,121.6 576.9,121.5 576.8,121.8 576.6,121.9 576.3,122.0ZM512.9,61.5 513.0,61.2 513.2,61.0 513.5,60.9 513.4,61.2 513.2,61.4 512.9,61.5Z"/><path fill-rule="evenodd" fill="#ff7700" stroke="#ff7700" stroke-width="0.3" d="M404.0,227.7 416.0,216.2 418.1,214.2 419.9,212.6 431.9,201.1 434.0,199.1 435.6,197.4 447.8,185.8 449.8,183.9 452.3,182.3 462.7,172.4 465.7,169.5 468.9,167.2 477.6,158.8 481.5,155.1 486.2,154.3 492.5,154.1 493.8,155.4 497.4,156.5 500.5,152.0 500.5,149.0 501.0,142.1 499.5,141.6 500.3,136.9 509.7,127.9 513.2,124.5 515.9,121.8 525.7,112.4 529.0,109.2 531.9,106.6 541.3,97.6 544.9,94.2 548.9,91.5 555.9,84.8 560.7,80.1 564.3,76.3 572.2,68.7 576.6,64.6 579.6,61.2 588.7,52.4 592.4,48.9 594.0,46.1 606.3,34.3 608.3,32.5 609.8,30.9 622.2,19.1 624.1,17.3 624.1,17.5 621.9,19.6 610.0,30.9 608.3,32.7 606.0,34.8 594.2,46.1 592.4,49.4 588.2,53.4 580.0,61.2 576.6,65.1 571.6,69.8 564.8,76.3 560.7,80.7 555.2,86.0 549.4,91.5 544.9,94.6 540.8,98.5 532.4,106.6 529.0,109.6 525.2,113.3 516.3,121.8 513.2,124.9 509.2,128.8 500.7,136.9 500.0,141.2 501.8,141.8 501.4,148.2 501.4,152.0 497.4,157.7 492.9,156.3 491.3,154.6 485.7,154.9 481.5,155.5 477.1,159.8 469.3,167.2 465.7,169.8 462.2,173.1 452.6,182.3 449.8,184.1 447.5,186.3 435.9,197.4 434.0,199.3 431.6,201.6 420.1,212.6 418.1,214.5 415.7,216.8 404.3,227.7 404.0,227.7ZM402.3,225.8 404.7,223.5 416.2,212.6 418.1,210.7 420.5,208.5 432.0,197.4 434.0,195.6 436.3,193.4 447.9,182.3 449.8,179.4 453.5,175.9 462.6,167.2 465.7,163.3 470.6,158.6 477.5,152.0 478.1,148.4 475.9,147.6 476.4,141.8 477.0,136.9 481.5,133.0 486.0,132.6 487.6,134.3 493.2,134.0 497.4,133.4 501.8,129.2 509.6,121.8 513.2,118.9 516.9,115.3 526.0,106.6 529.0,103.6 532.9,100.0 541.7,91.5 544.9,87.1 550.4,81.8 556.2,76.3 560.7,73.1 564.9,69.1 573.1,61.2 576.6,57.3 581.5,52.6 588.4,46.1 592.4,44.3 594.7,42.1 606.4,30.9 608.3,29.1 610.6,26.9 622.2,15.8 622.4,15.8 610.3,27.4 608.3,29.3 606.6,30.9 594.4,42.6 592.4,44.5 588.9,46.1 580.9,53.7 576.6,57.8 573.6,61.2 564.4,70.0 560.7,73.5 556.7,76.3 549.7,83.0 544.9,87.7 542.1,91.5 532.4,100.8 529.0,104.0 526.4,106.6 516.4,116.1 513.2,119.2 510.0,121.8 501.2,130.1 497.4,133.8 492.7,134.6 486.3,134.8 485.1,133.5 481.5,133.9 478.0,136.9 477.5,140.7 476.9,147.2 478.8,147.8 478.0,152.0 470.0,159.6 465.7,163.8 463.0,167.2 453.1,176.7 449.8,179.8 448.2,182.3 436.0,193.9 434.0,195.8 432.3,197.4 420.2,209.0 418.1,210.9 416.4,212.6 404.4,224.0 402.3,226.0 402.3,225.8Z"/><path fill-rule="evenodd" fill="#ff6100" stroke="#ff6100" stroke-width="0.3" d="M403.8,227.7 416.3,215.7 418.1,214.0 419.6,212.6 432.2,200.6 434.0,198.8 435.4,197.4 448.1,185.3 449.8,183.6 451.9,182.3 463.1,171.6 465.7,169.2 468.4,167.2 478.2,157.8 481.5,154.6 486.8,153.8 493.8,153.5 494.7,154.5 497.4,155.3 499.7,152.0 499.7,149.8 500.2,142.5 499.0,142.1 499.8,136.9 510.2,127.0 513.2,124.1 515.6,121.8 526.2,111.6 529.0,108.9 531.5,106.6 541.9,96.7 544.9,93.8 548.3,91.5 556.6,83.6 560.7,79.6 563.8,76.3 572.9,67.6 576.6,64.1 579.1,61.2 589.3,51.5 592.4,48.5 593.8,46.1 606.6,33.8 608.3,32.2 609.6,30.9 622.5,18.6 624.1,17.1 624.1,17.3 622.2,19.1 609.8,30.9 608.3,32.5 606.3,34.3 594.0,46.1 592.4,48.9 588.7,52.4 579.6,61.2 576.6,64.6 572.2,68.7 564.3,76.3 560.7,80.1 555.9,84.8 548.9,91.5 544.9,94.2 541.3,97.6 531.9,106.6 529.0,109.2 525.7,112.4 515.9,121.8 513.2,124.5 509.7,127.9 500.3,136.9 499.5,141.6 501.0,142.1 500.5,149.0 500.5,152.0 497.4,156.5 493.8,155.4 492.5,154.1 486.2,154.3 481.5,155.1 477.6,158.8 468.9,167.2 465.7,169.5 462.7,172.4 452.3,182.3 449.8,183.9 447.8,185.8 435.6,197.4 434.0,199.1 431.9,201.1 419.9,212.6 418.1,214.2 416.0,216.2 404.0,227.7 403.8,227.7ZM402.3,226.0 404.4,224.0 416.4,212.6 418.1,210.9 420.2,209.0 432.3,197.4 434.0,195.8 436.0,193.9 448.2,182.3 449.8,179.8 453.1,176.7 463.0,167.2 465.7,163.8 470.0,159.6 478.0,152.0 478.8,147.8 476.9,147.2 477.5,140.7 478.0,136.9 481.5,133.9 485.1,133.5 486.3,134.8 492.7,134.6 497.4,133.8 501.2,130.1 510.0,121.8 513.2,119.2 516.4,116.1 526.4,106.6 529.0,104.0 532.4,100.8 542.1,91.5 544.9,87.7 549.7,83.0 556.7,76.3 560.7,73.5 564.4,70.0 573.6,61.2 576.6,57.8 580.9,53.7 588.9,46.1 592.4,44.5 594.4,42.6 606.6,30.9 608.3,29.3 610.3,27.4 622.4,15.8 622.7,15.8 610.0,27.9 608.3,29.6 606.9,30.9 594.1,43.1 592.4,44.7 589.4,46.1 580.3,54.8 576.6,58.3 574.0,61.2 563.9,70.9 560.7,73.9 557.3,76.3 549.1,84.2 544.9,88.2 542.5,91.5 531.9,101.6 529.0,104.4 526.8,106.6 516.0,116.9 513.2,119.6 510.5,121.8 500.7,131.1 497.4,134.3 492.1,135.1 485.0,135.4 484.1,134.4 481.5,134.7 478.9,136.9 478.6,139.7 478.0,146.7 479.4,147.3 478.5,152.0 469.4,160.7 465.7,164.3 463.4,167.2 452.6,177.5 449.8,180.1 448.4,182.3 435.7,194.4 434.0,196.1 432.5,197.4 419.9,209.5 418.1,211.2 416.7,212.6 404.1,224.6 402.3,226.3 402.3,226.0Z"/><path fill-rule="evenodd" fill="#ff4d00" stroke="#ff4d00" stroke-width="0.3" d="M403.5,227.7 416.6,215.2 418.1,213.7 419.4,212.6 432.5,200.0 434.0,198.6 435.2,197.4 448.4,184.8 449.8,183.4 451.6,182.3 463.5,170.9 465.7,168.8 467.9,167.2 478.7,156.8 481.5,154.2 487.3,153.3 495.1,153.0 495.7,153.6 497.4,154.1 498.8,152.0 498.8,150.6 499.4,142.8 498.6,142.6 499.4,136.9 510.7,126.1 513.2,123.7 515.2,121.8 526.7,110.8 529.0,108.5 531.1,106.6 542.4,95.9 544.9,93.4 547.7,91.5 557.3,82.4 560.7,79.1 563.2,76.3 573.5,66.6 576.6,63.6 578.7,61.2 589.8,50.6 592.4,48.1 593.5,46.1 606.9,33.3 608.3,32.0 609.4,30.9 622.7,18.2 624.1,16.9 624.1,17.1 622.5,18.6 609.6,30.9 608.3,32.2 606.6,33.8 593.8,46.1 592.4,48.5 589.3,51.5 579.1,61.2 576.6,64.1 572.9,67.6 563.8,76.3 560.7,79.6 556.6,83.6 548.3,91.5 544.9,93.8 541.9,96.7 531.5,106.6 529.0,108.9 526.2,111.6 515.6,121.8 513.2,124.1 510.2,127.0 499.8,136.9 499.0,142.1 500.2,142.5 499.7,149.8 499.7,152.0 497.4,155.3 494.7,154.5 493.8,153.5 486.8,153.8 481.5,154.6 478.2,157.8 468.4,167.2 465.7,169.2 463.1,171.6 451.9,182.3 449.8,183.6 448.1,185.3 435.4,197.4 434.0,198.8 432.2,200.6 419.6,212.6 418.1,214.0 416.3,215.7 403.8,227.7 403.5,227.7ZM402.3,226.3 404.1,224.6 416.7,212.6 418.1,211.2 419.9,209.5 432.5,197.4 434.0,196.1 435.7,194.4 448.4,182.3 449.8,180.1 452.6,177.5 463.4,167.2 465.7,164.3 469.4,160.7 478.5,152.0 479.4,147.3 478.0,146.7 478.6,139.7 478.9,136.9 481.5,134.7 484.1,134.4 485.0,135.4 492.1,135.1 497.4,134.3 500.7,131.1 510.5,121.8 513.2,119.6 516.0,116.9 526.8,106.6 529.0,104.4 531.9,101.6 542.5,91.5 544.9,88.2 549.1,84.2 557.3,76.3 560.7,73.9 563.9,70.9 574.0,61.2 576.6,58.3 580.3,54.8 589.4,46.1 592.4,44.7 594.1,43.1 606.9,30.9 608.3,29.6 610.0,27.9 622.7,15.8 622.9,15.8 609.7,28.4 608.3,29.8 607.1,30.9 593.8,43.6 592.4,45.0 589.9,46.1 579.7,55.9 576.6,58.8 574.4,61.2 563.3,71.8 560.7,74.3 557.9,76.3 548.4,85.5 544.9,88.8 542.9,91.5 531.4,102.5 529.0,104.7 527.2,106.6 515.5,117.7 513.2,119.9 510.9,121.8 500.1,132.1 497.4,134.7 491.6,135.6 483.8,135.9 483.2,135.3 481.5,135.5 479.9,136.9 479.6,138.7 479.0,146.3 480.0,146.7 479.0,152.0 468.8,161.8 465.7,164.7 463.8,167.2 452.1,178.3 449.8,180.5 448.6,182.3 435.4,194.9 434.0,196.3 432.8,197.4 419.6,210.0 418.1,211.4 416.9,212.6 403.8,225.1 402.3,226.5 402.3,226.3Z"/><path fill-rule="evenodd" fill="#ff3900" stroke="#ff3900" stroke-width="0.3" d="M403.3,227.7 416.9,214.7 418.1,213.5 419.1,212.6 432.8,199.5 434.0,198.4 434.9,197.4 448.7,184.3 449.8,183.2 451.2,182.3 464.0,170.1 465.7,168.5 467.5,167.2 479.3,155.9 481.5,153.8 487.8,152.8 496.4,152.4 496.6,152.7 497.4,152.9 498.0,152.0 498.0,151.4 498.5,143.2 498.1,143.0 499.0,136.9 511.2,125.2 513.2,123.3 514.8,121.8 527.1,109.9 529.0,108.1 530.7,106.6 542.9,95.0 544.9,93.1 547.1,91.5 558.0,81.1 560.7,78.5 562.7,76.3 574.1,65.5 576.6,63.1 578.3,61.2 590.3,49.7 592.4,47.7 593.3,46.1 607.2,32.9 608.3,31.8 609.1,30.9 623.0,17.7 624.1,16.6 624.1,16.9 622.7,18.2 609.4,30.9 608.3,32.0 606.9,33.3 593.5,46.1 592.4,48.1 589.8,50.6 578.7,61.2 576.6,63.6 573.5,66.6 563.2,76.3 560.7,79.1 557.3,82.4 547.7,91.5 544.9,93.4 542.4,95.9 531.1,106.6 529.0,108.5 526.7,110.8 515.2,121.8 513.2,123.7 510.7,126.1 499.4,136.9 498.6,142.6 499.4,142.8 498.8,150.6 498.8,152.0 497.4,154.1 495.7,153.6 495.1,153.0 487.3,153.3 481.5,154.2 478.7,156.8 467.9,167.2 465.7,168.8 463.5,170.9 451.6,182.3 449.8,183.4 448.4,184.8 435.2,197.4 434.0,198.6 432.5,200.0 419.4,212.6 418.1,213.7 416.6,215.2 403.5,227.7 403.3,227.7ZM402.3,226.5 403.8,225.1 416.9,212.6 418.1,211.4 419.6,210.0 432.8,197.4 434.0,196.3 435.4,194.9 448.6,182.3 449.8,180.5 452.1,178.3 463.8,167.2 465.7,164.7 468.8,161.8 479.0,152.0 480.0,146.7 479.0,146.3 479.6,138.7 479.9,136.9 481.5,135.5 483.2,135.3 483.8,135.9 491.6,135.6 497.4,134.7 500.1,132.1 510.9,121.8 513.2,119.9 515.5,117.7 527.2,106.6 529.0,104.7 531.4,102.5 542.9,91.5 544.9,88.8 548.4,85.5 557.9,76.3 560.7,74.3 563.3,71.8 574.4,61.2 576.6,58.8 579.7,55.9 589.9,46.1 592.4,45.0 593.8,43.6 607.1,30.9 608.3,29.8 609.7,28.4 622.9,15.8 623.1,15.8 609.4,28.9 608.3,30.0 607.3,30.9 593.5,44.1 592.4,45.2 590.4,46.1 579.0,56.9 576.6,59.3 574.9,61.2 562.8,72.7 560.7,74.7 558.5,76.3 547.7,86.7 544.9,89.3 543.3,91.5 531.0,103.3 529.0,105.1 527.5,106.6 515.0,118.5 513.2,120.3 511.4,121.8 499.6,133.0 497.4,135.2 491.0,136.1 482.5,136.5 482.2,136.2 481.5,136.3 480.8,136.9 480.7,137.7 480.0,145.9 480.6,146.1 479.5,152.0 468.1,162.9 465.7,165.2 464.2,167.2 451.7,179.1 449.8,180.9 448.9,182.3 435.1,195.4 434.0,196.5 433.0,197.4 419.3,210.5 418.1,211.6 417.2,212.6 403.5,225.6 402.3,226.8 402.3,226.5Z"/><path fill-rule="evenodd" fill="#ff2500" stroke="#ff2500" stroke-width="0.3" d="M403.0,227.7 417.2,214.1 418.1,213.3 418.9,212.6 433.1,199.0 434.0,198.1 434.7,197.4 449.0,183.8 449.8,183.0 450.9,182.3 464.4,169.4 465.7,168.2 467.0,167.2 479.9,154.9 481.5,153.3 488.4,152.3 494.4,152.0 497.4,149.2 497.7,143.5 497.6,143.5 498.6,136.9 511.7,124.4 513.2,122.9 514.4,121.8 527.6,109.1 529.0,107.7 530.3,106.6 543.4,94.1 544.9,92.7 546.6,91.5 558.7,79.9 560.7,78.0 562.2,76.3 574.7,64.4 576.6,62.6 577.8,61.2 590.9,48.8 592.4,47.3 593.1,46.1 607.4,32.4 608.3,31.6 608.9,30.9 623.3,17.2 624.1,16.4 624.1,16.6 623.0,17.7 609.1,30.9 608.3,31.8 607.2,32.9 593.3,46.1 592.4,47.7 590.3,49.7 578.3,61.2 576.6,63.1 574.1,65.5 562.7,76.3 560.7,78.5 558.0,81.1 547.1,91.5 544.9,93.1 542.9,95.0 530.7,106.6 529.0,108.1 527.1,109.9 514.8,121.8 513.2,123.3 511.2,125.2 499.0,136.9 498.1,143.0 498.5,143.2 498.0,151.4 498.0,152.0 497.4,152.9 496.6,152.7 496.4,152.4 487.8,152.8 481.5,153.8 479.3,155.9 467.5,167.2 465.7,168.5 464.0,170.1 451.2,182.3 449.8,183.2 448.7,184.3 434.9,197.4 434.0,198.4 432.8,199.5 419.1,212.6 418.1,213.5 416.9,214.7 403.3,227.7 403.0,227.7ZM402.3,226.8 403.5,225.6 417.2,212.6 418.1,211.6 419.3,210.5 433.0,197.4 434.0,196.5 435.1,195.4 448.9,182.3 449.8,180.9 451.7,179.1 464.2,167.2 465.7,165.2 468.1,162.9 479.5,152.0 480.6,146.1 480.0,145.9 480.7,137.7 480.8,136.9 481.5,136.3 482.2,136.2 482.5,136.5 491.0,136.1 497.4,135.2 499.6,133.0 511.4,121.8 513.2,120.3 515.0,118.5 527.5,106.6 529.0,105.1 531.0,103.3 543.3,91.5 544.9,89.3 547.7,86.7 558.5,76.3 560.7,74.7 562.8,72.7 574.9,61.2 576.6,59.3 579.0,56.9 590.4,46.1 592.4,45.2 593.5,44.1 607.3,30.9 608.3,30.0 609.4,28.9 623.1,15.8 623.4,15.8 609.1,29.4 608.3,30.3 607.6,30.9 593.3,44.6 592.4,45.4 590.9,46.1 578.4,58.0 576.6,59.8 575.3,61.2 562.3,73.6 560.7,75.1 559.0,76.3 547.0,87.9 544.9,89.9 543.7,91.5 530.5,104.1 529.0,105.5 527.9,106.6 514.6,119.4 513.2,120.7 511.8,121.8 499.0,134.0 497.4,135.6 490.5,136.6 484.5,136.9 481.5,139.7 481.0,145.4 481.2,145.5 480.0,152.0 467.5,164.0 465.7,165.7 464.5,167.2 451.2,179.9 449.8,181.2 449.1,182.3 434.8,195.9 434.0,196.8 433.3,197.4 419.0,211.0 418.1,211.9 417.4,212.6 403.2,226.1 402.3,227.0 402.3,226.8Z"/><path fill-rule="evenodd" fill="#ff1400" stroke="#ff1400" stroke-width="0.3" d="M402.8,227.7 417.5,213.6 418.1,213.0 418.6,212.6 433.4,198.5 434.0,197.9 434.4,197.4 449.3,183.3 449.8,182.7 450.5,182.3 464.8,168.6 465.7,167.8 466.6,167.2 480.4,153.9 481.5,152.9 487.1,152.0 490.5,148.8 497.4,142.2 498.2,136.9 512.2,123.5 513.2,122.5 514.0,121.8 528.1,108.3 529.0,107.4 529.9,106.6 543.9,93.2 544.9,92.3 546.0,91.5 559.4,78.7 560.7,77.4 561.7,76.3 575.4,63.3 576.6,62.2 577.4,61.2 591.4,47.9 592.4,46.9 592.9,46.1 607.7,31.9 608.3,31.4 608.7,30.9 623.6,16.7 624.1,16.2 624.1,16.4 623.3,17.2 608.9,30.9 608.3,31.6 607.4,32.4 593.1,46.1 592.4,47.3 590.9,48.8 577.8,61.2 576.6,62.6 574.7,64.4 562.2,76.3 560.7,78.0 558.7,79.9 546.6,91.5 544.9,92.7 543.4,94.1 530.3,106.6 529.0,107.7 527.6,109.1 514.4,121.8 513.2,122.9 511.7,124.4 498.6,136.9 497.6,143.5 497.7,143.5 497.4,149.2 494.4,152.0 488.4,152.3 481.5,153.3 479.9,154.9 467.0,167.2 465.7,168.2 464.4,169.4 450.9,182.3 449.8,183.0 449.0,183.8 434.7,197.4 434.0,198.1 433.1,199.0 418.9,212.6 418.1,213.3 417.2,214.1 403.0,227.7 402.8,227.7ZM402.3,227.0 403.2,226.1 417.4,212.6 418.1,211.9 419.0,211.0 433.3,197.4 434.0,196.8 434.8,195.9 449.1,182.3 449.8,181.2 451.2,179.9 464.5,167.2 465.7,165.7 467.5,164.0 480.0,152.0 481.2,145.5 481.0,145.4 481.5,139.7 484.5,136.9 490.5,136.6 497.4,135.6 499.0,134.0 511.8,121.8 513.2,120.7 514.6,119.4 527.9,106.6 529.0,105.5 530.5,104.1 543.7,91.5 544.9,89.9 547.0,87.9 559.0,76.3 560.7,75.1 562.3,73.6 575.3,61.2 576.6,59.8 578.4,58.0 590.9,46.1 592.4,45.4 593.3,44.6 607.6,30.9 608.3,30.3 609.1,29.4 623.4,15.8 623.6,15.8 608.8,29.9 608.3,30.5 607.8,30.9 593.0,45.1 592.4,45.6 591.4,46.1 577.8,59.1 576.6,60.3 575.7,61.2 561.8,74.5 560.7,75.5 559.6,76.3 546.3,89.1 544.9,90.4 544.1,91.5 530.0,105.0 529.0,105.9 528.3,106.6 514.1,120.2 513.2,121.0 512.3,121.8 498.5,135.0 497.4,136.0 491.8,136.9 488.4,140.1 481.5,146.7 480.5,152.0 466.9,165.0 465.7,166.2 464.9,167.2 450.7,180.7 449.8,181.6 449.4,182.3 434.6,196.4 434.0,197.0 433.5,197.4 418.7,211.6 418.1,212.1 417.7,212.6 402.9,226.7 402.3,227.2 402.3,227.0Z"/><path fill-rule="evenodd" fill="#ff0300" stroke="#ff0300" stroke-width="0.3" d="M402.5,227.7 417.9,213.1 418.1,212.8 418.4,212.6 433.7,197.9 434.0,197.7 434.2,197.4 449.6,182.8 449.8,182.5 450.2,182.3 465.3,167.9 465.7,167.5 466.1,167.2 481.0,153.0 481.5,152.4 484.3,152.0 494.0,142.7 497.4,139.5 497.8,136.9 512.7,122.6 513.2,122.1 513.6,121.8 528.6,107.4 529.0,107.0 529.4,106.6 544.4,92.3 544.9,91.9 545.4,91.5 560.1,77.5 560.7,76.9 561.2,76.3 576.0,62.2 576.6,61.7 577.0,61.2 591.9,47.0 592.4,46.5 592.6,46.1 608.0,31.4 608.3,31.1 608.5,30.9 623.8,16.3 624.1,16.0 624.1,16.2 623.6,16.7 608.7,30.9 608.3,31.4 607.7,31.9 592.9,46.1 592.4,46.9 591.4,47.9 577.4,61.2 576.6,62.2 575.4,63.3 561.7,76.3 560.7,77.4 559.4,78.7 546.0,91.5 544.9,92.3 543.9,93.2 529.9,106.6 529.0,107.4 528.1,108.3 514.0,121.8 513.2,122.5 512.2,123.5 498.2,136.9 497.4,142.2 490.5,148.8 487.1,152.0 481.5,152.9 480.4,153.9 466.6,167.2 465.7,167.8 464.8,168.6 450.5,182.3 449.8,182.7 449.3,183.3 434.4,197.4 434.0,197.9 433.4,198.5 418.6,212.6 418.1,213.0 417.5,213.6 402.8,227.7 402.5,227.7ZM402.3,227.2 402.9,226.7 417.7,212.6 418.1,212.1 418.7,211.6 433.5,197.4 434.0,197.0 434.6,196.4 449.4,182.3 449.8,181.6 450.7,180.7 464.9,167.2 465.7,166.2 466.9,165.0 480.5,152.0 481.5,146.7 488.4,140.1 491.8,136.9 497.4,136.0 498.5,135.0 512.3,121.8 513.2,121.0 514.1,120.2 528.3,106.6 529.0,105.9 530.0,105.0 544.1,91.5 544.9,90.4 546.3,89.1 559.6,76.3 560.7,75.5 561.8,74.5 575.7,61.2 576.6,60.3 577.8,59.1 591.4,46.1 592.4,45.6 593.0,45.1 607.8,30.9 608.3,30.5 608.8,29.9 623.6,15.8 623.9,15.8 608.5,30.4 608.3,30.7 608.0,30.9 592.7,45.6 592.4,45.9 591.9,46.1 577.2,60.2 576.6,60.7 576.2,61.2 561.2,75.5 560.7,75.9 560.2,76.3 545.6,90.3 544.9,91.0 544.5,91.5 529.5,105.8 529.0,106.3 528.7,106.6 513.6,121.0 513.2,121.4 512.8,121.8 497.9,136.0 497.4,136.5 494.6,136.9 484.9,146.2 481.5,149.4 481.0,152.0 466.3,166.1 465.7,166.7 465.3,167.2 450.3,181.5 449.8,181.9 449.6,182.3 434.3,196.9 434.0,197.2 433.8,197.4 418.4,212.1 418.1,212.3 417.9,212.6 402.6,227.2 402.3,227.5 402.3,227.2Z"/><path fill-rule="evenodd" fill="#ff0000" stroke="#ff0000" stroke-width="0.3" d="M402.3,227.5 402.6,227.2 417.9,212.6 418.1,212.3 418.4,212.1 433.8,197.4 434.0,197.2 434.3,196.9 449.6,182.3 449.8,181.9 450.3,181.5 465.3,167.2 465.7,166.7 466.3,166.1 481.0,152.0 481.5,149.4 484.9,146.2 494.6,136.9 497.4,136.5 497.9,136.0 512.8,121.8 513.2,121.4 513.6,121.0 528.7,106.6 529.0,106.3 529.5,105.8 544.5,91.5 544.9,91.0 545.6,90.3 560.2,76.3 560.7,75.9 561.2,75.5 576.2,61.2 576.6,60.7 577.2,60.2 591.9,46.1 592.4,45.9 592.7,45.6 608.0,30.9 608.3,30.7 608.5,30.4 623.9,15.8 624.1,15.8 624.1,16.0 623.8,16.3 608.5,30.9 608.3,31.1 608.0,31.4 592.6,46.1 592.4,46.5 591.9,47.0 577.0,61.2 576.6,61.7 576.0,62.2 561.2,76.3 560.7,76.9 560.1,77.5 545.4,91.5 544.9,91.9 544.4,92.3 529.4,106.6 529.0,107.0 528.6,107.4 513.6,121.8 513.2,122.1 512.7,122.6 497.8,136.9 497.4,139.5 494.0,142.7 484.3,152.0 481.5,152.4 481.0,153.0 466.1,167.2 465.7,167.5 465.3,167.9 450.2,182.3 449.8,182.5 449.6,182.8 434.2,197.4 434.0,197.7 433.7,197.9 418.4,212.6 418.1,212.8 417.9,213.1 402.5,227.7 402.3,227.7 402.3,227.5Z"/>
<path fill="none" stroke="#202020" stroke-opacity="0.6" stroke-width="0.5" d="M402.3,31.0 417.8,31.2 418.1,32.0 432.2,32.7 434.0,35.3 446.9,33.7 449.8,31.2 460.1,30.9 450.2,30.6 449.8,30.1 435.4,29.5 434.0,24.0 423.3,26.0 418.1,27.7 403.3,30.0 402.3,30.9M608.3,214.1 608.4,212.6 609.8,211.1 618.0,197.4 609.3,196.5 608.3,188.1 594.6,197.4 605.7,199.8 608.1,212.6 608.2,212.6 608.3,214.1M608.3,163.6 608.7,152.0 608.7,151.6 608.9,136.9 609.3,135.9 608.7,121.8 608.8,121.2 609.5,106.6 609.5,105.4 608.4,91.5 608.4,91.4 609.2,76.3 609.1,75.6 609.1,61.2 608.9,60.6 608.3,54.2 607.6,61.2 607.6,61.9 607.6,76.3 607.2,77.3 608.1,91.5 608.2,91.6 607.4,106.6 607.2,107.6 607.8,121.8 608.0,122.0 607.6,136.9 607.6,137.6 607.8,152.0 607.6,152.7 608.3,163.6M529.0,31.8 544.8,31.0 544.9,31.1 560.1,31.5 560.7,31.3 571.0,30.9 561.1,30.5 560.7,30.4 545.0,30.8 544.9,30.8 530.5,29.5 529.0,29.7 516.0,30.9 528.1,31.9 529.0,31.8M402.3,212.7 402.4,212.6 402.6,212.5 418.1,198.4 419.1,197.4 420.0,196.6 434.0,184.0 435.8,182.3 435.4,181.7 435.9,180.5 434.0,176.4 418.8,181.6 420.7,167.2 434.0,158.7 435.1,152.0 435.2,150.9 434.8,136.9 436.1,134.9 435.5,121.8 435.2,120.5 435.2,106.6 436.6,104.1 434.0,105.0 424.9,106.6 433.5,107.1 433.5,121.8 429.9,125.6 428.8,136.9 418.1,151.4 418.1,152.0 418.0,152.1 417.7,167.2 417.7,167.5 418.0,182.3 402.3,197.3M402.3,33.7 415.1,33.8 418.1,40.7 423.5,41.0 427.0,46.1 432.0,48.0 434.0,57.5 435.5,46.1 449.8,33.8 463.0,33.5 465.7,33.9 478.9,33.4 481.5,32.6 495.6,32.6 497.4,32.6 511.1,33.0 513.2,34.1 524.8,35.0 529.0,34.5 541.8,33.9 544.9,36.1 555.0,36.4 560.7,34.6 573.2,34.1 576.6,33.7 590.5,32.7 592.4,33.4 595.0,30.9 596.6,29.1 608.3,17.1 609.6,15.8M416.7,15.8 402.3,28.6M607.1,15.8 592.4,28.9 579.7,27.9 576.6,27.6 564.7,27.1 560.7,26.2 549.6,26.4 544.9,25.8 535.3,24.9 529.0,25.7 517.6,26.7 513.2,26.1 501.7,26.7 497.4,29.2 483.3,29.2 481.5,29.3 467.8,28.9 465.7,27.9 453.4,27.5 449.8,23.2 442.4,22.9 440.6,15.8M624.1,27.1 620.1,30.9 617.3,33.9 608.3,42.9 605.0,46.1 606.0,47.0 605.5,48.7 604.2,61.2 604.2,65.1 604.2,76.3 602.2,82.1 602.8,91.5 605.2,94.4 604.5,106.6 603.8,110.9 604.3,121.8 605.6,124.3 605.2,136.9 605.2,139.8 605.4,152.0 604.4,155.7 605.1,167.2 605.6,169.7 606.1,182.3 592.4,194.9 578.8,197.4 588.7,201.0 592.4,204.5 599.3,206.0 600.5,212.6 605.3,215.4 606.0,227.7M624.1,195.3 611.9,194.0 610.4,182.3 610.6,180.0 611.1,167.2 610.5,165.1 611.0,152.0 610.9,149.5 611.1,136.9 612.7,132.6 612.2,121.8 613.3,117.0 613.8,106.6 613.8,101.3 613.0,91.5 613.0,87.0 613.5,76.3 612.9,71.9 612.9,61.2 612.1,57.5 610.9,46.1 624.1,33.9M610.1,227.7 612.0,224.1 613.0,212.6 624.1,201.0M420.5,227.7 434.0,214.8 436.4,212.6 449.8,208.9 453.7,208.9 456.6,212.6 464.8,213.4 465.7,213.2 468.3,212.6 481.5,202.1 493.9,200.8 497.4,202.4 507.8,197.4 500.4,194.5 497.4,196.7 482.8,196.2 481.5,196.3 466.8,196.3 465.7,194.9 452.5,194.9 449.8,195.4 447.7,197.4 446.5,198.9 434.0,212.4 433.9,212.6 433.8,212.7 418.1,227.6 418.0,227.7M402.3,217.2 407.2,212.6 411.9,208.4 418.1,202.8 423.7,197.4 429.2,192.7 434.0,188.3 440.3,182.3 438.9,180.2 440.7,175.9 436.7,167.2 435.1,166.1 437.5,152.0 437.7,148.4 437.4,136.9 443.0,128.2 442.8,121.8 441.3,114.8 441.3,106.6 449.0,92.2 434.0,97.5 426.3,98.8 418.1,103.1 413.9,106.6 415.2,109.4 418.1,108.6 431.1,109.3 431.1,121.8 418.1,135.9 417.1,136.9 416.9,138.1 415.3,152.0 414.3,155.7 414.1,167.2 414.3,170.8 414.6,182.3 402.3,194.0M402.3,36.3 412.4,36.4 416.6,46.1 416.9,47.3 418.1,48.2 427.8,51.9 429.8,61.2 426.6,68.2 434.0,72.9 441.4,61.2 436.9,58.4 438.5,46.1 449.8,36.4 460.2,36.1 465.7,37.1 475.4,36.8 481.5,34.9 493.2,34.9 497.4,34.9 508.8,35.2 513.2,37.5 521.5,38.2 529.0,37.2 538.8,36.8 544.9,41.2 549.9,41.3 560.7,37.9 569.7,37.5 576.6,36.6 587.2,35.9 592.4,37.6 599.4,30.9 603.9,26.0 608.3,21.5 614.2,15.8M414.1,15.8 402.3,26.3M603.2,15.8 592.4,25.5 583.1,24.7 576.6,24.1 568.3,23.7 560.7,21.9 554.2,22.1 544.9,20.7 540.2,20.3 529.0,21.6 522.3,22.2 513.2,20.9 507.5,21.2 497.4,26.9 485.8,26.9 481.5,27.0 470.1,26.7 465.7,24.7 456.7,24.4 449.8,16.2 449.4,16.2 449.3,15.8M624.1,23.0 615.8,30.9 610.0,37.0 608.3,38.8 600.6,46.1 603.0,48.3 601.8,52.3 600.9,61.2 600.9,68.3 600.9,76.3 597.3,86.9 597.6,91.5 602.2,97.3 601.7,106.6 600.4,114.1 600.7,121.8 603.1,126.6 602.8,136.9 602.8,142.1 603.0,152.0 601.3,158.7 601.8,167.2 602.8,172.4 603.2,182.3 592.4,192.2 579.5,194.6 576.6,193.0 570.7,197.4 569.2,204.5 576.6,201.8 584.7,204.8 592.4,212.1 592.8,212.2 592.9,212.6 602.5,218.1 603.0,227.7M624.1,192.6 614.5,191.5 613.4,182.3 613.8,177.0 614.2,167.2 612.8,162.8 613.3,152.0 613.1,147.4 613.2,136.9 616.1,129.4 615.8,121.8 617.7,112.7 618.0,106.6 618.0,97.3 617.6,91.5 617.6,82.6 617.9,76.3 616.8,68.2 616.8,61.2 615.3,54.5 614.4,46.1 624.1,37.1M612.6,227.7 617.0,219.4 617.6,212.6 624.1,205.8M437.7,227.7 449.8,216.1 460.9,217.1 465.7,216.0 480.7,212.6 481.5,211.9 482.3,211.9 483.7,212.6 496.2,213.6 497.4,213.6 498.4,212.6 513.2,199.4 526.9,199.4 527.3,212.6 526.4,215.1 529.0,215.9 533.2,212.6 535.5,206.4 536.4,197.4 543.8,183.4 529.0,189.6 521.4,189.6 513.2,185.7 510.7,184.7 497.4,194.1 485.4,193.7 481.5,194.0 469.2,194.0 465.7,189.7 457.9,189.7 449.8,191.1 443.2,197.4 439.6,201.8 434.0,207.9 429.1,212.6 425.1,216.4 418.1,223.1 413.3,227.7M402.3,221.1 410.8,213.0 411.2,212.6 418.1,206.1 426.4,198.2 427.2,197.4 434.0,191.1 442.1,183.3 443.2,182.3 444.0,181.0 442.5,178.7 445.6,171.2 443.7,167.2 438.0,163.4 439.9,152.0 440.3,146.0 440.0,136.9 449.8,121.9 450.2,121.8 450.1,121.5 449.8,120.8 447.3,109.1 447.3,106.6 449.8,101.9 460.7,91.5 454.5,87.0 449.8,84.4 436.6,89.0 440.6,76.3 449.8,61.6 450.1,61.2 450.1,61.0 449.8,61.1 440.4,55.1 441.6,46.1 449.8,39.0 457.4,38.8 465.7,40.3 471.9,40.1 481.5,37.1 490.9,37.1 497.4,37.1 506.5,37.4 513.2,40.9 518.2,41.3 529.0,39.9 535.8,39.6 544.7,46.1 544.6,46.3 544.9,46.4 545.2,46.1 560.7,41.1 566.1,40.9 576.6,39.5 584.0,39.0 589.0,40.7 591.3,40.4 592.4,39.9 600.4,32.3 601.8,30.9 608.3,24.5 616.5,16.7 617.4,15.8M402.3,38.9 409.7,39.0 412.8,46.1 413.7,50.3 418.1,53.8 423.7,55.9 424.8,61.2 418.1,76.0 418.0,76.3 417.8,76.6 418.1,76.6 429.3,80.8 432.3,91.5 418.1,98.9 409.0,106.6 411.7,112.8 418.1,111.0 428.8,111.6 428.8,121.8 418.1,133.3 414.3,136.9 413.7,141.1 412.4,152.0 410.6,159.2 410.5,167.2 410.9,174.1 411.1,182.3 402.3,190.7M411.5,15.8 402.3,24.0M513.1,15.8 497.4,24.6 488.2,24.6 481.5,24.8 472.3,24.6 465.7,21.5 459.9,21.3 455.3,15.8M543.9,15.8 529.0,17.5 527.0,17.7 514.2,15.8M599.3,15.8 592.4,22.0 586.4,21.5 576.6,20.5 571.8,20.3 560.7,17.6 558.8,17.7 545.8,15.8M624.1,21.8 616.5,29.1 614.5,30.9 608.3,37.0 600.5,44.5 598.8,46.1 597.9,47.6 600.1,49.6 598.0,55.8 597.5,61.2 597.5,71.5 597.5,76.3 592.4,91.2 592.1,91.5 592.1,91.8 592.4,91.7 599.2,100.2 598.8,106.6 597.0,117.4 597.2,121.8 600.7,129.0 600.5,136.9 600.5,144.3 600.6,152.0 598.1,161.7 598.4,167.2 600.0,175.0 600.3,182.3 592.4,189.5 583.0,191.3 576.6,187.8 563.7,197.4 560.7,211.7 560.3,212.6 560.4,212.9 560.7,212.9 561.1,212.6 576.6,207.0 580.8,208.5 585.0,212.6 588.8,216.0 592.4,216.7 599.6,220.8 600.0,227.7M624.1,189.8 617.1,189.0 616.3,182.3 617.0,174.0 617.2,167.2 615.2,160.6 615.5,152.0 615.2,145.3 615.4,136.9 619.5,126.1 619.3,121.8 622.2,108.4 622.3,106.6 622.3,93.2 622.1,91.5 622.1,78.2 622.2,76.3 620.7,64.5 620.7,61.2 618.4,51.5 617.9,46.1 624.1,40.3M615.1,227.7 622.0,214.6 622.1,212.6 624.1,210.5M442.0,227.7 449.8,220.2 456.9,220.9 465.7,218.8 477.9,216.0 481.5,215.4 493.3,216.4 497.4,216.1 501.1,212.6 513.2,201.8 524.4,201.8 524.8,212.6 522.3,219.0 529.0,221.0 539.4,212.6 544.9,197.9 545.8,197.4 545.3,197.1 552.3,182.3 551.4,176.1 545.2,167.2 545.1,167.0 544.9,166.6 544.5,167.2 529.0,179.8 519.8,176.0 513.2,172.6 510.5,182.3 497.4,191.5 488.0,191.3 481.5,191.8 471.6,191.8 465.7,184.5 463.3,184.5 458.7,185.3 451.5,187.5 449.8,188.6 441.8,196.2 440.6,197.4 434.0,204.0 425.5,212.1 425.1,212.6 418.1,219.2 409.7,227.3 409.2,227.7M402.3,222.1 409.4,215.3 412.3,212.6 418.1,207.1 425.1,200.4 428.3,197.4 434.0,192.1 440.8,185.6 444.2,182.3 446.8,178.4 446.0,177.1 449.8,168.0 450.7,167.2 450.7,166.8 451.2,165.8 449.8,166.6 440.8,160.6 442.3,152.0 442.8,143.6 442.6,136.9 449.8,125.8 464.7,121.8 458.8,113.2 456.5,106.6 465.7,97.8 475.7,91.5 469.7,87.7 465.7,86.7 459.5,82.3 449.8,76.8 449.0,77.1 449.3,76.3 449.8,75.5 458.8,61.2 458.8,52.7 449.8,55.5 443.9,51.7 444.6,46.1 449.8,41.6 454.6,41.5 465.7,43.5 468.4,43.4 481.5,39.4 488.5,39.4 497.4,39.4 504.2,39.6 513.2,44.3 514.9,44.4 529.0,42.7 532.8,42.5 537.7,46.1 534.4,56.1 544.9,57.5 555.4,46.1 560.7,44.4 562.6,44.3 576.6,42.4 580.7,42.2 583.5,43.1 589.4,42.2 592.4,40.8 599.1,34.4 602.8,30.9 608.3,25.5 615.2,18.9 618.5,15.8M402.3,41.6 406.9,41.6 408.9,46.1 410.6,53.3 418.1,59.3 419.5,59.9 419.8,61.2 418.1,64.9 411.0,76.3 406.2,87.7 418.1,84.9 423.1,86.8 424.4,91.5 418.1,94.8 404.0,106.6 408.2,116.1 418.1,113.4 426.4,113.8 426.4,121.8 418.1,130.8 411.5,136.9 410.6,144.1 409.6,152.0 406.9,162.7 406.8,167.2 407.5,177.3 407.6,182.3 402.3,187.3M409.0,15.8 402.3,21.8M508.9,15.8 497.4,22.3 490.6,22.3 481.5,22.6 474.6,22.4 465.7,18.3 463.1,18.2 461.1,15.8M595.5,15.8 592.4,18.5 589.8,18.3 576.6,17.0 575.4,16.9 570.7,15.8M624.1,20.8 617.7,27.0 613.5,30.9 608.3,36.1 601.7,42.3 597.8,46.1 595.8,49.7 597.1,50.9 594.3,59.4 594.2,61.2 594.2,74.7 594.2,76.3 592.4,81.4 580.5,91.5 580.5,102.9 592.4,98.3 596.2,103.0 596.0,106.6 593.6,120.7 593.6,121.8 598.3,131.3 598.1,136.9 598.1,146.6 598.2,152.0 594.9,164.8 595.1,167.2 597.2,177.7 597.4,182.3 592.4,186.9 586.5,188.0 576.6,182.6 575.0,183.8 560.7,183.8 559.8,183.2 560.2,182.3 558.4,169.4 556.8,167.2 552.0,160.3 548.0,152.0 548.0,149.1 548.0,136.9 552.4,129.8 549.0,121.8 546.0,120.7 544.9,117.8 534.6,121.8 543.2,123.4 541.2,136.9 542.1,139.5 542.1,152.0 531.8,164.5 530.0,167.2 529.0,167.9 528.5,167.7 527.5,167.2 517.7,162.8 513.2,157.6 509.2,167.2 510.3,169.9 506.8,182.3 497.4,189.0 490.6,188.8 481.5,189.5 474.0,189.5 468.1,182.3 472.3,175.9 465.7,178.6 461.8,182.3 454.7,184.5 449.8,187.6 443.1,194.0 439.5,197.4 434.0,203.0 426.9,209.8 424.0,212.6 418.1,218.1 411.0,224.9 408.1,227.7M624.1,59.2 621.6,48.5 621.3,46.1 624.1,43.5M624.1,187.0 619.7,186.5 619.2,182.3 620.2,170.9 620.3,167.2 617.5,158.3 617.8,152.0 617.4,143.3 617.5,136.9 623.0,122.8 622.9,121.8 624.1,116.1M617.6,227.7 624.1,215.3M446.4,227.7 449.8,224.4 453.0,224.7 465.7,221.6 474.0,219.7 481.5,218.4 490.4,219.2 497.4,218.7 503.8,212.6 513.2,204.2 522.0,204.2 522.2,212.6 518.2,222.9 529.0,226.0 540.8,216.5 544.9,216.5 548.8,224.0 560.7,224.0 575.6,212.6 576.6,212.2 576.8,212.3 577.1,212.6 584.9,219.7 592.4,221.0 596.8,223.6 597.0,227.7M513.2,107.4 514.1,106.6 514.6,106.0 523.5,96.8 526.3,91.5 515.6,89.2 513.2,87.3 505.7,91.5 508.8,95.6 511.1,106.6 511.1,108.6 513.2,107.4M402.3,223.0 408.3,217.2 413.2,212.6 418.1,207.9 424.0,202.3 429.2,197.4 434.0,192.9 439.8,187.4 445.1,182.3 449.1,176.2 448.9,175.9 449.8,173.7 456.6,167.2 456.4,164.3 460.7,156.8 449.8,162.8 443.2,158.4 444.3,152.0 444.8,141.6 444.7,136.9 449.8,129.1 461.3,125.9 465.5,136.9 465.5,137.1 465.7,137.8 465.8,136.9 481.5,123.5 497.2,121.9 497.4,122.0 497.6,121.8 498.8,121.1 513.2,113.1 520.0,106.6 524.3,101.9 529.0,96.9 534.7,91.5 533.9,89.4 536.3,84.5 529.0,84.5 522.1,83.0 513.7,76.3 529.0,65.0 539.3,66.6 544.9,66.6 556.7,65.0 560.7,63.6 563.2,61.2 563.6,60.0 567.3,55.0 567.3,46.1 576.6,44.8 578.0,44.7 578.9,45.1 587.8,43.7 592.4,41.6 598.1,36.2 603.6,30.9 608.3,26.4 614.1,20.8 619.3,15.8M402.3,112.0 405.4,118.8 418.1,115.3 424.5,115.7 424.5,121.8 418.1,128.7 409.3,136.9 408.0,146.6 407.3,152.0 403.9,165.6 403.9,167.2 404.7,180.0 404.7,182.3 402.3,184.6M402.3,43.7 404.7,43.8 405.7,46.1 408.0,55.8 414.8,61.2 409.7,69.2 405.3,76.3 402.3,83.5M406.9,15.8 402.3,19.9M505.5,15.8 497.4,20.4 492.6,20.4 481.5,20.8 476.4,20.7 465.9,15.8M624.1,20.1 618.7,25.3 612.7,30.9 608.3,35.3 602.7,40.6 597.0,46.1 594.0,51.3 594.7,51.9 592.4,58.9 589.9,61.2 589.5,62.5 585.9,67.5 585.9,76.3 576.6,83.5 571.0,91.5 570.1,97.6 570.1,106.6 560.7,115.6 554.0,113.1 551.3,106.6 550.5,101.3 544.9,103.0 541.1,106.6 536.3,110.3 529.0,116.3 523.4,121.8 520.3,125.5 513.2,133.2 509.4,136.9 511.5,137.6 511.4,138.6 511.4,152.0 507.6,157.4 503.5,167.2 506.3,173.8 503.9,182.3 497.4,186.9 492.7,186.7 481.5,187.6 475.9,187.6 471.6,182.3 481.5,167.3 482.0,167.2 481.6,167.0 481.5,166.9 481.3,167.2 466.3,173.4 465.7,173.8 457.1,182.0 456.8,182.3 449.8,186.8 444.1,192.2 438.7,197.4 434.0,202.1 428.0,207.9 423.1,212.6 418.1,217.3 412.1,223.0 407.2,227.7M624.1,184.7 621.8,184.5 621.5,182.3 622.7,168.5 622.8,167.2 619.5,156.5 619.6,152.0 619.2,141.6 619.3,136.9 624.1,124.4M619.6,227.7 624.1,219.2M564.9,227.7 576.6,218.0 581.7,222.8 592.4,224.6 594.4,225.8 594.5,227.7M450.1,227.7 465.7,223.9 470.8,222.8 481.5,220.9 488.0,221.5 497.4,220.8 506.0,212.6 513.2,206.1 519.9,206.1 520.1,212.6 514.9,226.0 520.6,227.7M589.3,185.2 583.9,182.3 592.4,167.6 594.9,179.9 595.0,182.3 592.4,184.7 589.3,185.2M524.2,156.6 520.2,152.0 525.2,140.6 525.2,136.9 529.0,134.3 531.3,134.7 531.0,136.9 534.6,146.7 534.6,152.0 529.0,158.8 524.2,156.6M557.8,154.9 556.3,152.0 556.3,141.1 556.3,136.9 560.7,129.8 563.3,121.8 576.6,109.0 585.0,106.6 592.4,103.8 593.7,105.4 593.6,106.6 592.4,113.7 589.9,121.8 576.6,134.5 568.2,136.9 568.2,144.9 568.2,152.0 560.7,159.1 557.8,154.9M579.1,164.8 580.2,152.0 580.2,148.5 580.2,136.9 592.4,125.2 596.3,133.2 596.2,136.9 596.2,148.4 596.3,152.0 592.4,166.9 579.1,164.8M473.9,113.9 466.3,106.6 481.5,97.6 490.9,97.6 496.8,106.6 481.5,115.6 473.9,113.9M463.5,78.4 459.9,76.3 465.7,62.1 480.6,62.1 481.5,61.7 496.9,61.7 497.4,61.8 497.5,61.2 513.2,47.7 519.7,46.1 529.0,44.9 530.3,44.8 532.0,46.1 529.0,55.0 527.4,61.2 513.2,76.2 512.6,76.3 497.4,85.3 488.0,85.3 481.5,86.1 475.4,82.2 465.7,79.9 463.5,78.4M446.8,49.0 447.1,46.1 449.8,43.8 452.3,43.7 465.2,46.1 449.8,51.0 446.8,49.0M465.9,61.0 465.9,46.1 481.5,41.2 486.6,41.2 497.4,41.2 502.3,41.4 511.3,46.1 497.4,61.0 481.7,61.0 481.5,61.0 465.9,61.0M402.3,223.9 407.1,219.3 414.2,212.6 418.1,208.9 422.9,204.4 430.1,197.4 434.0,193.8 438.6,189.4 446.0,182.3 449.8,176.5 457.2,169.5 459.6,167.2 462.9,163.0 462.7,161.6 465.7,156.5 470.3,152.0 467.8,151.1 467.9,149.9 469.6,136.9 481.5,126.7 493.5,125.5 497.4,129.5 505.5,121.8 506.7,121.1 513.2,116.0 520.6,108.9 523.0,106.6 529.0,100.6 536.7,93.3 538.6,91.5 540.6,88.8 539.9,86.8 544.9,76.6 545.2,76.3 559.6,70.6 560.7,69.8 569.1,61.8 569.7,61.2 571.3,59.4 572.5,56.1 576.6,50.5 581.2,46.1 586.1,45.3 592.4,42.5 596.9,38.2 604.6,30.9 608.3,27.3 612.9,22.8 620.3,15.8M402.3,122.0 402.5,121.8 418.1,117.5 422.4,117.7 422.4,121.8 418.1,126.3 406.8,136.9 405.1,149.4 404.8,152.0 402.3,161.8M402.3,46.5 405.1,58.5 408.4,61.2 402.3,71.0M404.6,15.8 402.3,17.8M501.8,15.8 497.4,18.3 494.8,18.3 481.5,18.8 478.5,18.7 472.2,15.8M624.1,19.2 619.8,23.4 611.8,30.9 608.3,34.4 603.8,38.6 596.0,46.1 592.4,52.6 584.0,60.6 583.4,61.2 581.8,63.0 580.6,66.3 576.6,71.9 571.9,76.3 570.5,79.0 560.7,91.2 560.4,91.5 546.8,96.4 544.9,97.8 536.8,105.5 535.6,106.6 529.0,112.6 521.4,119.9 519.5,121.8 513.2,128.1 505.1,135.8 504.0,136.9 503.9,137.5 508.2,139.0 508.0,141.8 508.0,152.0 497.4,167.0 485.4,163.4 481.5,159.4 473.4,167.2 472.4,167.6 465.7,172.5 458.8,179.0 455.4,182.3 449.8,185.9 445.3,190.2 437.7,197.4 434.0,201.2 429.2,205.8 422.1,212.6 418.1,216.3 413.3,220.9 406.2,227.7M624.1,162.4 621.6,154.4 621.7,152.0 621.2,139.7 621.2,136.9 624.1,129.5M621.9,227.7 624.1,223.5M572.8,227.7 576.6,224.6 578.2,226.1 587.2,227.7M460.7,227.7 465.7,226.5 467.3,226.1 481.5,223.7 485.4,224.0 497.4,223.1 508.4,212.6 513.2,208.3 517.7,208.3 517.8,212.6 513.2,224.5 509.8,227.7M478.1,185.5 475.4,182.3 481.5,173.2 497.1,167.4 497.4,167.6 501.7,178.1 500.6,182.3 497.4,184.6 495.1,184.5 481.5,185.5 478.1,185.5M445.8,155.9 446.4,152.0 447.1,139.5 447.1,136.9 449.8,132.7 456.0,131.0 458.3,136.9 459.4,142.9 461.7,152.0 449.8,158.6 445.8,155.9M586.6,157.6 587.1,152.0 587.1,142.0 587.1,136.9 592.4,131.8 594.1,135.3 594.1,136.9 594.1,150.4 594.1,152.0 592.4,158.5 586.6,157.6M564.4,133.4 568.1,121.8 576.6,113.6 588.8,110.1 585.1,121.8 576.6,129.9 564.4,133.4M499.2,74.6 503.2,61.2 513.2,52.6 525.4,49.6 522.2,61.2 513.2,70.8 499.2,74.6M472.5,54.7 472.5,46.1 481.5,43.3 484.4,43.3 497.4,43.3 500.2,43.3 505.4,46.1 497.4,54.7 488.3,54.7 481.5,54.7 472.5,54.7M402.3,224.9 405.9,221.4 415.2,212.6 418.1,209.8 421.7,206.4 431.1,197.4 434.0,194.7 437.4,191.4 447.0,182.3 449.8,178.0 455.4,172.7 461.1,167.2 465.7,161.4 473.0,154.3 475.5,152.0 475.7,150.7 471.9,149.3 472.2,145.8 473.3,136.9 481.5,129.9 489.7,129.1 492.6,132.1 495.3,132.0 497.4,131.7 504.0,125.4 507.8,121.8 513.2,117.4 518.7,112.1 524.5,106.6 529.0,102.1 534.8,96.7 540.2,91.5 544.9,85.0 553.2,77.1 553.9,76.3 560.7,71.4 567.0,65.5 571.4,61.2 576.6,55.4 583.9,48.4 586.4,46.1 592.4,43.4 595.8,40.2 605.5,30.9 608.3,28.2 611.7,24.9 621.2,15.8M402.3,130.4 410.5,121.8 418.1,119.7 420.2,119.8 420.2,121.8 418.1,124.0 404.2,136.9 402.3,151.5M498.0,15.8 497.4,16.2 497.0,16.2 481.5,16.7 480.5,16.7 478.5,15.8M624.1,18.3 620.8,21.5 610.9,30.9 608.3,33.5 604.9,36.7 595.1,46.1 592.4,51.0 586.2,56.9 581.7,61.2 576.6,67.0 569.2,74.0 566.8,76.3 560.7,82.8 552.4,90.8 551.7,91.5 544.9,96.2 538.9,102.0 534.0,106.6 529.0,111.1 523.3,116.6 517.9,121.8 513.2,126.5 507.2,132.2 502.3,136.9 501.9,139.3 505.0,140.4 504.7,145.0 504.7,152.0 497.4,162.3 489.2,159.8 486.3,156.8 483.5,156.9 481.5,157.2 474.9,163.5 471.1,167.2 465.7,171.1 460.6,176.0 454.0,182.3 449.8,185.0 446.4,188.2 436.8,197.4 434.0,200.2 430.4,203.7 421.1,212.6 418.1,215.4 414.5,218.8 405.3,227.7M624.1,153.5 623.7,152.4 623.8,152.0 623.2,137.8 623.2,136.9 624.1,134.5M474.1,227.7 481.5,226.4 482.8,226.5 497.4,225.4 510.8,212.6 513.2,210.5 515.4,210.5 515.5,212.6 513.2,218.4 503.5,227.7M480.3,183.5 479.3,182.3 481.5,179.0 487.2,176.9 496.6,182.3 481.5,183.5 480.3,183.5M448.3,153.4 448.6,152.0 449.4,137.3 449.4,136.9 449.8,136.3 450.7,136.0 451.1,136.9 453.3,148.7 454.1,152.0 449.8,154.4 448.3,153.4M571.3,126.8 572.9,121.8 576.6,118.2 581.9,116.7 580.3,121.8 576.6,125.3 571.3,126.8M507.1,67.0 508.8,61.2 513.2,57.4 518.5,56.1 517.1,61.2 513.2,65.4 507.1,67.0M479.1,48.4 479.1,46.1 481.5,45.3 482.3,45.3 497.4,45.3 498.1,45.3 499.5,46.1 497.4,48.4 494.9,48.4 481.5,48.4 479.1,48.4M402.3,225.8 404.7,223.5 416.2,212.6 418.1,210.7 420.5,208.5 432.1,197.4 434.0,195.6 436.3,193.4 448.0,182.3 449.8,179.4 453.5,175.9 462.7,167.2 465.7,163.3 470.6,158.7 477.5,152.0 478.2,148.4 476.0,147.6 476.5,141.7 477.1,136.9 481.5,133.1 485.9,132.7 487.5,134.3 493.2,134.1 497.4,133.4 501.8,129.2 509.6,121.8 513.2,118.9 516.9,115.4 526.0,106.6 529.0,103.6 532.8,100.0 541.8,91.5 544.9,87.2 550.4,81.9 556.2,76.3 560.7,73.1 564.9,69.1 573.2,61.2 576.6,57.4 581.5,52.7 588.4,46.1 592.4,44.3 594.7,42.2 606.4,30.9 608.3,29.1 610.6,26.9 622.2,15.8M624.1,17.5 621.9,19.5 610.0,30.9 608.3,32.7 606.1,34.8 594.2,46.1 592.4,49.3 588.3,53.3 580.0,61.2 576.6,65.0 571.7,69.7 564.7,76.3 560.7,80.6 555.2,85.9 549.4,91.5 544.9,94.6 540.9,98.4 532.3,106.6 529.0,109.6 525.2,113.2 516.3,121.8 513.2,124.9 509.2,128.7 500.6,136.9 500.0,141.2 501.7,141.8 501.3,148.3 501.3,152.0 497.4,157.6 492.9,156.2 491.4,154.6 485.7,154.8 481.5,155.5 477.1,159.7 469.3,167.2 465.7,169.8 462.3,173.0 452.6,182.3 449.8,184.1 447.6,186.2 435.8,197.4 434.0,199.3 431.6,201.6 420.1,212.6 418.1,214.4 415.8,216.7 404.3,227.7M402.3,226.8 403.5,225.7 417.2,212.6 418.1,211.7 419.3,210.6 433.0,197.4 434.0,196.5 435.1,195.5 448.9,182.3 449.8,180.9 451.6,179.2 464.2,167.2 465.7,165.3 468.1,163.0 479.5,152.0 480.7,146.0 480.1,145.8 480.8,137.6 480.9,136.9 481.5,136.3 482.2,136.3 482.4,136.5 491.0,136.2 497.4,135.2 499.5,133.1 511.4,121.8 513.2,120.3 515.0,118.6 527.6,106.6 529.0,105.2 530.9,103.4 543.4,91.5 544.9,89.4 547.6,86.8 558.5,76.3 560.7,74.7 562.8,72.8 574.9,61.2 576.6,59.3 579.0,57.0 590.4,46.1 592.4,45.2 593.5,44.2 607.4,30.9 608.3,30.0 609.4,29.0 623.2,15.8M624.1,16.6 623.0,17.6 609.1,30.9 608.3,31.8 607.2,32.8 593.3,46.1 592.4,47.7 590.4,49.6 578.2,61.2 576.6,63.1 574.2,65.4 562.7,76.3 560.7,78.5 558.0,81.0 547.1,91.5 544.9,93.0 542.9,94.9 530.7,106.6 529.0,108.1 527.2,109.9 514.7,121.8 513.2,123.3 511.2,125.2 499.0,136.9 498.0,143.1 498.5,143.2 497.9,151.5 497.9,152.0 497.4,152.8 496.7,152.6 496.5,152.4 487.9,152.7 481.5,153.7 479.3,155.8 467.4,167.2 465.7,168.5 464.0,170.1 451.2,182.3 449.8,183.2 448.7,184.2 434.9,197.4 434.0,198.3 432.8,199.5 419.1,212.6 418.1,213.5 417.0,214.6 403.3,227.7"/>
</g>
<rect x="402.3" y="15.8" width="221.8" height="211.9" fill="none" stroke="#222" stroke-width="1"/>
<path stroke="#333" stroke-width="1" d="M397.8,227.7H402.3M402.3,227.7V231.4M397.8,212.6H402.3M418.1,227.7V231.4M397.8,197.4H402.3M434.0,227.7V231.4M397.8,182.3H402.3M449.8,227.7V231.4M397.8,167.2H402.3M465.7,227.7V231.4M397.8,152.0H402.3M481.5,227.7V231.4M397.8,136.9H402.3M497.4,227.7V231.4M397.8,121.8H402.3M513.2,227.7V231.4M397.8,106.6H402.3M529.0,227.7V231.4M397.8,91.5H402.3M544.9,227.7V231.4M397.8,76.3H402.3M560.7,227.7V231.4M397.8,61.2H402.3M576.6,227.7V231.4M397.8,46.1H402.3M592.4,227.7V231.4M397.8,30.9H402.3M608.3,227.7V231.4M397.8,15.8H402.3M624.1,227.7V231.4"/>
<g font-size="11.7" text-anchor="end">
<text x="396.6" y="231.9">Sample</text>
<text x="396.6" y="216.8">PS</text>
<text x="396.6" y="201.6">PET</text>
<text x="396.6" y="186.5">PE</text>
<text x="396.6" y="171.4">PVC</text>
<text x="396.6" y="156.2">PP</text>
<text x="396.6" y="141.1">PA</text>
<text x="396.6" y="126.0">NR</text>
<text x="396.6" y="110.8">PMMA</text>
<text x="396.6" y="95.7">PC</text>
<text x="396.6" y="80.5">PUR</text>
<text x="396.6" y="65.4">ABS</text>
<text x="396.6" y="50.3">Rubber</text>
<text x="396.6" y="35.1">PTFE</text>
<text x="396.6" y="20.0">Cotton</text>
<text transform="translate(402.3,232.2) rotate(-90)" dy="4.1">Sample</text>
<text transform="translate(418.1,232.2) rotate(-90)" dy="4.1">PS</text>
<text transform="translate(434.0,232.2) rotate(-90)" dy="4.1">PET</text>
<text transform="translate(449.8,232.2) rotate(-90)" dy="4.1">PE</text>
<text transform="translate(465.7,232.2) rotate(-90)" dy="4.1">PVC</text>
<text transform="translate(481.5,232.2) rotate(-90)" dy="4.1">PP</text>
<text transform="translate(497.4,232.2) rotate(-90)" dy="4.1">PA</text>
<text transform="translate(513.2,232.2) rotate(-90)" dy="4.1">NR</text>
<text transform="translate(529.0,232.2) rotate(-90)" dy="4.1">PMMA</text>
<text transform="translate(544.9,232.2) rotate(-90)" dy="4.1">PC</text>
<text transform="translate(560.7,232.2) rotate(-90)" dy="4.1">PUR</text>
<text transform="translate(576.6,232.2) rotate(-90)" dy="4.1">ABS</text>
<text transform="translate(592.4,232.2) rotate(-90)" dy="4.1">Rubber</text>
<text transform="translate(608.3,232.2) rotate(-90)" dy="4.1">PTFE</text>
<text transform="translate(624.1,232.2) rotate(-90)" dy="4.1">Cotton</text>
</g>
<rect x="631.2" y="19.60" width="17.3" height="2.90" fill="#ff0500"/><rect x="631.2" y="22.20" width="17.3" height="2.90" fill="#ff0e00"/><rect x="631.2" y="24.80" width="17.3" height="2.90" fill="#ff1800"/><rect x="631.2" y="27.40" width="17.3" height="2.90" fill="#ff2100"/><rect x="631.2" y="30.00" width="17.3" height="2.90" fill="#ff2a00"/><rect x="631.2" y="32.60" width="17.3" height="2.90" fill="#ff3500"/><rect x="631.2" y="35.20" width="17.3" height="2.90" fill="#ff4000"/><rect x="631.2" y="37.80" width="17.3" height="2.90" fill="#ff4b00"/><rect x="631.2" y="40.40" width="17.3" height="2.90" fill="#ff5600"/><rect x="631.2" y="43.00" width="17.3" height="2.90" fill="#ff6100"/><rect x="631.2" y="45.60" width="17.3" height="2.90" fill="#ff6d00"/><rect x="631.2" y="48.20" width="17.3" height="2.90" fill="#ff7800"/><rect x="631.2" y="50.80" width="17.3" height="2.90" fill="#ff8400"/><rect x="631.2" y="53.40" width="17.3" height="2.90" fill="#ff9000"/><rect x="631.2" y="56.00" width="17.3" height="2.90" fill="#ff9f00"/><rect x="631.2" y="58.60" width="17.3" height="2.90" fill="#ffb100"/><rect x="631.2" y="61.20" width="17.3" height="2.90" fill="#ffc300"/><rect x="631.2" y="63.80" width="17.3" height="2.90" fill="#ffd400"/><rect x="631.2" y="66.40" width="17.3" height="2.90" fill="#ffe600"/><rect x="631.2" y="69.00" width="17.3" height="2.90" fill="#fff700"/><rect x="631.2" y="71.60" width="17.3" height="2.90" fill="#f9ff00"/><rect x="631.2" y="74.20" width="17.3" height="2.90" fill="#eeff00"/><rect x="631.2" y="76.80" width="17.3" height="2.90" fill="#e3ff00"/><rect x="631.2" y="79.40" width="17.3" height="2.90" fill="#d8ff00"/><rect x="631.2" y="82.00" width="17.3" height="2.90" fill="#c9ff00"/><rect x="631.2" y="84.60" width="17.3" height="2.90" fill="#baff00"/><rect x="631.2" y="87.20" width="17.3" height="2.90" fill="#abff00"/><rect x="631.2" y="89.80" width="17.3" height="2.90" fill="#9bff00"/><rect x="631.2" y="92.40" width="17.3" height="2.90" fill="#8aff00"/><rect x="631.2" y="95.00" width="17.3" height="2.90" fill="#77ff00"/><rect x="631.2" y="97.60" width="17.3" height="2.90" fill="#64ff00"/><rect x="631.2" y="100.20" width="17.3" height="2.90" fill="#51ff00"/><rect x="631.2" y="102.80" width="17.3" height="2.90" fill="#3fff00"/><rect x="631.2" y="105.40" width="17.3" height="2.90" fill="#2eff00"/><rect x="631.2" y="108.00" width="17.3" height="2.90" fill="#1eff00"/><rect x="631.2" y="110.60" width="17.3" height="2.90" fill="#0dff00"/><rect x="631.2" y="113.20" width="17.3" height="2.90" fill="#00ff01"/><rect x="631.2" y="115.80" width="17.3" height="2.90" fill="#00fe09"/><rect x="631.2" y="118.40" width="17.3" height="2.90" fill="#00fd10"/><rect x="631.2" y="121.00" width="17.3" height="2.90" fill="#00fc18"/><rect x="631.2" y="123.60" width="17.3" height="2.90" fill="#00fb1f"/><rect x="631.2" y="126.20" width="17.3" height="2.90" fill="#00fa27"/><rect x="631.2" y="128.80" width="17.3" height="2.90" fill="#00f931"/><rect x="631.2" y="131.40" width="17.3" height="2.90" fill="#00f93b"/><rect x="631.2" y="134.00" width="17.3" height="2.90" fill="#00f846"/><rect x="631.2" y="136.60" width="17.3" height="2.90" fill="#00f751"/><rect x="631.2" y="139.20" width="17.3" height="2.90" fill="#00f65b"/><rect x="631.2" y="141.80" width="17.3" height="2.90" fill="#00f666"/><rect x="631.2" y="144.40" width="17.3" height="2.90" fill="#00f572"/><rect x="631.2" y="147.00" width="17.3" height="2.90" fill="#00f482"/><rect x="631.2" y="149.60" width="17.3" height="2.90" fill="#00f391"/><rect x="631.2" y="152.20" width="17.3" height="2.90" fill="#00f2a1"/><rect x="631.2" y="154.80" width="17.3" height="2.90" fill="#00f1b1"/><rect x="631.2" y="157.40" width="17.3" height="2.90" fill="#00f0c0"/><rect x="631.2" y="160.00" width="17.3" height="2.90" fill="#00f0ce"/><rect x="631.2" y="162.60" width="17.3" height="2.90" fill="#00efd9"/><rect x="631.2" y="165.20" width="17.3" height="2.90" fill="#00efe5"/><rect x="631.2" y="167.80" width="17.3" height="2.90" fill="#00eef0"/><rect x="631.2" y="170.40" width="17.3" height="2.90" fill="#00e5f6"/><rect x="631.2" y="173.00" width="17.3" height="2.90" fill="#00ddfb"/><rect x="631.2" y="175.60" width="17.3" height="2.90" fill="#00d3ff"/><rect x="631.2" y="178.20" width="17.3" height="2.90" fill="#00c6ff"/><rect x="631.2" y="180.80" width="17.3" height="2.90" fill="#00b9ff"/><rect x="631.2" y="183.40" width="17.3" height="2.90" fill="#00acff"/><rect x="631.2" y="186.00" width="17.3" height="2.90" fill="#009fff"/><rect x="631.2" y="188.60" width="17.3" height="2.90" fill="#0092ff"/><rect x="631.2" y="191.20" width="17.3" height="2.90" fill="#0085ff"/><rect x="631.2" y="193.80" width="17.3" height="2.90" fill="#0078ff"/><rect x="631.2" y="196.40" width="17.3" height="2.90" fill="#006bff"/><rect x="631.2" y="199.00" width="17.3" height="2.90" fill="#005eff"/><rect x="631.2" y="201.60" width="17.3" height="2.90" fill="#0051ff"/><rect x="631.2" y="204.20" width="17.3" height="2.90" fill="#0044ff"/><rect x="631.2" y="206.80" width="17.3" height="2.90" fill="#0038ff"/><rect x="631.2" y="209.40" width="17.3" height="2.90" fill="#002cff"/><rect x="631.2" y="212.00" width="17.3" height="2.90" fill="#0021ff"/><rect x="631.2" y="214.60" width="17.3" height="2.90" fill="#0016ff"/><rect x="631.2" y="217.20" width="17.3" height="2.90" fill="#000fff"/><rect x="631.2" y="219.80" width="17.3" height="2.90" fill="#0008ff"/><rect x="631.2" y="222.40" width="17.3" height="1.70" fill="#0002ff"/>
<rect x="631.2" y="15" width="17.3" height="4.6" fill="#fff"/>
<rect x="631.2" y="223.8" width="17.3" height="4.2" fill="#000"/>
<rect x="631.2" y="15" width="17.3" height="213" fill="none" stroke="#555" stroke-width="0.9"/>
<path stroke="#888" stroke-width="1" d="M648.5,32.5H652.8M648.5,128.7H652.8M648.5,223.8H652.8"/>
<g font-size="12.5">
<text x="657.2" y="37.2">0.9</text><text x="657.2" y="133.3">0.4</text><text x="657.2" y="228.3">-0.07</text>
</g>
<g fill="#ff0000" stroke="#4a0000" stroke-width="0.7"><rect x="57.4" y="300.7" width="14.2" height="175.5"/><rect x="74.9" y="454.3" width="14.2" height="21.9"/><rect x="92.5" y="463.0" width="14.2" height="13.2"/><rect x="110.0" y="328.8" width="14.2" height="147.4"/><rect x="127.6" y="373.5" width="14.2" height="102.7"/><rect x="145.1" y="315.9" width="14.2" height="160.3"/><rect x="162.6" y="302.4" width="14.2" height="173.8"/><rect x="180.2" y="408.6" width="14.2" height="67.6"/><rect x="197.7" y="379.7" width="14.2" height="96.5"/><rect x="215.3" y="420.0" width="14.2" height="56.2"/><rect x="232.8" y="358.6" width="14.2" height="117.6"/><rect x="250.3" y="395.5" width="14.2" height="80.7"/><rect x="267.9" y="344.6" width="14.2" height="131.6"/><rect x="285.4" y="476.2" width="14.2" height="9.7"/><rect x="303.0" y="318.9" width="14.2" height="157.3"/></g>
<g stroke="#3a3a3a" fill="none">
<path stroke-width="1.2" d="M55.8,281.8V493.6H319.5"/>
<path stroke-width="1.1" d="M55.8,476.2H319.5"/>
<path stroke-width="1" d="M51.6,476.2H55.8M51.6,441.1H55.8M51.6,406.0H55.8M51.6,370.9H55.8M51.6,335.8H55.8M51.6,300.7H55.8M53.6,458.6H55.8M53.6,423.5H55.8M53.6,388.4H55.8M53.6,353.3H55.8M53.6,318.2H55.8M53.6,283.1H55.8M53.6,493.7H55.8M64.5,493.6V497.6M82.0,493.6V497.6M99.6,493.6V497.6M117.1,493.6V497.6M134.7,493.6V497.6M152.2,493.6V497.6M169.7,493.6V497.6M187.3,493.6V497.6M204.8,493.6V497.6M222.4,493.6V497.6M239.9,493.6V497.6M257.4,493.6V497.6M275.0,493.6V497.6M292.5,493.6V497.6M310.1,493.6V497.6"/>
</g>
<g font-size="12.2" text-anchor="end">
<text x="49.4" y="480.5">0</text>
<text x="49.4" y="445.4">0.2</text>
<text x="49.4" y="410.3">0.4</text>
<text x="49.4" y="375.2">0.6</text>
<text x="49.4" y="340.1">0.8</text>
<text x="49.4" y="305.0">1</text>
<text font-size="11.8" transform="translate(64.5,501.8) rotate(-90)" dy="4.1">Sample</text>
<text font-size="11.8" transform="translate(82.0,501.8) rotate(-90)" dy="4.1">PS</text>
<text font-size="11.8" transform="translate(99.6,501.8) rotate(-90)" dy="4.1">PET</text>
<text font-size="11.8" transform="translate(117.1,501.8) rotate(-90)" dy="4.1">PE</text>
<text font-size="11.8" transform="translate(134.7,501.8) rotate(-90)" dy="4.1">PVC</text>
<text font-size="11.8" transform="translate(152.2,501.8) rotate(-90)" dy="4.1">PP</text>
<text font-size="11.8" transform="translate(169.7,501.8) rotate(-90)" dy="4.1">PA</text>
<text font-size="11.8" transform="translate(187.3,501.8) rotate(-90)" dy="4.1">NR</text>
<text font-size="11.8" transform="translate(204.8,501.8) rotate(-90)" dy="4.1">PMMA</text>
<text font-size="11.8" transform="translate(222.4,501.8) rotate(-90)" dy="4.1">PC</text>
<text font-size="11.8" transform="translate(239.9,501.8) rotate(-90)" dy="4.1">PUR</text>
<text font-size="11.8" transform="translate(257.4,501.8) rotate(-90)" dy="4.1">ABS</text>
<text font-size="11.8" transform="translate(275.0,501.8) rotate(-90)" dy="4.1">Rubber</text>
<text font-size="11.8" transform="translate(292.5,501.8) rotate(-90)" dy="4.1">PTFE</text>
<text font-size="11.8" transform="translate(310.1,501.8) rotate(-90)" dy="4.1">Cotton</text>
</g>
<text transform="translate(27.5,389) rotate(-90)" font-size="11.8" text-anchor="middle">Correlation</text>
<g font-size="11.6" text-anchor="end">
<text transform="translate(152.2,317.9) rotate(-90)" dy="4.1">0.91314</text>
<text transform="translate(169.7,304.4) rotate(-90)" dy="4.1">0.99006</text>
<text transform="translate(310.1,320.9) rotate(-90)" dy="4.1">0.89651</text>
</g>
<g fill="none" stroke="#000" stroke-width="3.2" stroke-dasharray="12.3 11.9">
<path stroke-dashoffset="18" d="M171,273.5A9.8,135.5 0 0 1 171,544.5"/>
<path stroke-dashoffset="21.4" d="M171,273.5A9.8,135.5 0 0 0 171,544.5A9.8,135.5 0 0 0 175,543.9"/>
</g>
<g stroke="#3a3a3a" fill="none">
<path stroke-width="1.2" d="M401.3,315.8V493H664.3"/>
<path stroke-width="1" d="M397,478.2H401.3M397,448.9H401.3M397,419.6H401.3M397,390.3H401.3M397,361.0H401.3M397,331.7H401.3M399,463.6H401.3M399,434.2H401.3M399,404.9H401.3M399,375.6H401.3M399,346.4H401.3M399,317.0H401.3M399,492.8H401.3M401.3,493V496.8M472.0,493V496.8M542.7,493V496.8M613.4,493V496.8M436.7,493V495.2M507.4,493V495.2M578.0,493V495.2M648.8,493V495.2"/>
</g>
<g font-size="15" text-anchor="end">
<text x="395.6" y="483.5">0</text>
<text x="395.6" y="454.2">0.2</text>
<text x="395.6" y="424.9">0.4</text>
<text x="395.6" y="395.6">0.6</text>
<text x="395.6" y="366.3">0.8</text>
<text x="395.6" y="337.0">1</text>
</g><g font-size="15" text-anchor="middle">
<text x="401.3" y="511.8">0</text>
<text x="472.0" y="511.8">1000</text>
<text x="542.7" y="511.8">2000</text>
<text x="613.4" y="511.8">3000</text>
</g>
<text x="507.3" y="524.5" font-size="15">Wavenumber / <tspan font-style="italic">cm</tspan><tspan font-size="10" dy="-6" font-style="italic">-1</tspan></text>
<text transform="translate(371,391) rotate(-90)" font-size="15" text-anchor="middle">Intensity / <tspan font-style="italic">cts</tspan></text>
<path fill="none" stroke="#ff0000" stroke-width="3.3" d="M429.5,442.0 428.8,442.4 428.0,442.8 427.4,443.3 426.7,443.8 426.1,444.3 425.5,444.8 424.9,445.3 424.4,445.9 424.0,446.5 423.6,447.1 423.2,447.7 422.8,448.3 422.6,449.0 422.3,449.6 422.1,450.3 422.0,451.0 421.9,451.6 421.8,452.3M440.2,439.7 441.1,439.7 442.0,439.8 442.9,439.9 443.8,440.0 444.7,440.2 445.5,440.4 446.4,440.6 447.2,440.9 448.0,441.2 448.8,441.5 449.6,441.9 450.3,442.2 451.0,442.6 451.7,443.1 452.4,443.5 453.0,444.0M457.4,454.5 457.3,455.2 457.1,455.8 456.9,456.4 456.6,457.0 456.3,457.6 455.9,458.2 455.5,458.8 455.1,459.4 454.6,459.9 454.1,460.4 453.5,461.0 452.9,461.4 452.3,461.9 451.7,462.4 451.0,462.8 450.3,463.2 449.6,463.5M425.9,460.9 426.4,461.4 427.0,461.9 427.7,462.3 428.3,462.8 429.0,463.1 429.8,463.5 430.5,463.9 431.3,464.2 432.1,464.5 432.9,464.7 433.7,464.9 434.5,465.1 435.4,465.3 436.2,465.5 437.1,465.6 438.0,465.6"/>
<path fill="none" stroke="#33f0f0" stroke-width="1.2" stroke-linejoin="round" d="M415.4,451.9L415.7,451.2 416.0,451.8 416.3,451.9 416.6,452.8 416.9,451.6 417.1,451.9 417.4,452.8 417.7,452.9 418.0,454.7 418.3,453.4 418.6,454.1 418.8,453.9 419.1,453.9 419.4,454.7 419.7,455.7 420.0,454.7 420.2,455.6 420.5,455.5 420.8,455.9 421.1,455.9 421.4,457.3 421.7,455.4 421.9,456.2 422.2,455.9 422.5,455.5 422.8,456.7 423.1,457.9 423.4,457.4 423.6,457.6 423.9,457.2 424.2,456.9 424.5,458.1 424.8,456.8 425.1,457.9 425.3,456.8 425.6,457.0 425.9,457.1 426.2,456.9 426.5,457.0 426.8,456.9 427.0,457.2 427.3,455.9 427.6,454.3 427.9,453.6 428.2,453.4 428.4,453.0 428.7,453.1 429.0,451.3 429.3,451.9 429.6,451.8 429.9,452.3 430.1,452.6 430.4,453.7 430.7,454.3 431.0,455.6 431.3,455.9 431.6,455.0 431.8,456.9 432.1,457.5 432.4,457.3 432.7,457.5 433.0,458.8 433.3,458.4 433.5,457.8 433.8,458.2 434.1,458.3 434.4,457.4 434.7,458.7 435.0,458.2 435.2,458.5 435.5,457.3 435.8,459.1 436.1,458.2 436.4,457.8 436.7,456.8 436.9,456.4 437.2,455.4 437.5,456.5 437.8,454.5 438.1,454.4 438.3,454.1 438.6,452.9 438.9,453.6 439.2,454.4 439.5,453.8 439.8,455.0 440.0,455.2 440.3,455.2 440.6,455.8 440.9,455.5 441.2,457.0 441.5,458.1 441.7,457.8 442.0,458.0 442.3,458.2 442.6,457.3 442.9,457.8 443.2,458.4 443.4,456.5 443.7,456.6 444.0,455.7 444.3,455.1 444.6,453.9 444.9,453.0 445.1,450.9 445.4,449.8 445.7,448.2 446.0,446.6 446.3,446.5 446.5,445.0 446.8,445.1 447.1,445.6 447.4,447.9 447.7,447.8 448.0,450.4 448.2,452.9 448.5,454.7 448.8,455.1 449.1,456.1 449.4,457.3 449.7,457.5 449.9,458.4 450.2,458.1 450.5,459.2 450.8,459.0 451.1,458.6 451.4,457.8 451.6,460.0 451.9,459.8 452.2,460.1 452.5,459.2 452.8,460.5 453.1,460.1 453.3,460.0 453.6,460.6 453.9,460.6 454.2,460.4 454.5,461.4 454.7,461.1 455.0,460.5 455.3,460.3 455.6,460.5 455.9,461.5 456.2,460.8 456.4,460.1 456.7,460.2 457.0,460.5 457.3,461.0 457.6,460.1 457.9,460.8 458.1,461.1 458.4,460.8 458.7,459.5 459.0,460.2 459.3,459.6 459.6,460.5 459.8,459.6 460.1,460.5 460.4,460.2 460.7,458.6 461.0,459.6 461.3,460.3 461.5,460.0 461.8,459.7 462.1,459.1 462.4,460.1 462.7,460.8 463.0,459.9 463.2,459.6 463.5,459.5 463.8,458.8 464.1,459.3 464.4,458.9 464.6,460.0 464.9,458.7 465.2,457.9 465.5,458.6 465.8,458.8 466.1,458.7 466.3,457.5 466.6,458.7 466.9,457.7 467.2,456.6 467.5,455.5 467.8,454.9 468.0,452.9 468.3,451.7 468.6,450.1 468.9,449.5 469.2,450.3 469.5,450.7 469.7,451.5 470.0,454.1 470.3,455.0 470.6,455.5 470.9,457.3 471.2,457.1 471.4,458.1 471.7,457.0 472.0,456.4 472.3,456.6 472.6,458.0 472.8,457.4 473.1,457.7 473.4,457.6 473.7,456.5 474.0,457.9 474.3,456.0 474.5,456.0 474.8,454.0 475.1,453.3 475.4,451.9 475.7,449.2 476.0,446.6 476.2,445.0 476.5,443.7 476.8,444.6 477.1,447.0 477.4,447.4 477.7,449.7 477.9,452.0 478.2,453.5 478.5,454.1 478.8,455.6 479.1,456.0 479.4,455.6 479.6,454.3 479.9,454.7 480.2,451.2 480.5,449.3 480.8,445.4 481.0,439.2 481.3,435.4 481.6,433.5 481.9,433.9 482.2,437.0 482.5,441.8 482.7,447.4 483.0,450.6 483.3,453.0 483.6,455.4 483.9,455.8 484.2,456.6 484.4,457.2 484.7,457.4 485.0,457.2 485.3,457.3 485.6,457.6 485.9,457.5 486.1,456.4 486.4,456.7 486.7,455.9 487.0,455.1 487.3,454.5 487.6,452.2 487.8,452.5 488.1,449.7 488.4,448.6 488.7,446.1 489.0,445.9 489.3,448.8 489.5,449.7 489.8,450.4 490.1,451.9 490.4,453.2 490.7,454.6 490.9,454.8 491.2,454.7 491.5,454.6 491.8,452.9 492.1,452.9 492.4,448.5 492.6,445.9 492.9,440.6 493.2,437.4 493.5,435.2 493.8,434.5 494.1,437.8 494.3,441.8 494.6,446.4 494.9,449.1 495.2,451.7 495.5,453.4 495.8,455.3 496.0,455.4 496.3,456.5 496.6,456.8 496.9,456.5 497.2,456.1 497.5,456.6 497.7,456.0 498.0,455.1 498.3,453.8 498.6,452.9 498.9,450.0 499.1,449.1 499.4,447.2 499.7,447.3 500.0,447.1 500.3,448.3 500.6,450.4 500.8,450.5 501.1,452.7 501.4,452.6 501.7,453.3 502.0,453.7 502.3,452.0 502.5,449.0 502.8,445.4 503.1,440.5 503.4,434.9 503.7,430.3 504.0,425.8 504.2,427.1 504.5,429.2 504.8,435.5 505.1,441.4 505.4,446.2 505.7,450.0 505.9,453.9 506.2,456.0 506.5,456.8 506.8,458.1 507.1,458.0 507.4,456.9 507.6,458.7 507.9,457.8 508.2,459.1 508.5,458.3 508.8,458.7 509.0,458.6 509.3,458.3 509.6,457.6 509.9,458.5 510.2,458.6 510.5,459.2 510.7,458.3 511.0,458.8 511.3,458.1 511.6,458.6 511.9,457.5 512.2,459.7 512.4,458.7 512.7,457.9 513.0,458.6 513.3,458.7 513.6,458.3 513.9,458.9 514.1,457.9 514.4,456.3 514.7,456.9 515.0,457.8 515.3,457.2 515.6,456.1 515.8,454.1 516.1,453.3 516.4,450.6 516.7,446.4 517.0,442.6 517.2,439.7 517.5,437.8 517.8,438.0 518.1,439.8 518.4,444.3 518.7,446.3 518.9,450.4 519.2,452.3 519.5,453.3 519.8,454.9 520.1,457.0 520.4,456.2 520.6,456.4 520.9,457.7 521.2,457.9 521.5,457.5 521.8,458.5 522.1,456.8 522.3,459.1 522.6,458.4 522.9,458.0 523.2,458.0 523.5,457.8 523.8,457.7 524.0,458.1 524.3,457.3 524.6,459.2 524.9,458.0 525.2,458.4 525.4,457.9 525.7,457.9 526.0,458.6 526.3,458.4 526.6,457.6 526.9,457.9 527.1,458.5 527.4,456.9 527.7,456.7 528.0,458.9 528.3,457.9 528.6,456.6 528.8,457.6 529.1,458.0 529.4,458.2 529.7,458.4 530.0,458.2 530.3,458.4 530.5,457.7 530.8,458.3 531.1,458.3 531.4,458.8 531.7,458.1 532.0,458.6 532.2,458.2 532.5,457.5 532.8,457.9 533.1,457.8 533.4,457.9 533.7,458.0 533.9,458.2 534.2,458.3 534.5,457.6 534.8,458.7 535.1,457.3 535.3,458.0 535.6,458.5 535.9,458.3 536.2,458.5 536.5,458.0 536.8,458.5 537.0,457.4 537.3,458.5 537.6,459.4 537.9,458.5 538.2,459.2 538.5,458.1 538.7,457.4 539.0,457.6 539.3,458.8 539.6,458.5 539.9,457.0 540.2,457.8 540.4,458.0 540.7,457.4 541.0,456.6 541.3,457.2 541.6,457.9 541.9,457.8 542.1,457.6 542.4,458.3 542.7,458.6 543.0,457.9 543.3,458.5 543.5,458.0 543.8,457.9 544.1,456.6 544.4,458.5 544.7,458.0 545.0,458.0 545.2,457.7 545.5,457.3 545.8,458.2 546.1,458.4 546.4,458.9 546.7,458.5 546.9,457.6 547.2,457.9 547.5,458.5 547.8,458.1 548.1,457.9 548.4,457.6 548.6,458.2 548.9,458.0 549.2,459.0 549.5,458.6 549.8,456.9 550.1,459.2 550.3,458.1 550.6,457.7 550.9,458.1 551.2,458.3 551.5,457.9 551.7,457.8 552.0,457.9 552.3,458.9 552.6,457.9 552.9,458.3 553.2,458.1 553.4,457.7 553.7,457.4 554.0,457.3 554.3,458.1 554.6,457.3 554.9,457.1 555.1,457.1 555.4,457.0 555.7,457.9 556.0,457.9 556.3,457.3 556.6,458.6 556.8,457.6 557.1,458.1 557.4,458.0 557.7,458.8 558.0,458.3 558.3,457.7 558.5,457.2 558.8,457.1 559.1,457.8 559.4,457.8 559.7,458.2 560.0,457.5 560.2,457.8 560.5,457.3 560.8,456.7 561.1,457.7 561.4,458.5 561.6,458.2 561.9,458.5 562.2,458.3 562.5,456.9 562.8,457.5 563.1,458.5 563.3,457.2 563.6,456.9 563.9,457.8 564.2,458.0 564.5,457.8 564.8,457.4 565.0,457.2 565.3,456.9 565.6,456.9 565.9,456.9 566.2,456.8 566.5,457.2 566.7,458.4 567.0,457.6 567.3,457.3 567.6,457.7 567.9,457.0 568.2,457.7 568.4,458.0 568.7,456.6 569.0,457.1 569.3,457.3 569.6,456.9 569.8,456.8 570.1,457.2 570.4,458.9 570.7,457.8 571.0,457.7 571.3,458.0 571.5,457.3 571.8,456.7 572.1,457.7 572.4,458.0 572.7,456.2 573.0,457.6 573.2,458.1 573.5,457.2 573.8,457.1 574.1,457.7 574.4,456.8 574.7,457.6 574.9,457.8 575.2,457.2 575.5,456.8 575.8,457.6 576.1,457.0 576.4,457.3 576.6,455.6 576.9,457.6 577.2,456.4 577.5,457.2 577.8,457.2 578.0,456.7 578.3,456.6 578.6,456.4 578.9,456.9 579.2,457.5 579.5,457.4 579.7,456.8 580.0,456.8 580.3,456.3 580.6,456.9 580.9,456.5 581.2,456.2 581.4,457.0 581.7,458.0 582.0,457.8 582.3,457.9 582.6,456.1 582.9,457.6 583.1,456.3 583.4,456.7 583.7,456.0 584.0,456.4 584.3,457.1 584.6,457.1 584.8,456.9 585.1,456.9 585.4,457.3 585.7,457.0 586.0,456.0 586.3,457.9 586.5,456.7 586.8,457.4 587.1,456.7 587.4,456.3 587.7,456.8 587.9,456.3 588.2,457.7 588.5,456.1 588.8,457.0 589.1,456.3 589.4,456.5 589.6,458.1 589.9,456.9 590.2,456.3 590.5,455.5 590.8,456.2 591.1,456.1 591.3,457.0 591.6,455.2 591.9,454.9 592.2,455.8 592.5,455.7 592.8,456.3 593.0,454.6 593.3,453.3 593.6,454.1 593.9,453.6 594.2,453.8 594.5,454.6 594.7,453.2 595.0,454.7 595.3,454.2 595.6,453.9 595.9,453.6 596.1,453.8 596.4,453.7 596.7,454.3 597.0,454.4 597.3,453.4 597.6,453.6 597.8,453.7 598.1,453.3 598.4,452.5 598.7,452.9 599.0,452.1 599.3,451.6 599.5,449.9 599.8,448.9 600.1,446.9 600.4,447.7 600.7,445.6 601.0,442.7 601.2,440.8 601.5,437.7 601.8,432.7 602.1,429.2 602.4,424.2 602.7,417.8 602.9,409.5 603.2,401.5 603.5,393.9 603.8,384.8 604.1,375.4 604.4,367.6 604.6,362.0 604.9,356.6 605.2,353.5 605.5,352.9 605.8,350.4 606.0,348.0 606.3,345.9 606.6,343.2 606.9,337.4 607.2,331.5 607.5,325.6 607.7,323.1 608.0,317.0 608.3,318.4 608.6,319.3 608.9,324.3 609.2,332.4 609.4,342.7 609.7,354.5 610.0,365.0 610.3,377.2 610.6,389.1 610.9,396.0 611.1,406.3 611.4,413.6 611.7,422.1 612.0,426.5 612.3,431.3 612.6,435.3 612.8,439.5 613.1,442.8 613.4,444.3 613.7,447.1 614.0,448.2 614.2,448.3 614.5,449.8 614.8,450.1 615.1,450.8 615.4,450.1 615.7,451.0 615.9,452.2 616.2,451.9 616.5,453.4 616.8,453.5 617.1,453.0 617.4,454.6 617.6,454.2 617.9,455.1 618.2,454.5 618.5,453.8 618.8,455.3 619.1,454.9 619.3,455.7 619.6,456.0 619.9,456.2 620.2,454.8 620.5,454.3 620.8,455.6 621.0,456.4 621.3,455.6 621.6,456.3 621.9,455.7 622.2,456.1 622.4,456.2 622.7,456.1 623.0,456.8 623.3,456.8 623.6,457.6 623.9,456.9 624.1,457.6 624.4,456.8 624.7,457.4 625.0,456.8 625.3,456.6 625.6,457.8 625.8,457.4 626.1,457.5 626.4,456.6 626.7,456.0 627.0,456.6 627.3,457.3 627.5,456.3 627.8,458.0 628.1,456.3 628.4,457.5 628.7,458.8 629.0,455.6 629.2,456.2 629.5,457.8 629.8,457.0 630.1,457.3 630.4,457.0 630.7,457.9 630.9,457.4 631.2,456.7 631.5,456.8 631.8,456.1 632.1,456.7 632.3,455.2 632.6,456.7 632.9,455.8 633.2,456.5 633.5,455.2 633.8,452.4 634.0,452.0 634.3,449.0 634.6,446.7 634.9,444.4 635.2,441.5 635.5,440.0 635.7,440.0 636.0,440.9 636.3,443.5 636.6,447.1 636.9,449.9 637.2,451.5 637.4,453.4 637.7,454.0 638.0,454.0 638.3,455.6 638.6,456.6 638.9,456.9 639.1,457.5 639.4,457.7 639.7,457.8 640.0,457.6 640.3,457.7 640.5,457.1 640.8,457.8 641.1,457.7 641.4,458.4 641.7,456.7 642.0,457.4 642.2,456.7 642.5,457.3 642.8,456.9 643.1,458.0 643.4,457.4 643.7,456.3 643.9,458.6 644.2,457.2 644.5,456.9 644.8,457.7 645.1,457.5 645.4,457.2 645.6,458.4 645.9,457.7 646.2,458.5 646.5,458.4 646.8,458.4 647.1,458.1 647.3,458.0 647.6,457.8 647.9,458.9 648.2,456.9 648.5,457.4 648.8,457.6"/>
<path fill="none" stroke="#ee2222" stroke-width="1.1" stroke-linejoin="round" d="M415.4,473.1L415.7,472.9 416.0,472.7 416.3,472.7 416.6,473.6 416.9,472.6 417.1,471.6 417.4,473.7 417.7,472.4 418.0,472.7 418.3,472.9 418.6,472.2 418.8,473.4 419.1,472.8 419.4,472.2 419.7,472.9 420.0,473.0 420.2,472.8 420.5,473.0 420.8,472.1 421.1,473.2 421.4,472.4 421.7,473.4 421.9,472.5 422.2,472.9 422.5,474.0 422.8,472.8 423.1,473.3 423.4,473.0 423.6,472.1 423.9,473.3 424.2,473.3 424.5,472.1 424.8,472.7 425.1,472.1 425.3,472.6 425.6,473.2 425.9,472.8 426.2,472.2 426.5,472.3 426.8,472.8 427.0,472.7 427.3,472.8 427.6,473.0 427.9,471.9 428.2,472.7 428.4,473.2 428.7,472.9 429.0,472.4 429.3,472.4 429.6,472.8 429.9,473.0 430.1,472.7 430.4,473.5 430.7,473.3 431.0,472.3 431.3,472.9 431.6,472.5 431.8,472.1 432.1,472.4 432.4,472.7 432.7,471.7 433.0,472.4 433.3,472.8 433.5,472.3 433.8,472.5 434.1,473.0 434.4,472.6 434.7,472.7 435.0,473.5 435.2,472.7 435.5,472.8 435.8,472.8 436.1,473.4 436.4,472.8 436.7,472.6 436.9,472.6 437.2,473.1 437.5,472.3 437.8,473.1 438.1,472.7 438.3,472.0 438.6,472.9 438.9,472.8 439.2,472.1 439.5,472.7 439.8,472.7 440.0,472.4 440.3,472.0 440.6,473.5 440.9,472.9 441.2,472.9 441.5,473.0 441.7,472.8 442.0,472.8 442.3,472.3 442.6,472.8 442.9,472.3 443.2,472.1 443.4,472.5 443.7,472.1 444.0,471.2 444.3,471.7 444.6,471.9 444.9,471.3 445.1,471.4 445.4,470.5 445.7,469.8 446.0,470.3 446.3,469.7 446.5,469.1 446.8,469.9 447.1,469.8 447.4,470.7 447.7,470.9 448.0,471.2 448.2,470.3 448.5,471.7 448.8,472.0 449.1,472.2 449.4,472.1 449.7,471.8 449.9,472.1 450.2,471.3 450.5,472.2 450.8,471.7 451.1,472.2 451.4,472.0 451.6,473.0 451.9,472.4 452.2,472.4 452.5,472.4 452.8,473.3 453.1,472.0 453.3,472.5 453.6,472.5 453.9,472.5 454.2,472.4 454.5,472.2 454.7,472.9 455.0,472.7 455.3,472.2 455.6,472.3 455.9,472.5 456.2,472.6 456.4,472.7 456.7,472.3 457.0,471.8 457.3,472.8 457.6,471.6 457.9,471.9 458.1,472.5 458.4,472.0 458.7,472.9 459.0,473.0 459.3,472.8 459.6,472.5 459.8,472.4 460.1,472.5 460.4,472.2 460.7,473.2 461.0,472.0 461.3,472.8 461.5,472.5 461.8,472.4 462.1,472.7 462.4,472.8 462.7,472.6 463.0,472.2 463.2,471.9 463.5,471.9 463.8,472.5 464.1,472.4 464.4,472.4 464.6,471.8 464.9,472.9 465.2,471.4 465.5,472.1 465.8,472.2 466.1,471.7 466.3,471.3 466.6,471.5 466.9,470.9 467.2,470.8 467.5,469.6 467.8,468.3 468.0,467.0 468.3,464.1 468.6,462.4 468.9,461.1 469.2,462.0 469.5,463.7 469.7,465.7 470.0,468.7 470.3,469.4 470.6,470.6 470.9,471.3 471.2,472.8 471.4,472.1 471.7,471.9 472.0,472.6 472.3,472.4 472.6,473.6 472.8,472.3 473.1,473.0 473.4,472.4 473.7,473.6 474.0,472.5 474.3,472.8 474.5,472.2 474.8,472.6 475.1,471.7 475.4,469.3 475.7,468.8 476.0,466.6 476.2,464.2 476.5,463.3 476.8,462.8 477.1,464.6 477.4,468.1 477.7,470.7 477.9,471.1 478.2,472.2 478.5,473.0 478.8,473.2 479.1,474.2 479.4,474.0 479.6,474.4 479.9,474.1 480.2,472.2 480.5,471.2 480.8,466.8 481.0,463.2 481.3,458.4 481.6,454.5 481.9,455.4 482.2,460.8 482.5,466.8 482.7,470.2 483.0,472.3 483.3,474.6 483.6,475.6 483.9,475.2 484.2,475.9 484.4,476.7 484.7,476.6 485.0,476.5 485.3,475.7 485.6,475.4 485.9,474.6 486.1,474.4 486.4,475.0 486.7,473.6 487.0,472.8 487.3,472.2 487.6,471.0 487.8,470.6 488.1,469.4 488.4,467.0 488.7,466.6 489.0,466.7 489.3,466.1 489.5,468.3 489.8,469.5 490.1,471.1 490.4,471.8 490.7,472.1 490.9,471.9 491.2,471.6 491.5,472.5 491.8,470.6 492.1,470.4 492.4,468.4 492.6,464.4 492.9,460.1 493.2,455.4 493.5,449.9 493.8,451.1 494.1,454.6 494.3,459.9 494.6,464.0 494.9,468.1 495.2,469.4 495.5,471.2 495.8,470.9 496.0,472.0 496.3,472.0 496.6,471.2 496.9,471.9 497.2,472.0 497.5,471.0 497.7,471.7 498.0,472.0 498.3,470.9 498.6,471.2 498.9,469.3 499.1,468.2 499.4,468.0 499.7,467.6 500.0,467.5 500.3,468.4 500.6,469.9 500.8,470.1 501.1,471.8 501.4,471.4 501.7,471.4 502.0,471.0 502.3,470.1 502.5,469.2 502.8,465.4 503.1,460.6 503.4,453.5 503.7,445.4 504.0,439.0 504.2,438.4 504.5,445.7 504.8,454.0 505.1,461.2 505.4,466.6 505.7,469.6 505.9,472.3 506.2,473.8 506.5,473.5 506.8,474.3 507.1,474.4 507.4,475.2 507.6,475.0 507.9,475.4 508.2,475.2 508.5,475.1 508.8,475.0 509.0,474.8 509.3,474.6 509.6,474.0 509.9,474.4 510.2,473.1 510.5,473.7 510.7,472.9 511.0,473.1 511.3,472.9 511.6,471.6 511.9,472.6 512.2,473.1 512.4,472.8 512.7,472.6 513.0,471.5 513.3,472.3 513.6,471.9 513.9,472.7 514.1,472.0 514.4,471.7 514.7,471.1 515.0,472.0 515.3,471.1 515.6,470.8 515.8,470.6 516.1,468.8 516.4,466.3 516.7,463.0 517.0,455.6 517.2,448.7 517.5,443.9 517.8,444.3 518.1,448.3 518.4,455.8 518.7,461.5 518.9,465.6 519.2,469.0 519.5,469.8 519.8,471.1 520.1,471.4 520.4,471.7 520.6,471.9 520.9,471.6 521.2,472.1 521.5,472.4 521.8,472.5 522.1,472.3 522.3,472.9 522.6,472.8 522.9,472.6 523.2,472.9 523.5,472.7 523.8,472.9 524.0,471.8 524.3,472.1 524.6,472.5 524.9,472.7 525.2,471.8 525.4,472.6 525.7,472.8 526.0,472.6 526.3,472.6 526.6,472.2 526.9,472.8 527.1,471.9 527.4,473.2 527.7,472.5 528.0,473.2 528.3,472.0 528.6,473.0 528.8,472.8 529.1,472.4 529.4,472.3 529.7,473.3 530.0,473.0 530.3,473.4 530.5,472.8 530.8,472.9 531.1,473.0 531.4,473.1 531.7,473.0 532.0,473.2 532.2,472.6 532.5,472.2 532.8,473.7 533.1,472.9 533.4,473.0 533.7,472.6 533.9,473.2 534.2,472.9 534.5,473.3 534.8,472.5 535.1,472.8 535.3,472.9 535.6,472.7 535.9,472.9 536.2,473.5 536.5,472.6 536.8,472.7 537.0,472.9 537.3,472.4 537.6,472.3 537.9,473.3 538.2,473.2 538.5,472.1 538.7,472.2 539.0,473.1 539.3,473.3 539.6,473.1 539.9,473.0 540.2,473.5 540.4,472.8 540.7,473.4 541.0,473.3 541.3,472.4 541.6,473.1 541.9,472.8 542.1,472.5 542.4,472.4 542.7,472.9 543.0,472.8 543.3,473.1 543.5,472.0 543.8,472.5 544.1,473.3 544.4,472.8 544.7,472.5 545.0,472.6 545.2,472.0 545.5,472.2 545.8,473.0 546.1,472.8 546.4,473.3 546.7,472.7 546.9,472.7 547.2,471.6 547.5,472.7 547.8,473.7 548.1,473.0 548.4,472.7 548.6,473.3 548.9,473.1 549.2,472.9 549.5,472.6 549.8,472.8 550.1,473.1 550.3,472.4 550.6,473.0 550.9,472.9 551.2,473.3 551.5,473.1 551.7,472.4 552.0,473.4 552.3,472.7 552.6,472.4 552.9,472.9 553.2,472.6 553.4,473.2 553.7,472.1 554.0,472.2 554.3,472.6 554.6,473.5 554.9,473.2 555.1,472.3 555.4,471.9 555.7,472.6 556.0,472.1 556.3,472.9 556.6,472.8 556.8,472.7 557.1,472.5 557.4,473.3 557.7,472.3 558.0,472.1 558.3,473.2 558.5,473.3 558.8,472.5 559.1,472.9 559.4,473.7 559.7,472.3 560.0,472.6 560.2,472.8 560.5,471.7 560.8,472.6 561.1,473.0 561.4,472.6 561.6,473.1 561.9,473.0 562.2,472.4 562.5,472.9 562.8,472.8 563.1,471.9 563.3,472.2 563.6,472.2 563.9,472.4 564.2,472.4 564.5,471.9 564.8,472.6 565.0,471.8 565.3,473.0 565.6,472.7 565.9,473.2 566.2,472.7 566.5,472.3 566.7,471.9 567.0,472.8 567.3,472.5 567.6,472.7 567.9,472.9 568.2,473.1 568.4,472.5 568.7,473.3 569.0,472.5 569.3,472.5 569.6,472.8 569.8,472.9 570.1,473.1 570.4,471.7 570.7,473.1 571.0,471.8 571.3,472.2 571.5,472.6 571.8,473.0 572.1,472.0 572.4,471.7 572.7,472.9 573.0,472.6 573.2,472.0 573.5,472.3 573.8,471.5 574.1,472.7 574.4,472.2 574.7,472.9 574.9,471.5 575.2,472.7 575.5,473.3 575.8,472.4 576.1,472.4 576.4,471.5 576.6,472.5 576.9,472.3 577.2,472.1 577.5,471.6 577.8,472.3 578.0,471.8 578.3,472.1 578.6,472.4 578.9,472.2 579.2,472.2 579.5,472.6 579.7,471.7 580.0,472.8 580.3,471.7 580.6,471.8 580.9,472.2 581.2,472.5 581.4,472.3 581.7,471.9 582.0,471.8 582.3,472.0 582.6,471.7 582.9,472.3 583.1,472.0 583.4,472.8 583.7,471.7 584.0,472.0 584.3,472.2 584.6,471.5 584.8,471.7 585.1,473.2 585.4,471.9 585.7,472.5 586.0,471.4 586.3,470.8 586.5,472.1 586.8,471.8 587.1,471.9 587.4,471.6 587.7,471.5 587.9,471.1 588.2,472.1 588.5,470.9 588.8,472.0 589.1,471.4 589.4,471.0 589.6,471.2 589.9,471.9 590.2,471.7 590.5,471.6 590.8,471.3 591.1,470.7 591.3,471.8 591.6,470.9 591.9,470.8 592.2,470.7 592.5,470.7 592.8,470.1 593.0,470.4 593.3,470.0 593.6,469.8 593.9,468.9 594.2,470.0 594.5,468.1 594.7,468.2 595.0,467.8 595.3,468.0 595.6,468.6 595.9,468.2 596.1,468.7 596.4,468.4 596.7,469.4 597.0,468.2 597.3,468.7 597.6,468.8 597.8,468.8 598.1,468.6 598.4,468.5 598.7,468.0 599.0,467.4 599.3,467.1 599.5,467.2 599.8,466.2 600.1,465.9 600.4,464.8 600.7,463.3 601.0,462.9 601.2,462.0 601.5,461.0 601.8,458.8 602.1,456.2 602.4,451.4 602.7,447.3 602.9,440.9 603.2,433.7 603.5,424.5 603.8,413.7 604.1,403.6 604.4,392.3 604.6,382.3 604.9,373.5 605.2,369.4 605.5,367.3 605.8,367.0 606.0,366.9 606.3,365.1 606.6,361.7 606.9,358.9 607.2,352.1 607.5,345.7 607.7,339.8 608.0,334.5 608.3,332.4 608.6,334.3 608.9,338.8 609.2,349.4 609.4,359.8 609.7,372.3 610.0,385.6 610.3,397.7 610.6,408.9 610.9,419.5 611.1,428.4 611.4,435.9 611.7,443.4 612.0,447.1 612.3,450.8 612.6,454.7 612.8,457.2 613.1,460.3 613.4,461.3 613.7,462.9 614.0,463.8 614.2,463.9 614.5,465.4 614.8,465.7 615.1,467.0 615.4,466.7 615.7,467.0 615.9,467.7 616.2,468.1 616.5,467.2 616.8,468.8 617.1,469.0 617.4,469.1 617.6,468.4 617.9,468.2 618.2,469.2 618.5,469.8 618.8,469.8 619.1,469.3 619.3,470.3 619.6,469.4 619.9,469.5 620.2,470.2 620.5,470.0 620.8,470.1 621.0,469.8 621.3,471.0 621.6,470.1 621.9,470.9 622.2,471.1 622.4,470.8 622.7,471.0 623.0,471.4 623.3,471.7 623.6,471.4 623.9,470.4 624.1,470.2 624.4,470.8 624.7,470.6 625.0,471.4 625.3,471.3 625.6,471.1 625.8,471.8 626.1,471.7 626.4,471.3 626.7,471.5 627.0,471.8 627.3,471.2 627.5,471.5 627.8,470.9 628.1,471.4 628.4,471.5 628.7,471.4 629.0,471.5 629.2,471.7 629.5,471.6 629.8,471.0 630.1,471.1 630.4,470.8 630.7,472.0 630.9,471.4 631.2,471.4 631.5,471.1 631.8,471.3 632.1,471.2 632.3,470.5 632.6,470.5 632.9,470.8 633.2,469.3 633.5,468.6 633.8,468.2 634.0,465.7 634.3,463.9 634.6,459.9 634.9,456.8 635.2,453.5 635.5,451.0 635.7,451.2 636.0,453.1 636.3,456.6 636.6,460.4 636.9,463.9 637.2,467.8 637.4,468.0 637.7,470.0 638.0,469.9 638.3,470.0 638.6,470.6 638.9,471.2 639.1,471.2 639.4,471.3 639.7,471.6 640.0,471.7 640.3,471.9 640.5,471.1 640.8,471.6 641.1,471.3 641.4,471.8 641.7,471.7 642.0,471.9 642.2,471.6 642.5,471.5 642.8,471.8 643.1,472.2 643.4,472.2 643.7,471.2 643.9,472.1 644.2,472.1 644.5,471.3 644.8,471.5 645.1,471.7 645.4,472.2 645.6,471.0 645.9,471.8 646.2,471.8 646.5,472.1 646.8,472.6 647.1,472.6 647.3,471.9 647.6,471.9 647.9,472.2 648.2,472.6 648.5,472.7 648.8,472.2"/>
<rect x="487.4" y="383.2" width="94.1" height="39.4" fill="#fff" stroke="#a0a0a0" stroke-width="0.9"/>
<path d="M489.3,393.4H523.7" stroke="#33f0f0" stroke-width="1.3"/><path d="M489.3,412.3H523.7" stroke="#ee2222" stroke-width="1.3"/>
<text x="528.2" y="398.5" font-size="15">Sample</text><text x="528.2" y="417.3" font-size="15">PA</text>
<text x="489.9" y="374.7" font-size="16.3" textLength="89.3" lengthAdjust="spacingAndGlyphs">Pre-Treated</text>
<text x="421.4" y="425.8" font-size="17.3" textLength="28" lengthAdjust="spacingAndGlyphs">TiO</text><text x="450.6" y="430.9" font-size="12">2</text>
<path fill="none" stroke="#ff0000" stroke-width="3.8" d="M360.9,129.9 359.6,130.3 358.3,130.8 357.2,131.3 356.1,131.8 355.1,132.4 354.2,132.9 353.3,133.5 352.6,134.1 352.0,134.7 351.4,135.3 351.0,135.9 350.6,136.5 350.4,137.1 350.2,137.8 350.2,138.4M372.4,127.2 374.1,127.0 375.9,126.8 377.6,126.6 379.4,126.4 381.2,126.3 383.0,126.2 384.8,126.2 386.7,126.1M395.4,126.3 397.2,126.4 398.9,126.6 400.7,126.8 402.4,127.0 404.0,127.2 405.7,127.4 407.2,127.7 408.8,128.0M418.9,131.0 420.0,131.5 421.1,132.0 422.1,132.6 423.0,133.2 423.7,133.7 424.4,134.3 425.1,134.9 425.6,135.5 426.0,136.2 426.3,136.8 426.5,137.4 426.6,138.1 426.6,138.7 426.5,139.3 426.3,140.0 426.0,140.6 425.6,141.2 425.1,141.8M414.6,147.4 413.3,147.7 411.9,148.1 410.4,148.4 408.9,148.8 407.4,149.1 405.8,149.3 404.2,149.6 402.6,149.8M395.4,150.5 393.6,150.6 391.8,150.7 389.9,150.7 388.0,150.7 386.2,150.7 384.3,150.6 382.5,150.6 380.7,150.4 378.9,150.3M368.1,148.8 366.4,148.5 364.8,148.1 363.3,147.7 361.8,147.2 360.4,146.8 359.1,146.3 357.9,145.8 356.7,145.3 355.7,144.7 354.7,144.2"/>
<path fill="none" stroke="#ff0000" stroke-width="3.8" d="M497.5,203.6 496.9,203.5 496.4,203.5 495.9,203.6 495.3,203.8 494.8,204.1 494.2,204.5 493.7,205.0 493.2,205.5 492.7,206.2 492.2,206.9 491.7,207.7 491.2,208.6 490.8,209.6 490.3,210.6 489.9,211.7M503.5,211.2 503.9,212.3 504.3,213.5 504.6,214.7 505.0,216.0 505.3,217.4 505.6,218.7 505.9,220.2 506.1,221.6 506.4,223.2 506.6,224.7M487.0,224.8 486.8,226.3 486.7,227.9 486.5,229.5 486.4,231.1 486.3,232.7 486.3,234.4 486.2,236.0 486.2,237.7 486.2,239.3 486.2,241.0M507.4,236.4 507.4,238.0 507.4,239.6 507.4,241.3 507.3,242.9 507.2,244.5 507.1,246.1 507.0,247.7 506.8,249.3M487.3,253.0 487.5,254.6 487.8,256.1 488.1,257.6 488.4,259.0 488.7,260.4 489.1,261.7 489.5,263.0 489.9,264.2 490.3,265.3 490.8,266.4M505.1,259.3 504.8,260.7 504.4,262.0 504.0,263.2 503.7,264.3 503.2,265.4 502.8,266.4 502.4,267.4 501.9,268.3 501.4,269.0 500.9,269.8 500.4,270.4 499.9,271.0 499.4,271.4"/>
<defs><linearGradient id="ag" gradientUnits="userSpaceOnUse" x1="350.70" y1="270.49" x2="344.93" y2="279.96"><stop offset="0" stop-color="#52e2e2"/><stop offset="0.5" stop-color="#b4b0b0"/><stop offset="1" stop-color="#f24a4a"/></linearGradient></defs>
<path fill="url(#ag)" fill-opacity="0.9" d="M270.0,222.9 L417.5,326.8 L416.0,328.9 L424.7,328.7 L422.0,320.4 L420.5,322.5 L273.0,218.7Z"/>
<g font-size="44" font-weight="bold">
<text x="-1.2" y="33.6">a</text><text transform="translate(338.3,32.8) scale(0.83,1)">b</text><text transform="translate(-0.2,307.3) scale(0.8,1)">c</text><text x="358.6" y="307.2">d</text>
</g>
</svg></body></html>
